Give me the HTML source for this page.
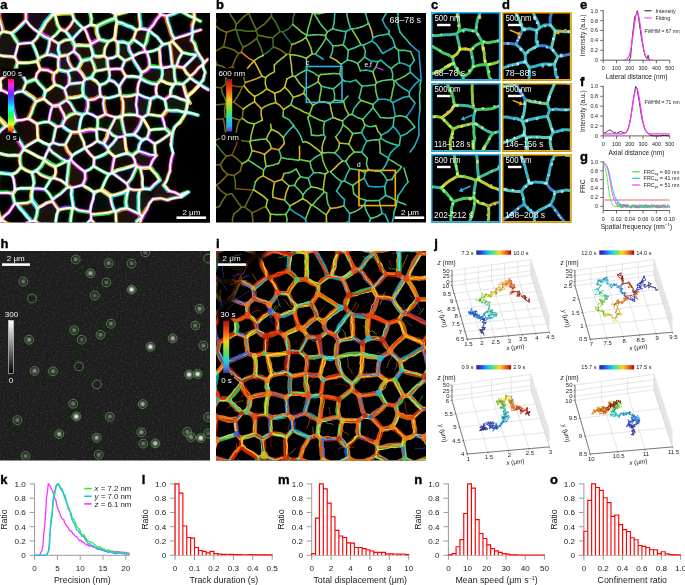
<!DOCTYPE html>
<html><head><meta charset="utf-8"><style>
html,body{margin:0;padding:0;background:#fff;}
svg{display:block;font-family:"Liberation Sans", sans-serif;will-change:transform;}
</style></head><body>
<svg width="685" height="585" viewBox="0 0 685 585">
<rect x="0" y="0" width="685" height="585" fill="#fff"/>
<defs>
<filter id="blur05" x="-10%" y="-10%" width="120%" height="120%"><feGaussianBlur stdDeviation="0.5"/></filter>
<filter id="blur04" x="-10%" y="-10%" width="120%" height="120%"><feGaussianBlur stdDeviation="0.4"/></filter>
<filter id="blur06" x="-50%" y="-50%" width="200%" height="200%"><feGaussianBlur stdDeviation="0.7"/></filter>
<filter id="blur2" x="-10%" y="-10%" width="120%" height="120%"><feGaussianBlur stdDeviation="2.0"/></filter>
<filter id="blur1" x="-10%" y="-10%" width="120%" height="120%"><feGaussianBlur stdDeviation="1.2"/></filter>
<filter id="noise" x="0" y="0" width="100%" height="100%"><feTurbulence type="fractalNoise" baseFrequency="0.55" numOctaves="1" seed="3"/><feColorMatrix type="matrix" values="0 0 0 0 1  0 0 0 0 1  0 0 0 0 1  1.2 0 0 0 -0.55"/></filter>
</defs>
<clipPath id="cpa"><rect x="0" y="13" width="210" height="209.5"/></clipPath>
<rect x="0.00" y="13.00" width="210.00" height="209.50" fill="#000" stroke="none" stroke-width="1" />
<g clip-path="url(#cpa)">
<g filter="url(#blur2)"><path d="M27.8,19.9 L39.5,30.8 L51.6,14.1 L50.7,12.8 L36.9,6.8 L27.8,13.3Z" fill="#301830" opacity="0.55"/><path d="M50.4,37.4 L41.5,32.3 L41.5,32.2 L53.6,15.6 L54.4,16.0 L59.2,29.2 L51.0,37.3Z" fill="#3a2010" opacity="0.44"/><path d="M13.4,55.3 L-1.4,53.3 L-0.7,36.7 L3.2,33.7 L10.6,35.3 L16.4,44.4Z" fill="#2a2a10" opacity="0.49"/><path d="M57.9,56.4 L47.7,53.9 L50.6,40.4 L51.2,40.4 L58.0,44.5 L59.2,55.3Z" fill="#3a2010" opacity="0.59"/><path d="M66.9,54.1 L72.3,50.7 L73.5,45.9 L71.0,40.9 L70.5,40.6 L59.6,44.3 L60.8,55.1Z" fill="#2a2a10" opacity="0.54"/><path d="M15.6,63.0 L14.2,67.6 L0.7,77.4 L-6.1,70.8 L-3.6,57.4 L-1.8,56.0 L13.0,58.0Z" fill="#2a2a10" opacity="0.40"/><path d="M67.6,70.4 L59.9,68.6 L59.9,58.5 L61.1,57.4 L67.2,56.5 L72.0,68.4Z" fill="#3a2010" opacity="0.53"/><path d="M67.1,72.7 L68.3,83.1 L64.4,87.5 L56.1,83.8 L55.5,74.2 L59.4,70.9Z" fill="#301830" opacity="0.36"/><path d="M24.7,82.0 L16.0,70.1 L2.5,79.9 L3.1,88.6 L12.1,93.2 L21.6,89.7Z" fill="#3a2010" opacity="0.36"/><path d="M66.5,30.8 L73.8,20.8 L81.3,28.3 L72.2,38.0 L71.7,37.8Z" fill="#3a2010" opacity="0.55"/><path d="M81.9,59.7 L75.0,51.4 L76.3,46.6 L89.2,46.6 L91.6,55.0 L89.8,57.9Z" fill="#3a2010" opacity="0.44"/><path d="M107.0,42.5 L103.5,54.3 L94.1,54.3 L91.7,45.9 L92.5,44.5 L99.7,40.5Z" fill="#3a2010" opacity="0.53"/><path d="M127.9,45.1 L118.7,43.7 L118.7,54.7 L124.7,59.3 L131.1,56.6 L131.7,55.5Z" fill="#3a2010" opacity="0.43"/><path d="M90.7,76.5 L85.3,77.7 L78.9,68.9 L82.4,62.1 L90.3,60.2 L94.0,70.5Z" fill="#3a2010" opacity="0.58"/><path d="M106.9,67.8 L106.3,59.5 L103.5,56.7 L94.1,56.7 L92.3,59.5 L95.9,69.8Z" fill="#3a2010" opacity="0.55"/><path d="M68.6,72.5 L69.8,82.9 L81.7,81.6 L83.3,79.2 L76.9,70.4 L73.0,70.5Z" fill="#301830" opacity="0.44"/><path d="M134.5,39.6 L137.0,31.7 L140.3,30.5 L147.6,31.6 L147.6,31.7 L143.5,45.9Z" fill="#3a2010" opacity="0.45"/><path d="M174.6,42.1 L183.0,51.6 L194.6,53.7 L202.6,51.8 L201.5,36.6 L198.7,32.3 L176.0,39.9Z" fill="#3a2010" opacity="0.41"/><path d="M173.0,43.6 L181.4,53.1 L176.5,64.6 L174.5,65.1 L172.8,64.6 L170.4,45.1Z" fill="#3a2010" opacity="0.60"/><path d="M142.2,77.1 L143.5,73.0 L150.3,67.9 L160.1,68.6 L160.8,69.1 L160.0,79.5 L156.2,82.8 L142.6,78.1Z" fill="#3a2010" opacity="0.44"/><path d="M184.7,67.6 L195.3,56.8 L203.4,54.9 L204.5,56.5 L205.0,60.5 L190.4,74.9Z" fill="#3a2010" opacity="0.39"/><path d="M162.5,79.7 L172.8,83.6 L175.2,82.4 L173.6,68.1 L171.9,67.6 L163.3,69.2Z" fill="#3a2010" opacity="0.55"/><path d="M63.3,89.9 L65.8,97.6 L65.0,99.4 L58.7,103.5 L53.2,104.1 L45.5,98.1 L47.3,91.8 L55.0,86.2Z" fill="#3a2010" opacity="0.44"/><path d="M53.6,107.1 L50.4,120.9 L56.7,125.0 L61.7,124.2 L64.2,118.5 L59.1,106.5Z" fill="#3a2010" opacity="0.30"/><path d="M66.6,101.9 L74.4,112.9 L65.4,117.9 L60.3,106.0Z" fill="#3a2010" opacity="0.58"/><path d="M17.7,122.6 L13.6,126.6 L24.6,146.2 L36.7,138.7 L35.8,125.4 L28.7,120.9Z" fill="#3a2010" opacity="0.42"/><path d="M18.3,153.9 L-0.5,151.3 L-1.3,150.1 L-1.0,136.4 L6.7,128.9 L10.7,128.2 L21.7,147.8 L21.6,148.7Z" fill="#2a2a10" opacity="0.38"/><path d="M50.8,148.9 L50.9,146.0 L53.8,143.9 L64.5,145.7 L70.2,155.1 L69.0,158.5 L67.8,159.3 L65.4,159.6Z" fill="#3a2010" opacity="0.35"/><path d="M66.1,89.0 L68.6,96.7 L81.9,94.6 L81.9,83.4 L70.0,84.6Z" fill="#3a2010" opacity="0.59"/><path d="M91.4,79.6 L86.0,80.9 L84.4,83.4 L84.4,94.6 L88.5,98.5 L99.1,94.9 L98.4,85.7Z" fill="#301830" opacity="0.45"/><path d="M136.5,113.7 L136.5,95.7 L123.1,97.4 L124.1,113.7Z" fill="#0c2a18" opacity="0.55"/><path d="M77.9,130.2 L81.0,116.0 L75.2,114.4 L66.3,119.4 L63.8,125.1 L72.0,130.5Z" fill="#3a2010" opacity="0.49"/><path d="M98.8,128.1 L98.8,118.9 L105.4,115.8 L114.2,118.5 L108.3,130.2 L108.3,130.2Z" fill="#0c2a18" opacity="0.44"/><path d="M123.1,135.3 L117.1,136.2 L109.8,130.9 L115.6,119.3 L120.5,118.5 L123.9,134.2Z" fill="#2a2a10" opacity="0.48"/><path d="M126.4,133.7 L123.0,118.0 L124.1,116.9 L136.5,116.9 L140.9,119.0 L133.8,133.1Z" fill="#3a2010" opacity="0.31"/><path d="M78.3,133.5 L83.2,147.1 L72.3,153.9 L66.6,144.4 L72.2,133.7 L78.1,133.4Z" fill="#2a2a10" opacity="0.33"/><path d="M109.9,150.4 L109.4,147.9 L117.4,138.5 L123.5,137.6 L125.7,152.0 L115.2,155.2Z" fill="#2a2a10" opacity="0.59"/><path d="M138.1,113.7 L142.4,115.7 L142.6,115.7 L147.3,112.8 L149.5,99.7 L138.5,95.4 L138.1,95.7Z" fill="#2a2a10" opacity="0.55"/><path d="M194.2,113.1 L194.9,110.9 L187.1,102.4 L171.0,97.0 L166.2,100.2 L167.9,109.0Z" fill="#0c2a18" opacity="0.56"/><path d="M51.7,203.0 L56.8,210.3 L54.3,223.4 L40.6,222.6 L36.8,219.5 L39.1,208.9Z" fill="#3a2010" opacity="0.50"/><path d="M31.2,201.8 L18.1,204.4 L30.4,219.2 L33.5,218.8 L35.9,208.1Z" fill="#2a2a10" opacity="0.41"/><path d="M67.7,182.9 L69.1,184.8 L72.1,185.8 L81.3,183.2 L83.2,171.9 L71.0,161.8 L69.8,162.6Z" fill="#3a2010" opacity="0.57"/><path d="M113.7,171.6 L113.9,171.7 L133.8,165.0 L131.0,156.9 L126.6,155.0 L116.1,158.1Z" fill="#3a2010" opacity="0.31"/><path d="M101.7,192.2 L109.1,197.2 L112.7,209.8 L93.1,212.8 L92.1,210.7 L95.6,194.1Z" fill="#0c2a18" opacity="0.35"/><path d="M129.6,190.6 L129.3,191.0 L128.0,207.1 L138.9,212.2 L138.9,191.6Z" fill="#3a2010" opacity="0.45"/><path d="M117.9,224.5 L133.4,225.9 L139.8,217.1 L137.7,214.9 L126.7,209.8 L117.2,212.7Z" fill="#3a2010" opacity="0.51"/><path d="M139.3,151.9 L154.0,155.4 L154.3,156.0 L149.1,165.7 L140.9,166.2 L137.8,165.0 L136.9,163.9 L134.2,155.8Z" fill="#3a2010" opacity="0.44"/><path d="M151.4,189.8 L160.7,211.3 L174.9,208.9 L187.2,202.2 L188.9,190.0 L187.1,181.1 L187.0,180.9 L159.8,182.1Z" fill="#3a2010" opacity="0.52"/><path d="M143.3,190.6 L148.9,190.9 L158.2,212.4 L155.5,214.2 L142.6,214.4 L140.5,212.2 L140.5,191.6Z" fill="#2a2a10" opacity="0.42"/></g>
<path d="M193.00,-20.00 L194.00,13.00 L192.60,25.00 L191.50,40.00 L196.00,49.00 L203.40,61.00 L205.00,72.00 L203.00,80.00 L198.60,86.00 L188.00,96.00 L185.50,113.00 L179.50,122.50 L172.30,133.30 L171.00,145.00 L173.00,153.00 L170.00,171.00 L164.00,185.00 L169.00,191.00 L180.00,195.00 L188.00,192.00 L181.00,197.00 L167.50,200.00 L153.00,199.00 L147.00,209.00 L140.00,223.00 L138.00,250.00 L260.00,250.00 L260.00,-20.00 L193.00,-20.00" stroke="none" stroke-width="0" fill="#000" />
<g fill="none" stroke-linecap="round" stroke-linejoin="round" stroke-width="5" opacity="0.25" filter="url(#blur2)"><path stroke="#30a040" d="M179.5 10.7l5.3 2.6 5.1 2.9 5.5 2.3 5.2 2.8M-41.5 475.5l1.3 -4.9 0.6 -5.1 0.9 -5 0.5 -5.1 0.8 -5 1.4 -4.9 0.5 -5.1 1 -5 0.9 -4.9 0.8 -5.1 1.2 -4.9 0.9 -5 1.3 -5 0.6 -5 1 -5 0.7 -5 1.1 -5 0.6 -5.1 0.8 -5 1.5 -4.9 0.8 -5 0.8 -5 0.7 -5.1 0.5 -5 0.8 -5.1 0.8 -5 0.7 -5 1.4 -4.9 0.5 -5.1 1.3 -4.9 0.4 -5.1 1.3 -5 0.7 -5 0 -5.1 1 -5 1.5 -4.9 0.4 -5.1 1.2 -5 0.3 -5.1 0.5 -5.1 1.2 -4.9 0.9 -5 0.4 -5.1 0.6 -5.1 1 -4.9 1.3 -5 0.6 -5 0.2 -5.1 0.9 -5.1 0.6 -5 1.1 -5M1.3 219.8l-0.2 -0.2M115.6 211.6l0.4 7 0.4 6.9M0.8 219.4l-1.9 -4.8 -1.1 -5 -1.4 -4.9 -1.8 -4.8 -2.2 -4.6M94.1 5.1l5.5 1.8 5.1 2.9 5.5 1.7 5.1 2.6M-3.4 11l1.7 1.3M190.2 76.3l-4 -3.8 -2.7 -4.8M80.9 228.1l-4.9 -2.6 -5.5 -1.3M70.5 224.2l0.4 -5.6 0.9 -5.5 1 -5.5M73.2 207.3l-0.4 0.3M114.4 210.8l1.2 0.8M69.3 -34.4l-1.9 5.1 -1.1 5.4 -1.8 5.1 -1.4 5.3 -1.9 5.1 -2.1 5 -2 5.1 -2.3 5 -2.1 5M2.8 31.4l8.6 1.9M-4.2 171l2.3 2.1M-4.3 192.4l0.8 -6.4 1.5 -6.4 0.1 -6.5M-7.7 112.1l4.5 4.8 4.8 4.4 4.6 4.8M190.2 76.3l0 1.6M176.6 66.1l-2.3 0.6M182.8 84.4l-6.7 -1M58.4 209.8l-1.8 5 -0.7 5.2 -0.5 5.3M179.5 10.7l-6.3 3 -6.7 2.2M166.5 15.9l1.2 5.9 2 5.7 1.7 5.8 2.7 5.5M157 8.7l4 5.7M169.4 43.1l3.1 -1.7M115.7 14.7l5.1 -1.4 5.2 -1.3 4.9 -2.3 4.8 -2.3M138.1 8.8l0.8 4.9 0.4 5 0.7 5 0.2 5M74 19.4l4.3 4.5 4.6 4.4M72.2 39.7l-0.6 -0.3M65.5 31.2l-5.1 -1.9M10.9 125.2l2.1 4.9 2.7 4.5 2.5 4.7 2.9 4.4 2.7 4.5M10.9 125.2l4.9 -4.7M173.3 84.9l-2.7 5.2 -0.3 5.8M164.7 99.7l1.1 5.1 0.9 5.3M156 155.6l-0.4 -0.6M126.8 208.2l-0.8 -6.4 0.8 -6.3 1.6 -6.2M114.4 210.8l-2.2 -4.8 -1.3 -4.9 -0.8 -5.2M149.8 167.1l-9.6 0.6M128.4 189.3l0.4 -0.5M162.1 68l0.3 6.2 -1.2 6.1M141.8 72.6l-1.6 4.8M173.3 84.9l-6.3 -1.6 -5.8 -3M137.8 93.8l-0.2 -5.3 1 -5 2.2 -4.9M143.9 46.9l1.4 4.7M117.8 42.4l5.6 -0.3 5.2 2M117.8 42.4l0.4 6.4 -0.4 6.5M146.9 52.3l-1.6 -0.7M132.4 57.5l3 5.1 3.2 5 3.2 5M148.7 30.1l-1.2 5.7 -1.2 5.7 -2.4 5.4M140.2 28.7l-3.9 1.4M93.1 55.5l-1.1 -5 -1.7 -4.9M115.7 14.7l-0.3 3.4M107.4 58.8l-3.3 -3.3M75.1 45.6l-1.5 5.6M148.2 114.2l6.9 1.1 6.9 0.9M142.6 117.7l3.7 6.2 3.4 6.3M149.7 130.2l5.2 -1 5.2 -0.2 5.2 -0.4M150.7 98.8l-0.6 5.2 -1.1 5.1 -0.8 5.1M122.7 115.3l7.3 -0.6 7.3 0.6M37 123.8l5.9 -1.5 6 -0.5M52.7 142.6l1.2 -5.3 1.1 -5.3 1.3 -5.3M48.9 121.8l7.4 4.9M73.2 207.3l-0.9 -6.4 -1.1 -6.4 0.6 -6.5M110.1 195.9l-4.3 -3 -4.4 -2.8M121.4 116.5l1.3 -1.2M105.4 114.2l-7.9 3.7M60.4 29.3l-4.3 5.3 -5.4 4.3M39.5 33l5 3.5 5.5 2.4M50.7 38.9l-0.7 0M11.5 95.4l5.2 -3.2 6 -1.1M16.1 68.2l4 4.2 3.7 4.5 2.6 5.2M22.7 91.1l3.7 -9M12 174.6l5.1 -2.8 3.8 -4.5M15 189.6l5.8 -1.4 6 0.2 5.9 -0.3M-2.2 152.4l5.3 1.9 5.5 1.1 5.6 -0.2 5.6 0.3M32.7 188.1l0.2 0.2M16.7 203.8l5.2 -0.6 5.2 -0.4 4.9 -2.1M34.8 220.7l1.9 -6.2 0.9 -6.3M71.8 188l-3.5 -1.2M52.6 199.7l-3.4 -5.7 -4.4 -4.9M82.7 185l2.5 -6.5 -0.3 -6.9M132.3 155.5l6 -4.6M134.1 134.4l-8.7 0.6M142.4 117.7l-1.7 6.1 -2.9 5.5 -3.7 5.1M107.9 148.3l5.1 -5.2 4.3 -5.7M97.5 117.9l0.2 5.3 -0.2 5.4M96.4 130.2l-5.9 -0.9 -5.7 1.1 -5.7 1.5M75.7 113.1l-5.8 2.1 -4.7 3.8M62.3 125.7l2.9 -6.7M86.5 112.7l-4 2.4M94.1 158.1l-0.5 8M114.8 156.9l-1.3 5.2 -0.9 5.3 -0.6 5.4M112 172.8l-3.2 1.5M85.3 148l4 5.4 4.8 4.7M112.2 172.9l-0.2 -0.1M119.1 86.8l3.2 -5.3 3.6 -5.1M99.7 85.1l5.1 -1.8 4.4 -3.3M95.2 70.9l6.6 -0.9 6.4 -1.4M83.1 95.6l-0.7 -6.6 0.8 -6.6M17.7 62.7l6.5 0.3 6.5 -0.4 6.5 -1.1M40.3 69.5l-3.1 -8M66.4 161l-4.8 -2.5 -4.3 -3.1 -4.4 -2.9 -3.7 -4M67.5 98.1l-3 -9.1M58.6 57.7l-0.3 5.9 0.3 5.9M72.9 69.3l-5.2 2.3M69.2 83.8l0.4 -6.2 -1.9 -6M44.3 159l0.1 0.9M193 -20l0.2 5.5 0.1 5.5 0.4 5.5 0.3 5.5 0.1 5.5 -0.1 5.5M185.5 113l-2.9 4.8 -3.1 4.7M167.5 200l-7.2 -1.8 -7.3 0.8"/><path stroke="#a04010" d="M159.5 180l-5.2 4.3 -4.7 4.8M18.1 227.7l-5.8 -2.2 -5.8 -2.1 -5.2 -3.6M-259.4 238.6l4.9 -0.7 5.1 0.5 5 -1.1 5 -0.3 5 0.1 5 -0.7 5 -0.4 5 -0.5 5 -0.4 5 0.1 5 -0.6 5 -0.1 5 -0.5 5 -0.3 5.1 0.1 4.9 -0.8 5 -0.3 5.1 -0.1 4.9 -0.9 5 -0.4 5.1 0.3 5 -0.5 5 -0.8 5 -0.5 5 0.2 5 -0.2 5 -1.1 5 0.3 5 -0.4 5 -0.6 5 -0.6 5 -0.6 5 -0.5 5 0.5 5 -1 5 0 5 -0.8 5 0.1 5 -0.6 5 -0.6 5 -0.5 5 0.1 5 -1 5 -0.2 5 -0.1 5.1 -0.1 5 -0.6 4.9 -0.7 5.1 0.1 4.9 -1 5 -0.6 5.1 0.1M120.8 -256.4l0.2 5.1 -0.7 5 0.5 5 -0.7 5 0 5 0.1 5 -0.6 5 0 5 -0.2 5 -0.5 5 0.5 5 0.1 5 -0.4 5 -0.5 5 0.3 5.1 -0.1 5 -0.8 5 0.1 5 0.1 5 -0.6 5 0.4 5 -0.4 5 0.3 5 -0.3 5 -0.5 5 -0.2 5 -0.1 5 0.4 5.1 -0.3 5 0.2 5 0 5 -0.4 5 -0.4 5 -0.1 5 0.1 5 -0.3 5 0.5 5 0 5.1 -0.3 5 0.1 5 0 5 -0.2 5 -0.3 5 0.1 5 0.1 5 -0.6 5 -0.1 5 0.4 5 0.3 5.1 0 5 -0.9 5 0.7 5 -0.6 5 0.1 5M207.4 59.3l-3.9 4.6 -4.8 3.8 -3.9 4.7 -4.6 3.9M90.1 211.8l1.2 2.5M57 226.8l6.8 -1 6.7 -1.6M96.2 225.3l-5.3 -5.5M114.4 210.8l-5.7 1.7 -5.7 0.8 -5.8 0.6 -5.9 0.4M52.7 11.7l-5.5 -2.2 -5.4 -2.3 -5.3 -2.6M39.5 32.9l-5.3 -3.5 -4.6 -4.3 -3.8 -5M25.8 12.3l0 7.8M6.2 126.1l-4.8 4.1 -4.2 4.6M183.5 67.7l-6.9 -1.6M182.4 52.5l-3.6 6.5 -2.2 7.1M190.2 77.9l-7.4 6.5M190.2 77.9l4.4 3.3 4.5 2.8 4.4 3.2 4.7 2.6M182.8 84.4l1.7 6.1 1.7 6.1 3.1 5.7M28.4 330.9l0.3 -5.1 0.7 -5 1.3 -5 0.5 -5.1 0.6 -5.1 -0.2 -5.1 0.6 -5.1 0.7 -5 0.7 -5.1 0.7 -5 0.1 -5.2 0.9 -5 0.1 -5.1 0.5 -5.1 1 -5 0.3 -5.1 0.5 -5.1 0.2 -5.1 0.5 -5.1 0.2 -5.1 0.7 -5M55.4 225.3l-5.3 -1.1 -5.4 -0.5 -5.4 0.7M159.5 180l-2.6 -4.8 -3.7 -3.9 -3.4 -4.2M53.7 13.3l1 0.4M75 9l-3.2 3.9M200.8 29.8l-5.4 1.6 -5.2 2.3 -5.3 1.8 -5.4 1.7 -5.4 1.6M166.5 15.9l-5.5 -1.5M115.3 14.1l0.4 0.6M72.2 39.7l3.4 -4 3.5 -3.8 3.8 -3.6M75.1 45.6l5 -0.2 5.1 0.4 5.1 -0.2M82.9 28.3l1.4 -0.1M84.3 28.2l2.5 5.2 1.8 5.4 2.6 5.1M89.7 9l1 5.1 1 5.1 -0.7 5.2M91 24.4l-6.7 3.8M74 19.4l-3.6 6.4 -4.9 5.4M71.6 39.4l-3.1 -4.1 -3 -4.1M54.7 13.7l1.5 5.3 1.4 5.4 2.8 4.9M38.1 139.4l-4.9 2.8 -4.8 2.9 -4.6 3.1M37 123.8l0.4 5.2 0.1 5.2 0.6 5.2M170.3 95.9l-5.6 3.8M110.1 195.9l6.4 -1.5 6.2 -1.9 5.7 -3.2M140.2 167.7l-3.7 -1.4M140.2 167.7l1.2 5.2 1.1 5.2 -0.2 5.4 0.7 5.3M136.5 166.3l-2.6 6.1 -2.8 6.1 -4.3 5.2M139.7 189.9l3.3 -1.1M139.7 189.9l-5.5 -0.2 -5.4 -0.9M149.6 189.1l-6.6 -0.3M162.1 68l-0.8 -0.6M156.8 84.2l4.4 -3.9M149.8 66.6l-3.5 3.7 -4.5 2.3M140.8 78.6l-0.6 -1.2M172.3 66.1l-5.1 1.1 -5.1 0.8M146.9 52.3l2.3 6.9 0.6 7.4M156.8 96l-0.9 -5.9 0.9 -5.9M156.8 96l-6.1 2.8M133.1 56.2l-3.4 -5.6 -1.1 -6.5M143.9 46.9l-5.3 -3.8 -5.3 -3.7M133.3 39.4l-4.7 4.7M132.4 57.5l0.7 -1.3M117.8 55.3l7.1 5.4M136.3 30.1l-3 9.3M99.7 39.3l8.6 2.3M99.7 39.3l-2.5 -6.4 -0.3 -6.9M96.9 26l4.4 -2.4 4.6 -2 4.7 -1.9 4.8 -1.6M114.3 39.1l-6 2.5M115.4 18.1l1.7 3.8M104.1 55.5l0.8 -7.4 3.4 -6.5M91 24.4l5.9 1.6M107.4 58.8l5.5 -1 4.9 -2.5M73.6 51.2l4.9 4.2 3.2 5.6M90.9 58.9l-9.2 2.1M6.2 126.1l4.7 -0.9M11.5 95.4l-5.2 -3 -5.4 -2.5M-7.8 71.9l3.7 4.2 4.2 3.6M18.1 227.7l6.4 -3.5 6.7 -3M16.7 203.8l3.1 4.7 3.9 4.1 3.5 4.5 4 4.1M31.2 221.2l3.6 -0.5M12 174.6l1.7 4.8 0.7 5.1 0.6 5.1M148.2 114.2l-5.6 3.5M154.7 143.9l-7.8 -5.4M170.3 133.6l-5 -5M146.9 138.5l2.8 -8.3M121.5 96.1l5.4 0.4 5.3 -0.8 5.1 -1.5M121.5 96.1l1.7 6.3 0.1 6.5 -0.6 6.4M142.4 117.7l0.2 0M142.4 117.7l-5.1 -2.4M38.1 139.4l5.4 3.2 5.9 2.5M71.8 188l5.4 -1.5 5.5 -1.5M94.2 192.2l7.2 -2.1M105.4 114.2l-1.4 -5.3 -0.8 -5.4 0.8 -5.5M105.4 114.2l5.1 1.7 5.1 1.5M86.5 112.7l1.6 -6.2 -0.1 -6.4M88 100.1l6.7 -0.8 5.7 -3.3M58.7 43.7l-8 -4.8M39.5 32.9l0 0.1M11.4 33.3l3.4 5.4 3.5 5.3M39.5 33l-2.9 5.3 -4.3 4.4M14.7 56.8l3 5.9M28.7 118.5l2.8 -5.5 1.9 -6 2.8 -5.6M32.7 188.1l1.2 -5.2 -0.8 -5.1 -1.3 -5M20.9 167.3l5.2 3.2 5.7 2.3M20.9 167.3l-1.3 -5.8 0.2 -6M23.8 148.2l-0.1 1.1M23.7 149.3l-3.9 6.2M32.9 188.3l-1.2 6.1 0.3 6.3M68.3 186.8l-3.8 3.4 -3.7 3.6 -4.2 2.8 -4 3.1M68.3 186.8l-1.6 -2.2M70.6 159.8l-1.4 0.9M69.2 160.7l-0.8 6 -0.6 5.9 -0.8 6 -0.3 6M132.3 155.5l-5.2 -2.3M142.1 140l-8 -5.6M155.6 155l-6 -0.4 -5.6 -1.9 -5.7 -1.8M121.4 116.5l1.2 6.2 1.1 6.2 1.7 6.1M115.6 117.4l-2.1 4.7 -2.4 4.5 -2.3 4.6M108.8 131.2l3.6 3.9 4.9 2.3M117.3 137.4l7.2 -1.2M108.8 131.2l-5.6 -1.4 -5.7 -1.2M97.5 128.6l-1.1 1.6M96.4 130.2l0.4 5.3 0.5 5.3M97.3 140.8l6.4 2.9M107.9 148.3l-4.2 -4.6M108.8 131.2l0 0M84.8 147.9l-4.3 2.5 -4.4 2.4 -4 3M71.9 132.1l-3.2 6.3 -3.4 6.3M65.3 144.7l2.6 6.1 4.2 5M85.3 148l6.3 -3.1 5.7 -4.1M52.7 142.6l6.2 2.1 6.4 0M82.5 115.1l-1.9 5.4 -1 5.6 -0.7 5.6M94.1 158.1l5.1 -1.6 4.8 -2.3 4.5 -2.9M93.6 166.1l5 2.9 5 2.8 5.2 2.5M114.8 156.9l-6.3 -5.6M84.9 171.6l4.8 -2.1 3.9 -3.4M101.4 190.1l2.2 -5.4 2.4 -5.3 2.8 -5.1M124.9 60.7l-3.2 8.3M99.7 85.1l-3.6 -4.2 -4.7 -2.9M109.2 80l0.5 -5.2 -0.5 -5.3M108.2 68.6l1 0.9M100.4 96l-0.6 -5.5 -0.1 -5.4M90.9 58.9l2.6 5.8 1.7 6.2M81.7 61l-4.2 8.1M121.7 69l-6.3 -0.4 -6.2 0.9M32.3 42.7l2.4 5.1 2.1 5.3 1.8 5.4M50 38.9l-0.6 5.4 -1.1 5.3 -1.7 5.2M35.5 79l-9.1 3.1M35.5 79l1.2 -5.4 3.6 -4.1M49.4 145.1l-0.2 3.4M69.2 160.7l-2.8 0.3M23.7 149.3l5.2 2.3 5 2.7 5 2.8 5.4 1.9M49.2 148.5l-2.8 5.1 -2.1 5.4M65.2 119l-1.4 -4.9 -2.6 -4.5 -2.1 -4.7M59.1 104.9l-6.4 0.8M36.2 101.4l7.4 -2.8M52.7 105.7l-4.7 -3.4 -4.4 -3.7M35.5 79l3 4.4 3.7 3.8 3.5 4M45.7 91.2l4.8 -2.8 4.3 -3.7M40.3 69.5l7.2 0.7 6.5 3.2M54 73.4l-0.5 5.7 1.3 5.6M54.8 84.7l5.1 1.6 4.6 2.7M83.2 82.4l-7 0.7 -7 0.7M69.2 83.8l-4.7 5.2M58.6 69.5l9.1 2.1M46.6 54.8l6.2 0.7 5.8 2.2M73.6 51.2l-6.3 4.1M54 73.4l4.6 -3.9M77.5 69.1l-4.6 0.2M55.3 166.6l-5.8 -2.8 -5.1 -3.9M55.3 166.6l0.5 5.7 -1.8 5.5M51 178.9l3 -1.1M66.4 161l-5.4 3.1 -5.7 2.5M31.8 172.8l4.4 -1.8M194 13l0.6 6.1 -2 5.9M192.6 25l-0.3 5 0.1 5 -0.9 5M191.5 40l3 4.1 1.5 4.9M196 49l3.5 6.1 3.9 5.9M198.6 86l-5 5.4 -5.6 4.6M179.5 122.5l-4.8 4.6 -2.4 6.2M173 153l-1.8 5.9 -1 6 -0.2 6.1M170 171l-1.7 4.8 -1.6 4.8 -2.7 4.4M169 191l5.7 1.3 5.3 2.7M180 195l8 -3M188 192l-7 5M181 197l-6.8 1.1 -6.7 1.9M147 209l-2.8 4.4 -2.5 4.6 -1.7 5"/><path stroke="#a02080" d="M142.2 216.8l-5 4.3 -2.5 6.1M139.7 214.2l2.5 2.6M139.7 214.2l-6.5 -3 -6.4 -3M16.7 7.5l-5.8 2.7 -6.3 1.2 -6.3 0.9M-65.4 35.9l5.3 0 5.3 -0.5 5.3 -0.9 5.3 0.1 5.3 0 5.3 0.1 5.2 -0.5 5.3 0.2 5.3 0.4 5.3 0 5.3 0.3 5.3 -0.2M-1.7 12.3l1 6.5 1.9 6.2 1.6 6.4M196 55l-4.1 4.3 -4.2 4.2 -4.2 4.2M90.9 219.8l0.4 -5.5M53.7 13.3l-3.9 4.6 -4.1 4.5 -2.8 5.4 -3.4 5.1M36.5 4.6l-6.3 2.6 -4.4 5.1M11.4 33.3l5.1 -4.1 4.7 -4.5 4.6 -4.6M-1.9 34.9l-0.4 6.5 -0.3 6.6 -0.1 6.5M176.1 83.4l-1.5 -5.5 -0.4 -5.6 0.1 -5.6M149.8 167.1l2.5 -6.1 3.7 -5.4M182.4 52.5l-4.9 -5.6 -5 -5.5M172.3 66.1l2 0.6M172.3 66.1l-0.7 -5.8 -0.6 -5.7 -0.7 -5.7 -0.9 -5.8M174.1 38.8l-1.6 2.6M148.7 30.1l4.5 -4.9 3.5 -5.7 4.3 -5.1M148.7 30.1l-8.5 -1.4M72.2 39.7l2.9 5.9M37 123.8l-8.3 -5.3M28.7 118.5l-6.4 1.4 -6.5 0.6M1.1 219.6l3.7 -3.9 4.2 -3.5 3 -4.4 2.9 -4.5M189.3 102.3l-4.5 -2.3 -4.8 -1.4 -4.7 -2 -5 -0.7M166.7 110.1l5.3 0.3 5.3 -0.1 5 1.4 5.2 0.6 5.1 1.1 5 1.4M154.7 143.9l0.4 5.5 0.5 5.6M112.2 172.9l4.9 3.5 4.9 3.6 4.8 3.7M148.7 30.1l0 0M148.7 30.1l3.8 3.3 4.1 3 3.1 4 3.2 3.9M156.8 84.2l-5.8 -0.8 -5.2 -2.1 -5 -2.7M159.4 48.4l0.8 6.3 0.3 6.4 0.8 6.3M146.9 52.3l6.4 -1.4 6.1 -2.5M156.8 96l7.9 3.7M133.1 56.2l5.9 -2.8 6.3 -1.8M114.3 39.1l0.9 -5.7 0.5 -5.8 1.4 -5.7M91.2 43.9l8.5 -4.6M117.8 42.4l-3.5 -3.3M93.1 55.5l-2.2 3.4M15.8 120.5l-1.5 -4.9 -1.2 -5 -0.9 -5 -0.7 -5.1 0 -5.1M0.9 89.9l-0.1 -5.1 -0.7 -5.1M14.9 203.3l1.8 0.5M39.3 224.4l-4.5 -3.7M165.3 128.6l-1.3 -6.3 -2 -6.1M166.7 110.1l-4.7 6.1M137.3 94.2l-0.7 5.2 -0.6 5.3 1 5.3 0.3 5.3M137.8 93.8l-0.5 0.4M90.1 211.8l1.1 -6.6 2.1 -6.3 0.9 -6.7M115.6 117.4l5.8 -0.9M121.5 96.1l-1.5 -1.3M120 94.8l-5.2 1.7 -5.3 1.4 -5.5 0.1M97.5 117.9l-5.2 -3.2 -5.8 -2M71.6 39.4l-6.9 1 -6 3.3M32.3 42.7l-7 0.5 -7 0.8M18.3 44l-1.7 6.4 -1.9 6.4M16.1 68.2l-5.3 3.8 -5.5 3.6 -5.2 4.1M16.1 68.2l1.6 -5.5M36.2 101.4l-4 -4.1 -4.8 -3.1 -4.7 -3.1M52.3 201.3l0.3 -1.6M32.9 188.3l6 0.2 5.9 0.6M70.6 159.8l4.5 4.3 4.8 4 5 3.5M127.1 153.2l-1.5 -5.5 -0.5 -5.7 -0.6 -5.8M135.5 165l-0.8 -5 -2.4 -4.5M108.8 131.2l-1.5 6.7 -3.6 5.8M71.9 132.1l7 -0.4M78.9 131.7l0.2 0.2M85.3 148l-0.5 -0.1M56.3 126.7l6 -1M62.3 125.7l4.5 3.6 5.1 2.8M140.2 77.4l-7.1 -1.2 -7.2 0.2M121.7 69l4.2 7.4M119.1 86.8l-4.2 -4.5 -5.7 -2.3M85 79.4l6.4 -1.4M77.5 69.1l4.2 4.8 3.3 5.5M37.2 61.5l1.4 -3M75.7 113.1l-2.7 -4.5 -2.6 -4.7 -3.9 -3.7M59.1 104.9l7.4 -4.7M48.9 121.8l0.7 -5.5 1.2 -5.4 1.9 -5.2M83.1 95.6l-5.1 1.6 -5.2 0.8 -5.3 0.1M67.5 98.1l-1 2.1M60.1 56.4l-1.5 1.3M60.1 56.4l7.2 -1.1M58.7 43.7l-0.7 6.5 2.1 6.2M51 178.9l-5.4 -1.8 -5.1 -2.3 -4.3 -3.8M66.7 184.6l-5.9 -4.3 -6.8 -2.5M203.4 61l-0.6 5.7 2.2 5.3M205 72l-2 8M203 80l-4.4 6M172.3 133.3l-0.9 5.8 -0.4 5.9M171 145l2 8M164 185l5 6M153 199l-3.7 4.6 -2.3 5.4M140 223l-0.9 5.4 -1 5.3 -0.4 5.4 -0.1 5.4 0.4 5.5"/><path stroke="#2080a0" d="M0.8 219.4l0.3 0.2M126.8 208.2l-5.8 0.9 -5.4 2.5M-1.9 34.9l4.7 -3.5M80.9 228.1l5.2 -3.9 4.8 -4.4M73.2 207.3l5.3 2.8 5.8 1 5.8 0.7M52.7 11.7l1 1.6M16.7 7.5l4.3 2.8 4.8 2M196 55l-6.8 -1 -6.8 -1.5M72.8 207.6l-7.3 0.6 -7.1 1.6M71.8 12.9l-5.7 -0.1 -5.7 0.5 -5.7 0.4M90.3 45.6l0.9 -1.7M74 19.4l-2.2 -6.5M-4.3 192.4l5.7 0.5 5.6 -0.1 5.6 0.9M14.9 203.3l-2.3 -9.6M176.1 83.4l-2.8 1.5M154.7 143.9l5.5 -3.1 5.1 -3.5 5 -3.7M128.8 188.8l-2 -5.1M135.5 165l1 1.3M135.5 165l-5.8 2 -5.8 1.9 -6 1.5 -5.7 2.5M139.7 214.2l-1 -6.1 0.2 -6 -0.2 -6.1 1 -6.1M169.4 43.1l-6.5 1.2M161.3 67.4l-5.8 -0.4 -5.7 -0.4M162.9 44.3l-3.5 4.1M150.7 98.8l-6.7 -1.9 -6.2 -3.1M124.9 60.7l7.5 -3.2M104.1 55.5l-5.5 1 -5.5 -1M136.3 30.1l-4.3 -3.2 -5 -1.6 -4.7 -2.3 -5.2 -1.1M-2.2 92.2l3.1 -2.3M-1.9 173.1l6.9 0.7 7 0.8M12.6 193.7l2.4 -4.1M49.4 145.1l3.3 -2.5M82.7 185l5.9 3.4 5.6 3.8M104 98l-3.6 -2M-2.7 54.5l5.7 1.5 5.9 0.3 5.8 0.5M37.6 208.2l-5.6 -7.5M58.4 209.8l-3.1 -4.2 -3 -4.3M37.6 208.2l4.9 -2.4 4.6 -2.9 5.2 -1.6M138.3 150.9l1.1 -5.7 2.7 -5.2M125.4 135l-0.9 1.2M146.9 138.5l-4.8 1.5M84.8 147.9l-0.9 -5.7 -2.4 -5.1 -2.4 -5.2M82.5 115.1l-6.8 -2M70.6 159.8l1.5 -4M107.9 148.3l0.6 3M127.1 153.2l-6.2 1.6 -6.1 2.1M120 94.8l-0.9 -8M95.2 70.9l-3.8 7.1M83.2 82.4l1.8 -3M88 100.1l-4.9 -4.5M107.4 58.8l0.8 9.8M46.6 54.8l-8 3.7M43.6 98.6l2.1 -7.4M67.3 55.3l0.5 5.2 2.2 4.5 2.9 4.3M36.2 171l4.8 -5 3.4 -6.1M44.8 189.1l3.2 -5 3 -5.2M188 96l-0.4 5.7 -0.5 5.7 -1.6 5.6"/></g>
<g fill="none" stroke-linecap="round" stroke-linejoin="round" stroke-width="3.5" opacity="0.85" filter="url(#blur05)"><path stroke="#33ff55" d="M178.9 10.7l5.3 2.6 5.2 2.9 5.4 2.3 5.2 2.8M-0.1 218.5l0.4 0.2M121.3 -257.2l0.3 5 -0.8 5 0.5 5 -0.7 5 0 5 0.1 5 -0.6 5 0 5 -0.2 5 -0.4 5 0.4 5.1 0.1 5 -0.4 5 -0.5 5 0.3 5 -0.1 5 -0.8 5 0.1 5 0.1 5 -0.6 5 0.4 5 -0.4 5 0.3 5.1 -0.3 5 -0.5 5 -0.2 5 0 5 0.3 5 -0.3 5 0.2 5 0.1 5 -0.5 5 -0.3 5 -0.1 5 0 5 -0.3 5.1 0.5 5 0.1 5 -0.4 5 0.1 5 0 5 -0.2 5 -0.3 5 0.1 5 0.1 5 -0.5 5 -0.2 5 0.4 5.1 0.3 5 0 5 -0.8 5 0.7 5 -0.7 5 0.2 5M-2.1 35.5l4.7 -3.6M-65.9 36.3l5.3 0 5.3 -0.5 5.2 -0.9 5.3 0.1 5.3 0 5.3 0.1 5.3 -0.5 5.3 0.2 5.3 0.4 5.3 0 5.3 0.3 5.3 -0.2M80.7 228.8l5.2 -3.9 4.8 -4.5M70 224.2l0.4 -5.5 0.9 -5.6 0.9 -5.5M72.4 207.3l-0.4 0.3M73.1 207.8l5.3 2.9 5.7 0.9 5.9 0.8M114.1 210.6l1.3 0.9M114.6 211.4l-5.7 1.8 -5.7 0.7 -5.8 0.7 -5.9 0.4M196.9 55.1l-6.9 -0.9 -6.8 -1.5M182.4 52.7l-3.7 6.5 -2.1 7.1M191.1 75.9l0 1.6M182.2 83.5l-6.6 -0.9M176.3 83.3l-1.5 -5.5 -0.4 -5.6 0 -5.7M160.2 179.9l-2.6 -4.8 -3.7 -4 -3.3 -4.2M71.4 40.5l2.9 5.9M89 9.6l1.1 5.1 1 5.1 -0.8 5.2M54.4 14.3l1.5 5.3 1.4 5.4 2.8 4.9M11.4 125.9l4.9 -4.7M-3.4 191.8l5.6 0.4 5.7 -0.1 5.6 1M14.5 204l-2.3 -9.5M175.3 82.9l-2.8 1.4M164.8 99.4l1.2 5.1 0.9 5.3M154.4 143.1l0.3 5.5 0.5 5.5M126 208.5l-0.8 -6.4 0.8 -6.3 1.6 -6.2M137.4 166.2l-2.7 6.2 -2.7 6.1 -4.3 5.2M128.2 190.1l0.4 -0.6M148.4 30.3l0.1 0.1M169.7 43.2l-6.4 1.2M161.5 67.4l-0.8 -0.6M161.8 66.6l-5.7 -0.3 -5.8 -0.5M156.3 83.5l4.5 -3.8M156.9 83.4l-5.7 -0.7 -5.3 -2.1 -5 -2.7M162.7 44l-3.6 4.1M147.5 52.1l6.4 -1.4 6.1 -2.5M133.4 55.8l5.9 -2.9 6.3 -1.7M133.8 40.3l-4.6 4.6M117.9 55.6l7.1 5.5M149.5 29.9l-1.2 5.7 -1.2 5.7 -2.4 5.3M99.4 40.1l8.6 2.3M97.5 26.9l4.4 -2.5 4.6 -2 4.7 -1.9 4.8 -1.5M114.4 38.9l-6 2.5M115 17.8l1.7 3.8M103.9 55.9l0.8 -7.4 3.4 -6.5M90.5 58.1l-9.3 2.1M-8.3 72.7l3.6 4.2 4.3 3.6M148.8 114.5l6.9 1.1 6.9 0.8M148.9 130.4l5.1 -1 5.3 -0.2 5.2 -0.4M171 133.1l-5 -5M122.1 95.5l5.3 0.3 5.3 -0.7 5.1 -1.6M122.4 115l7.3 -0.7 7.3 0.7M137.2 93.1l-0.5 0.4M37.6 123.6l5.9 -1.5 6 -0.4M52.6 142.2l1.2 -5.3 1 -5.3 1.4 -5.3M71.4 39l-6.9 1 -6 3.4M60.1 29.2l-4.3 5.3 -5.4 4.3M11.9 32.5l3.4 5.4 3.4 5.3M15.4 67.8l1.6 -5.4M22.4 91.3l3.7 -9M33.2 187.4l1.1 -5.2 -0.7 -5.1 -1.4 -5M21.7 167.7l-1.3 -5.9 0.2 -6M32.4 187.7l0.1 0.2M35.2 221.5l1.9 -6.2 0.9 -6.3M52.3 200.8l0.3 -1.6M68.4 186.2l-3.8 3.3 -3.7 3.6 -4.2 2.9 -4 3.1M52.9 199.9l-3.3 -5.7 -4.5 -4.8M69.8 160.1l-0.8 6 -0.5 5.9 -0.8 6 -0.4 6M132 155l6 -4.6M133 154.9l-5.2 -2.2M146.2 138.1l-4.8 1.5M120.6 116l1.2 6.2 1.2 6.2 1.6 6.1M115.3 117.5l-2.1 4.7 -2.4 4.5 -2.3 4.6M109.4 131.1l3.6 4 5 2.2M107.9 130.8l-5.6 -1.4 -5.7 -1.1M97.5 128.9l-1.2 1.5M96.4 130.1l0.5 5.3 0.5 5.3M108.8 130.9l0 0M97.4 117.1l0.3 5.4 -0.3 5.4M75.2 112.6l-5.7 2.1 -4.8 3.8M86.4 112.3l-4.1 2.3M94 166.5l5 2.9 5 2.8 5.2 2.5M85.8 171l4.8 -2.2 3.9 -3.4M101.2 190l2.3 -5.4 2.4 -5.3 2.8 -5.1M100 85.2l5.2 -1.8 4.4 -3.2M94.6 71.1l-3.8 7.1M108.9 80.5l0.6 -5.3 -0.6 -5.3M91.7 59.2l2.6 5.9 1.7 6.1M106.6 58.5l0.8 9.8M36 79.7l-9.1 3.1M38.1 62.2l1.4 -2.9M68.4 161.6l-2.8 0.3M66.3 161.5l-4.8 -2.5 -4.3 -3.1 -4.4 -3 -3.7 -3.9M75.9 112.7l-2.7 -4.6 -2.6 -4.6 -3.8 -3.8M58.8 104.5l7.4 -4.8M35.6 78.2l3 4.4 3.7 3.8 3.4 4M54.6 84.6l5.1 1.6 4.6 2.8M56.1 165.8l-5.8 -2.8 -5.1 -3.8M50.5 178l3 -1.1M50.7 178.2l-5.4 -1.8 -5.1 -2.3 -4.3 -3.8M36.9 171.3l4.8 -5 3.3 -6M65.5 161l-5.4 3.1 -5.7 2.5M43.5 158.4l0.1 0.9M44.8 188.9l3.2 -5.1 3 -5.2M192 39.5l3.1 4.1 1.4 4.9M203.8 61.7l-0.6 5.7 2.2 5.3M205.1 72.8l-2 8M202.4 80.4l-4.4 6M170.7 144.3l2 8M179.2 194.9l8 -3M180.3 196.8l-6.9 1.1 -6.6 1.9"/><path stroke="#33ffff" d="M160 180.4l-5.2 4.2 -4.6 4.9M141.7 216.6l-5 4.3 -2.5 6.1M-260.2 238.1l4.9 -0.8 5.1 0.5 5 -1.1 5 -0.3 5 0.2 5 -0.8 5 -0.4 5 -0.5 5 -0.4 5 0.1 5 -0.6 5 -0.1 5 -0.5 5 -0.3 5.1 0.1 4.9 -0.8 5.1 -0.3 5 -0.1 4.9 -0.9 5 -0.4 5.1 0.3 5 -0.4 5 -0.9 5 -0.4 5 0.1 5 -0.2 5 -1 5 0.3 5 -0.5 5 -0.6 5 -0.5 5 -0.7 5 -0.4 5 0.4 5 -1 5 0 5 -0.8 5.1 0.2 4.9 -0.6 5 -0.7 5 -0.5 5.1 0.1 4.9 -1 5 -0.2 5.1 -0.1 5 -0.1 5 -0.6 4.9 -0.7 5.1 0.2 4.9 -1.1 5 -0.5 5.1 0M195.9 55.1l-4.1 4.3 -4.2 4.2 -4.2 4.2M80.6 228.6l-5 -2.7 -5.4 -1.3M90.3 212.6l1.2 2.5M52.9 12.7l-4 4.6 -4 4.6 -2.9 5.4 -3.4 5M11.9 33.8l5 -4.1 4.7 -4.5 4.6 -4.6M-5.1 170.8l2.3 2.1M5.6 125.8l-4.8 4.1 -4.2 4.7M190.4 77.7l-7.5 6.4M189.8 77.1l4.3 3.3 4.6 2.8 4.3 3.2 4.8 2.6M58.5 210l-1.7 5 -0.8 5.2 -0.4 5.2M29 330.2l0.3 -5.1 0.7 -5.1 1.3 -5 0.5 -5.1 0.6 -5 -0.2 -5.2 0.6 -5 0.8 -5.1 0.6 -5 0.8 -5.1 0 -5.1 0.9 -5.1 0.1 -5.1 0.5 -5.1 1 -5 0.3 -5.1 0.5 -5 0.2 -5.2 0.6 -5 0.1 -5.1 0.7 -5.1M179.6 11.3l-6.3 3 -6.7 2.1M114.8 14l0.3 0.5M148.3 29.5l-8.5 -1.4M138.8 8.5l0.9 5 0.4 4.9 0.7 5 0.1 5M72.5 39.2l3.4 -4 3.5 -3.8 3.7 -3.6M74.9 20l4.3 4.5 4.5 4.3M71.7 39.8l-0.6 -0.3M71.9 39l-3.1 -4.1 -3 -4.2M188.8 102.4l-4.5 -2.3 -4.8 -1.4 -4.6 -1.9 -5 -0.8M173.7 84.7l-2.6 5.2 -0.4 5.8M167.1 110.5l5.2 0.4 5.3 -0.1 5.1 1.3 5.1 0.7 5.1 1.1 5.1 1.4M115.1 211.6l-2.1 -4.7 -1.4 -5 -0.7 -5.1M110.3 196.6l6.3 -1.5 6.2 -1.8 5.7 -3.3M150 188.6l-6.6 -0.4M139.1 214.9l-0.9 -6 0.1 -6.1 -0.2 -6.1 1 -6.1M149.2 30.6l3.8 3.3 4.1 3 3.1 4 3.2 3.9M162.1 67.1l0.3 6.3 -1.2 6.1M142.6 71.8l-1.5 4.8M157.6 96.3l7.9 3.7M157.5 96.4l-6 2.8M132.4 56.4l-3.4 -5.7 -1 -6.5M143.6 46.4l-5.3 -3.8 -5.3 -3.7M131.6 57.4l0.7 -1.3M117.5 41.8l5.5 -0.3 5.2 1.9M146.7 51.5l-1.6 -0.7M132.1 58.2l3 5.1 3.2 5 3.2 5M93.7 56.1l-1.1 -5 -1.7 -4.9M136.1 30.9l-4.3 -3.2 -5 -1.7 -4.7 -2.2 -5.2 -1.1M107.5 58.7l5.5 -0.9 4.9 -2.6M-2.8 92.2l3.1 -2.3M17.4 203.4l3.2 4.7 3.8 4.2 3.5 4.4 4 4.1M-1.1 172.6l6.9 0.6 7 0.8M147.5 114.5l-5.5 3.5M150.1 99.7l-0.7 5.2 -1.1 5.1 -0.8 5.1M37.6 139.6l5.4 3.2 5.9 2.4M49.7 145l3.4 -2.5M49.2 121.4l7.4 4.9M73.8 207.9l-1 -6.4 -1 -6.4 0.6 -6.5M120.7 115.9l1.2 -1.2M120.1 94.7l-5.2 1.7 -5.3 1.4 -5.5 0.1M50.5 38.5l-0.7 0.1M15.8 68.3l4 4.3 3.7 4.4 2.6 5.3M14.9 189.8l5.8 -1.4 6 0.2 5.9 -0.3M38.4 207.5l-5.6 -7.5M69.7 160.3l-1.4 0.9M138.1 150.6l1 -5.7 2.8 -5.1M142.6 140.5l-8 -5.6M134.2 134.8l-8.7 0.6M97.9 141.4l6.5 3M108.3 147.9l5.1 -5.2 4.3 -5.8M84.1 148.4l-4.3 2.6 -4.4 2.4 -4.1 2.9M72 131.8l-3.3 6.3 -3.4 6.3M61.7 126l4.6 3.6 5.1 2.8M83.2 114.7l-6.8 -1.9M82.5 115.1l-1.9 5.4 -1 5.5 -0.7 5.7M61.5 125.5l2.9 -6.7M95 158.2l5.1 -1.6 4.8 -2.3 4.5 -2.9M112.4 172.6l-3.2 1.5M127 153.2l-6.2 1.6 -6.1 2.1M113.1 173.4l-0.3 -0.1M141 77.7l-7.1 -1.2 -7.2 0.2M124.4 61.5l-3.2 8.2M118.4 86.1l-4.2 -4.5 -5.7 -2.3M85.4 78.6l6.4 -1.5M83.7 95.8l-0.7 -6.7 0.7 -6.6M88.2 99.5l-4.8 -4.5M31.9 42.8l2.4 5.1 2.1 5.3 1.8 5.4M49.7 39.1l-0.6 5.4 -1.2 5.3 -1.6 5.2M49.4 145.1l-0.2 3.4M43 98.8l2 -7.4M83.8 82.5l-6.9 0.7 -7 0.8M58 70l9.1 2.1M73.1 68.7l-5.2 2.4M59 43.2l-0.6 6.4 2 6.2M45.7 53.9l6.2 0.7 5.9 2.2M77.4 69.4l-4.6 0.2M32.1 172.2l4.4 -1.9M195.5 49.3l3.5 6.1 3.9 5.9M179.3 122.3l-4.8 4.7 -2.4 6.1M172.8 133.6l-0.9 5.8 -0.4 5.9M163.2 185.2l5 6M188.7 192.1l-7 5M139.7 223.6l-0.9 5.4 -1 5.3 -0.4 5.4 -0.1 5.5 0.4 5.4"/><path stroke="#ff33ff" d="M-42.1 475.6l1.3 -4.9 0.6 -5.1 0.9 -5 0.5 -5 0.8 -5.1 1.4 -4.9 0.5 -5.1 1 -4.9 1 -5 0.7 -5.1 1.3 -4.9 0.8 -5 1.3 -5 0.6 -5 1 -5 0.8 -5 1 -5 0.7 -5.1 0.7 -5 1.5 -4.9 0.9 -5 0.7 -5 0.7 -5.1 0.5 -5 0.8 -5.1 0.9 -5 0.6 -5 1.5 -4.9 0.5 -5.1 1.2 -4.9 0.4 -5.1 1.3 -5 0.7 -5 0.1 -5.1 1 -5 1.4 -4.9 0.4 -5.1 1.2 -5 0.3 -5.1 0.5 -5.1 1.3 -4.9 0.9 -5 0.3 -5.1 0.6 -5 1 -5 1.3 -5 0.6 -5 0.2 -5.1 0.9 -5 0.6 -5.1 1.1 -5M2 220.7l-0.2 -0.3M140.1 214.9l-6.4 -3 -6.5 -3M94.4 5l5.5 1.8 5 2.9 5.5 1.8 5.2 2.5M90.9 219.6l0.4 -5.5M57.3 226.5l6.9 -1 6.7 -1.7M95.5 225.3l-5.3 -5.5M53.1 11.2l-5.5 -2.2 -5.4 -2.2 -5.3 -2.6M36.9 4.6l-6.2 2.6 -4.5 5.1M39.5 33l-5.3 -3.5 -4.6 -4.2 -3.8 -5.1M26.6 13.1l0 7.8M69.9 -35l-1.9 5.1 -1.1 5.4 -1.8 5.1 -1.4 5.3 -1.9 5.1 -2 5.1 -2 5 -2.4 5 -2.1 5M16.7 6.6l4.3 2.8 4.8 2.1M55 225.8l-5.3 -1.1 -5.4 -0.4 -5.4 0.6M149.9 167l2.5 -6 3.7 -5.4M166.9 16.6l-5.5 -1.4M148.2 29.6l4.5 -4.9 3.5 -5.7 4.3 -5M84.9 28.8l2.5 5.1 1.8 5.5 2.6 5.1M90.9 24.8l-6.7 3.8M65.9 30.6l-5.1 -1.9M10.2 125.9l2 4.9 2.7 4.6 2.5 4.6 2.9 4.5 2.8 4.5M29.5 118.6l-6.3 1.3 -6.5 0.6M0.7 219.7l3.7 -3.9 4.1 -3.4 3 -4.4 2.9 -4.6M170.3 95.2l-5.7 3.8M141 166.8l-3.7 -1.4M129.2 188.4l-2 -5M111.8 172.4l4.9 3.6 4.9 3.6 4.8 3.7M150.4 67.1l-3.5 3.7 -4.5 2.3M171.9 65.9l-5 1.2 -5.2 0.7M146.3 51.7l2.3 7 0.6 7.3M156.5 95.6l-0.9 -5.9 0.9 -5.9M137.5 94.3l-0.2 -5.3 1 -5.1 2.1 -4.8M143.5 47.3l1.4 4.7M90.4 43.2l8.5 -4.6M75.8 45.2l-1.4 5.6M73 51.5l4.9 4.1 3.1 5.7M10.8 94.6l-5.2 -3 -5.4 -2.4M17.6 227.5l6.4 -3.5 6.7 -3M30.9 221l3.6 -0.4M12.3 175.4l1.7 4.8 0.7 5.1 0.6 5.1M147.4 138.4l2.9 -8.2M143.2 117.9l0.2 0M89.9 212.2l1.1 -6.6 2.1 -6.3 0.9 -6.7M105 114.2l5.1 1.7 5.2 1.5M121.5 95.8l-1.5 -1.4M85.7 112l1.5 -6.2 0 -6.4M39.2 32.8l0 0.1M40.4 32.1l4.9 3.5 5.6 2.4M15 56.9l3 5.9M23.2 149l-3.8 6.1M69.1 186l-1.6 -2.3M83.3 185.3l2.5 -6.4 -0.3 -6.9M71.1 160.7l4.5 4.2 4.8 4 5.1 3.6M125.2 134.2l-1 1.3M135.9 165.7l-0.9 -5.1 -2.4 -4.4M141.8 117l-1.6 6.1 -2.9 5.5 -3.8 5.1M96.8 131.1l-5.9 -0.9 -5.7 1.1 -5.6 1.5M55.8 127l6 -1M94.5 158.6l-0.5 7.9M114.3 157.3l-1.2 5.2 -0.9 5.3 -0.7 5.3M84.6 147.2l4 5.4 4.8 4.7M70.5 159.1l1.5 -4M119.6 86.4l3.2 -5.4 3.6 -5M100.7 95.3l-0.7 -5.4 -0.1 -5.5M83.5 82.1l1.9 -3M120.9 69.3l-6.3 -0.3 -6.3 0.8M35.7 78.6l1.3 -5.3 3.5 -4.2M49.4 148l-2.7 5.1 -2.2 5.4M64.5 118.5l-1.3 -5 -2.6 -4.4 -2.1 -4.7M40.1 68.7l7.2 0.7 6.5 3.3M66.9 97.5l-3 -9.1M68.6 83l0.4 -6.2 -1.9 -6M173.2 153.7l-1.7 5.9 -1.1 6 -0.2 6.1M169.5 191.2l5.8 1.3 5.2 2.7M152.8 199l-3.7 4.6 -2.3 5.4"/><path stroke="#ffee33" d="M18 227.2l-5.8 -2.2 -5.9 -2.1 -5.1 -3.6M1.2 219.5l-1.9 -4.7 -1.1 -5 -1.4 -5 -1.8 -4.7 -2.2 -4.7M16.3 7.2l-5.8 2.7 -6.3 1.2 -6.3 0.9M190.6 77.1l-4 -3.8 -2.7 -4.8M3 31.2l8.7 1.9M-1.4 34.8l-0.4 6.5 -0.3 6.5 -0.1 6.5M-4 192.6l0.8 -6.5 1.5 -6.3 0.1 -6.6M-6.8 111.2l4.4 4.8 4.9 4.5 4.5 4.7M183.7 85.2l1.7 6.1 1.7 6.1 3.1 5.7M177.5 66.6l-2.4 0.6M53.2 13.6l1 0.4M74.6 8.4l-3.2 3.9M72.5 13.7l-5.7 -0.1 -5.7 0.5 -5.7 0.4M181.9 52l-4.9 -5.6 -5 -5.5M172 66.9l2 0.6M115.1 13.9l5.2 -1.4 5.2 -1.3 4.8 -2.3 4.8 -2.3M74.4 45l5.1 -0.2 5.1 0.4 5 -0.2M90.2 45.5l0.9 -1.7M36.8 123.8l-8.3 -5.2M156.5 155.3l-0.5 -0.7M150.2 167.9l-9.7 0.6M135.3 165.3l1 1.3M135.8 164.3l-5.8 2 -5.9 1.8 -6 1.5 -5.6 2.5M172.8 84.5l-6.3 -1.6 -5.8 -3M159.1 48.8l0.8 6.3 0.3 6.3 0.8 6.3M117.1 42.1l0.4 6.4 -0.4 6.5M140.4 28.5l-3.9 1.5M98.8 39.3l-2.5 -6.4 -0.3 -6.8M114.6 40l1 -5.8 0.4 -5.8 1.4 -5.7M103.5 56.2l-5.5 0.9 -5.5 -0.9M91.6 25l5.9 1.6M115.1 13.8l-0.2 3.4M117 42l-3.5 -3.2M39.8 224.5l-4.6 -3.7M13.5 193.6l2.4 -4.1M83.5 185.9l5.9 3.4 5.7 3.8M111 195.1l-4.3 -2.9 -4.4 -2.9M95.1 191.7l7.1 -2.1M116.2 117.8l5.8 -0.8M-2.5 54.6l5.7 1.5 5.9 0.3 5.8 0.5M36.7 100.6l-4 -4 -4.8 -3.1 -4.7 -3.1M11.5 175l5.2 -2.8 3.8 -4.5M21 167l5.2 3.2 5.7 2.3M-2.8 152.5l5.4 1.8 5.4 1.2 5.7 -0.3 5.6 0.3M24.5 148.6l-0.2 1.1M32.1 189.1l-1.2 6.1 0.3 6.2M36.8 208.3l4.8 -2.4 4.6 -2.9 5.3 -1.5M127.2 152.5l-1.5 -5.6 -0.5 -5.7 -0.7 -5.7M107.9 130.7l-1.4 6.6 -3.6 5.9M85.9 148.5l-0.4 -0.1M114.7 156.8l-6.3 -5.6M120.4 94.8l-0.8 -7.9M100.1 85.9l-3.6 -4.2 -4.7 -2.9M108.8 68.3l1 1M82.4 61.7l-4.2 8.1M77.9 68.3l4.2 4.8 3.3 5.5M17.5 62.5l6.6 0.3 6.5 -0.4 6.4 -1.1M23.6 149.4l5.2 2.3 5 2.7 5 2.8 5.4 1.9M59.1 105.8l-6.4 0.8M53 105.9l-4.7 -3.3 -4.4 -3.8M82.7 95.1l-5.1 1.5 -5.3 0.8 -5.3 0.1M44.9 91.8l4.8 -2.9 4.3 -3.6M59.5 56.2l7.2 -1.1M54.8 73.3l4.6 -3.9M198.5 85.3l-4.9 5.4 -5.7 4.6M187.8 95.4l-0.4 5.7 -0.6 5.8 -1.5 5.5M185.7 113.5l-2.9 4.8 -3.1 4.7"/><path stroke="#8855ff" d="M139.9 214.2l2.5 2.6M72.3 206.9l-7.3 0.6 -7.1 1.6M200.4 29.6l-5.4 1.6 -5.2 2.3 -5.4 1.7 -5.4 1.7 -5.4 1.6M157.6 8l4 5.7M140.7 79l-0.6 -1.2M151.2 99.2l-6.7 -1.8 -6.2 -3.2M93.5 55.6l-2.2 3.4M16.7 120.4l-1.5 -4.9 -1.2 -5 -0.9 -5 -0.7 -5.1 0 -5.1M15.7 203.1l1.8 0.5M165.3 129.5l-1.4 -6.3 -2 -6.1M155.4 144.3l-7.8 -5.5M137.5 94.8l-0.7 5.3 -0.5 5.3 1 5.3 0.2 5.3M142.8 117.5l-5.1 -2.5M72 187.9l5.5 -1.5 5.4 -1.5M96.6 117.2l-5.2 -3.1 -5.8 -2M32 42.3l-7 0.6 -7 0.8M18.4 43.1l-1.7 6.4 -1.8 6.4M12.2 94.8l5.2 -3.2 6 -1M33.7 189.1l6 0.2 5.9 0.6M155.3 155.7l-6 -0.3 -5.6 -1.9 -5.7 -1.8M117.8 137.2l7.1 -1.1M107.2 148.7l-4.2 -4.7M84.5 148.3l6.3 -3.1 5.7 -4.1M52.7 142.4l6.1 2.1 6.5 0M49 121.6l0.7 -5.5 1.2 -5.4 1.9 -5.2M69 84.2l-4.7 5.2M59.3 57.5l-0.3 5.9 0.3 5.9M72.8 51.6l-6.3 4.1M192 25.5l-0.4 5 0.2 5 -0.9 5"/><path stroke="#ff8822" d="M127.1 208.9l-5.8 1 -5.4 2.4M115.8 211.4l0.4 7 0.4 6.9M-3.1 10.5l1.7 1.2M-0.8 12.3l0.9 6.5 2 6.3 1.5 6.4M207.1 59.9l-3.9 4.5 -4.8 3.8 -3.9 4.7 -4.5 4M52.4 11.3l1 1.7M183.7 68.2l-6.9 -1.7M165.6 15.9l1.3 6 2 5.6 1.6 5.8 2.7 5.5M172.9 66.4l-0.7 -5.8 -0.6 -5.7 -0.7 -5.7 -0.9 -5.8M170.2 43.4l3.1 -1.8M173.9 38.1l-1.6 2.6M83.1 29.1l1.4 0M74.5 19.3l-2.2 -6.5M74.2 19l-3.6 6.4 -4.9 5.4M37.8 139.3l-4.9 2.8 -4.8 2.8 -4.6 3.2M37.2 122.9l0.4 5.2 0.1 5.3 0.6 5.2M154.6 144l5.4 -3 5.2 -3.6 5 -3.6M139.9 167.8l1.3 5.2 1.1 5.3 -0.2 5.4 0.6 5.2M139.2 190.5l3.3 -1.1M139.2 190.1l-5.5 -0.2 -5.5 -0.9M125.2 61l7.5 -3.2M136 30.9l-2.9 9.3M107 58.6l-3.3 -3.3M6 126.6l4.8 -0.9M0.7 90.5l0 -5.2 -0.8 -5.1M142.5 118l3.8 6.2 3.4 6.3M167.5 110.7l-4.7 6.1M120.8 95.6l1.7 6.3 0.1 6.4 -0.6 6.4M106.1 113.3l-1.4 -5.3 -0.8 -5.4 0.8 -5.5M106.2 114.2l-7.9 3.7M87.9 99.4l6.6 -0.8 5.8 -3.4M104 98.3l-3.6 -2.1M58.7 43.8l-8 -4.8M40.2 32.8l-3 5.3 -4.3 4.4M16.6 68.1l-5.3 3.8 -5.5 3.6 -5.2 4M27.8 118.4l2.9 -5.6 1.9 -5.9 2.7 -5.7M16.7 204.2l5.3 -0.5 5.2 -0.4 4.9 -2.2M58.5 209.1l-3.1 -4.2 -3 -4.3M71.8 187.2l-3.4 -1.1M84.7 148l-0.9 -5.7 -2.4 -5.1 -2.4 -5.2M72.8 132.9l7 -0.4M64.7 145.3l2.6 6 4.2 5.1M78.9 131.4l0.2 0.2M107.8 148.1l0.5 3M121.5 69.1l4.2 7.5M94.6 71.1l6.5 -0.9 6.5 -1.5M46.7 54.4l-8.1 3.8M40.6 69.9l-3 -8M35.4 100.8l7.4 -2.8M66.9 98l-1 2.1M53.4 73l-0.6 5.7 1.3 5.6M59.7 56l-1.4 1.3M67.9 55.6l0.6 5.1 2.1 4.6 2.9 4.2M55.4 167.3l0.5 5.7 -1.8 5.4M66.6 184.6l-5.9 -4.2 -6.8 -2.6M192.1 -19.3l0.2 5.5 0.1 5.5 0.5 5.5 0.2 5.5 0.1 5.5 -0.1 5.5M193.2 13.3l0.6 6.2 -2 5.8M170 170.5l-1.8 4.8 -1.5 4.8 -2.7 4.4M168 200.3l-7.2 -1.9 -7.3 0.9M146.4 208.2l-2.8 4.4 -2.5 4.6 -1.7 5"/></g>
<g fill="none" stroke-linecap="round" stroke-linejoin="round" stroke-width="2.5" opacity="0.7"><path stroke="#33ff55" d="M180.1 10.7l5.3 2.6 5.1 2.9 5.4 2.3 5.2 2.7M-258.7 239.2l5 -0.7 5.1 0.5 4.9 -1.1 5.1 -0.3 5 0.1 5 -0.7 5 -0.4 5 -0.6 5 -0.3 5 0.1 5 -0.7 5 0 5 -0.5 5 -0.3 5.1 0.1 4.9 -0.8 5 -0.3 5.1 -0.1 4.9 -1 5 -0.4 5.1 0.4 5 -0.5 4.9 -0.9 5 -0.4 5.1 0.1 5 -0.1 5 -1.1 5 0.3 5 -0.4 5 -0.6 5 -0.6 5 -0.6 5 -0.5 5 0.5 5 -1.1 5 0.1 5 -0.8 5 0.1 5 -0.6 5 -0.6 5 -0.5 5 0.1 5 -1 5 -0.2 5 -0.1 5.1 -0.2 4.9 -0.6 5 -0.7 5.1 0.2 4.9 -1 5 -0.6 5 0.1M139.3 213.5l-6.5 -3 -6.4 -3.1M115.4 211.8l0.3 7 0.5 6.9M81.3 227.7l-4.9 -2.6 -5.5 -1.4M71.1 224.1l0.4 -5.6 0.8 -5.5 1 -5.5M114.6 210.9l1.2 0.9M36 4.6l-6.2 2.6 -4.5 5.1M39.5 32.7l-5.3 -3.4 -4.6 -4.3 -3.9 -5M-3.4 171.3l2.4 2.1M195.2 54.9l-6.9 -1 -6.7 -1.5M190.1 78.2l-7.5 6.4M189.4 76.8l0 1.6M175.7 65.5l-2.3 0.6M183.3 85.2l-6.6 -1M71 12.1l-5.7 -0.1 -5.7 0.5 -5.7 0.4M75.7 46.2l5 -0.2 5.1 0.4 5.1 -0.2M82.6 27.4l1.4 0M90.3 8.4l1 5.1 1 5.1 -0.7 5.2M73.2 18.8l4.3 4.5 4.5 4.4M15.3 202.5l-2.2 -9.5M166.4 109.6l5.2 0.3 5.3 -0.1 5.1 1.4 5.2 0.6 5.1 1.1 5 1.5M155.5 156l-0.4 -0.7M139.4 168.6l-3.7 -1.4M112.6 173.3l4.9 3.6 4.9 3.6 4.8 3.7M140.3 213.5l-1 -6.1 0.1 -6.1 -0.1 -6 1 -6.1M148.2 29.6l3.8 3.3 4.1 3 3.1 4 3.2 3.9M162.1 68.8l0.3 6.2 -1.2 6.1M147.5 52.8l2.3 7 0.6 7.3M155.9 95.7l7.9 3.6M132.7 38.6l-4.6 4.6M133.1 57.6l0.7 -1.3M118.2 43l5.6 -0.3 5.2 2M147.9 30.4l-1.2 5.7 -1.2 5.7 -2.4 5.3M140 28.9l-4 1.4M96.3 25.2l4.4 -2.4 4.6 -2.1 4.7 -1.8 4.8 -1.6M114.2 39.4l-6 2.4M104.7 54.8l-5.5 1 -5.5 -1M90.4 23.9l5.9 1.6M136.4 29.4l-4.3 -3.3 -4.9 -1.6 -4.7 -2.2 -5.2 -1.2M74.2 51l5 4.2 3.1 5.6M6.3 125.5l4.8 -0.9M18.6 227.9l6.4 -3.5 6.7 -3M-2.7 173.6l6.9 0.7 6.9 0.8M150.6 130l5.1 -1.1 5.2 -0.2 5.3 -0.3M169.7 134.2l-5 -5M146.4 138.5l2.8 -8.3M81.8 184.1l6 3.4 5.6 3.9M119.9 94.8l-5.2 1.7 -5.3 1.4 -5.5 0.1M87.4 113.4l1.5 -6.2 0 -6.4M60.6 29.4l-4.3 5.4 -5.4 4.2M50.9 39.2l-0.7 0.1M11 34.1l3.3 5.4 3.5 5.3M16.8 68.5l1.5 -5.5M10.7 95.9l5.2 -3.2 6 -1M29.5 118.7l2.9 -5.6 1.9 -6 2.7 -5.6M20.8 167.6l5.2 3.2 5.7 2.3M24.1 149.7l-3.8 6.1M16.6 203.3l5.2 -0.5 5.3 -0.4 4.8 -2.2M52.2 199.5l-3.3 -5.7 -4.4 -4.9M67.5 187.7l-1.7 -2.3M125.6 135.8l-0.9 1.2M108.1 131.2l3.7 4 4.9 2.2M97.6 118.6l0.2 5.4 -0.2 5.4M85.6 147.3l-4.3 2.6 -4.4 2.4 -4.1 3M85 147.8l-1 -5.7 -2.4 -5.1 -2.3 -5.2M52.8 142.8l6.1 2.1 6.4 0M93.8 157.7l-0.5 7.9M93.2 158.1l5.1 -1.6 4.8 -2.3 4.5 -2.9M111.5 173l-3.2 1.5M108.1 148.5l0.5 3M95.8 70.7l-3.8 7.1M84.7 80.3l6.4 -1.5M82.6 95.5l-0.8 -6.6 0.8 -6.7M32.6 42.5l2.5 5.2 2.1 5.3 1.8 5.4M46.6 55.1l-8 3.8M17.8 62.9l6.6 0.3 6.5 -0.4 6.5 -1.1M35 78.3l-9.2 3.1M83.6 96.2l-5.1 1.5 -5.2 0.8 -5.4 0.1M68.1 98.7l-3 -9.1M55 84.7l5.1 1.6 4.6 2.8M59.3 69l9.1 2.1M74.4 50.9l-6.3 4M69.8 84.7l0.4 -6.3 -1.9 -5.9M35.6 170.6l4.8 -4.9 3.3 -6.1M67.3 161.1l-5.5 3 -5.6 2.6M45 159.7l0.2 0.9M185.3 112.5l-2.9 4.8 -3.1 4.7M153.2 199l-3.8 4.5 -2.2 5.5"/><path stroke="#ff33ff" d="M158.9 179.7l-5.2 4.2 -4.6 4.9M18.3 228.2l-5.9 -2.2 -5.8 -2.1 -5.1 -3.6M1.6 220.3l0.4 0.1M139.5 214.2l2.5 2.6M93.9 5.2l5.5 1.8 5 2.9 5.5 1.7 5.2 2.6M17.1 7.7l-5.8 2.8 -6.3 1.2 -6.3 0.8M196.1 54.9l-4.1 4.3 -4.1 4.2 -4.3 4.2M207.7 58.8l-3.9 4.6 -4.8 3.7 -3.9 4.8 -4.6 3.9M73.3 206.7l5.3 2.9 5.8 0.9 5.8 0.7M89.9 211l1.2 2.6M16.7 8.3l4.3 2.9 4.7 2M6.7 126.3l-4.8 4.1 -4.2 4.7M183.3 67.2l-6.9 -1.6M182.4 52.3l-3.6 6.5 -2.2 7.1M190.7 78.8l4.3 3.2 4.6 2.9 4.3 3.2 4.8 2.5M181.9 83.6l1.7 6.1 1.8 6.1 3 5.7M149.7 167.1l2.5 -6.1 3.7 -5.3M54.3 13l0.9 0.4M179.4 10.2l-6.4 3 -6.6 2.2M166 15.2l-5.4 -1.5M115.9 14.2l0.3 0.6M149.2 30.5l4.5 -4.8 3.5 -5.7 4.3 -5.1M149.1 30.6l-8.5 -1.3M90.3 45.7l0.9 -1.7M73.8 19.8l-3.6 6.4 -4.9 5.3M37.2 123.8l-8.3 -5.3M10.4 124.4l4.9 -4.6M1.6 219.4l3.7 -3.8 4.1 -3.5 3.1 -4.4 2.8 -4.6M-5.1 193.1l5.6 0.4 5.7 0 5.6 0.9M177 84l-2.9 1.5M170.4 96.5l-5.7 3.8M113.6 209.9l-2.1 -4.7 -1.3 -5 -0.8 -5.1M128.4 189.1l-2 -5M149.4 166.3l-9.6 0.6M140.8 78.2l-0.5 -1.3M159.7 48.1l0.8 6.3 0.3 6.3 0.8 6.3M133.7 56l-3.4 -5.6 -1 -6.5M132.7 56.6l5.9 -2.8 6.3 -1.8M144.3 46.5l1.4 4.7M147.1 53.1l-1.7 -0.7M132.6 56.8l3 5.1 3.3 5 3.2 5M92 44.6l8.4 -4.6M118.7 42.8l-3.6 -3.3M107.3 58.8l5.5 -1 5 -2.5M74.3 46l-1.5 5.7M-1.6 92.2l3 -2.2M12.2 96.1l-5.2 -2.9 -5.4 -2.5M-7.3 71.1l3.7 4.2 4.3 3.5M14.1 203.5l1.7 0.4M38.9 224.3l-4.5 -3.7M31.4 221.3l3.7 -0.5M11.7 193.9l2.4 -4.2M165.4 127.7l-1.4 -6.3 -2 -6.1M154 143.5l-7.7 -5.4M137.1 93.5l-0.8 5.3 -0.5 5.3 1 5.2 0.3 5.3M122.9 115.6l7.4 -0.6 7.3 0.6M141.6 117.5l0.2 0M52.9 143l1.2 -5.3 1 -5.3 1.4 -5.3M71.5 188l5.5 -1.5 5.5 -1.4M121.5 96.5l-1.6 -1.4M104.5 114.1l-7.8 3.7M88.2 100.9l6.6 -0.8 5.8 -3.4M58.6 43.6l-8 -4.8M-2.9 54.4l5.7 1.6 5.8 0.2 5.9 0.5M15.6 68.3l-5.3 3.8 -5.5 3.6 -5.2 4.1M16.4 68l3.9 4.3 3.7 4.4 2.6 5.3M58.2 210.5l-3 -4.2 -3 -4.3M38.4 208l4.9 -2.3 4.6 -3 5.3 -1.5M82.1 184.7l2.5 -6.5 -0.3 -6.9M70.1 159l4.5 4.2 4.7 4 5.1 3.6M141.6 139.5l-8.1 -5.6M135.2 164.3l-0.8 -5 -2.4 -4.5M116 117.3l-2.2 4.7 -2.4 4.5 -2.3 4.5M116.9 137.5l7.1 -1.1M109.6 131.7l-1.4 6.7 -3.6 5.8M109.6 131.5l-5.6 -1.4 -5.6 -1.1M107.5 148.8l5.1 -5.2 4.3 -5.8M78.9 132l0.2 0.2M84.6 147.5l-0.4 -0.1M63.1 126l2.9 -6.7M115.2 156.6l-1.3 5.2 -0.9 5.3 -0.6 5.3M119.8 87.5l-4.2 -4.5 -5.7 -2.2M77.2 69.9l4.2 4.8 3.3 5.5M108.2 59l0.8 9.8M122.6 68.6l-6.3 -0.3 -6.2 0.8M50.4 38.8l-0.6 5.4 -1.2 5.2 -1.6 5.2M75.4 113.6l-2.7 -4.6 -2.6 -4.7 -3.8 -3.7M48.8 122l0.7 -5.5 1.2 -5.3 1.8 -5.3M59.1 104.1l-6.4 0.8M68 98.1l-0.9 2.1M54.7 73.8l-0.5 5.7 1.3 5.6M82.5 82.2l-7 0.7 -7 0.8M69.4 83.5l-4.7 5.1M60.5 56.8l-1.5 1.3M47.5 55.7l6.2 0.7 5.8 2.2M51.5 179.7l3 -1.1M31.5 173.4l4.4 -1.8M193.9 -20.7l0.2 5.5 0 5.5 0.5 5.5 0.3 5.5 0 5.5 0 5.5M204.9 71.2l-2 8M172.8 152.3l-1.8 5.9 -1.1 6 -0.1 6.1M168.5 190.8l5.7 1.3 5.3 2.7M181.7 197.2l-6.8 1 -6.7 2M147.6 209.8l-2.7 4.5 -2.5 4.5 -1.8 5"/><path stroke="#ff8822" d="M-41 475.4l1.4 -4.9 0.6 -5.1 0.9 -5 0.5 -5.1 0.8 -5 1.3 -4.9 0.5 -5.1 1.1 -5 0.9 -5 0.7 -5 1.3 -4.9 0.9 -5 1.3 -5 0.6 -5 1 -5 0.7 -5 1 -5 0.7 -5.1 0.7 -5 1.6 -4.9 0.8 -5 0.7 -5 0.8 -5.1 0.5 -5 0.7 -5.1 0.9 -5 0.7 -5 1.4 -4.9 0.5 -5.1 1.2 -4.9 0.4 -5.1 1.4 -5 0.7 -5 0 -5.1 1 -5 1.4 -5 0.4 -5 1.3 -5 0.2 -5.1 0.5 -5.1 1.3 -4.9 0.9 -5 0.3 -5.1 0.7 -5.1 0.9 -4.9 1.4 -5 0.6 -5 0.2 -5.2 0.8 -5 0.7 -5 1.1 -5M142.7 217l-4.9 4.3 -2.6 6M189.9 75.5l-4 -3.8 -2.7 -4.8M114.2 210.1l-5.7 1.8 -5.7 0.8 -5.8 0.6 -5.9 0.4M53 12l1.1 1.6M24.9 11.6l0 7.7M2.5 31.6l8.7 1.9M11 32.8l5.1 -4.1 4.6 -4.5 4.6 -4.6M201.3 30.1l-5.4 1.6 -5.2 2.3 -5.4 1.7 -5.4 1.7 -5.4 1.6M168.6 42.9l3.1 -1.8M137.3 9.1l0.9 4.9 0.4 5 0.7 5 0.1 5M83.6 27.7l2.6 5.1 1.8 5.4 2.6 5.1M189.7 102.1l-4.5 -2.2 -4.8 -1.4 -4.6 -2 -5 -0.8M155 144.7l0.4 5.5 0.5 5.6M140.2 189.3l3.4 -1.1M135.8 164.7l0.9 1.3M169.1 43.1l-6.5 1.2M162.7 68.6l-0.8 -0.6M157.2 84.8l4.5 -3.9M138.1 93.3l-0.2 -5.3 1 -5 2.2 -4.9M136.5 29.4l-3 9.3M104.3 55.1l0.8 -7.3 3.4 -6.6M107.8 59l-3.3 -3.3M14.9 120.6l-1.5 -4.9 -1.2 -5 -0.9 -5 -0.7 -5.1 0 -5.1M147.5 114l6.9 1.1 6.9 0.9M151.4 97.9l-0.6 5.2 -1.1 5.1 -0.9 5.2M121 96.8l5.4 0.3 5.2 -0.7 5.2 -1.6M122.2 96.7l1.7 6.3 0.1 6.4 -0.7 6.5M49 145.2l3.4 -2.5M105.7 114.2l5.1 1.7 5.2 1.5M71.8 39.8l-6.9 1 -6 3.3M32.6 43l-7 0.6 -7 0.7M14.4 56.7l3 5.9M22.9 91l3.7 -9M20.1 167l-1.2 -5.9 0.1 -6M127 154l-1.5 -5.6 -0.5 -5.7 -0.6 -5.7M108.7 131.4l0 0M71.9 132.4l-3.2 6.3 -3.4 6.3M71.1 131.4l6.9 -0.4M65.9 144.2l2.5 6 4.2 5M56.8 126.5l6 -1M81.7 115.5l-6.8 -2M111.3 172.4l-0.2 -0.1M121.9 68.8l4.2 7.4M90.2 58.6l2.6 5.8 1.7 6.2M35.3 79.4l1.2 -5.4 3.6 -4.2M36.3 60.7l1.4 -2.9M65.8 119.6l-1.3 -5 -2.6 -4.5 -2.1 -4.6M40.5 70.2l7.2 0.7 6.6 3.3M60.7 56.6l7.1 -1.1M53.3 73.6l4.6 -3.9M51.3 179.6l-5.4 -1.8 -5.1 -2.3 -4.3 -3.9M191 40.5l3 4.1 1.5 4.9M196.5 48.7l3.5 6.2 3.9 5.8M171.8 133l-0.9 5.8 -0.4 5.9M187.3 191.9l-7 5"/><path stroke="#33ffff" d="M0.6 219l-0.2 -0.3M126.5 207.4l-5.9 1 -5.3 2.5M0.3 219.2l-1.8 -4.7 -1.1 -5 -1.4 -5 -1.9 -4.7 -2.1 -4.7M120.3 -255.5l0.2 5 -0.7 5 0.5 5 -0.7 5 0 5.1 0 5 -0.5 5 0 5 -0.3 5 -0.4 5 0.5 5 0.1 5 -0.5 5 -0.4 5 0.3 5 -0.1 5 -0.8 5 0.1 5 0 5.1 -0.5 5 0.4 5 -0.4 5 0.3 5 -0.3 5 -0.5 5 -0.2 5 -0.1 5 0.4 5 -0.3 5 0.1 5 0.1 5.1 -0.4 5 -0.4 5 -0.1 5 0.1 5 -0.3 5 0.5 5 0 5 -0.3 5 0.1 5 0 5 -0.3 5 -0.2 5.1 0 5 0.1 5 -0.5 5 -0.2 5 0.5 5 0.2 5 0 5 -0.8 5 0.7 5 -0.6 5 0.1 5.1M81.2 227.5l5.2 -3.9 4.7 -4.5M56.7 227.2l6.8 -1.1 6.7 -1.6M52.3 12.1l-5.5 -2.2 -5.4 -2.3 -5.3 -2.6M-4.6 192.3l0.9 -6.4 1.4 -6.4 0.1 -6.5M176 83.6l-1.5 -5.5 -0.4 -5.6 0 -5.7M55.9 224.7l-5.4 -1.1 -5.3 -0.4 -5.5 0.6M167.3 15.9l1.3 5.9 2 5.7 1.6 5.8 2.7 5.4M172.6 65.2l2 0.6M171.7 65.8l-0.7 -5.8 -0.6 -5.7 -0.7 -5.7 -0.9 -5.8M174.2 39.4l-1.6 2.6M73 38.8l2.9 6M73.5 19.6l-2.2 -6.5M91 24.1l-6.7 3.8M71.3 39.8l-3.1 -4 -3 -4.2M11.7 124.4l2.1 4.9 2.7 4.6 2.4 4.6 3 4.5 2.7 4.5M38.4 139.6l-4.9 2.8 -4.8 2.8 -4.6 3.2M164.5 100l1.2 5.1 0.9 5.3M154.8 143.8l5.5 -3.1 5.1 -3.5 5.1 -3.7M127.6 207.8l-0.8 -6.4 0.8 -6.3 1.6 -6.2M140.4 167.5l1.3 5.2 1.1 5.3 -0.2 5.3 0.7 5.3M149.2 189.7l-6.6 -0.4M135.3 165.7l-5.8 2.1 -5.9 1.8 -6 1.5 -5.6 2.5M160.8 68.2l-5.8 -0.4 -5.8 -0.5M156.6 84.9l-5.7 -0.7 -5.3 -2.1 -5 -2.8M140.9 73.4l-1.5 4.8M172.6 66.2l-5 1.2 -5.1 0.7M146.3 52.5l6.4 -1.4 6.1 -2.5M156 95.6l-6 2.8M150.3 98.4l-6.7 -1.9 -6.3 -3.1M144.2 47.4l-5.3 -3.8 -5.3 -3.7M124.6 60.4l7.4 -3.2M118.6 42.7l0.4 6.4 -0.4 6.4M99.9 38.4l8.6 2.3M100.6 39.2l-2.5 -6.4 -0.3 -6.9M115.9 18.4l1.7 3.8M116.2 15.5l-0.2 3.5M92.8 55.4l-2.2 3.4M91.4 59.7l-9.3 2.1M15.9 204.1l3.2 4.7 3.9 4.2 3.5 4.4 3.9 4.1M11.6 173.8l1.7 4.8 0.8 5.1 0.6 5.1M36.5 124l5.8 -1.6 6 -0.4M72.6 206.6l-0.9 -6.4 -1.1 -6.3 0.6 -6.6M90.3 211.4l1.1 -6.6 2.1 -6.3 1 -6.7M93.4 192.8l7.1 -2.2M115.1 117l5.7 -0.9M98.4 118.5l-5.2 -3.1 -5.8 -2M104 97.7l-3.5 -2M39.8 32.9l0.1 0.1M38.7 33.8l4.9 3.6 5.6 2.4M38.9 33.1l-3 5.4 -4.3 4.3M35.7 102.1l-4 -4.1 -4.8 -3 -4.7 -3.1M12.4 174.2l5.1 -2.9 3.8 -4.4M32.3 188.8l1.1 -5.2 -0.7 -5 -1.4 -5.1M-1.7 152.4l5.4 1.8 5.4 1.1 5.7 -0.2 5.6 0.3M23.2 147.8l-0.2 1.1M33.1 188.5l0.2 0.2M33.7 187.5l-1.2 6.1 0.3 6.3M34.4 219.9l1.9 -6.2 0.9 -6.3M36.8 208.9l-5.6 -7.5M52.3 201.9l0.3 -1.6M71.5 159.3l-1.5 0.9M68.5 161.3l-0.8 5.9 -0.6 6 -0.8 5.9 -0.3 6M131.6 156.1l-5.2 -2.3M133.9 133.9l-8.7 0.6M147.6 138.9l-4.8 1.5M143 118.4l-1.7 6.1 -2.9 5.5 -3.8 5M97.5 128.4l-1.1 1.6M96.3 130.3l0.4 5.2 0.5 5.3M108.7 148l-4.2 -4.7M62.8 125.5l4.6 3.6 5.1 2.7M82.4 115.1l-1.8 5.4 -1.1 5.6 -0.6 5.6M86.7 113.2l-4.1 2.4M93.2 165.7l5 2.9 5 2.8 5.2 2.5M70.6 160.5l1.5 -4M84.1 172.3l4.7 -2.1 3.9 -3.4M101.5 190.2l2.2 -5.4 2.4 -5.3 2.8 -5.1M119.5 94.7l-0.9 -8M118.6 87.2l3.2 -5.3 3.6 -5.1M99.3 85l5.2 -1.8 4.3 -3.3M99.3 84.3l-3.6 -4.2 -4.7 -2.9M95.9 70.7l6.5 -0.9 6.4 -1.4M100.2 96.6l-0.7 -5.4 -0.1 -5.5M87.8 100.8l-4.9 -4.5M81 60.4l-4.2 8M23.8 149.3l5.2 2.3 5 2.7 5 2.7 5.3 2M48.9 149l-2.8 5.2 -2.1 5.3M35.5 79.8l3 4.4 3.7 3.8 3.4 4M44.2 98.4l2.1 -7.4M72.7 69.8l-5.2 2.4M58.3 44.3l-0.6 6.5 2 6.1M66.7 184.5l-5.9 -4.2 -6.7 -2.6M44.8 189.4l3.2 -5.1 3 -5.2M193.2 24.5l-0.3 5 0.1 5 -0.9 5M203 60.3l-0.6 5.7 2.2 5.3M203.6 79.6l-4.4 6M188.2 96.6l-0.4 5.7 -0.5 5.7 -1.6 5.6M171.3 145.7l2 8M170 171.5l-1.7 4.8 -1.5 4.9 -2.8 4.3M180.8 195.1l8 -3"/><path stroke="#8855ff" d="M-3.8 11.6l1.8 1.2M-2.6 12.2l1 6.5 2 6.3 1.5 6.3M90.8 219.9l0.5 -5.4M71.9 40.1l3.4 -3.9 3.5 -3.8 3.8 -3.7M135.7 166.3l-2.7 6.2 -2.7 6.1 -4.4 5.2M140.2 189.7l-5.5 -0.2 -5.4 -1M163.2 44.6l-3.6 4.1M148.8 114l-5.5 3.5M104.6 115l-1.3 -5.3 -0.8 -5.4 0.8 -5.5M68.2 187.5l-3.8 3.4 -3.7 3.5 -4.2 2.9 -4.1 3.1M32.1 187.5l6 0.2 5.9 0.7M138.6 151.2l1 -5.8 2.7 -5.1M155.9 154.2l-6 -0.3 -5.7 -2 -5.6 -1.8M122.2 117l1.1 6.2 1.2 6.2 1.6 6.1M96.7 140.1l6.4 2.9M125.5 60l-3.2 8.2M109.5 79.6l0.5 -5.3 -0.5 -5.3M49.3 145.1l-0.2 3.4M69.9 159.8l-2.8 0.3M66.5 160.6l-4.7 -2.6 -4.4 -3.1 -4.4 -2.9 -3.7 -4M59.5 105.4l7.3 -4.8M52.4 105.5l-4.7 -3.4 -4.4 -3.7M66.7 55l0.5 5.2 2.2 4.5 2.9 4.3M167 199.7l-7.1 -1.8 -7.4 0.8"/><path stroke="#ffee33" d="M-1.7 34.4l4.6 -3.5M-64.9 35.5l5.3 0 5.3 -0.5 5.3 -0.9 5.3 0.1 5.3 0 5.3 0.1 5.3 -0.5 5.3 0.2 5.3 0.4 5.3 0 5.3 0.3 5.3 -0.2M74 207.2l-0.5 0.3M96.9 225.3l-5.3 -5.6M54.6 13.8l-4 4.6 -4 4.5 -2.9 5.4 -3.3 5.1M68.7 -33.8l-1.9 5.1 -1.1 5.4 -1.9 5.1 -1.3 5.3 -2 5.1 -2 5 -2 5.1 -2.3 4.9 -2.1 5.1M-2.3 35.1l-0.5 6.5 -0.2 6.5 -0.2 6.6M-8.6 112.9l4.5 4.8 4.9 4.5 4.5 4.7M73.2 208.3l-7.3 0.6 -7.1 1.6M58.2 209.6l-1.7 5.1 -0.7 5.2 -0.5 5.2M27.8 331.7l0.3 -5.1 0.7 -5.1 1.2 -5 0.6 -5 0.6 -5.1 -0.2 -5.1 0.6 -5.1 0.7 -5.1 0.7 -5 0.7 -5.1 0.1 -5.1 0.9 -5 0.1 -5.1 0.5 -5.1 1 -5 0.3 -5.1 0.5 -5.1 0.2 -5.1 0.5 -5.1 0.2 -5.1 0.7 -5.1M158.7 180.1l-2.6 -4.7 -3.7 -4 -3.4 -4.2M75.4 9.7l-3.2 3.9M156.5 9.5l4 5.7M182.9 53l-5 -5.6 -5 -5.5M116.2 15.5l5.2 -1.4 5.2 -1.3 4.9 -2.3 4.8 -2.3M72.7 39.5l-0.7 -0.2M55 13.1l1.5 5.4 1.4 5.3 2.8 4.9M65.1 31.7l-5.1 -1.8M36.8 124.7l0.4 5.2 0.1 5.2 0.6 5.2M27.8 118.5l-6.4 1.4 -6.5 0.6M172.9 85.1l-2.7 5.2 -0.3 5.8M110 195.2l6.4 -1.5 6.2 -1.9 5.7 -3.2M128.6 188.5l0.4 -0.5M148.9 29.8l0.1 0M149.2 66l-3.5 3.8 -4.5 2.3M173.8 85.4l-6.3 -1.6 -5.8 -3M157 96.4l-0.9 -5.9 0.9 -5.9M117.8 54.9l7 5.5M114 38.3l0.9 -5.7 0.4 -5.9 1.5 -5.7M92.5 54.9l-1.1 -5 -1.8 -4.9M1 89.4l0 -5.2 -0.7 -5.1M142.7 117.4l3.7 6.2 3.4 6.3M166 109.5l-4.8 6.1M138.4 94.5l-0.5 0.3M142 118l-5.1 -2.4M38.5 139.3l5.5 3.2 5.8 2.5M48.6 122.3l7.4 4.9M109.2 196.7l-4.3 -3 -4.4 -2.8M122.2 117.1l1.2 -1.2M18.1 44.9l-1.7 6.4 -1.8 6.4M15.1 189.4l5.8 -1.5 6 0.2 6 -0.2M71.7 188.7l-3.4 -1.1M132.6 156l6 -4.6M86.1 147.7l6.3 -3.1 5.7 -4.1M95.9 129.3l-5.9 -0.8 -5.7 1.1 -5.6 1.4M76.1 113.7l-5.7 2.1 -4.8 3.8M114.8 157l-6.3 -5.6M85.9 148.8l4 5.4 4.9 4.7M127.2 153.3l-6.3 1.6 -6.1 2.1M139.4 77.1l-7.1 -1.2 -7.2 0.2M107.6 68.8l1 0.9M82.8 82.7l1.9 -3M39.9 69l-3 -8M37 101.9l7.4 -2.7M46.5 90.6l4.8 -2.8 4.3 -3.7M58 58l-0.3 5.9 0.3 5.9M77.6 68.8l-4.7 0.1M54.4 167.4l-5.7 -2.8 -5.2 -3.9M55.2 166l0.5 5.7 -1.8 5.4M194.8 12.7l0.6 6.1 -2 5.9M198.7 86.7l-5 5.3 -5.6 4.7M179.7 122.7l-4.7 4.6 -2.5 6.2M164.8 184.8l5 6M140.3 222.4l-0.9 5.3 -1 5.4 -0.4 5.4 -0.1 5.4 0.4 5.5"/></g>
<g fill="none" stroke-linecap="round" stroke-linejoin="round" stroke-width="1.9" opacity="0.95"><path stroke="#fff" d="M179.5 10.7l5.3 2.6 5.1 2.9 5.5 2.3 5.2 2.8M159.5 180l-5.2 4.3 -4.7 4.8M-41.5 475.5l1.3 -4.9 0.6 -5.1 0.9 -5 0.5 -5.1 0.8 -5 1.4 -4.9 0.5 -5.1 1 -5 0.9 -4.9 0.8 -5.1 1.2 -4.9 0.9 -5 1.3 -5 0.6 -5 1 -5 0.7 -5 1.1 -5 0.6 -5.1 0.8 -5 1.5 -4.9 0.8 -5 0.8 -5 0.7 -5.1 0.5 -5 0.8 -5.1 0.8 -5 0.7 -5 1.4 -4.9 0.5 -5.1 1.3 -4.9 0.4 -5.1 1.3 -5 0.7 -5 0 -5.1 1 -5 1.5 -4.9 0.4 -5.1 1.2 -5 0.3 -5.1 0.5 -5.1 1.2 -4.9 0.9 -5 0.4 -5.1 0.6 -5.1 1 -4.9 1.3 -5 0.6 -5 0.2 -5.1 0.9 -5.1 0.6 -5 1.1 -5M18.1 227.7l-5.8 -2.2 -5.8 -2.1 -5.2 -3.6M142.2 216.8l-5 4.3 -2.5 6.1M-259.4 238.6l4.9 -0.7 5.1 0.5 5 -1.1 5 -0.3 5 0.1 5 -0.7 5 -0.4 5 -0.5 5 -0.4 5 0.1 5 -0.6 5 -0.1 5 -0.5 5 -0.3 5.1 0.1 4.9 -0.8 5 -0.3 5.1 -0.1 4.9 -0.9 5 -0.4 5.1 0.3 5 -0.5 5 -0.8 5 -0.5 5 0.2 5 -0.2 5 -1.1 5 0.3 5 -0.4 5 -0.6 5 -0.6 5 -0.6 5 -0.5 5 0.5 5 -1 5 0 5 -0.8 5 0.1 5 -0.6 5 -0.6 5 -0.5 5 0.1 5 -1 5 -0.2 5 -0.1 5.1 -0.1 5 -0.6 4.9 -0.7 5.1 0.1 4.9 -1 5 -0.6 5.1 0.1M1.3 219.8l-0.2 -0.2M0.8 219.4l0.3 0.2M139.7 214.2l2.5 2.6M139.7 214.2l-6.5 -3 -6.4 -3M126.8 208.2l-5.8 0.9 -5.4 2.5M115.6 211.6l0.4 7 0.4 6.9M0.8 219.4l-1.9 -4.8 -1.1 -5 -1.4 -4.9 -1.8 -4.8 -2.2 -4.6M120.8 -256.4l0.2 5.1 -0.7 5 0.5 5 -0.7 5 0 5 0.1 5 -0.6 5 0 5 -0.2 5 -0.5 5 0.5 5 0.1 5 -0.4 5 -0.5 5 0.3 5.1 -0.1 5 -0.8 5 0.1 5 0.1 5 -0.6 5 0.4 5 -0.4 5 0.3 5 -0.3 5 -0.5 5 -0.2 5 -0.1 5 0.4 5.1 -0.3 5 0.2 5 0 5 -0.4 5 -0.4 5 -0.1 5 0.1 5 -0.3 5 0.5 5 0 5.1 -0.3 5 0.1 5 0 5 -0.2 5 -0.3 5 0.1 5 0.1 5 -0.6 5 -0.1 5 0.4 5 0.3 5.1 0 5 -0.9 5 0.7 5 -0.6 5 0.1 5M94.1 5.1l5.5 1.8 5.1 2.9 5.5 1.7 5.1 2.6M-3.4 11l1.7 1.3M16.7 7.5l-5.8 2.7 -6.3 1.2 -6.3 0.9M-1.9 34.9l4.7 -3.5M-65.4 35.9l5.3 0 5.3 -0.5 5.3 -0.9 5.3 0.1 5.3 0 5.3 0.1 5.2 -0.5 5.3 0.2 5.3 0.4 5.3 0 5.3 0.3 5.3 -0.2M-1.7 12.3l1 6.5 1.9 6.2 1.6 6.4M196 55l-4.1 4.3 -4.2 4.2 -4.2 4.2M207.4 59.3l-3.9 4.6 -4.8 3.8 -3.9 4.7 -4.6 3.9M190.2 76.3l-4 -3.8 -2.7 -4.8M80.9 228.1l-4.9 -2.6 -5.5 -1.3M80.9 228.1l5.2 -3.9 4.8 -4.4M70.5 224.2l0.4 -5.6 0.9 -5.5 1 -5.5M90.9 219.8l0.4 -5.5M73.2 207.3l-0.4 0.3M73.2 207.3l5.3 2.8 5.8 1 5.8 0.7M90.1 211.8l1.2 2.5M57 226.8l6.8 -1 6.7 -1.6M96.2 225.3l-5.3 -5.5M114.4 210.8l1.2 0.8M114.4 210.8l-5.7 1.7 -5.7 0.8 -5.8 0.6 -5.9 0.4M52.7 11.7l1 1.6M52.7 11.7l-5.5 -2.2 -5.4 -2.3 -5.3 -2.6M53.7 13.3l-3.9 4.6 -4.1 4.5 -2.8 5.4 -3.4 5.1M36.5 4.6l-6.3 2.6 -4.4 5.1M39.5 32.9l-5.3 -3.5 -4.6 -4.3 -3.8 -5M25.8 12.3l0 7.8M69.3 -34.4l-1.9 5.1 -1.1 5.4 -1.8 5.1 -1.4 5.3 -1.9 5.1 -2.1 5 -2 5.1 -2.3 5 -2.1 5M16.7 7.5l4.3 2.8 4.8 2M2.8 31.4l8.6 1.9M11.4 33.3l5.1 -4.1 4.7 -4.5 4.6 -4.6M-1.9 34.9l-0.4 6.5 -0.3 6.6 -0.1 6.5M-4.2 171l2.3 2.1M-4.3 192.4l0.8 -6.4 1.5 -6.4 0.1 -6.5M-7.7 112.1l4.5 4.8 4.8 4.4 4.6 4.8M6.2 126.1l-4.8 4.1 -4.2 4.6M196 55l-6.8 -1 -6.8 -1.5M183.5 67.7l-6.9 -1.6M182.4 52.5l-3.6 6.5 -2.2 7.1M190.2 77.9l-7.4 6.5M190.2 77.9l4.4 3.3 4.5 2.8 4.4 3.2 4.7 2.6M182.8 84.4l1.7 6.1 1.7 6.1 3.1 5.7M190.2 76.3l0 1.6M176.6 66.1l-2.3 0.6M182.8 84.4l-6.7 -1M176.1 83.4l-1.5 -5.5 -0.4 -5.6 0.1 -5.6M72.8 207.6l-7.3 0.6 -7.1 1.6M58.4 209.8l-1.8 5 -0.7 5.2 -0.5 5.3M28.4 330.9l0.3 -5.1 0.7 -5 1.3 -5 0.5 -5.1 0.6 -5.1 -0.2 -5.1 0.6 -5.1 0.7 -5 0.7 -5.1 0.7 -5 0.1 -5.2 0.9 -5 0.1 -5.1 0.5 -5.1 1 -5 0.3 -5.1 0.5 -5.1 0.2 -5.1 0.5 -5.1 0.2 -5.1 0.7 -5M55.4 225.3l-5.3 -1.1 -5.4 -0.5 -5.4 0.7M159.5 180l-2.6 -4.8 -3.7 -3.9 -3.4 -4.2M149.8 167.1l2.5 -6.1 3.7 -5.4M53.7 13.3l1 0.4M75 9l-3.2 3.9M71.8 12.9l-5.7 -0.1 -5.7 0.5 -5.7 0.4M200.8 29.8l-5.4 1.6 -5.2 2.3 -5.3 1.8 -5.4 1.7 -5.4 1.6M179.5 10.7l-6.3 3 -6.7 2.2M166.5 15.9l1.2 5.9 2 5.7 1.7 5.8 2.7 5.5M157 8.7l4 5.7M166.5 15.9l-5.5 -1.5M182.4 52.5l-4.9 -5.6 -5 -5.5M172.3 66.1l2 0.6M172.3 66.1l-0.7 -5.8 -0.6 -5.7 -0.7 -5.7 -0.9 -5.8M169.4 43.1l3.1 -1.7M174.1 38.8l-1.6 2.6M115.3 14.1l0.4 0.6M115.7 14.7l5.1 -1.4 5.2 -1.3 4.9 -2.3 4.8 -2.3M148.7 30.1l4.5 -4.9 3.5 -5.7 4.3 -5.1M148.7 30.1l-8.5 -1.4M138.1 8.8l0.8 4.9 0.4 5 0.7 5 0.2 5M72.2 39.7l2.9 5.9M72.2 39.7l3.4 -4 3.5 -3.8 3.8 -3.6M75.1 45.6l5 -0.2 5.1 0.4 5.1 -0.2M82.9 28.3l1.4 -0.1M84.3 28.2l2.5 5.2 1.8 5.4 2.6 5.1M90.3 45.6l0.9 -1.7M74 19.4l-2.2 -6.5M89.7 9l1 5.1 1 5.1 -0.7 5.2M91 24.4l-6.7 3.8M74 19.4l4.3 4.5 4.6 4.4M72.2 39.7l-0.6 -0.3M74 19.4l-3.6 6.4 -4.9 5.4M71.6 39.4l-3.1 -4.1 -3 -4.1M54.7 13.7l1.5 5.3 1.4 5.4 2.8 4.9M65.5 31.2l-5.1 -1.9M10.9 125.2l2.1 4.9 2.7 4.5 2.5 4.7 2.9 4.4 2.7 4.5M38.1 139.4l-4.9 2.8 -4.8 2.9 -4.6 3.1M37 123.8l0.4 5.2 0.1 5.2 0.6 5.2M37 123.8l-8.3 -5.3M10.9 125.2l4.9 -4.7M28.7 118.5l-6.4 1.4 -6.5 0.6M1.1 219.6l3.7 -3.9 4.2 -3.5 3 -4.4 2.9 -4.5M-4.3 192.4l5.7 0.5 5.6 -0.1 5.6 0.9M14.9 203.3l-2.3 -9.6M189.3 102.3l-4.5 -2.3 -4.8 -1.4 -4.7 -2 -5 -0.7M176.1 83.4l-2.8 1.5M173.3 84.9l-2.7 5.2 -0.3 5.8M170.3 95.9l-5.6 3.8M164.7 99.7l1.1 5.1 0.9 5.3M166.7 110.1l5.3 0.3 5.3 -0.1 5 1.4 5.2 0.6 5.1 1.1 5 1.4M154.7 143.9l5.5 -3.1 5.1 -3.5 5 -3.7M154.7 143.9l0.4 5.5 0.5 5.6M156 155.6l-0.4 -0.6M126.8 208.2l-0.8 -6.4 0.8 -6.3 1.6 -6.2M114.4 210.8l-2.2 -4.8 -1.3 -4.9 -0.8 -5.2M110.1 195.9l6.4 -1.5 6.2 -1.9 5.7 -3.2M140.2 167.7l-3.7 -1.4M140.2 167.7l1.2 5.2 1.1 5.2 -0.2 5.4 0.7 5.3M136.5 166.3l-2.6 6.1 -2.8 6.1 -4.3 5.2M139.7 189.9l3.3 -1.1M139.7 189.9l-5.5 -0.2 -5.4 -0.9M128.8 188.8l-2 -5.1M149.8 167.1l-9.6 0.6M149.6 189.1l-6.6 -0.3M135.5 165l1 1.3M135.5 165l-5.8 2 -5.8 1.9 -6 1.5 -5.7 2.5M112.2 172.9l4.9 3.5 4.9 3.6 4.8 3.7M139.7 214.2l-1 -6.1 0.2 -6 -0.2 -6.1 1 -6.1M128.4 189.3l0.4 -0.5M148.7 30.1l0 0M169.4 43.1l-6.5 1.2M148.7 30.1l3.8 3.3 4.1 3 3.1 4 3.2 3.9M162.1 68l0.3 6.2 -1.2 6.1M162.1 68l-0.8 -0.6M161.3 67.4l-5.8 -0.4 -5.7 -0.4M156.8 84.2l4.4 -3.9M156.8 84.2l-5.8 -0.8 -5.2 -2.1 -5 -2.7M149.8 66.6l-3.5 3.7 -4.5 2.3M141.8 72.6l-1.6 4.8M140.8 78.6l-0.6 -1.2M172.3 66.1l-5.1 1.1 -5.1 0.8M173.3 84.9l-6.3 -1.6 -5.8 -3M162.9 44.3l-3.5 4.1M159.4 48.4l0.8 6.3 0.3 6.4 0.8 6.3M146.9 52.3l6.4 -1.4 6.1 -2.5M146.9 52.3l2.3 6.9 0.6 7.4M156.8 96l7.9 3.7M156.8 96l-0.9 -5.9 0.9 -5.9M156.8 96l-6.1 2.8M150.7 98.8l-6.7 -1.9 -6.2 -3.1M137.8 93.8l-0.2 -5.3 1 -5 2.2 -4.9M133.1 56.2l-3.4 -5.6 -1.1 -6.5M133.1 56.2l5.9 -2.8 6.3 -1.8M143.9 46.9l1.4 4.7M143.9 46.9l-5.3 -3.8 -5.3 -3.7M133.3 39.4l-4.7 4.7M124.9 60.7l7.5 -3.2M132.4 57.5l0.7 -1.3M117.8 42.4l5.6 -0.3 5.2 2M117.8 42.4l0.4 6.4 -0.4 6.5M117.8 55.3l7.1 5.4M146.9 52.3l-1.6 -0.7M132.4 57.5l3 5.1 3.2 5 3.2 5M148.7 30.1l-1.2 5.7 -1.2 5.7 -2.4 5.4M140.2 28.7l-3.9 1.4M136.3 30.1l-3 9.3M99.7 39.3l8.6 2.3M99.7 39.3l-2.5 -6.4 -0.3 -6.9M96.9 26l4.4 -2.4 4.6 -2 4.7 -1.9 4.8 -1.6M114.3 39.1l0.9 -5.7 0.5 -5.8 1.4 -5.7M114.3 39.1l-6 2.5M115.4 18.1l1.7 3.8M91.2 43.9l8.5 -4.6M104.1 55.5l-5.5 1 -5.5 -1M104.1 55.5l0.8 -7.4 3.4 -6.5M93.1 55.5l-1.1 -5 -1.7 -4.9M91 24.4l5.9 1.6M115.7 14.7l-0.3 3.4M136.3 30.1l-4.3 -3.2 -5 -1.6 -4.7 -2.3 -5.2 -1.1M117.8 42.4l-3.5 -3.3M107.4 58.8l5.5 -1 4.9 -2.5M107.4 58.8l-3.3 -3.3M93.1 55.5l-2.2 3.4M75.1 45.6l-1.5 5.6M73.6 51.2l4.9 4.2 3.2 5.6M90.9 58.9l-9.2 2.1M-2.2 92.2l3.1 -2.3M6.2 126.1l4.7 -0.9M15.8 120.5l-1.5 -4.9 -1.2 -5 -0.9 -5 -0.7 -5.1 0 -5.1M11.5 95.4l-5.2 -3 -5.4 -2.5M-7.8 71.9l3.7 4.2 4.2 3.6M0.9 89.9l-0.1 -5.1 -0.7 -5.1M14.9 203.3l1.8 0.5M18.1 227.7l6.4 -3.5 6.7 -3M16.7 203.8l3.1 4.7 3.9 4.1 3.5 4.5 4 4.1M39.3 224.4l-4.5 -3.7M31.2 221.2l3.6 -0.5M-1.9 173.1l6.9 0.7 7 0.8M12.6 193.7l2.4 -4.1M12 174.6l1.7 4.8 0.7 5.1 0.6 5.1M148.2 114.2l-5.6 3.5M148.2 114.2l6.9 1.1 6.9 0.9M142.6 117.7l3.7 6.2 3.4 6.3M149.7 130.2l5.2 -1 5.2 -0.2 5.2 -0.4M165.3 128.6l-1.3 -6.3 -2 -6.1M150.7 98.8l-0.6 5.2 -1.1 5.1 -0.8 5.1M166.7 110.1l-4.7 6.1M154.7 143.9l-7.8 -5.4M170.3 133.6l-5 -5M146.9 138.5l2.8 -8.3M121.5 96.1l5.4 0.4 5.3 -0.8 5.1 -1.5M121.5 96.1l1.7 6.3 0.1 6.5 -0.6 6.4M137.3 94.2l-0.7 5.2 -0.6 5.3 1 5.3 0.3 5.3M122.7 115.3l7.3 -0.6 7.3 0.6M137.8 93.8l-0.5 0.4M142.4 117.7l0.2 0M142.4 117.7l-5.1 -2.4M37 123.8l5.9 -1.5 6 -0.5M38.1 139.4l5.4 3.2 5.9 2.5M49.4 145.1l3.3 -2.5M52.7 142.6l1.2 -5.3 1.1 -5.3 1.3 -5.3M48.9 121.8l7.4 4.9M73.2 207.3l-0.9 -6.4 -1.1 -6.4 0.6 -6.5M90.1 211.8l1.1 -6.6 2.1 -6.3 0.9 -6.7M71.8 188l5.4 -1.5 5.5 -1.5M82.7 185l5.9 3.4 5.6 3.8M110.1 195.9l-4.3 -3 -4.4 -2.8M94.2 192.2l7.2 -2.1M121.4 116.5l1.3 -1.2M115.6 117.4l5.8 -0.9M105.4 114.2l-1.4 -5.3 -0.8 -5.4 0.8 -5.5M105.4 114.2l5.1 1.7 5.1 1.5M121.5 96.1l-1.5 -1.3M120 94.8l-5.2 1.7 -5.3 1.4 -5.5 0.1M105.4 114.2l-7.9 3.7M97.5 117.9l-5.2 -3.2 -5.8 -2M86.5 112.7l1.6 -6.2 -0.1 -6.4M88 100.1l6.7 -0.8 5.7 -3.3M104 98l-3.6 -2M71.6 39.4l-6.9 1 -6 3.3M60.4 29.3l-4.3 5.3 -5.4 4.3M58.7 43.7l-8 -4.8M39.5 32.9l0 0.1M39.5 33l5 3.5 5.5 2.4M50.7 38.9l-0.7 0M11.4 33.3l3.4 5.4 3.5 5.3M39.5 33l-2.9 5.3 -4.3 4.4M32.3 42.7l-7 0.5 -7 0.8M-2.7 54.5l5.7 1.5 5.9 0.3 5.8 0.5M18.3 44l-1.7 6.4 -1.9 6.4M16.1 68.2l-5.3 3.8 -5.5 3.6 -5.2 4.1M16.1 68.2l1.6 -5.5M14.7 56.8l3 5.9M11.5 95.4l5.2 -3.2 6 -1.1M28.7 118.5l2.8 -5.5 1.9 -6 2.8 -5.6M36.2 101.4l-4 -4.1 -4.8 -3.1 -4.7 -3.1M16.1 68.2l4 4.2 3.7 4.5 2.6 5.2M22.7 91.1l3.7 -9M12 174.6l5.1 -2.8 3.8 -4.5M15 189.6l5.8 -1.4 6 0.2 5.9 -0.3M32.7 188.1l1.2 -5.2 -0.8 -5.1 -1.3 -5M20.9 167.3l5.2 3.2 5.7 2.3M-2.2 152.4l5.3 1.9 5.5 1.1 5.6 -0.2 5.6 0.3M20.9 167.3l-1.3 -5.8 0.2 -6M23.8 148.2l-0.1 1.1M23.7 149.3l-3.9 6.2M32.7 188.1l0.2 0.2M16.7 203.8l5.2 -0.6 5.2 -0.4 4.9 -2.1M32.9 188.3l-1.2 6.1 0.3 6.3M34.8 220.7l1.9 -6.2 0.9 -6.3M37.6 208.2l-5.6 -7.5M58.4 209.8l-3.1 -4.2 -3 -4.3M37.6 208.2l4.9 -2.4 4.6 -2.9 5.2 -1.6M71.8 188l-3.5 -1.2M52.3 201.3l0.3 -1.6M68.3 186.8l-3.8 3.4 -3.7 3.6 -4.2 2.8 -4 3.1M32.9 188.3l6 0.2 5.9 0.6M52.6 199.7l-3.4 -5.7 -4.4 -4.9M68.3 186.8l-1.6 -2.2M82.7 185l2.5 -6.5 -0.3 -6.9M70.6 159.8l4.5 4.3 4.8 4 5 3.5M70.6 159.8l-1.4 0.9M69.2 160.7l-0.8 6 -0.6 5.9 -0.8 6 -0.3 6M132.3 155.5l6 -4.6M132.3 155.5l-5.2 -2.3M127.1 153.2l-1.5 -5.5 -0.5 -5.7 -0.6 -5.8M138.3 150.9l1.1 -5.7 2.7 -5.2M142.1 140l-8 -5.6M134.1 134.4l-8.7 0.6M125.4 135l-0.9 1.2M155.6 155l-6 -0.4 -5.6 -1.9 -5.7 -1.8M135.5 165l-0.8 -5 -2.4 -4.5M146.9 138.5l-4.8 1.5M142.4 117.7l-1.7 6.1 -2.9 5.5 -3.7 5.1M121.4 116.5l1.2 6.2 1.1 6.2 1.7 6.1M115.6 117.4l-2.1 4.7 -2.4 4.5 -2.3 4.6M108.8 131.2l3.6 3.9 4.9 2.3M117.3 137.4l7.2 -1.2M108.8 131.2l-1.5 6.7 -3.6 5.8M108.8 131.2l-5.6 -1.4 -5.7 -1.2M97.5 128.6l-1.1 1.6M96.4 130.2l0.4 5.3 0.5 5.3M97.3 140.8l6.4 2.9M107.9 148.3l5.1 -5.2 4.3 -5.7M107.9 148.3l-4.2 -4.6M108.8 131.2l0 0M97.5 117.9l0.2 5.3 -0.2 5.4M84.8 147.9l-4.3 2.5 -4.4 2.4 -4 3M84.8 147.9l-0.9 -5.7 -2.4 -5.1 -2.4 -5.2M71.9 132.1l-3.2 6.3 -3.4 6.3M71.9 132.1l7 -0.4M65.3 144.7l2.6 6.1 4.2 5M78.9 131.7l0.2 0.2M85.3 148l6.3 -3.1 5.7 -4.1M96.4 130.2l-5.9 -0.9 -5.7 1.1 -5.7 1.5M85.3 148l-0.5 -0.1M52.7 142.6l6.2 2.1 6.4 0M56.3 126.7l6 -1M62.3 125.7l4.5 3.6 5.1 2.8M82.5 115.1l-6.8 -2M82.5 115.1l-1.9 5.4 -1 5.6 -0.7 5.6M75.7 113.1l-5.8 2.1 -4.7 3.8M62.3 125.7l2.9 -6.7M86.5 112.7l-4 2.4M94.1 158.1l-0.5 8M94.1 158.1l5.1 -1.6 4.8 -2.3 4.5 -2.9M93.6 166.1l5 2.9 5 2.8 5.2 2.5M114.8 156.9l-6.3 -5.6M114.8 156.9l-1.3 5.2 -0.9 5.3 -0.6 5.4M112 172.8l-3.2 1.5M85.3 148l4 5.4 4.8 4.7M70.6 159.8l1.5 -4M84.9 171.6l4.8 -2.1 3.9 -3.4M107.9 148.3l0.6 3M101.4 190.1l2.2 -5.4 2.4 -5.3 2.8 -5.1M127.1 153.2l-6.2 1.6 -6.1 2.1M112.2 172.9l-0.2 -0.1M140.2 77.4l-7.1 -1.2 -7.2 0.2M120 94.8l-0.9 -8M119.1 86.8l3.2 -5.3 3.6 -5.1M124.9 60.7l-3.2 8.3M121.7 69l4.2 7.4M99.7 85.1l5.1 -1.8 4.4 -3.3M99.7 85.1l-3.6 -4.2 -4.7 -2.9M95.2 70.9l-3.8 7.1M95.2 70.9l6.6 -0.9 6.4 -1.4M109.2 80l0.5 -5.2 -0.5 -5.3M108.2 68.6l1 0.9M100.4 96l-0.6 -5.5 -0.1 -5.4M119.1 86.8l-4.2 -4.5 -5.7 -2.3M85 79.4l6.4 -1.4M83.2 82.4l1.8 -3M83.1 95.6l-0.7 -6.6 0.8 -6.6M88 100.1l-4.9 -4.5M90.9 58.9l2.6 5.8 1.7 6.2M81.7 61l-4.2 8.1M77.5 69.1l4.2 4.8 3.3 5.5M107.4 58.8l0.8 9.8M121.7 69l-6.3 -0.4 -6.2 0.9M32.3 42.7l2.4 5.1 2.1 5.3 1.8 5.4M50 38.9l-0.6 5.4 -1.1 5.3 -1.7 5.2M46.6 54.8l-8 3.7M17.7 62.7l6.5 0.3 6.5 -0.4 6.5 -1.1M35.5 79l-9.1 3.1M35.5 79l1.2 -5.4 3.6 -4.1M40.3 69.5l-3.1 -8M37.2 61.5l1.4 -3M49.4 145.1l-0.2 3.4M69.2 160.7l-2.8 0.3M66.4 161l-4.8 -2.5 -4.3 -3.1 -4.4 -2.9 -3.7 -4M23.7 149.3l5.2 2.3 5 2.7 5 2.8 5.4 1.9M49.2 148.5l-2.8 5.1 -2.1 5.4M75.7 113.1l-2.7 -4.5 -2.6 -4.7 -3.9 -3.7M65.2 119l-1.4 -4.9 -2.6 -4.5 -2.1 -4.7M59.1 104.9l7.4 -4.7M48.9 121.8l0.7 -5.5 1.2 -5.4 1.9 -5.2M59.1 104.9l-6.4 0.8M36.2 101.4l7.4 -2.8M52.7 105.7l-4.7 -3.4 -4.4 -3.7M35.5 79l3 4.4 3.7 3.8 3.5 4M43.6 98.6l2.1 -7.4M83.1 95.6l-5.1 1.6 -5.2 0.8 -5.3 0.1M67.5 98.1l-1 2.1M45.7 91.2l4.8 -2.8 4.3 -3.7M40.3 69.5l7.2 0.7 6.5 3.2M54 73.4l-0.5 5.7 1.3 5.6M67.5 98.1l-3 -9.1M54.8 84.7l5.1 1.6 4.6 2.7M83.2 82.4l-7 0.7 -7 0.7M69.2 83.8l-4.7 5.2M60.1 56.4l-1.5 1.3M60.1 56.4l7.2 -1.1M58.6 57.7l-0.3 5.9 0.3 5.9M67.3 55.3l0.5 5.2 2.2 4.5 2.9 4.3M58.6 69.5l9.1 2.1M72.9 69.3l-5.2 2.3M58.7 43.7l-0.7 6.5 2.1 6.2M46.6 54.8l6.2 0.7 5.8 2.2M73.6 51.2l-6.3 4.1M54 73.4l4.6 -3.9M77.5 69.1l-4.6 0.2M69.2 83.8l0.4 -6.2 -1.9 -6M55.3 166.6l-5.8 -2.8 -5.1 -3.9M55.3 166.6l0.5 5.7 -1.8 5.5M51 178.9l3 -1.1M51 178.9l-5.4 -1.8 -5.1 -2.3 -4.3 -3.8M36.2 171l4.8 -5 3.4 -6.1M66.4 161l-5.4 3.1 -5.7 2.5M44.3 159l0.1 0.9M66.7 184.6l-5.9 -4.3 -6.8 -2.5M44.8 189.1l3.2 -5 3 -5.2M31.8 172.8l4.4 -1.8M193 -20l0.2 5.5 0.1 5.5 0.4 5.5 0.3 5.5 0.1 5.5 -0.1 5.5M194 13l0.6 6.1 -2 5.9M192.6 25l-0.3 5 0.1 5 -0.9 5M191.5 40l3 4.1 1.5 4.9M196 49l3.5 6.1 3.9 5.9M203.4 61l-0.6 5.7 2.2 5.3M205 72l-2 8M203 80l-4.4 6M198.6 86l-5 5.4 -5.6 4.6M188 96l-0.4 5.7 -0.5 5.7 -1.6 5.6M185.5 113l-2.9 4.8 -3.1 4.7M179.5 122.5l-4.8 4.6 -2.4 6.2M172.3 133.3l-0.9 5.8 -0.4 5.9M171 145l2 8M173 153l-1.8 5.9 -1 6 -0.2 6.1M170 171l-1.7 4.8 -1.6 4.8 -2.7 4.4M164 185l5 6M169 191l5.7 1.3 5.3 2.7M180 195l8 -3M188 192l-7 5M181 197l-6.8 1.1 -6.7 1.9M167.5 200l-7.2 -1.8 -7.3 0.8M153 199l-3.7 4.6 -2.3 5.4M147 209l-2.8 4.4 -2.5 4.6 -1.7 5M140 223l-0.9 5.4 -1 5.3 -0.4 5.4 -0.1 5.4 0.4 5.5"/></g>
</g>
<linearGradient id="gA" x1="0" y1="0" x2="0" y2="1"><stop offset="0" stop-color="#ff1060"/><stop offset="0.12" stop-color="#ff20ff"/><stop offset="0.3" stop-color="#6030ff"/><stop offset="0.45" stop-color="#20a0ff"/><stop offset="0.55" stop-color="#10ffff"/><stop offset="0.72" stop-color="#20ff40"/><stop offset="0.86" stop-color="#e0ff20"/><stop offset="1" stop-color="#ff3000"/></linearGradient>
<rect x="1.50" y="68.50" width="24.00" height="8.00" fill="#000" stroke="none" stroke-width="1" />
<text x="2.40" y="76.00" font-size="8.0" text-anchor="start" fill="#f4f4f4" font-weight="normal" >600 s</text>
<rect x="8.00" y="79.00" width="6.00" height="52.50" fill="url(#gA)" stroke="none" stroke-width="1" />
<rect x="5.00" y="133.00" width="14.00" height="8.00" fill="#000" stroke="none" stroke-width="1" />
<text x="6.00" y="140.20" font-size="8.0" text-anchor="start" fill="#f4f4f4" font-weight="normal" >0 s</text>
<rect x="176.50" y="216.40" width="29.50" height="2.60" fill="#fff" stroke="none" stroke-width="1" />
<text x="182.40" y="214.60" font-size="8.0" text-anchor="start" fill="#f4f4f4" font-weight="normal" >2 μm</text>
<clipPath id="cpb"><rect x="216" y="13" width="210" height="209.5"/></clipPath>
<rect x="216.00" y="13.00" width="210.00" height="209.50" fill="#000" stroke="none" stroke-width="1" />
<g clip-path="url(#cpb)">
<g fill="none" stroke-linecap="round" stroke-linejoin="round" stroke-width="1.6" stroke-dasharray="1.6 0.7" opacity="0.5"><path stroke="#26d5c" d="M368.8 23.7l6.6 -2.6 7 -1.2M410 152l-2.2 5.2 -1.5 5.6 -2.3 5.2"/><path stroke="#cadf2f" d="M207.2 189.9l2.4 6.1 3 5.8 2.7 6"/><path stroke="#a2e337" d="M215.3 207.8l-4.4 4.7 -4.1 5.1"/><path stroke="#d4de2d" d="M208.7 91.6l5.7 -4.5"/><path stroke="#f5a822" d="M214.4 87.1l-2.7 -4.4 -2 -4.8 -1.4 -4.9M226.4 69.2l6 -2.2"/><path stroke="#60e179" d="M295.9 11l-1.1 -5.2 -1.2 -5.2 -1.2 -5.2 -1.1 -5.2 -1.1 -5.2 -1.4 -5.1 -1.2 -5.2 -1.4 -5.1 -1.1 -5.2 -1.5 -5.2 -1.3 -5.1 -1.2 -5.2 -1.2 -5.2 -1.7 -5 -1.2 -5.2"/><path stroke="#59e083" d="M295.3 11.4l-5.2 -0.9 -5.3 -0.7 -5.3 -0.7 -5.3 -0.2"/><path stroke="#d6de2" d="M320.6 74.5l0.8 -5.2 0.8 -5.1 1 -5.1M262.9 55.6l5 5.6 6.4 3.9"/><path stroke="#5de17" d="M368.5 186.2l-2.1 6.8 -0.8 7"/><path stroke="#a3e337" d="M244.9 207.1l7.1 5.6"/><path stroke="#bde132" d="M244.9 207.1l2.7 -5.8 2.9 -5.7 2.8 -5.7M226.4 103.1l-0.6 0.7"/><path stroke="#f5a622" d="M252 212.7l4.8 -1.8 4.3 -2.5 4.8 -1.8"/><path stroke="#dddd2b" d="M252 212.7l0.7 6.4 0.3 6.4M291.8 44.6l-2.4 9.5"/><path stroke="#e4dd2a" d="M215.3 207.8l4.1 -1.5"/><path stroke="#c0e031" d="M232.6 225.2l-0.2 -5.7 1.4 -5.6M235.3 29.3l0.9 0.6"/><path stroke="#f5ad22" d="M244.9 207.1l-3.5 0.1"/><path stroke="#ccdf2f" d="M241.4 207.2l-3.6 3.6 -4 3.1"/><path stroke="#ace235" d="M221.3 87.8l1.1 5.3 2.4 4.8 1.6 5.2M236.2 24.4l-2.3 -4.6 -3 -4.3 -2 -4.9"/><path stroke="#f0d327" d="M214.4 87.1l6.9 0.7M216.8 11.4l6.1 -0.1 6 -0.7M242.1 163.8l-1.9 7.4M273.3 47.1l5 1.6 4.3 2.7 4.1 3.1"/><path stroke="#f2c725" d="M225.8 103.8l-7.2 0.9 -7.3 0.1M205.2 34.4l5.9 -3.5 4.1 -5.5"/><path stroke="#f1cf26" d="M208.1 132.7l3.9 -6.2 2.3 -6.9M215.6 140.2l-0.4 2.7M220.2 164.6l2.9 5.6 4.7 4.2"/><path stroke="#f4721c" d="M214.3 119.6l-3.7 -4.6 -4.2 -4.2"/><path stroke="#f79920" d="M225.7 84.1l5.5 1.1 5.5 1.4 5.7 0.1"/><path stroke="#f2c525" d="M221.3 87.8l4.4 -3.7M243.1 47.3l-1.8 5"/><path stroke="#f5751c" d="M226.4 103.1l7.4 -1"/><path stroke="#efdc28" d="M233.8 102.1l3.2 -4.9 3 -5.1 2.4 -5.4M215.2 25.4l0.6 -5.5 -1.9 -5.2"/><path stroke="#f2c325" d="M208.1 132.7l4 3.5 3.5 4"/><path stroke="#f1cd26" d="M207.2 152.2l3.3 -5.2 4.7 -4.1"/><path stroke="#cfdf2e" d="M274.2 8.9l-2.4 2.5M242.4 86.7l1.7 -0.7M236.2 24.4l3.9 -4 3.9 -4 4.7 -3.1"/><path stroke="#d5de2d" d="M199.6 -246.1l0.3 5.1 0 5 0.6 5.1 0.3 5 0.5 5.1 0.1 5 0.3 5.1 0.1 5 0.4 5.1 0.7 5 0 5.1 0.7 5 0.1 5.1 0.3 5 0.2 5.1 0.9 5 0.2 5 0.3 5.1 0 5.1 0.7 5 0 5.1 0 5 0.8 5 0.5 5.1 0 5 0.5 5.1 0.3 5 0.6 5.1 -0.1 5 0.6 5.1 -0.2 5.1 0.8 5 0.1 5 0.2 5.1 0.3 5 1.1 5 -0.4 5.1 1.1 5 -0.4 5.1 0.5 5.1 0.8 5 0 5.1 0.5 5 0.4 5 0.2 5.1 0.5 5 0.2 5.1 0.3 5 1 5 -0.2 5.1 0.5 5.1M272.8 37.7l-5 -0.4 -5 -1.2 -5 -0.8"/><path stroke="#79e455" d="M213.9 14.7l2.9 -3.3"/><path stroke="#22c1d" d="M367.3 158.3l6.4 -2.9 6.5 -2.5"/><path stroke="#f1d126" d="M233.8 102.1l4.7 3.6 4.8 3.3M226.6 32.2l-6.3 -2.4 -5.1 -4.4"/><path stroke="#8fe53b" d="M256.2 30.9l-5 0.3 -5 0.1 -5 -1.2 -5 -0.2"/><path stroke="#85e545" d="M256.2 30.9l1.6 4.4"/><path stroke="#92e53a" d="M257.8 35.3l-1.2 3.2M231.7 193.7l-5.1 1"/><path stroke="#f0d527" d="M256.6 38.5l-4.2 3.4 -4.5 2.9 -4.8 2.5"/><path stroke="#8be53c" d="M236.2 29.9l1.8 6 2.1 5.9 3 5.5"/><path stroke="#dade2c" d="M256.5 29.7l4.1 -3 4.1 -2.9 3.4 -3.7 3.3 -3.8"/><path stroke="#76e359" d="M279.9 31.5l-2.3 -5.4 -2.6 -5.2 -3.6 -4.6M213.5 184.8l2.8 0.2"/><path stroke="#9ce438" d="M279.9 31.5l-7.1 6.2"/><path stroke="#aee235" d="M256.5 29.7l-0.3 1.2"/><path stroke="#90e53b" d="M263 55.2l-1.5 -5.9 -2.2 -5.5 -2.7 -5.3"/><path stroke="#33ddb7" d="M263 55.2l5.5 -3.7 4.8 -4.4"/><path stroke="#64e273" d="M273.3 47.1l-0.5 -9.4"/><path stroke="#70e363" d="M295.3 11.4l-2.2 6.3 -0.4 6.6"/><path stroke="#cddf2e" d="M271.8 11.4l-0.4 4.9"/><path stroke="#9ee438" d="M279.9 31.5l2.9 0.4"/><path stroke="#73e35e" d="M292.7 24.3l-4.2 4.7 -5.7 2.9"/><path stroke="#3cdeab" d="M291.8 44.6l-2.9 -4.3 -3.3 -4 -2.8 -4.4"/><path stroke="#43dea1" d="M208.3 73l4.4 -4 4.4 -4.1"/><path stroke="#8ce53b" d="M225.7 84.1l0.3 -7.5 0.4 -7.4"/><path stroke="#c4e030" d="M226.4 69.2l-4.2 -3 -5.1 -1.3M226.2 135.6l9.2 1.8"/><path stroke="#f1cb26" d="M107.8 67.7l5.1 -0.6 5 -0.9 5.1 -1 5 -0.8 5.1 -0.9 5.1 -0.2 5 -1.2 5.1 -0.7 5.1 -0.8 5.1 -0.5 5.1 -0.7 5.1 -0.4 5 -1.4 5.1 -0.4 5.1 -0.3 5.1 -0.7 5 -1.3 5.1 -0.3 5.2 -0.2 5.1 -0.6 5 -1.1M223.6 46.8l-8.5 4.6M231.8 155.1l-5.6 1.1"/><path stroke="#f79820" d="M217.1 64.9l-2 -5.9 -0.7 -6.3"/><path stroke="#74e35d" d="M205.2 34.4l2.4 6.2 3.1 5.8 4.4 5"/><path stroke="#f3bc24" d="M226.6 32.2l-1.4 7.3 -1.6 7.3"/><path stroke="#f1d226" d="M214.4 52.7l0.7 -1.3"/><path stroke="#7ee44f" d="M249.2 11l-0.5 2.3"/><path stroke="#f1ce26" d="M226.6 32.2l8.7 -2.9"/><path stroke="#bfe031" d="M235.3 29.3l0.9 -4.9"/><path stroke="#c2e031" d="M256.5 29.7l-2.9 -5.3 -2.4 -5.6 -2.5 -5.5M242.1 163.8l-4.7 -4.9 -5.6 -3.8M245.2 82.5l-1.9 -7.6"/><path stroke="#3bdda" d="M399.4 145.1l4.6 3.9 5.3 2.7 5.2 2.9 5.5 2.3"/><path stroke="#eddc28" d="M239.5 120.1l-2.1 5.6 -1 5.8 -1 5.9"/><path stroke="#e3dd2a" d="M239.5 120.1l-7 -2.3 -7.3 -0.8"/><path stroke="#e1dd2a" d="M223.4 118.8l1.1 5.6 0.6 5.6 1.1 5.6"/><path stroke="#f0d827" d="M242.3 118.3l-2.8 1.8M243.3 109l-1 9.3"/><path stroke="#b2e234" d="M237.6 139.6l6 1.4 6.2 0.5"/><path stroke="#f0d727" d="M225.8 103.8l-1.3 6.6 0.7 6.6"/><path stroke="#f4b223" d="M214.3 119.6l9.1 -0.8"/><path stroke="#d0df2e" d="M215.6 140.2l5.4 -2 5.2 -2.6"/><path stroke="#d6de2d" d="M219.4 206.3l3.4 -6 3.8 -5.6"/><path stroke="#f3b924" d="M216.3 185l4.4 5.6 5.9 4.1"/><path stroke="#f8931f" d="M253.3 189.9l-5.9 -0.3 -6 -0.4 -6 -0.4"/><path stroke="#afe234" d="M241.4 207.2l-3.3 -4.5 -3 -4.6 -3.4 -4.4"/><path stroke="#f2c825" d="M240.2 171.2l-6.2 4.3"/><path stroke="#f0db27" d="M220.2 164.6l2.9 -4.3 3.1 -4.1"/><path stroke="#c7e030" d="M234 175.5l-6.2 -1.1"/><path stroke="#f9831e" d="M237.6 139.6l-1.4 5.4 -2.1 5 -2.3 5.1"/><path stroke="#99e439" d="M235.4 188.8l0 -6.7 -1.4 -6.6"/><path stroke="#f1d026" d="M216.3 185l4.3 -2.9 3.6 -3.9 3.6 -3.8"/><path stroke="#cedf2e" d="M212 165.1l8.2 -0.5"/><path stroke="#81e44a" d="M215.2 142.9l3.5 4.6 3.5 4.5 4 4.2"/><path stroke="#aae235" d="M243.3 74.9l-5.3 -4.2 -5.6 -3.7"/><path stroke="#f4b623" d="M232.4 67l2.4 -7.1 3.7 -6.5"/><path stroke="#d7de2c" d="M241.3 52.3l-2.8 1.1"/><path stroke="#77e358" d="M245.2 82.5l-1.1 3.5"/><path stroke="#c6e030" d="M223.6 46.8l5.3 1.4 5.1 1.9 4.5 3.3"/><path stroke="#85e544" d="M286.7 54.5l2.7 -0.4"/><path stroke="#a9e336" d="M289.4 54.1l0.7 0.6"/><path stroke="#46df9" d="M305.5 141.6l5.9 -6.6"/><path stroke="#d5de2" d="M299.5 146.2l-4.9 -2 -5.1 -0.7 -5.2 0.1M302.8 142.3l-3.3 3.9"/><path stroke="#22c0d" d="M296.2 169l2.3 -8.6"/><path stroke="#68e26" d="M359.1 97.6l-5.7 0.3 -5.5 -1.8"/><path stroke="#d4de2" d="M262.4 120.1l8.2 4.2"/><path stroke="#7fe44" d="M270.6 124.3l6.5 -3.4 5.9 -4.4"/></g>
<g fill="none" stroke-linecap="round" stroke-linejoin="round" stroke-width="1.6" stroke-dasharray="1.6 0.7" opacity="0.9"><path stroke="#54e08a" d="M350.2 6.8l5.1 2.1 5.1 2 5.1 2"/><path stroke="#48df9a" d="M374.6 1.6l-4.4 5.8 -4.7 5.5M421 80l-0.9 5 0.1 5 -0.7 5 0.2 5 0.2 5 0.1 5"/><path stroke="#5be180" d="M374.6 1.6l3.8 3.8 3.9 3.8 4.2 3.4"/><path stroke="#5ae180" d="M395.6 10.1l-9.1 2.5"/><path stroke="#60e179" d="M414.4 60.3l-3.7 -8.8M343 80.3l-4.7 4.5 -5 4.1"/><path stroke="#4edf92" d="M394.8 46l-0.1 0.8M385.6 195.3l5.1 2.2 4.9 2.8 5 2.4 5.2 2M325.5 35.5l0.6 2.4"/><path stroke="#98e439" d="M394.7 46.8l3.8 3.6"/><path stroke="#4bdf95" d="M398.5 50.4l6.1 0 6.1 1.1M357.7 63.5l-5 -2.4 -5.4 -1.1M330.5 171.8l5.2 5.4 6 4.4"/><path stroke="#4bdf96" d="M391.2 68.7l1.5 5.3 -0.3 5.5M391.2 68.7l3.8 -3.5 4.5 -2.6M392.4 79.5l1.7 1.3M400.6 136.2l-1.2 8.9M375.8 125.7l-5.6 1.1 -5.3 -1.7"/><path stroke="#22bedf" d="M399.5 62.6l5.3 1.5 5 2.3"/><path stroke="#6fe363" d="M410.4 72.1l-4.8 3.6 -5.3 2.7 -5.5 2.4M296.2 169l-5.7 3.3 -6.5 1.2"/><path stroke="#25cdd3" d="M410.4 72.1l-0.6 -5.7M361 44.8l2.1 0.6"/><path stroke="#47df9c" d="M394.8 80.8l-0.7 0M341.7 181.6l2.6 -0.6"/><path stroke="#3edea8" d="M398.5 50.4l0.2 6.1 0.8 6.1M369.1 223.4l1.5 -4.8M345.9 31.6l-6.7 -1.1 -6.6 -1.8M293.6 125.2l-4.5 -5.4 -6.1 -3.3"/><path stroke="#30dcbb" d="M414.4 60.3l-4.6 6.1M385.6 195.3l-6.3 5.2"/><path stroke="#20b6e6" d="M409.3 91.9l2.9 -4.3 3.3 -3.8 3.9 -3.4"/><path stroke="#26d5cc" d="M409.3 91.9l-5.3 -3.1 -5 -3.4 -4.2 -4.6"/><path stroke="#24c9d6" d="M419.4 80.4l-4.7 -4 -4.3 -4.3M409.3 96.3l-5.9 1.1 -5.4 2.6 -5.3 2.6M355.7 80l-5.5 2 -5.7 -1"/><path stroke="#27dac9" d="M409.3 91.9l0 4.4"/><path stroke="#41dea3" d="M409.3 96.3l5.8 7"/><path stroke="#27d9c9" d="M382.7 53.5l-3.1 -4.6 -3.1 -4.6 -4.6 -3.3M394.8 46l-1.9 -6.6 -4.3 -5.5M372.9 71.7l-6.2 -1.6 -6.4 0.6M343.1 124.7l-0.6 -3.8"/><path stroke="#3fdea7" d="M377.8 61.7l3 -1.6M387.1 180.2l-2.7 -4.4 -3.3 -4.1M333 45.9l-3.4 -4 -3.5 -4M359.1 97.6l1.7 2.8M400 32l3.2 4.1 3.6 3.8 3.2 4.1"/><path stroke="#25cfd2" d="M377.8 61.7l-7.2 -0.8 -6 -3.9"/><path stroke="#3ddeaa" d="M364.6 57l0.8 -6 -2.3 -5.6M375.2 84.8l-6.6 0.8 -6.7 0.6"/><path stroke="#44de9f" d="M363.1 45.4l8.8 -4.4"/><path stroke="#22bfde" d="M394.7 46.8l-6 3.3 -6 3.4"/><path stroke="#27dbc8" d="M391.2 68.7l-5.3 -4.2 -5.1 -4.4M349.9 168.7l-3.2 6 -2.4 6.3M388.8 228l-0.7 -7 -3 -6.3M381.1 171.7l4.2 -6 3.2 -6.6M283.4 137.5l3 -4.2 3.4 -3.8 3.7 -3.5"/><path stroke="#27d8cb" d="M373 37.8l5 -2.1 5.3 -0.8 5.3 -1"/><path stroke="#cadf2f" d="M373 37.8l-1.5 -7.2 -2.7 -6.9M341.2 64.3l-5.2 -4.1 -5.8 -3M267.3 227.3l2.7 -6.4 0.5 -6.8M274.7 93.3l1 9.3"/><path stroke="#20b8e4" d="M382.4 19.9l2.8 6.1 4.2 5.1M420 110l-0.6 5 -0.6 5 0 5 0 5 0.2 5"/><path stroke="#73e35e" d="M388.6 33.9l0.8 -2.8"/><path stroke="#1fb3e8" d="M371.9 41l1.1 -3.2"/><path stroke="#a9e336" d="M351.7 29.1l3.2 5.2 3.2 5.2 2.9 5.3"/><path stroke="#55e087" d="M351.7 29.1l5.9 -1 5.6 -1.8 5.3 -2.8M343 80.3l1.5 0.7"/><path stroke="#32ddb9" d="M368.5 23.5l0.3 0.2M414.8 127.2l-4.5 3.3 -4.4 3.5 -5.3 2.2"/><path stroke="#56e086" d="M368.5 23.5l-1.6 -5.3 -1.4 -5.3M300.4 176.7l7.9 1.7"/><path stroke="#27d7cb" d="M386.5 12.6l-4.1 7.3"/><path stroke="#42dea2" d="M351.7 29.1l-1 -0.2M333.3 88.9l1.3 5.5 -0.2 5.7"/><path stroke="#4cdf94" d="M350.7 28.9l-2 -6.3 -1.5 -6.4 -0.8 -6.6"/><path stroke="#37ddb2" d="M361 44.8l-6.2 2.9 -6.5 2.4M365.2 172.6l-1 5.7M364.5 204.6l1.2 5 2.3 4.6 2.6 4.4"/><path stroke="#55e088" d="M357.7 63.5l6.9 -6.5M392.4 79.5l-5.4 0.5 -5.3 0.8 -5.2 1.9M390.3 100.6l2.4 2M380.4 117.5l-3.6 -5 -3.7 -4.9"/><path stroke="#43dea0" d="M347.3 60l1 -9.9"/><path stroke="#53e08b" d="M377.8 61.7l-1.8 5.3 -3.1 4.7"/><path stroke="#bbe132" d="M372.9 71.7l1.7 5.5 1.9 5.5M312.8 105.2l6.5 -3.5"/><path stroke="#64e273" d="M357.7 63.5l2.6 7.2M315.3 54.1l3.8 -5.3 3.7 -5.3 3.3 -5.6"/><path stroke="#6ee364" d="M394.1 80.8l-0.2 5.1 -1.4 4.8 -0.7 5 -1.5 4.9M326.5 222.1l4.6 3"/><path stroke="#21bbe1" d="M392.7 102.6l1.4 6.9 1.1 6.9"/><path stroke="#1ea8ef" d="M415.1 103.3l-2.7 4.7 -3 4.6 -3.2 4.4"/><path stroke="#5ce17e" d="M395.2 116.4l5.5 -0.6 5.5 1.2M294.5 185.4l4.5 4.5 4 4.9M370.6 218.6l6.2 -1.9 5.5 -3.3M314.1 13.7l3 4.8 2.9 4.8 3.5 4.4 3.8 4.2M306.9 35.5l6.2 -0.6 6.2 -0.2 6.2 0.8"/><path stroke="#51e08e" d="M406.2 117l4.6 4.9 4 5.3"/><path stroke="#23c5d9" d="M345.7 161.3l-3.1 -0.3M313.7 172.7l-5.4 5.7"/><path stroke="#9de438" d="M345.7 161.3l3.7 -5.1 4.7 -4.1M303.7 93.3l1.1 -4.8"/><path stroke="#26d2cf" d="M342.6 161l-3.6 -4.3 -4.1 -3.7M368.3 169.5l6.3 1.6 6.5 0.6M344.5 199.6l-0.6 6.2"/><path stroke="#91e53a" d="M339.6 143.1l-1.1 5.5 -3.6 4.4M311.2 205.1l-2.1 4.6 -1.8 4.8 -1.9 4.7"/><path stroke="#aae235" d="M339.6 143.1l9.2 0.9M289.8 205.9l-0.2 2.8M262.9 55.6l-4.7 2.2 -4.1 3.1"/><path stroke="#85e545" d="M348.8 144l5.3 8.1M248.1 160.2l2.4 -4.6 1.5 -5"/><path stroke="#cbdf2f" d="M295.9 11l-0.6 0.4"/><path stroke="#a3e337" d="M308.4 9.6l-6.3 0.2 -6.2 1.2M368.3 169.5l-3.1 3.1"/><path stroke="#7be452" d="M334 8.9l-4.7 2.3 -4.9 1.4 -5 1 -5.3 0.1M339.8 73.9l3.2 6.4"/><path stroke="#f3bd24" d="M308.4 9.6l4 3.8"/><path stroke="#83e547" d="M320.6 74.5l6.4 -0.4 6.4 -0.6 6.4 0.4"/><path stroke="#59e083" d="M339.8 73.9l1.4 -9.6M362.6 119.4l-5.5 -2 -5.1 -3"/><path stroke="#8fe53b" d="M300.4 176.7l-3.6 3.9 -2.3 4.8M306.4 58.3l-5.3 -1.9 -5.4 -1.3 -5.6 -0.4"/><path stroke="#4fdf90" d="M308.3 178.4l2.6 8.5M355.7 80l6.2 6.2"/><path stroke="#54e089" d="M303 194.8l3.5 -4.5 4.4 -3.4M313.7 172.7l5.9 0.1 5.7 1.3M361.9 86.2l-1.2 5.8 -1.6 5.6"/><path stroke="#9ae439" d="M323.1 190l-5.9 -2.2 -6.3 -0.9"/><path stroke="#b3e234" d="M325.3 174.1l-0.8 5.3 -0.7 5.3 -0.7 5.3M306.9 35.4l0 0.1M266.3 166.5l-1.3 -6 -0.5 -6.2"/><path stroke="#5fe17a" d="M312.5 205l-1.3 0.1"/><path stroke="#c3e030" d="M302.6 198.7l4.8 2.6 3.8 3.8"/><path stroke="#66e271" d="M302.6 198.7l0.4 -3.9M354.1 152.1l7.7 0"/><path stroke="#99e439" d="M324.4 192l-1.3 -2M331.1 225.1l6 -1 6 -0.8 5.9 -1.5"/><path stroke="#6ae26a" d="M324.4 192l-4.1 4.2 -4.1 4.2 -3.7 4.6M365.2 172.6l-4.9 -2.3 -5.1 -1 -5.3 -0.6M392.1 179.4l2.5 -4.7 3.6 -3.8 3.4 -4.1M323.8 134.8l-0.4 -6.6 1.1 -6.6"/><path stroke="#81e44a" d="M364.2 178.3l-6.1 3.1 -5.4 4.1"/><path stroke="#37ddb1" d="M344.3 181l8.4 4.5"/><path stroke="#23c6d8" d="M384.6 186.2l2.5 -6"/><path stroke="#24cad6" d="M368.5 186.2l-4.3 -7.9"/><path stroke="#1eabee" d="M384.6 186.2l-5.4 0.7 -5.4 0 -5.3 -0.7"/><path stroke="#49df99" d="M345.7 161.3l4.2 7.4M294.5 185.4l-5.5 0.4"/><path stroke="#6be269" d="M368.3 169.5l-1.9 -5.5 0.9 -5.7"/><path stroke="#57e085" d="M367.3 158.3l-5.5 -6.2M361.5 132.6l3.4 -7.5"/><path stroke="#6be268" d="M353.8 193.9l5.3 4.3 6.5 1.8"/><path stroke="#80e44c" d="M353.8 193.9l-1.1 -8.4M376.5 82.7l-1.3 2.1"/><path stroke="#dfdd2b" d="M342.6 161l-4.3 3.4 -3.7 3.9 -4.1 3.5M307.8 117.7l1.8 -2.6"/><path stroke="#43dea1" d="M326.5 222.1l-6.3 3.2 -6.7 2.1M373.1 107.6l-3.4 4 -3.5 4 -3.6 3.8"/><path stroke="#2cdcc1" d="M353.1 226.3l-4.1 -4.5"/><path stroke="#23c7d8" d="M353.1 226.3l5.4 -0.5 5.5 -0.4 5.1 -2"/><path stroke="#33ddb8" d="M375.5 231.7l-3.7 -3.8 -2.7 -4.5"/><path stroke="#23c4db" d="M349.6 213.4l-0.6 8.4"/><path stroke="#6de267" d="M364.5 204.6l-4.3 4 -5 3 -5.6 1.8"/><path stroke="#38ddb0" d="M379.3 200.5l1.2 6.5 1.8 6.4M398.3 145.5l-6.2 -1.7 -5.9 -2.2 -5.5 -3.4M302.8 142.3l-2 -6.1 -3.2 -5.4 -4.1 -4.8"/><path stroke="#1eacee" d="M385.1 214.7l-2.8 -1.3M410 44l4.4 4.1 4.6 3.9"/><path stroke="#33ddb7" d="M392.1 179.4l-5 0.8"/><path stroke="#3cdeaa" d="M384.6 186.2l1 9.1M352 114.4l1.8 -5.3 3.3 -4.5 3.7 -4.2"/><path stroke="#26d6cc" d="M365.6 200l0.3 0.6"/><path stroke="#58e084" d="M365.9 200.6l6.7 0.1 6.7 -0.2M306.4 58.3l0.2 5.7 0.1 5.6"/><path stroke="#27dac8" d="M365.9 200.6l-1.4 4"/><path stroke="#67e26e" d="M292.7 230.5l4.9 -1.9 4.6 -2.3 4.3 -3M398 196l-0.9 5.4 -1.1 5.4 -2 5.2"/><path stroke="#31dcbb" d="M306.5 223.3l-1.1 -4.1"/><path stroke="#20b4e7" d="M305.4 219.2l-5.2 -3.7 -5.5 -3 -5.1 -3.8"/><path stroke="#77e358" d="M286.1 224.6l1.1 -5.2 -1.4 -5"/><path stroke="#63e175" d="M285.8 214.4l3.8 -5.7"/><path stroke="#25ced3" d="M313.5 227.4l-7 -4.1"/><path stroke="#e4dd2a" d="M326.5 222.1l-0.2 -7.3M243.3 74.9l2.9 -5.2 3.8 -4.5 4.1 -4.2"/><path stroke="#6ce267" d="M326.3 214.8l-4.7 -3.2 -4.4 -3.5 -4.7 -3.1"/><path stroke="#cddf2e" d="M289.8 205.9l6.5 -3.5 6.3 -3.7"/><path stroke="#84e545" d="M270.5 214.1l5.1 0.5 5.1 0 5.1 -0.2"/><path stroke="#f2c425" d="M253.3 189.9l0.3 -0.2"/><path stroke="#d8de2c" d="M253.6 189.7l4.8 3.2 4.9 3.2 4.2 4"/><path stroke="#9fe438" d="M267.5 200.1l-1.6 6.5"/><path stroke="#afe234" d="M270.5 214.1l-4.6 -7.5M330.1 103.8l1.2 7 1.8 6.8"/><path stroke="#f3bf24" d="M272.9 197.2l5.7 1.7 6 1"/><path stroke="#c8df2f" d="M272.9 197.2l-0.1 -5.1 0.9 -5.1 0.8 -5M254.6 96.5l6.4 -3.3 5.8 -4.3"/><path stroke="#f1cf26" d="M284.6 199.9l1.5 -7.2 2.9 -6.9"/><path stroke="#a1e337" d="M289 185.8l-7.1 -6.3"/><path stroke="#f2c525" d="M281.9 179.5l-7.4 2.5"/><path stroke="#66e270" d="M289.8 205.9l-5.2 -6"/><path stroke="#45de9e" d="M255.3 182.1l-1.7 7.6M392 223l-0.2 5.4 -0.2 5.4 -0.1 5.5 -0.6 5.3 -0.9 5.4"/><path stroke="#aee235" d="M255.3 182.1l3.3 -4 4.6 -2.3M248.1 160.2l-6 3.6M266.8 88.9l-1.6 -5.5 0.4 -5.7"/><path stroke="#f5ab22" d="M263.2 175.8l5.6 3.3 5.7 2.9"/><path stroke="#5ae181" d="M300.4 176.7l-4.2 -7.7M352.7 133.6l8.8 -1M323.8 134.8l-6.2 0.9 -6.2 -0.7"/><path stroke="#f4b623" d="M284 173.5l-2.1 6"/><path stroke="#b1e234" d="M263.2 175.8l0.4 -5.8M320.6 74.5l-1.9 1.8"/><path stroke="#78e457" d="M278.5 163.4l-6 1.8 -6.2 1.3"/><path stroke="#4ddf93" d="M266.3 166.5l-2.7 3.5"/><path stroke="#3addae" d="M394.1 117.6l-1 8.9M335 9.5l-0.4 6.5 -0.4 6.4 -1.6 6.3M381.2 135.2l-0.5 3"/><path stroke="#22c0de" d="M393.1 126.5l4.3 4.5 3.2 5.2"/><path stroke="#61e176" d="M401.6 166.8l-4.4 -2.5 -4.2 -2.8 -4.5 -2.4"/><path stroke="#35ddb4" d="M380.2 152.9l8.1 5"/><path stroke="#23c3db" d="M388.5 159.1l-0.2 -1.2M366.7 141.1l-5.2 -8.5"/><path stroke="#d7de2c" d="M243.3 109l5.4 -3.9 5.9 -3.3M318.2 81.7l3.2 4.5"/><path stroke="#f0db27" d="M254.6 101.8l0 -5.3M326.3 214.8l4 -6.4"/><path stroke="#f0d727" d="M254.6 96.5l-5.7 -4.8 -4.8 -5.7"/><path stroke="#79e455" d="M312.4 13.4l-1.5 5.4 -1.5 5.5 -1.7 5.5 -0.8 5.6M348.3 50.1l-5.1 -5.4"/><path stroke="#89e53f" d="M306.9 35.4l-5.1 -3.2 -4.5 -4 -4.6 -3.9"/><path stroke="#a8e336" d="M291.8 44.6l5 -1.9 4.8 -2.2 4.4 -3.1M254.3 124l-1.7 5.5 -1.4 5.6 -0.7 5.7M274.3 65.1l0.1 6.8M275.7 102.6l-5 1.4 -4.8 1.9 -4.5 2.8"/><path stroke="#29dcc5" d="M306 37.4l0.9 -1.9"/><path stroke="#6ee365" d="M333 45.9l5.2 -0.3 5 -0.9"/><path stroke="#2edcbf" d="M345.9 31.6l-1 6.6 -1.7 6.5"/><path stroke="#56e087" d="M332.6 28.7l-5.3 3.2"/><path stroke="#87e542" d="M327.3 31.9l-1.8 3.6M278.5 163.4l2.9 -6"/><path stroke="#25ced2" d="M323.2 59.1l-7.9 -5"/><path stroke="#42dea3" d="M330.2 57.2l2.2 -5.4 0.6 -5.9"/><path stroke="#3ddea9" d="M347.3 60l-6.1 4.3M312.2 53.8l3.1 0.3"/><path stroke="#26d3ce" d="M350.7 28.9l-4.8 2.7"/><path stroke="#a4e337" d="M312.2 53.8l-1.2 -5.8 -2.3 -5.4 -2.7 -5.2"/><path stroke="#21bce1" d="M390.3 100.6l-6 -1.6 -6.2 0.5"/><path stroke="#74e35c" d="M378.1 99.5l-2.1 -7.2 -0.8 -7.5"/><path stroke="#24ccd4" d="M336.5 191l3.8 4.5 4.2 4.1M393.1 126.5l-5.3 5.3 -6.6 3.4"/><path stroke="#61e178" d="M326.6 193l0.3 5.4 1 5.2 2.4 4.8M347.9 96.1l-4.4 4.9"/><path stroke="#f1cb26" d="M330.3 208.4l6.9 -0.7 6.7 -1.9"/><path stroke="#c6e030" d="M325.3 174.1l2.8 -2.3M312.2 53.8l-5.8 4.5"/><path stroke="#3cdeab" d="M341.7 181.6l-2.4 4.9 -2.8 4.5"/><path stroke="#69e26b" d="M324.4 192l2.2 1"/><path stroke="#26d3cf" d="M349.6 213.4l-5.7 -7.6"/><path stroke="#58e083" d="M248.1 160.2l5.3 3.1 5 3.5 5.2 3.2"/><path stroke="#f4b223" d="M264.5 154.3l-6.1 -2.1 -6.4 -1.6"/><path stroke="#24cbd5" d="M388.3 157.9l2.3 -5 3.6 -3.9 4.1 -3.5M408 182l-3.6 4.4 -3.1 4.9 -3.3 4.7"/><path stroke="#23c4da" d="M399.4 145.1l-1.1 0.4"/><path stroke="#9be438" d="M304.8 88.5l-3.9 -3.5 -3.1 -4.1 -2.8 -4.4"/><path stroke="#5ee17b" d="M304.8 88.5l4.7 -1.7 4.4 -2.5 4.3 -2.6"/><path stroke="#c7e030" d="M318.7 76.3l-0.5 5.4"/><path stroke="#4fdf91" d="M318.7 76.3l-5.7 -3.9 -6.3 -2.8"/><path stroke="#76e359" d="M306.7 69.6l-6 3.2 -5.7 3.7"/><path stroke="#a0e337" d="M312.8 105.2l-4.6 -5.9 -4.5 -6"/><path stroke="#8be53c" d="M321.4 86.2l-0.5 5.2 -1.1 5.1 -0.5 5.2M254.3 124l8.1 -3.9"/><path stroke="#34ddb7" d="M321.4 86.2l5.9 1.5 6 1.2"/><path stroke="#bfe031" d="M348.8 144l1.9 -5.2 2 -5.2"/><path stroke="#f2c625" d="M335.6 136.9l4 6.2"/><path stroke="#52e08c" d="M335.6 136.9l4.6 -5.6 2.9 -6.6"/><path stroke="#81e44b" d="M343.1 124.7l5.1 4.1 4.5 4.8"/><path stroke="#a2e337" d="M375.8 125.7l2 5.2 3.4 4.3"/><path stroke="#62e176" d="M366.7 141.1l6.3 -1.1 6.3 -0.3M334.4 100.1l9.1 0.9"/><path stroke="#28dcc7" d="M379.3 139.7l1.4 -1.5"/><path stroke="#61e177" d="M394.1 117.6l-6.8 0.5 -6.9 -0.6"/><path stroke="#25d0d1" d="M361.8 152.1l2.1 -5.7 2.8 -5.3"/><path stroke="#71e360" d="M380.2 152.9l-0.2 -6.6 -0.7 -6.6M298.5 160.4l1 -0.9"/><path stroke="#93e53a" d="M364.9 125.1l-2.3 -5.7"/><path stroke="#28dcc6" d="M378.1 99.5l-5 5"/><path stroke="#39ddaf" d="M373.1 107.6l0 -3.1"/><path stroke="#f0d627" d="M264.5 154.3l7 -6"/><path stroke="#84e547" d="M249.8 141.5l0.7 -0.7"/><path stroke="#70e362" d="M250.5 140.8l5.3 -0.7 5.2 -0.8 5.3 -0.1M321.7 153.7l0.1 -0.3"/><path stroke="#b7e133" d="M252 150.6l-2.2 -9.1M271.5 148.3l-1.7 -5.1 -3.5 -4M293.2 97.3l-3.8 -5.5 -4.7 -4.7"/><path stroke="#62e175" d="M334.9 153l-6.3 -0.5 -6.3 0.5"/><path stroke="#b8e133" d="M322.3 153l-0.3 -5.7 1.3 -5.3 2.2 -5.1"/><path stroke="#5fe179" d="M313.7 172.7l-2.6 -5.3 -1.1 -5.8"/><path stroke="#7ee44e" d="M328.1 171.8l-3.1 -5.6 -2.2 -6.1 -1.1 -6.4"/><path stroke="#36ddb4" d="M310 161.6l5.5 -4.5 6.2 -3.4M342.5 120.9l6.4 -6"/><path stroke="#cedf2e" d="M322.3 153l-0.5 0.4M265.6 77.7l4 -3.4 4.8 -2.4M271.5 129.4l-0.9 -5.1"/><path stroke="#abe235" d="M242.3 118.3l5.4 4.1 6.6 1.6M330.1 103.8l4.3 -3.7"/><path stroke="#f9871e" d="M254.1 60.9l-4.7 -2.2 -4.1 -3.2 -4 -3.2"/><path stroke="#f4b023" d="M262 76.2l-5.5 2.5 -5.6 2 -5.7 1.8"/><path stroke="#eedc28" d="M262 76.2l-2.5 -5.1 -2.7 -5.1 -2.7 -5"/><path stroke="#e9dc29" d="M263 55.2l-0.1 0.4"/><path stroke="#c2e031" d="M295 76.5l-2.4 -0.4M271.5 129.4l6.7 3 5.2 5.1"/><path stroke="#ccdf2f" d="M292.6 76.1l-0.8 -5.3 -0.3 -5.4 -0.9 -5.3 -0.5 -5.4M333.1 117.6l9.4 3.3"/><path stroke="#b4e133" d="M274.3 65.1l3.9 -3.8 4.3 -3.4 4.2 -3.4"/><path stroke="#c4e030" d="M319.3 101.7l5.6 0.2 5.2 1.9"/><path stroke="#cfdf2e" d="M305.5 141.6l4.6 2.2 4 3.2 4 2.9 3.7 3.5"/><path stroke="#24c8d7" d="M325.5 136.9l-1.7 -2.1M419 135l-2.2 6.1 -2.7 5.8 -4.1 5.1"/><path stroke="#2ddcc0" d="M333.1 117.6l-8.6 4"/><path stroke="#f1ca26" d="M299.5 146.2l0.1 6.7 -0.1 6.6"/><path stroke="#f1d126" d="M284.3 143.6l-5.2 6.2"/><path stroke="#63e174" d="M298.5 160.4l-5.7 -1 -5.8 -0.4 -5.6 -1.6"/><path stroke="#3fdea6" d="M281.4 157.4l-2.3 -7.6"/><path stroke="#8ae53e" d="M310 161.6l-5.3 -1.1 -5.2 -1"/><path stroke="#6de266" d="M302.8 142.3l2.7 -0.7"/><path stroke="#bae132" d="M283.4 137.5l0.9 6.1M293.5 126l0.1 -0.8"/><path stroke="#ace235" d="M266.3 139.2l2.1 -5.2 3.1 -4.6"/><path stroke="#f4b323" d="M271.5 148.3l7.6 1.5"/><path stroke="#eddc28" d="M284.7 87.1l-4.4 4 -5.6 2.2"/><path stroke="#e8dc29" d="M284.7 87.1l2.2 -8.2"/><path stroke="#f2c825" d="M266.8 88.9l7.9 4.4M254.6 101.8l6.8 6.9"/><path stroke="#f1cc26" d="M303.7 93.3l-5.1 2.4 -5.4 1.6"/><path stroke="#bee031" d="M292.6 76.1l-5.7 2.8"/><path stroke="#b0e234" d="M262 76.2l3.6 1.5"/><path stroke="#65e272" d="M352 114.4l-3.1 0.5"/><path stroke="#a7e336" d="M348.9 114.9l-3.5 -6.6 -1.9 -7.3"/><path stroke="#95e53a" d="M373.1 104.5l-6.2 -2.1 -6.1 -2"/><path stroke="#f1cd26" d="M261.4 108.7l-0.3 5.7 1.3 5.7"/><path stroke="#7de450" d="M283 116.5l0.5 -7"/><path stroke="#ade235" d="M309.5 114.1l-5 -1.8 -4.5 -2.6 -4.8 -2.2 -4.4 -2.8"/><path stroke="#69e26c" d="M309.5 114.1l0.1 1"/><path stroke="#b5e133" d="M290.8 104.7l-7.3 4.8"/><path stroke="#59e082" d="M311.4 135l-0.4 -5.9 -1.6 -5.7 -1.6 -5.7"/><path stroke="#75e35b" d="M324.5 121.6l-5.2 -1.7 -4.9 -2.4 -4.8 -2.4"/><path stroke="#f2c325" d="M275.7 102.6l4.4 2.9 3.4 4"/><path stroke="#8ee53b" d="M312.8 105.2l-3.3 8.9"/><path stroke="#6fe364" d="M293.2 97.3l-2.4 7.4"/><path stroke="#27d8ca" d="M398 -20l0.4 5.5 -0.3 5.5 0 5.5 -0.1 5.5 -0.1 5.5 0.1 5.5"/><path stroke="#30dcbc" d="M398 13l-0.1 6.4 0.4 6.4 1.7 6.2"/><path stroke="#1fb2e9" d="M419 52l0.4 5.6 0.5 5.6 0.4 5.6 0.5 5.6 0.2 5.6"/><path stroke="#67e26f" d="M404 168l2 7 2 7"/><path stroke="#24cad5" d="M394 212l-0.5 5.6 -1.5 5.4"/></g>
</g>
<linearGradient id="gB" x1="0" y1="0" x2="0" y2="1"><stop offset="0" stop-color="#a01010"/><stop offset="0.2" stop-color="#f05010"/><stop offset="0.4" stop-color="#f0d020"/><stop offset="0.6" stop-color="#60e050"/><stop offset="0.78" stop-color="#20d0d0"/><stop offset="0.9" stop-color="#40a0f0"/><stop offset="1" stop-color="#5040b0"/></linearGradient>
<rect x="217.50" y="68.30" width="30.00" height="8.80" fill="#000" stroke="none" stroke-width="1" />
<text x="218.40" y="76.00" font-size="8.0" text-anchor="start" fill="#f4f4f4" font-weight="normal" >600 nm</text>
<rect x="226.20" y="79.00" width="6.00" height="52.50" fill="url(#gB)" stroke="none" stroke-width="1" />
<rect x="220.00" y="132.60" width="21.00" height="8.80" fill="#000" stroke="none" stroke-width="1" />
<text x="221.20" y="140.20" font-size="8.0" text-anchor="start" fill="#f4f4f4" font-weight="normal" >0 nm</text>
<text x="389.60" y="23.00" font-size="8.8" text-anchor="start" fill="#f4f4f4" font-weight="normal" >68–78 s</text>
<rect x="306.30" y="66.50" width="35.70" height="35.90" fill="none" stroke="#2cb2ea" stroke-width="1.6" />
<text x="305.80" y="65.20" font-size="6.6" text-anchor="start" fill="#fff" font-weight="normal" >c</text>
<rect x="359.00" y="170.40" width="36.30" height="35.20" fill="none" stroke="#f8ae00" stroke-width="1.6" />
<text x="357.00" y="166.60" font-size="6.6" text-anchor="start" fill="#fff" font-weight="normal" >d</text>
<text x="364.60" y="66.60" font-size="6.6" text-anchor="start" fill="#fff" font-weight="normal" >e,f</text>
<line x1="374.90" y1="66.90" x2="383.50" y2="70.00" stroke="#ff33ff" stroke-width="1.1" />
<rect x="394.60" y="216.40" width="29.60" height="2.60" fill="#fff" stroke="none" stroke-width="1" />
<text x="401.00" y="214.80" font-size="8.0" text-anchor="start" fill="#f4f4f4" font-weight="normal" >2 μm</text>
<clipPath id="cps0"><rect x="431" y="12.0" width="69.3" height="68.5"/></clipPath>
<rect x="431.00" y="12.00" width="69.30" height="68.50" fill="#000" stroke="none" stroke-width="1" />
<g clip-path="url(#cps0)">
<g fill="none" stroke-linecap="round" stroke-linejoin="round" stroke-width="3.0" stroke-dasharray="2.6 0.9" opacity="0.9" filter="url(#blur04)"><path stroke="#40d0b0" d="M454.7 89l3.6 -3.7 4.7 -2M481.5 92.8l-4.3 -3 -4.7 -2.3 -4.5 -2.5 -5 -1.7M425.9 11.1l3.1 2.7M475.8 31.2l0.6 -6 1.3 -5.7 2 -5.6 2.4 -5.4M475.8 31.2l-5.6 -1 -5.5 -0.8 -5.6 1.8M427.4 39l1.9 -3.8M459.1 31.2l-2.5 2.6M429.3 35.2l5.5 0.5 5.5 -0.4 5.4 -0.5 5.5 -0.2 5.4 -0.8M522.7 83.3l-5.9 0.3 -5.9 1.1 -5.9 0.2 -5.9 -0.2 -5.9 0.4M421 77.5l1.4 -5.4 0.9 -5.6 1.9 -5.4 1.5 -5.4 0.6 -5.7 1.7 -5.3M453.5 62.9l-0.8 -5.7M463 83.3l0.2 -6.5M427.4 39l1.6 5.7M456.6 33.8l1.2 5.1 1.2 5.2 1 5.2M475.8 31.2l3.3 5.4 3.3 5.4M470.8 50l1.2 5.6 1.1 5.5 0 5.8M482.4 42l-0.1 0.1"/><path stroke="#a0e040" d="M453.5 4.4l-4.6 2.7 -4.6 2.7 -5.2 1 -5.1 1.4 -5 1.6M421 77.5l4.9 -1.4 4.7 -2.1 5 -1.3 4.7 -2 4.4 -2.5 4.5 -2.4 4.3 -2.9M506.6 56.9l-4.8 2.5 -4.5 3 -5.1 1.5 -5.2 1.2M482.3 42.1l0.6 5.6 1.3 5.6 0.3 5.6 1.1 5.5"/><path stroke="#50e070" d="M459.1 31.2l0.4 -5.3 -1 -5.1 -0.1 -5.2 -1.7 -5 -1.1 -5M429 44.7l4.7 2.4 4.7 2.7 4.5 3 5 1.9 4.8 2.5M463.2 76.8l-4 -4.1 -3.2 -4.6 -2.5 -5.2M505.9 39.9l-5.8 1 -5.9 0.7 -5.8 1.1 -6 -0.7M493.2 85.1l-2.6 -4.7 -1.7 -5 -0.8 -5.2 -1.1 -5.1M470.8 50l5.1 -4.9 6.4 -3M473.1 66.9l6.2 -1.8 6.3 -0.7M463.2 76.8l6 -3.9 3.9 -6M487 65.1l-1.4 -0.7"/><path stroke="#e0e040" d="M504.3 10.6l-5.6 -0.6 -5.5 -0.2 -5.6 -0.2 -5.5 -1.1M429 13.8l-0.6 5.4 -0.5 5.3 0.2 5.4 1.2 5.3M460 49.3l-3 4.6 -4.3 3.3M460 49.3l5.4 -0.5 5.4 1.2"/></g>
<g opacity="0.75" filter="url(#blur04)"><path fill="#ffe060" d="M436.7 10.3a1.5 1.5 0 1 0 2.9 0a1.5 1.5 0 1 0 -2.9 0M476.1 27.0a0.9 0.9 0 1 0 1.8 0a0.9 0.9 0 1 0 -1.8 0M475.8 27.9a0.9 0.9 0 1 0 1.8 0a0.9 0.9 0 1 0 -1.8 0M428.2 29.0a1.0 1.0 0 1 0 1.9 0a1.0 1.0 0 1 0 -1.9 0M445.4 66.1a1.1 1.1 0 1 0 2.2 0a1.1 1.1 0 1 0 -2.2 0M428.6 45.3a1.5 1.5 0 1 0 3.0 0a1.5 1.5 0 1 0 -3.0 0M476.5 34.5a1.4 1.4 0 1 0 2.8 0a1.4 1.4 0 1 0 -2.8 0M481.7 48.7a1.6 1.6 0 1 0 3.1 0a1.6 1.6 0 1 0 -3.1 0"/><path fill="#a0ff90" d="M435.6 10.7a1.4 1.4 0 1 0 2.8 0a1.4 1.4 0 1 0 -2.8 0M462.3 31.2a1.3 1.3 0 1 0 2.5 0a1.3 1.3 0 1 0 -2.5 0M430.3 35.1a1.6 1.6 0 1 0 3.2 0a1.6 1.6 0 1 0 -3.2 0M450.7 63.7a1.2 1.2 0 1 0 2.3 0a1.2 1.2 0 1 0 -2.3 0M443.9 66.8a1.1 1.1 0 1 0 2.3 0a1.1 1.1 0 1 0 -2.3 0M431.0 46.2a0.9 0.9 0 1 0 1.9 0a0.9 0.9 0 1 0 -1.9 0M439.3 50.6a1.0 1.0 0 1 0 2.1 0a1.0 1.0 0 1 0 -2.1 0M452.5 63.5a1.4 1.4 0 1 0 2.8 0a1.4 1.4 0 1 0 -2.8 0M458.6 49.6a1.1 1.1 0 1 0 2.1 0a1.1 1.1 0 1 0 -2.1 0M496.5 40.6a1.3 1.3 0 1 0 2.7 0a1.3 1.3 0 1 0 -2.7 0M483.0 41.8a1.0 1.0 0 1 0 1.9 0a1.0 1.0 0 1 0 -1.9 0M487.6 71.8a1.4 1.4 0 1 0 2.9 0a1.4 1.4 0 1 0 -2.9 0M464.6 49.7a0.9 0.9 0 1 0 1.8 0a0.9 0.9 0 1 0 -1.8 0"/><path fill="#e8ff60" d="M478.3 17.2a1.5 1.5 0 1 0 2.9 0a1.5 1.5 0 1 0 -2.9 0M471.7 31.2a1.2 1.2 0 1 0 2.4 0a1.2 1.2 0 1 0 -2.4 0M456.9 25.7a1.5 1.5 0 1 0 3.0 0a1.5 1.5 0 1 0 -3.0 0M455.8 17.1a1.3 1.3 0 1 0 2.7 0a1.3 1.3 0 1 0 -2.7 0M455.6 15.0a1.3 1.3 0 1 0 2.6 0a1.3 1.3 0 1 0 -2.6 0M500.3 10.3a1.5 1.5 0 1 0 3.0 0a1.5 1.5 0 1 0 -3.0 0M427.8 18.6a1.2 1.2 0 1 0 2.4 0a1.2 1.2 0 1 0 -2.4 0M440.3 34.6a1.0 1.0 0 1 0 2.0 0a1.0 1.0 0 1 0 -2.0 0M430.8 35.1a1.3 1.3 0 1 0 2.7 0a1.3 1.3 0 1 0 -2.7 0M448.4 64.6a1.5 1.5 0 1 0 3.0 0a1.5 1.5 0 1 0 -3.0 0M446.8 65.2a1.5 1.5 0 1 0 3.1 0a1.5 1.5 0 1 0 -3.1 0M456.2 68.6a1.3 1.3 0 1 0 2.5 0a1.3 1.3 0 1 0 -2.5 0M458.9 49.1a1.1 1.1 0 1 0 2.1 0a1.1 1.1 0 1 0 -2.1 0M458.4 47.4a1.1 1.1 0 1 0 2.2 0a1.1 1.1 0 1 0 -2.2 0M483.0 41.8a1.0 1.0 0 1 0 1.9 0a1.0 1.0 0 1 0 -1.9 0M490.1 78.8a1.1 1.1 0 1 0 2.2 0a1.1 1.1 0 1 0 -2.2 0M487.3 64.4a1.4 1.4 0 1 0 2.8 0a1.4 1.4 0 1 0 -2.8 0M488.7 63.8a1.3 1.3 0 1 0 2.6 0a1.3 1.3 0 1 0 -2.6 0M471.8 66.4a1.2 1.2 0 1 0 2.5 0a1.2 1.2 0 1 0 -2.5 0M470.7 57.2a1.0 1.0 0 1 0 2.1 0a1.0 1.0 0 1 0 -2.1 0M471.8 48.6a1.1 1.1 0 1 0 2.1 0a1.1 1.1 0 1 0 -2.1 0M482.1 47.9a1.1 1.1 0 1 0 2.2 0a1.1 1.1 0 1 0 -2.2 0M483.8 61.2a1.4 1.4 0 1 0 2.7 0a1.4 1.4 0 1 0 -2.7 0M473.2 66.6a1.0 1.0 0 1 0 2.0 0a1.0 1.0 0 1 0 -2.0 0M467.9 70.7a1.4 1.4 0 1 0 2.9 0a1.4 1.4 0 1 0 -2.9 0"/></g>
</g>
<rect x="431.75" y="12.75" width="67.80" height="67.00" fill="none" stroke="#2cb2ea" stroke-width="1.5" />
<text x="434.40" y="21.40" font-size="8.4" text-anchor="start" fill="#f4f4f4" font-weight="normal" textLength="26.2" lengthAdjust="spacingAndGlyphs">500 nm</text>
<rect x="437.00" y="23.80" width="13.50" height="2.40" fill="#fff" stroke="none" stroke-width="1" />
<text x="434.00" y="76.20" font-size="8.8" text-anchor="start" fill="#f4f4f4" font-weight="normal" textLength="31.2" lengthAdjust="spacingAndGlyphs">68–78 s</text>
<clipPath id="cps1"><rect x="431" y="83.0" width="69.3" height="68.5"/></clipPath>
<rect x="431.00" y="83.00" width="69.30" height="68.50" fill="#000" stroke="none" stroke-width="1" />
<g clip-path="url(#cps1)">
<g fill="none" stroke-linecap="round" stroke-linejoin="round" stroke-width="3.0" stroke-dasharray="2.6 0.9" opacity="0.9" filter="url(#blur04)"><path stroke="#a0e040" d="M506 82.2l-0.6 5.7 -1.7 5.6 -0.6 5.7 -0.1 5.8M450.9 152.8l-0.7 -6 0 -6 1.7 -5.8 1.3 -5.9M453.2 129.1l-4 -3.6 -3.6 -4 -3.8 -3.8M441.8 117.7l-5.3 -1.3 -5.4 0.6M455.3 248.1l-0.4 -5.3 0.1 -5.3 -1 -5.2 0.2 -5.3 -0.1 -5.3 -0.5 -5.2 -0.5 -5.3 0.5 -5.3 -1 -5.2 0.4 -5.3 -0.6 -5.3 -0.4 -5.2 0 -5.3 -0.3 -5.3 -0.1 -5.2 0.5 -5.3 -0.1 -5.3 -0.5 -5.3M451.5 153.2l-0.6 -0.4M453.2 129.1l4.7 -2.3 5 -1.1 5 -1.1 5 -1.3M472.9 123.3l0.6 -0.7M473.5 107.4l-0.9 -5.5 -0.1 -5.6 -0.4 -5.5 0.1 -5.5 0.2 -5.6M506 82.2l-5.2 -0.6 -4.9 -1.3 -4.8 -1.5 -4.6 -2.1 -4.7 -2.2M502.9 130.7l3.9 4.2 3.7 4.5 4.1 4.1 4.4 3.7 3.9 4.3 4.3 3.9M504.8 107.6l1 5.9 -1.1 5.7 -0.6 5.8 -1.2 5.7"/><path stroke="#50e070" d="M503 105l1.8 2.6M423.7 108.2l3.4 4.6 4 4.2M454.4 105.1l-1 -6.2 -1.6 -5.9 -3 -5.5 -2.2 -5.8M472.9 123.3l1 5.1 -0.1 5.2 1 5.1 -1.2 5.2 0.3 5.1 -1 5.2M475.5 109.6l5.6 -0.3 5.7 0 5.5 -0.7 5.4 -2 5.3 -1.6M493.1 133.1l-3.4 4.6 -2.5 5 -3.1 4.7 -2.7 5 -2.6 5"/><path stroke="#e09030" d="M450.9 152.8l-6 1 -6 0 -6 0.4 -6 -0.8M473.5 107.4l2 2.2M472.9 154.2l5.9 3.2"/><path stroke="#40d0b0" d="M421.1 148.9l1.1 -5.5 1.2 -5.5 1.4 -5.4 2.5 -5 1.9 -5.3 1.9 -5.2M423.7 108.2l1.7 -5.8 2.2 -5.6 1.1 -6 0.3 -6M446.6 81.7l-5.9 0.6 -5.9 1 -5.8 1.5M473.5 107.4l-6.2 -1.7 -6.5 -0.5 -6.4 -0.1M475.5 109.6l-1.7 6.4 -0.3 6.6M446.6 81.7l6.7 -5.4M502.9 130.7l-4.9 1.2 -4.9 1.2M473.5 122.6l4.8 2.8 4.6 3.2 4.9 2.7 5.3 1.8"/><path stroke="#e0e040" d="M454.4 105.1l-3.2 5.3 -4.7 3.7 -4.7 3.6M422.2 78.2l6.8 6.6M451.5 153.2l5.4 0.6 5.3 -0.7 5.3 1.2 5.4 -0.1"/></g>
<g opacity="0.75" filter="url(#blur04)"><path fill="#e8ff60" d="M438.7 153.1a1.3 1.3 0 1 0 2.7 0a1.3 1.3 0 1 0 -2.7 0M451.3 133.9a1.4 1.4 0 1 0 2.8 0a1.4 1.4 0 1 0 -2.8 0M449.1 126.1a1.1 1.1 0 1 0 2.1 0a1.1 1.1 0 1 0 -2.1 0M443.0 120.1a1.1 1.1 0 1 0 2.1 0a1.1 1.1 0 1 0 -2.1 0M452.4 102.1a0.9 0.9 0 1 0 1.9 0a0.9 0.9 0 1 0 -1.9 0M451.6 106.8a1.1 1.1 0 1 0 2.2 0a1.1 1.1 0 1 0 -2.2 0M435.3 83.4a1.5 1.5 0 1 0 3.0 0a1.5 1.5 0 1 0 -3.0 0M450.7 153.3a1.5 1.5 0 1 0 3.1 0a1.5 1.5 0 1 0 -3.1 0M454.8 153.4a1.0 1.0 0 1 0 2.0 0a1.0 1.0 0 1 0 -2.0 0M471.6 147.3a1.3 1.3 0 1 0 2.5 0a1.3 1.3 0 1 0 -2.5 0M471.4 144.4a1.5 1.5 0 1 0 2.9 0a1.5 1.5 0 1 0 -2.9 0M455.9 105.5a1.4 1.4 0 1 0 2.7 0a1.4 1.4 0 1 0 -2.7 0M472.5 105.8a1.0 1.0 0 1 0 2.0 0a1.0 1.0 0 1 0 -2.0 0M481.8 150.0a1.3 1.3 0 1 0 2.7 0a1.3 1.3 0 1 0 -2.7 0M482.6 148.2a1.6 1.6 0 1 0 3.1 0a1.6 1.6 0 1 0 -3.1 0M488.4 139.0a1.2 1.2 0 1 0 2.4 0a1.2 1.2 0 1 0 -2.4 0M475.2 124.4a1.4 1.4 0 1 0 2.9 0a1.4 1.4 0 1 0 -2.9 0"/><path fill="#a0ff90" d="M446.0 152.9a1.5 1.5 0 1 0 3.0 0a1.5 1.5 0 1 0 -3.0 0M448.3 152.8a1.1 1.1 0 1 0 2.2 0a1.1 1.1 0 1 0 -2.2 0M450.8 137.7a1.6 1.6 0 1 0 3.2 0a1.6 1.6 0 1 0 -3.2 0M450.0 149.3a1.2 1.2 0 1 0 2.4 0a1.2 1.2 0 1 0 -2.4 0M448.0 90.8a1.6 1.6 0 1 0 3.2 0a1.6 1.6 0 1 0 -3.2 0M428.9 84.5a1.6 1.6 0 1 0 3.1 0a1.6 1.6 0 1 0 -3.1 0M467.1 124.7a1.0 1.0 0 1 0 2.1 0a1.0 1.0 0 1 0 -2.1 0M471.5 141.6a1.4 1.4 0 1 0 2.7 0a1.4 1.4 0 1 0 -2.7 0M454.0 105.3a1.6 1.6 0 1 0 3.2 0a1.6 1.6 0 1 0 -3.2 0M474.1 110.8a1.2 1.2 0 1 0 2.3 0a1.2 1.2 0 1 0 -2.3 0M493.0 106.4a1.4 1.4 0 1 0 2.8 0a1.4 1.4 0 1 0 -2.8 0M494.2 132.5a1.2 1.2 0 1 0 2.5 0a1.2 1.2 0 1 0 -2.5 0M484.6 146.0a0.9 0.9 0 1 0 1.8 0a0.9 0.9 0 1 0 -1.8 0M473.9 123.7a1.5 1.5 0 1 0 3.0 0a1.5 1.5 0 1 0 -3.0 0"/><path fill="#ffe060" d="M433.4 117.2a1.2 1.2 0 1 0 2.4 0a1.2 1.2 0 1 0 -2.4 0M448.5 91.0a1.2 1.2 0 1 0 2.4 0a1.2 1.2 0 1 0 -2.4 0M446.6 111.8a1.1 1.1 0 1 0 2.2 0a1.1 1.1 0 1 0 -2.2 0M460.3 126.6a1.5 1.5 0 1 0 3.0 0a1.5 1.5 0 1 0 -3.0 0M471.9 124.3a1.0 1.0 0 1 0 2.0 0a1.0 1.0 0 1 0 -2.0 0M472.6 106.1a0.9 0.9 0 1 0 1.9 0a0.9 0.9 0 1 0 -1.9 0M497.5 105.8a1.0 1.0 0 1 0 2.1 0a1.0 1.0 0 1 0 -2.1 0M481.5 108.4a1.4 1.4 0 1 0 2.8 0a1.4 1.4 0 1 0 -2.8 0M480.9 127.4a1.5 1.5 0 1 0 3.0 0a1.5 1.5 0 1 0 -3.0 0"/></g>
</g>
<rect x="431.75" y="83.75" width="67.80" height="67.00" fill="none" stroke="#2cb2ea" stroke-width="1.5" />
<text x="434.40" y="92.40" font-size="8.4" text-anchor="start" fill="#f4f4f4" font-weight="normal" textLength="26.2" lengthAdjust="spacingAndGlyphs">500 nm</text>
<rect x="437.00" y="94.80" width="13.50" height="2.40" fill="#fff" stroke="none" stroke-width="1" />
<text x="434.00" y="147.20" font-size="8.8" text-anchor="start" fill="#f4f4f4" font-weight="normal" textLength="36.5" lengthAdjust="spacingAndGlyphs">118–128 s</text>
<line x1="472.50" y1="115.00" x2="463.11" y2="118.85" stroke="#2cb2ea" stroke-width="1.5" />
<path d="M460.8,119.8 L463.5,116.1 L465.3,120.5 Z" fill="#2cb2ea"/>
<clipPath id="cps2"><rect x="431" y="154.0" width="69.3" height="68.5"/></clipPath>
<rect x="431.00" y="154.00" width="69.30" height="68.50" fill="#000" stroke="none" stroke-width="1" />
<g clip-path="url(#cps2)">
<g fill="none" stroke-linecap="round" stroke-linejoin="round" stroke-width="3.0" stroke-dasharray="2.6 0.9" opacity="0.9" filter="url(#blur04)"><path stroke="#40d0b0" d="M425.7 149l4.8 3.6M427.1 180.3l0.3 -5.6 0.2 -5.6 0.4 -5.6 1.3 -5.4 1.2 -5.5M478.4 177.6l4.7 -2.1 4.6 -2.2 4.6 -2.3 4.8 -1.7 4.4 -2.7 4.4 -2.8M478.4 177.6l-0.4 -5.6 -0.7 -5.6 0 -5.7 -0.7 -5.6 0.2 -5.7M480.9 147l5.2 1.9 5.3 1.1 5.3 1.3 5.3 1.6 5.3 1.4M427.1 180.3l4.6 6.4M441.1 187.9l-9.4 -1.2M432.6 318.5l-0.6 -5.2 -0.4 -5.2 -1.6 -5.2 -0.4 -5.2 -0.5 -5.2 -1.2 -5.2 -0.5 -5.2 -0.9 -5.2 -0.3 -5.3 -0.9 -5.2 -0.7 -5.2 -0.2 -5.3 -0.8 -5.2 -0.6 -5.2 -0.5 -5.3 -0.2 -5.2 -0.6 -5.3 -0.3 -5.2M476.1 180.3l-1.1 5.9 -1 5.9 -0.2 6M455.4 228.2l-4.4 -3.4"/><path stroke="#e0e040" d="M452.9 147.2l-5.4 2.3 -5.5 1.7 -5.7 1 -5.8 0.4M476.1 180.3l1.6 -1.2M477.7 179.1l4.4 2.8 4.6 2.3 4.4 2.8 4.9 1.5 4.7 2 5 1.5M457.7 175.9l-4.3 2.7 -4.5 2.6 -4 3.2 -3.8 3.5"/><path stroke="#50e070" d="M457.7 175.9l-0.7 -5.8 -1.3 -5.7 -1 -5.7 -0.4 -5.9 -1.4 -5.6M441.1 187.9l4.4 4.2 4.1 4.6 3.7 5M473.8 198.1l-5.2 0.2 -5.3 0.2 -5 1.4 -5 1.8M453.3 201.7l-1.5 5.7 -0.5 5.8 -0.5 5.8 0.2 5.8M468.3 225.7l1.7 -5.2 2.2 -5 1.2 -5.2 1.1 -5.3 0.3 -5.5M473.8 198.1l1 1.4"/><path stroke="#a0e040" d="M457.7 175.9l6.3 0.7 6.2 1.6 5.9 2.1M478.4 177.6l-0.7 1.5M431.7 186.7l-2.5 4.6 -2.1 4.8 -1.4 5.1 -2.1 4.8 -3 4.4 -2.4 4.6 -1.9 4.9M485 230.6l2.1 -6 1.5 -6 0.2 -6.3 -0.2 -6.4M488.6 205.9l-4.8 -1.8 -4.9 -1.3 -4.1 -3.3"/><path stroke="#e09030" d="M421.4 224.5l6 -1.1 5.9 0.3 5.9 -0.4 5.9 1.1 5.9 0.4M504.9 200.8l-5.5 1.4 -5.6 1.3 -5.2 2.4"/></g>
<g opacity="0.75" filter="url(#blur04)"><path fill="#a0ff90" d="M429.1 155.0a1.1 1.1 0 1 0 2.1 0a1.1 1.1 0 1 0 -2.1 0M497.6 167.1a1.6 1.6 0 1 0 3.1 0a1.6 1.6 0 1 0 -3.1 0M478.0 177.2a1.3 1.3 0 1 0 2.6 0a1.3 1.3 0 1 0 -2.6 0M476.4 160.7a1.1 1.1 0 1 0 2.2 0a1.1 1.1 0 1 0 -2.2 0M499.7 152.5a1.0 1.0 0 1 0 2.1 0a1.0 1.0 0 1 0 -2.1 0M454.9 166.1a1.2 1.2 0 1 0 2.3 0a1.2 1.2 0 1 0 -2.3 0M461.1 176.9a1.0 1.0 0 1 0 2.1 0a1.0 1.0 0 1 0 -2.1 0M458.6 176.3a1.1 1.1 0 1 0 2.3 0a1.1 1.1 0 1 0 -2.3 0M490.4 185.4a1.0 1.0 0 1 0 1.9 0a1.0 1.0 0 1 0 -1.9 0M477.6 179.8a1.6 1.6 0 1 0 3.2 0a1.6 1.6 0 1 0 -3.2 0M476.6 179.3a1.6 1.6 0 1 0 3.2 0a1.6 1.6 0 1 0 -3.2 0M442.3 190.9a1.5 1.5 0 1 0 2.9 0a1.5 1.5 0 1 0 -2.9 0M449.5 199.2a1.6 1.6 0 1 0 3.2 0a1.6 1.6 0 1 0 -3.2 0M472.3 197.6a1.5 1.5 0 1 0 3.1 0a1.5 1.5 0 1 0 -3.1 0M472.4 198.1a1.2 1.2 0 1 0 2.4 0a1.2 1.2 0 1 0 -2.4 0M451.7 204.0a1.4 1.4 0 1 0 2.8 0a1.4 1.4 0 1 0 -2.8 0M452.1 203.6a1.0 1.0 0 1 0 1.9 0a1.0 1.0 0 1 0 -1.9 0M487.1 208.6a1.1 1.1 0 1 0 2.2 0a1.1 1.1 0 1 0 -2.2 0M486.2 215.0a1.0 1.0 0 1 0 2.1 0a1.0 1.0 0 1 0 -2.1 0M489.3 205.3a1.1 1.1 0 1 0 2.3 0a1.1 1.1 0 1 0 -2.3 0M493.6 204.0a1.2 1.2 0 1 0 2.3 0a1.2 1.2 0 1 0 -2.3 0"/><path fill="#ffe060" d="M490.7 170.9a0.9 0.9 0 1 0 1.9 0a0.9 0.9 0 1 0 -1.9 0M475.6 152.2a1.4 1.4 0 1 0 2.8 0a1.4 1.4 0 1 0 -2.8 0M455.6 169.3a1.0 1.0 0 1 0 2.0 0a1.0 1.0 0 1 0 -2.0 0M499.7 189.9a1.3 1.3 0 1 0 2.5 0a1.3 1.3 0 1 0 -2.5 0M484.9 222.6a1.3 1.3 0 1 0 2.5 0a1.3 1.3 0 1 0 -2.5 0M469.7 215.6a1.1 1.1 0 1 0 2.3 0a1.1 1.1 0 1 0 -2.3 0M481.9 203.5a1.5 1.5 0 1 0 3.0 0a1.5 1.5 0 1 0 -3.0 0"/><path fill="#e8ff60" d="M476.1 162.0a1.4 1.4 0 1 0 2.8 0a1.4 1.4 0 1 0 -2.8 0M455.8 173.9a1.6 1.6 0 1 0 3.2 0a1.6 1.6 0 1 0 -3.2 0M440.3 187.5a1.2 1.2 0 1 0 2.5 0a1.2 1.2 0 1 0 -2.5 0M442.4 186.0a1.2 1.2 0 1 0 2.4 0a1.2 1.2 0 1 0 -2.4 0M427.7 183.2a1.5 1.5 0 1 0 2.9 0a1.5 1.5 0 1 0 -2.9 0M430.8 186.8a1.1 1.1 0 1 0 2.3 0a1.1 1.1 0 1 0 -2.3 0M473.2 193.1a1.3 1.3 0 1 0 2.6 0a1.3 1.3 0 1 0 -2.6 0M468.8 198.7a1.5 1.5 0 1 0 2.9 0a1.5 1.5 0 1 0 -2.9 0M450.7 212.6a1.5 1.5 0 1 0 3.0 0a1.5 1.5 0 1 0 -3.0 0M472.9 203.5a0.9 0.9 0 1 0 1.8 0a0.9 0.9 0 1 0 -1.8 0M470.3 212.5a1.3 1.3 0 1 0 2.6 0a1.3 1.3 0 1 0 -2.6 0M476.7 201.0a1.2 1.2 0 1 0 2.5 0a1.2 1.2 0 1 0 -2.5 0"/></g>
</g>
<rect x="431.75" y="154.75" width="67.80" height="67.00" fill="none" stroke="#2cb2ea" stroke-width="1.5" />
<text x="434.40" y="163.40" font-size="8.4" text-anchor="start" fill="#f4f4f4" font-weight="normal" textLength="26.2" lengthAdjust="spacingAndGlyphs">500 nm</text>
<rect x="437.00" y="165.80" width="13.50" height="2.40" fill="#fff" stroke="none" stroke-width="1" />
<text x="434.00" y="218.20" font-size="8.8" text-anchor="start" fill="#f4f4f4" font-weight="normal" textLength="38.9" lengthAdjust="spacingAndGlyphs">202–212 s</text>
<line x1="470.50" y1="186.00" x2="461.07" y2="190.35" stroke="#2cb2ea" stroke-width="1.5" />
<path d="M458.8,191.4 L461.4,187.6 L463.4,191.9 Z" fill="#2cb2ea"/>
<clipPath id="cps3"><rect x="502" y="12.0" width="69.3" height="68.5"/></clipPath>
<rect x="502.00" y="12.00" width="69.30" height="68.50" fill="#000" stroke="none" stroke-width="1" />
<g clip-path="url(#cps3)">
<g fill="none" stroke-linecap="round" stroke-linejoin="round" stroke-width="3.0" stroke-dasharray="2.6 0.9" opacity="0.9" filter="url(#blur04)"><path stroke="#4090e0" d="M554.2 5.8l-2.5 6.2 -1.6 6.3 0.2 6.8M522.7 29.4l-2 5.1 -2.5 4.8 -2.3 4.9M500.3 11l7.1 -1.1 7.1 0.8M515.9 44.2l-6 -0.6 -6 -0.1 -6 -0.8M537.9 45.7l7 0 6.5 2.5M557.8 56.5l5.9 -0.9 5.8 -1.4 5.6 -2.3"/><path stroke="#40c8e0" d="M528.7 5.9l3.7 5 2.5 5.6 2.9 5.4 1.8 5.9M550.3 25.1l-5.7 -0.2 -5 2.9M537.9 45.7l-1.8 -5 0.2 -5.1 0.4 -5.2M522.7 29.4l7.1 -0.8 6.9 1.8M525.2 54.1l-4.1 -5.4 -5.2 -4.5M525.2 54.1l0.3 7.7M525.5 61.8l-5.3 0.9 -5 1.6 -5.3 0.9 -4.9 2.2 -5.2 1.1 -4.9 2.2M551.4 48.2l3.2 4.1 3.2 4.2M529.2 67.5l0.4 5.6 -0.5 5.5 -0.5 5.5M529.2 67.5l5 -1 4.9 -1.5 5 -1.1 5.1 0.2 5.1 0.3M554.3 64.4l0.8 5 0.6 5.1 1.7 4.7 2.5 4.6"/><path stroke="#60e0d0" d="M537.9 45.7l-4.5 2.4 -4.5 2.4 -3.7 3.6M498 12.7l2.3 -1.7M522.7 29.4l-1.2 -5 -2.3 -4.6 -2 -4.7 -2.7 -4.4M536.7 30.4l2.9 -2.6M550.3 25.1l4.9 5.6M551.4 48.2l1.3 -5.8 1.5 -5.8 1 -5.9M555.2 30.7l5.3 0.5 5.3 0.6 5.3 0 5.3 0.2M525.5 61.8l3.7 5.7M557.8 56.5l-3.5 7.9"/><path stroke="#80e080" d="M489.1 -79.2l0.1 5.1 0.9 5 0.8 5 0.8 5 0.5 5 0.7 5 -0.2 5.1 0.7 5 0.6 5 1 5 0.5 5 1.1 5 0.4 5 1 4.9 0.4 5.1 0.8 5 0.9 5 0.2 5M523.1 5l-3.7 3.8 -4.9 1.9"/></g>
<g opacity="0.75" filter="url(#blur04)"><path fill="#80e8ff" d="M551.7 12.1a1.2 1.2 0 1 0 2.4 0a1.2 1.2 0 1 0 -2.4 0M536.3 42.0a1.4 1.4 0 1 0 2.7 0a1.4 1.4 0 1 0 -2.7 0M535.4 30.4a1.3 1.3 0 1 0 2.6 0a1.3 1.3 0 1 0 -2.6 0M533.4 47.8a1.4 1.4 0 1 0 2.9 0a1.4 1.4 0 1 0 -2.9 0M526.5 52.4a1.3 1.3 0 1 0 2.6 0a1.3 1.3 0 1 0 -2.6 0M499.3 11.0a1.3 1.3 0 1 0 2.5 0a1.3 1.3 0 1 0 -2.5 0M513.8 10.4a1.1 1.1 0 1 0 2.3 0a1.1 1.1 0 1 0 -2.3 0M520.7 27.4a1.1 1.1 0 1 0 2.2 0a1.1 1.1 0 1 0 -2.2 0M506.6 43.5a1.1 1.1 0 1 0 2.2 0a1.1 1.1 0 1 0 -2.2 0M549.8 25.7a1.1 1.1 0 1 0 2.2 0a1.1 1.1 0 1 0 -2.2 0M553.7 31.3a1.4 1.4 0 1 0 2.7 0a1.4 1.4 0 1 0 -2.7 0M569.6 31.7a1.6 1.6 0 1 0 3.2 0a1.6 1.6 0 1 0 -3.2 0M524.0 61.6a1.6 1.6 0 1 0 3.1 0a1.6 1.6 0 1 0 -3.1 0M527.3 81.9a1.3 1.3 0 1 0 2.6 0a1.3 1.3 0 1 0 -2.6 0M549.0 64.9a1.5 1.5 0 1 0 3.1 0a1.5 1.5 0 1 0 -3.1 0M541.3 65.8a1.5 1.5 0 1 0 2.9 0a1.5 1.5 0 1 0 -2.9 0M556.6 77.0a1.3 1.3 0 1 0 2.6 0a1.3 1.3 0 1 0 -2.6 0M554.2 69.5a1.6 1.6 0 1 0 3.2 0a1.6 1.6 0 1 0 -3.2 0M554.5 61.5a1.1 1.1 0 1 0 2.1 0a1.1 1.1 0 1 0 -2.1 0"/><path fill="#e0ffff" d="M535.7 22.9a1.4 1.4 0 1 0 2.8 0a1.4 1.4 0 1 0 -2.8 0M533.1 17.9a1.6 1.6 0 1 0 3.1 0a1.6 1.6 0 1 0 -3.1 0M517.7 37.3a1.4 1.4 0 1 0 2.9 0a1.4 1.4 0 1 0 -2.9 0M516.5 40.5a1.1 1.1 0 1 0 2.2 0a1.1 1.1 0 1 0 -2.2 0M552.0 39.0a1.4 1.4 0 1 0 2.8 0a1.4 1.4 0 1 0 -2.8 0M567.3 31.5a1.4 1.4 0 1 0 2.8 0a1.4 1.4 0 1 0 -2.8 0M516.4 64.1a1.4 1.4 0 1 0 2.7 0a1.4 1.4 0 1 0 -2.7 0M551.7 50.4a1.4 1.4 0 1 0 2.8 0a1.4 1.4 0 1 0 -2.8 0"/><path fill="#c0f8ff" d="M544.0 26.4a1.1 1.1 0 1 0 2.3 0a1.1 1.1 0 1 0 -2.3 0M536.0 32.6a0.9 0.9 0 1 0 1.8 0a0.9 0.9 0 1 0 -1.8 0M522.8 29.5a1.6 1.6 0 1 0 3.1 0a1.6 1.6 0 1 0 -3.1 0M519.4 49.4a1.4 1.4 0 1 0 2.7 0a1.4 1.4 0 1 0 -2.7 0M510.1 10.8a1.1 1.1 0 1 0 2.2 0a1.1 1.1 0 1 0 -2.2 0M518.8 22.7a1.0 1.0 0 1 0 2.1 0a1.0 1.0 0 1 0 -2.1 0M506.9 43.5a1.1 1.1 0 1 0 2.3 0a1.1 1.1 0 1 0 -2.3 0M545.7 47.4a1.2 1.2 0 1 0 2.4 0a1.2 1.2 0 1 0 -2.4 0M567.8 31.6a1.0 1.0 0 1 0 2.0 0a1.0 1.0 0 1 0 -2.0 0M511.5 65.6a1.0 1.0 0 1 0 2.0 0a1.0 1.0 0 1 0 -2.0 0M523.0 62.2a1.2 1.2 0 1 0 2.4 0a1.2 1.2 0 1 0 -2.4 0M507.9 66.6a0.9 0.9 0 1 0 1.8 0a0.9 0.9 0 1 0 -1.8 0M570.6 52.7a1.4 1.4 0 1 0 2.7 0a1.4 1.4 0 1 0 -2.7 0M559.6 55.6a1.6 1.6 0 1 0 3.1 0a1.6 1.6 0 1 0 -3.1 0M528.0 71.1a1.1 1.1 0 1 0 2.1 0a1.1 1.1 0 1 0 -2.1 0M547.7 65.1a1.1 1.1 0 1 0 2.1 0a1.1 1.1 0 1 0 -2.1 0"/></g>
</g>
<rect x="502.75" y="12.75" width="67.80" height="67.00" fill="none" stroke="#f8ae00" stroke-width="1.5" />
<text x="505.40" y="21.40" font-size="8.4" text-anchor="start" fill="#f4f4f4" font-weight="normal" textLength="26.2" lengthAdjust="spacingAndGlyphs">500 nm</text>
<rect x="508.00" y="23.80" width="13.50" height="2.40" fill="#fff" stroke="none" stroke-width="1" />
<text x="505.00" y="76.20" font-size="8.8" text-anchor="start" fill="#f4f4f4" font-weight="normal" textLength="31.1" lengthAdjust="spacingAndGlyphs">78–88 s</text>
<line x1="509.80" y1="30.00" x2="519.29" y2="33.94" stroke="#f8ae00" stroke-width="1.5" />
<path d="M521.6,34.9 L517.1,35.6 L518.9,31.2 Z" fill="#f8ae00"/>
<line x1="566.60" y1="29.40" x2="557.54" y2="32.82" stroke="#f8ae00" stroke-width="1.5" />
<path d="M555.2,33.7 L558.0,30.1 L559.7,34.6 Z" fill="#f8ae00"/>
<clipPath id="cps4"><rect x="502" y="83.0" width="69.3" height="68.5"/></clipPath>
<rect x="502.00" y="83.00" width="69.30" height="68.50" fill="#000" stroke="none" stroke-width="1" />
<g clip-path="url(#cps4)">
<g fill="none" stroke-linecap="round" stroke-linejoin="round" stroke-width="3.0" stroke-dasharray="2.6 0.9" opacity="0.9" filter="url(#blur04)"><path stroke="#40c8e0" d="M575.2 84.3l-4.9 -2 -5 -0.8 -5.2 0.5 -5.1 0.2M578.9 110l-5.9 -0.8 -5.9 0.6 -5.9 -0.1 -5.8 -0.6 -5.9 0.9M547.4 103.8l2.1 6.2M521.6 120.5l-4.9 -2.1 -5.2 -0.3 -5 -1.2 -5.3 0.3 -5.1 -0.5M495.1 115.3l0.2 -6 1.2 -5.7 0.6 -5.8 1.6 -5.7 2.2 -5.5M549.5 110l-2 6.5M547.5 116.5l-5.1 0.5 -5 0.9 -5 1.1 -4.9 1.1 -4.9 1.7M573.4 129.4l-5.1 0.5 -5.2 -0.3 -5 1.6 -5 1.2M588.8 152.4l-4.9 1.4 -4.9 1.2 -5 0.8 -5 0.8 -5 0.7 -5.1 0.1 -5 0.9M553.1 132.4l-2.8 5"/><path stroke="#60e0d0" d="M555 82.2l-2.1 5.3 -2.3 5.3 -2 5.4 -1.2 5.6M550 77.1l5 5.1M521.3 79.9l-4.5 4.8M516.8 84.7l-5.3 0.8 -5.3 0.7 -5.3 0.4M496.4 83.5l4.5 3.1M525.1 99.3l0 5.5 -0.6 5.3 -1.1 5.3 -1.8 5.1M521.6 120.5l1 1.3M493.9 144.1l5.3 -0.8 5.2 -1 5.1 -1.4 5 -1.8 4.9 -2.3 4.9 -2.1M524.3 134.7l2.1 2.7M526.4 137.4l0.3 6.1 1 6 -1.1 5.9 -1.4 6M522.6 121.8l2 6.3 -0.3 6.6M573.4 129.4l2.5 5 3 4.6 2.9 4.8 3 4.6 4 4M553.9 158.3l-2 -5 -0.7 -5.2 -1 -5.3 0.1 -5.4M579.1 110.3l-1.4 6.5 -2.8 6.1 -1.5 6.5M547.5 116.5l2.1 5.2 1.5 5.5 2 5.2M526.4 137.4l6 -0.5 6 0.1 5.9 0.5 6 -0.1"/><path stroke="#80e080" d="M525.1 99.3l5.4 2.2 5.6 0.8 5.6 1 5.7 0.5"/><path stroke="#4090e0" d="M525.1 99.3l-2.7 -4.9 -3.5 -4.5 -2.1 -5.2"/></g>
<g opacity="0.75" filter="url(#blur04)"><path fill="#e0ffff" d="M568.6 83.7a1.0 1.0 0 1 0 2.0 0a1.0 1.0 0 1 0 -2.0 0M503.0 86.2a0.9 0.9 0 1 0 1.9 0a0.9 0.9 0 1 0 -1.9 0M538.7 102.3a1.3 1.3 0 1 0 2.7 0a1.3 1.3 0 1 0 -2.7 0M521.5 94.9a1.1 1.1 0 1 0 2.1 0a1.1 1.1 0 1 0 -2.1 0M525.6 120.9a1.3 1.3 0 1 0 2.5 0a1.3 1.3 0 1 0 -2.5 0M513.2 137.8a1.2 1.2 0 1 0 2.5 0a1.2 1.2 0 1 0 -2.5 0M505.9 140.0a1.2 1.2 0 1 0 2.5 0a1.2 1.2 0 1 0 -2.5 0"/><path fill="#80e8ff" d="M566.5 83.5a1.5 1.5 0 1 0 3.1 0a1.5 1.5 0 1 0 -3.1 0M552.8 84.8a1.2 1.2 0 1 0 2.5 0a1.2 1.2 0 1 0 -2.5 0M533.4 101.3a1.6 1.6 0 1 0 3.2 0a1.6 1.6 0 1 0 -3.2 0M529.3 100.4a1.0 1.0 0 1 0 2.0 0a1.0 1.0 0 1 0 -2.0 0M520.9 116.8a1.3 1.3 0 1 0 2.6 0a1.3 1.3 0 1 0 -2.6 0M517.4 120.0a0.9 0.9 0 1 0 1.8 0a0.9 0.9 0 1 0 -1.8 0M513.3 119.4a1.0 1.0 0 1 0 2.1 0a1.0 1.0 0 1 0 -2.1 0M500.0 86.9a0.9 0.9 0 1 0 1.8 0a0.9 0.9 0 1 0 -1.8 0M536.1 118.7a1.1 1.1 0 1 0 2.1 0a1.1 1.1 0 1 0 -2.1 0M535.8 118.7a1.4 1.4 0 1 0 2.7 0a1.4 1.4 0 1 0 -2.7 0M522.8 132.3a1.2 1.2 0 1 0 2.3 0a1.2 1.2 0 1 0 -2.3 0M561.4 131.0a1.0 1.0 0 1 0 2.0 0a1.0 1.0 0 1 0 -2.0 0M529.6 137.4a1.0 1.0 0 1 0 2.1 0a1.0 1.0 0 1 0 -2.1 0"/><path fill="#c0f8ff" d="M564.1 110.0a1.3 1.3 0 1 0 2.6 0a1.3 1.3 0 1 0 -2.6 0M565.2 110.0a1.1 1.1 0 1 0 2.3 0a1.1 1.1 0 1 0 -2.3 0M551.9 110.0a1.0 1.0 0 1 0 2.0 0a1.0 1.0 0 1 0 -2.0 0M547.5 99.4a1.4 1.4 0 1 0 2.8 0a1.4 1.4 0 1 0 -2.8 0M548.6 96.8a1.2 1.2 0 1 0 2.4 0a1.2 1.2 0 1 0 -2.4 0M514.1 84.8a1.1 1.1 0 1 0 2.2 0a1.1 1.1 0 1 0 -2.2 0M518.7 90.8a1.6 1.6 0 1 0 3.1 0a1.6 1.6 0 1 0 -3.1 0M522.9 103.7a1.5 1.5 0 1 0 3.0 0a1.5 1.5 0 1 0 -3.0 0M523.7 102.4a0.9 0.9 0 1 0 1.8 0a0.9 0.9 0 1 0 -1.8 0M499.4 89.6a0.9 0.9 0 1 0 1.8 0a0.9 0.9 0 1 0 -1.8 0M522.4 134.9a1.3 1.3 0 1 0 2.5 0a1.3 1.3 0 1 0 -2.5 0M524.5 148.2a1.4 1.4 0 1 0 2.7 0a1.4 1.4 0 1 0 -2.7 0M524.8 138.6a1.5 1.5 0 1 0 3.1 0a1.5 1.5 0 1 0 -3.1 0M571.7 129.5a0.9 0.9 0 1 0 1.9 0a0.9 0.9 0 1 0 -1.9 0M549.3 138.6a1.2 1.2 0 1 0 2.5 0a1.2 1.2 0 1 0 -2.5 0M549.2 139.0a1.4 1.4 0 1 0 2.8 0a1.4 1.4 0 1 0 -2.8 0M551.4 149.7a1.0 1.0 0 1 0 2.1 0a1.0 1.0 0 1 0 -2.1 0M551.4 130.5a1.1 1.1 0 1 0 2.1 0a1.1 1.1 0 1 0 -2.1 0M550.6 129.2a1.4 1.4 0 1 0 2.9 0a1.4 1.4 0 1 0 -2.9 0M536.0 137.4a1.2 1.2 0 1 0 2.4 0a1.2 1.2 0 1 0 -2.4 0M548.9 137.4a1.1 1.1 0 1 0 2.2 0a1.1 1.1 0 1 0 -2.2 0"/></g>
</g>
<rect x="502.75" y="83.75" width="67.80" height="67.00" fill="none" stroke="#f8ae00" stroke-width="1.5" />
<text x="505.40" y="92.40" font-size="8.4" text-anchor="start" fill="#f4f4f4" font-weight="normal" textLength="26.2" lengthAdjust="spacingAndGlyphs">500 nm</text>
<rect x="508.00" y="94.80" width="13.50" height="2.40" fill="#fff" stroke="none" stroke-width="1" />
<text x="505.00" y="147.20" font-size="8.8" text-anchor="start" fill="#f4f4f4" font-weight="normal" textLength="38.3" lengthAdjust="spacingAndGlyphs">146–156 s</text>
<line x1="512.80" y1="100.40" x2="521.08" y2="103.76" stroke="#f8ae00" stroke-width="1.5" />
<path d="M523.4,104.7 L518.9,105.5 L520.7,101.0 Z" fill="#f8ae00"/>
<clipPath id="cps5"><rect x="502" y="154.0" width="69.3" height="68.5"/></clipPath>
<rect x="502.00" y="154.00" width="69.30" height="68.50" fill="#000" stroke="none" stroke-width="1" />
<g clip-path="url(#cps5)">
<g fill="none" stroke-linecap="round" stroke-linejoin="round" stroke-width="3.0" stroke-dasharray="2.6 0.9" opacity="0.9" filter="url(#blur04)"><path stroke="#60e0d0" d="M630.8 97.8l-3.7 3.5 -4.1 3.1 -3.9 3.4 -3.3 4 -4.1 3.1 -3.3 3.9 -3.6 3.7 -3.8 3.5 -3.9 3.3 -3.1 4.1 -3.9 3.3 -3.3 4 -3.4 3.9 -3.6 3.5 -3.5 3.8 -3.5 3.7M548.2 150l6.7 5.1M566.1 225.2l-4.3 3.5 -4.6 3.2 -4.3 3.7M498.9 187.8l5.5 1.9 5.6 1.1 5.7 0.6 5.8 0.2M497.9 151.5l4.6 3.9M526 151.2l-0.5 -5 -0.4 -5 -1 -4.9 0.5 -5.1 -1 -4.9 -0.3 -5 -0.7 -5 0 -5 -1 -4.9 -0.5 -5 -0.2 -5 0.3 -5 -0.6 -5 -0.4 -5 -1.1 -4.9 -0.1 -5 0 -5 -0.5 -5 -0.6 -5"/><path stroke="#80e080" d="M572.8 155.6l0.5 5.5 2 5.1 0.8 5.4 2.5 4.9 2.4 4.8M572.8 155.6l-6 -1.1 -6 0.2 -5.9 0.4M498.5 223.6l0.8 1.2M548.2 150l-5.6 -0.4 -5.5 0.7 -5.6 0 -5.5 0.9"/><path stroke="#4090e0" d="M582.8 223.1l-5.5 1.4 -5.5 0.8 -5.7 -0.1M582.8 223.1l-0.5 -5.8 -1.4 -5.4 -2 -5.3 -1.7 -5.4 -2.3 -5.1 -2.5 -5.1M566.1 225.2l-2.6 -4.5 -3.3 -4 -3.1 -4.2 -2.9 -4.3 -3.7 -3.7M581 181.3l-3.4 5.7 -5.2 4M546.5 183.4l3.5 5.1 5 3.7M498.5 223.6l3.9 -3.7 4.7 -2.7 4.4 -3.1 4 -3.6 4.1 -3.5 4.6 -2.8"/><path stroke="#40c8e0" d="M572.4 191l-5.9 -1 -5.8 1 -5.7 1.2M555 192.2l-1.4 6.5 -3.1 5.8M554.9 155.1l-2.9 5.3 -1.7 5.6 -1 5.9 -1.5 5.7 -1.3 5.8M521.3 236.1l-5.9 -2.1 -5.8 -2.2 -5 -3.8 -5.3 -3.2M535 226.4l-0.8 -6.3 0.8 -6.4M524.2 204.2l4.7 5.5 6.1 4M481.3 312.6l1.2 -5.1 1.3 -5.1 0.1 -5.4 1.4 -5.1 0.7 -5.2 1.6 -5.1 0.7 -5.2 1.2 -5.2 1.2 -5.1 0.8 -5.2 1 -5.2 0.6 -5.3 1.3 -5.1 1.7 -5 1.2 -5.2 0.9 -5.2 1.1 -5.1M521.5 191.6l2 6.2 0.7 6.4M550.5 204.5l-5.3 2.9 -5.4 2.6 -4.8 3.7M521.5 191.6l3.1 -5 4.7 -3.3M546.5 183.4l-5.7 -1.2 -5.8 -0.1 -5.7 1.2M502.5 155.4l6.1 0 6.2 -0.5 6.1 0.1M526 151.2l-5.1 3.8M496.4 183.7l0.3 -5.8 1.4 -5.6 1.1 -5.7 1.4 -5.6 1.9 -5.6M529.3 183.3l-1.4 -5.7 -1.7 -5.7 -1.2 -5.8 -2.2 -5.5 -1.9 -5.6"/></g>
<g opacity="0.75" filter="url(#blur04)"><path fill="#c0f8ff" d="M564.8 155.4a1.5 1.5 0 1 0 3.1 0a1.5 1.5 0 1 0 -3.1 0M557.5 215.4a1.2 1.2 0 1 0 2.4 0a1.2 1.2 0 1 0 -2.4 0M560.5 191.7a1.6 1.6 0 1 0 3.2 0a1.6 1.6 0 1 0 -3.2 0M550.8 164.4a1.3 1.3 0 1 0 2.6 0a1.3 1.3 0 1 0 -2.6 0M552.6 159.5a1.0 1.0 0 1 0 2.0 0a1.0 1.0 0 1 0 -2.0 0M553.2 191.4a0.9 0.9 0 1 0 1.9 0a0.9 0.9 0 1 0 -1.9 0M508.8 215.0a1.1 1.1 0 1 0 2.3 0a1.1 1.1 0 1 0 -2.3 0M503.9 188.9a1.5 1.5 0 1 0 3.0 0a1.5 1.5 0 1 0 -3.0 0M543.5 183.4a1.2 1.2 0 1 0 2.4 0a1.2 1.2 0 1 0 -2.4 0M499.2 166.4a0.9 0.9 0 1 0 1.8 0a0.9 0.9 0 1 0 -1.8 0M520.2 157.1a1.4 1.4 0 1 0 2.8 0a1.4 1.4 0 1 0 -2.8 0M527.8 183.1a1.5 1.5 0 1 0 3.0 0a1.5 1.5 0 1 0 -3.0 0"/><path fill="#80e8ff" d="M567.4 155.5a1.6 1.6 0 1 0 3.2 0a1.6 1.6 0 1 0 -3.2 0M549.7 152.1a1.2 1.2 0 1 0 2.4 0a1.2 1.2 0 1 0 -2.4 0M553.6 210.3a1.2 1.2 0 1 0 2.5 0a1.2 1.2 0 1 0 -2.5 0M559.4 217.9a1.1 1.1 0 1 0 2.3 0a1.1 1.1 0 1 0 -2.3 0M571.0 191.0a1.2 1.2 0 1 0 2.3 0a1.2 1.2 0 1 0 -2.3 0M547.5 175.2a1.4 1.4 0 1 0 2.9 0a1.4 1.4 0 1 0 -2.9 0M510.9 213.2a1.3 1.3 0 1 0 2.5 0a1.3 1.3 0 1 0 -2.5 0M533.5 221.6a1.5 1.5 0 1 0 3.0 0a1.5 1.5 0 1 0 -3.0 0M529.2 210.0a1.5 1.5 0 1 0 3.0 0a1.5 1.5 0 1 0 -3.0 0M527.0 207.6a1.0 1.0 0 1 0 1.9 0a1.0 1.0 0 1 0 -1.9 0M505.5 189.0a1.0 1.0 0 1 0 1.9 0a1.0 1.0 0 1 0 -1.9 0M522.1 199.0a1.0 1.0 0 1 0 1.9 0a1.0 1.0 0 1 0 -1.9 0M545.1 207.2a1.0 1.0 0 1 0 2.0 0a1.0 1.0 0 1 0 -2.0 0M547.7 205.3a1.6 1.6 0 1 0 3.2 0a1.6 1.6 0 1 0 -3.2 0M512.1 155.2a1.3 1.3 0 1 0 2.6 0a1.3 1.3 0 1 0 -2.6 0M504.4 155.4a1.1 1.1 0 1 0 2.2 0a1.1 1.1 0 1 0 -2.2 0M498.8 165.9a1.4 1.4 0 1 0 2.9 0a1.4 1.4 0 1 0 -2.9 0"/><path fill="#e0ffff" d="M553.2 193.8a1.2 1.2 0 1 0 2.4 0a1.2 1.2 0 1 0 -2.4 0M545.4 183.3a1.1 1.1 0 1 0 2.1 0a1.1 1.1 0 1 0 -2.1 0M516.8 208.8a1.2 1.2 0 1 0 2.4 0a1.2 1.2 0 1 0 -2.4 0M506.6 216.6a1.2 1.2 0 1 0 2.4 0a1.2 1.2 0 1 0 -2.4 0M511.4 190.1a1.4 1.4 0 1 0 2.8 0a1.4 1.4 0 1 0 -2.8 0M524.9 186.7a1.2 1.2 0 1 0 2.5 0a1.2 1.2 0 1 0 -2.5 0M529.9 183.3a1.6 1.6 0 1 0 3.2 0a1.6 1.6 0 1 0 -3.2 0M527.3 180.8a1.3 1.3 0 1 0 2.5 0a1.3 1.3 0 1 0 -2.5 0M520.6 158.3a1.3 1.3 0 1 0 2.5 0a1.3 1.3 0 1 0 -2.5 0"/></g>
</g>
<rect x="502.75" y="154.75" width="67.80" height="67.00" fill="none" stroke="#f8ae00" stroke-width="1.5" />
<text x="505.40" y="163.40" font-size="8.4" text-anchor="start" fill="#f4f4f4" font-weight="normal" textLength="26.2" lengthAdjust="spacingAndGlyphs">500 nm</text>
<rect x="508.00" y="165.80" width="13.50" height="2.40" fill="#fff" stroke="none" stroke-width="1" />
<text x="505.00" y="218.20" font-size="8.8" text-anchor="start" fill="#f4f4f4" font-weight="normal" textLength="40.1" lengthAdjust="spacingAndGlyphs">198–208 s</text>
<clipPath id="cph"><rect x="0" y="251" width="210" height="209.5"/></clipPath>
<rect x="0.00" y="251.00" width="210.00" height="209.50" fill="#1d1d1d" stroke="none" stroke-width="1" />
<g clip-path="url(#cph)">
<rect x="0" y="251" width="210" height="209.5" filter="url(#noise)" opacity="0.22"/>
<circle cx="75.7" cy="259.4" r="2.1" fill="#fff" opacity="0.50" filter="url(#blur1)"/>
<circle cx="75.7" cy="259.4" r="4.4" fill="none" stroke="#4caf3c" stroke-width="0.75"/>
<circle cx="90.5" cy="273.3" r="2.3" fill="#fff" opacity="0.75" filter="url(#blur1)"/>
<circle cx="90.5" cy="273.3" r="4.4" fill="none" stroke="#4caf3c" stroke-width="0.75"/>
<circle cx="23.3" cy="281.5" r="2.1" fill="#fff" opacity="0.50" filter="url(#blur1)"/>
<circle cx="23.3" cy="281.5" r="4.4" fill="none" stroke="#4caf3c" stroke-width="0.75"/>
<circle cx="32.0" cy="298.4" r="4.4" fill="none" stroke="#4caf3c" stroke-width="0.75"/>
<circle cx="94.8" cy="295.5" r="2.0" fill="#fff" opacity="0.38" filter="url(#blur1)"/>
<circle cx="94.8" cy="295.5" r="4.4" fill="none" stroke="#4caf3c" stroke-width="0.75"/>
<circle cx="74.1" cy="330.2" r="2.1" fill="#fff" opacity="0.50" filter="url(#blur1)"/>
<circle cx="74.1" cy="330.2" r="4.4" fill="none" stroke="#4caf3c" stroke-width="0.75"/>
<circle cx="100.5" cy="334.8" r="2.1" fill="#fff" opacity="0.50" filter="url(#blur1)"/>
<circle cx="100.5" cy="334.8" r="4.4" fill="none" stroke="#4caf3c" stroke-width="0.75"/>
<circle cx="81.7" cy="339.7" r="2.0" fill="#fff" opacity="0.38" filter="url(#blur1)"/>
<circle cx="81.7" cy="339.7" r="4.4" fill="none" stroke="#4caf3c" stroke-width="0.75"/>
<circle cx="29.1" cy="339.7" r="2.2" fill="#fff" opacity="0.62" filter="url(#blur1)"/>
<circle cx="29.1" cy="339.7" r="4.4" fill="none" stroke="#4caf3c" stroke-width="0.75"/>
<circle cx="145.4" cy="252.4" r="2.0" fill="#fff" opacity="0.38" filter="url(#blur1)"/>
<circle cx="145.4" cy="252.4" r="4.4" fill="none" stroke="#4caf3c" stroke-width="0.75"/>
<circle cx="108.6" cy="263.2" r="2.1" fill="#fff" opacity="0.50" filter="url(#blur1)"/>
<circle cx="108.6" cy="263.2" r="4.4" fill="none" stroke="#4caf3c" stroke-width="0.75"/>
<circle cx="131.6" cy="263.6" r="2.0" fill="#fff" opacity="0.42" filter="url(#blur1)"/>
<circle cx="131.6" cy="263.6" r="4.4" fill="none" stroke="#4caf3c" stroke-width="0.75"/>
<circle cx="106.4" cy="282.4" r="2.0" fill="#fff" opacity="0.42" filter="url(#blur1)"/>
<circle cx="106.4" cy="282.4" r="4.4" fill="none" stroke="#4caf3c" stroke-width="0.75"/>
<circle cx="131.6" cy="289.6" r="2.5" fill="#fff" opacity="1.00" filter="url(#blur1)"/>
<circle cx="131.6" cy="289.6" r="4.4" fill="none" stroke="#4caf3c" stroke-width="0.75"/>
<circle cx="208.2" cy="258.5" r="4.4" fill="none" stroke="#4caf3c" stroke-width="0.75"/>
<circle cx="199.6" cy="308.8" r="2.2" fill="#fff" opacity="0.62" filter="url(#blur1)"/>
<circle cx="199.6" cy="308.8" r="4.4" fill="none" stroke="#4caf3c" stroke-width="0.75"/>
<circle cx="110.9" cy="323.7" r="2.1" fill="#fff" opacity="0.50" filter="url(#blur1)"/>
<circle cx="110.9" cy="323.7" r="4.4" fill="none" stroke="#4caf3c" stroke-width="0.75"/>
<circle cx="195.3" cy="325.5" r="2.1" fill="#fff" opacity="0.50" filter="url(#blur1)"/>
<circle cx="195.3" cy="325.5" r="4.4" fill="none" stroke="#4caf3c" stroke-width="0.75"/>
<circle cx="172.7" cy="338.4" r="2.3" fill="#fff" opacity="0.75" filter="url(#blur1)"/>
<circle cx="172.7" cy="338.4" r="4.4" fill="none" stroke="#4caf3c" stroke-width="0.75"/>
<circle cx="150.4" cy="346.7" r="2.5" fill="#fff" opacity="1.00" filter="url(#blur1)"/>
<circle cx="150.4" cy="346.7" r="4.4" fill="none" stroke="#4caf3c" stroke-width="0.75"/>
<circle cx="203.4" cy="345.6" r="2.1" fill="#fff" opacity="0.55" filter="url(#blur1)"/>
<circle cx="203.4" cy="345.6" r="4.4" fill="none" stroke="#4caf3c" stroke-width="0.75"/>
<circle cx="34.6" cy="370.9" r="2.2" fill="#fff" opacity="0.62" filter="url(#blur1)"/>
<circle cx="34.6" cy="370.9" r="4.4" fill="none" stroke="#4caf3c" stroke-width="0.75"/>
<circle cx="53.0" cy="371.3" r="2.1" fill="#fff" opacity="0.55" filter="url(#blur1)"/>
<circle cx="53.0" cy="371.3" r="4.4" fill="none" stroke="#4caf3c" stroke-width="0.75"/>
<circle cx="79.0" cy="366.4" r="4.4" fill="none" stroke="#4caf3c" stroke-width="0.75"/>
<circle cx="96.9" cy="384.4" r="4.4" fill="none" stroke="#4caf3c" stroke-width="0.75"/>
<circle cx="73.2" cy="403.7" r="2.1" fill="#fff" opacity="0.50" filter="url(#blur1)"/>
<circle cx="73.2" cy="403.7" r="4.4" fill="none" stroke="#4caf3c" stroke-width="0.75"/>
<circle cx="76.3" cy="416.5" r="2.5" fill="#fff" opacity="1.00" filter="url(#blur1)"/>
<circle cx="76.3" cy="416.5" r="4.4" fill="none" stroke="#4caf3c" stroke-width="0.75"/>
<circle cx="17.4" cy="420.1" r="2.1" fill="#fff" opacity="0.50" filter="url(#blur1)"/>
<circle cx="17.4" cy="420.1" r="4.4" fill="none" stroke="#4caf3c" stroke-width="0.75"/>
<circle cx="59.2" cy="434.1" r="2.3" fill="#fff" opacity="0.75" filter="url(#blur1)"/>
<circle cx="59.2" cy="434.1" r="4.4" fill="none" stroke="#4caf3c" stroke-width="0.75"/>
<circle cx="96.6" cy="437.7" r="2.3" fill="#fff" opacity="0.75" filter="url(#blur1)"/>
<circle cx="96.6" cy="437.7" r="4.4" fill="none" stroke="#4caf3c" stroke-width="0.75"/>
<circle cx="25.5" cy="456.0" r="2.1" fill="#fff" opacity="0.50" filter="url(#blur1)"/>
<circle cx="25.5" cy="456.0" r="4.4" fill="none" stroke="#4caf3c" stroke-width="0.75"/>
<circle cx="98.7" cy="454.7" r="2.1" fill="#fff" opacity="0.50" filter="url(#blur1)"/>
<circle cx="98.7" cy="454.7" r="4.4" fill="none" stroke="#4caf3c" stroke-width="0.75"/>
<circle cx="189.0" cy="374.5" r="2.5" fill="#fff" opacity="1.00" filter="url(#blur1)"/>
<circle cx="189.0" cy="374.5" r="4.4" fill="none" stroke="#4caf3c" stroke-width="0.75"/>
<circle cx="197.6" cy="374.0" r="2.5" fill="#fff" opacity="1.00" filter="url(#blur1)"/>
<circle cx="197.6" cy="374.0" r="4.4" fill="none" stroke="#4caf3c" stroke-width="0.75"/>
<circle cx="142.7" cy="404.1" r="2.3" fill="#fff" opacity="0.75" filter="url(#blur1)"/>
<circle cx="142.7" cy="404.1" r="4.4" fill="none" stroke="#4caf3c" stroke-width="0.75"/>
<circle cx="109.8" cy="416.7" r="2.1" fill="#fff" opacity="0.50" filter="url(#blur1)"/>
<circle cx="109.8" cy="416.7" r="4.4" fill="none" stroke="#4caf3c" stroke-width="0.75"/>
<circle cx="208.2" cy="417.0" r="2.0" fill="#fff" opacity="0.38" filter="url(#blur1)"/>
<circle cx="208.2" cy="417.0" r="4.4" fill="none" stroke="#4caf3c" stroke-width="0.75"/>
<circle cx="141.3" cy="432.3" r="2.2" fill="#fff" opacity="0.62" filter="url(#blur1)"/>
<circle cx="141.3" cy="432.3" r="4.4" fill="none" stroke="#4caf3c" stroke-width="0.75"/>
<circle cx="143.2" cy="443.6" r="2.1" fill="#fff" opacity="0.50" filter="url(#blur1)"/>
<circle cx="143.2" cy="443.6" r="4.4" fill="none" stroke="#4caf3c" stroke-width="0.75"/>
<circle cx="155.3" cy="443.4" r="2.4" fill="#fff" opacity="0.88" filter="url(#blur1)"/>
<circle cx="155.3" cy="443.4" r="4.4" fill="none" stroke="#4caf3c" stroke-width="0.75"/>
<circle cx="187.2" cy="431.9" r="2.1" fill="#fff" opacity="0.50" filter="url(#blur1)"/>
<circle cx="187.2" cy="431.9" r="4.4" fill="none" stroke="#4caf3c" stroke-width="0.75"/>
<circle cx="191.2" cy="437.1" r="2.2" fill="#fff" opacity="0.62" filter="url(#blur1)"/>
<circle cx="191.2" cy="437.1" r="4.4" fill="none" stroke="#4caf3c" stroke-width="0.75"/>
<circle cx="200.7" cy="438.0" r="2.5" fill="#fff" opacity="1.00" filter="url(#blur1)"/>
<circle cx="200.7" cy="438.0" r="4.4" fill="none" stroke="#4caf3c" stroke-width="0.75"/>
<circle cx="208.2" cy="433.5" r="2.0" fill="#fff" opacity="0.38" filter="url(#blur1)"/>
<circle cx="208.2" cy="433.5" r="4.4" fill="none" stroke="#4caf3c" stroke-width="0.75"/>
</g>
<linearGradient id="gH" x1="0" y1="0" x2="0" y2="1"><stop offset="0" stop-color="#fff"/><stop offset="1" stop-color="#000"/></linearGradient>
<text x="4.80" y="317.40" font-size="8.0" text-anchor="start" fill="#f4f4f4" font-weight="normal" >300</text>
<rect x="8.50" y="320.60" width="5.00" height="53.00" fill="url(#gH)" stroke="#ddd" stroke-width="0.6" />
<text x="8.80" y="382.80" font-size="8.0" text-anchor="start" fill="#f4f4f4" font-weight="normal" >0</text>
<rect x="2.00" y="263.30" width="28.00" height="2.60" fill="#fff" stroke="none" stroke-width="1" />
<text x="6.80" y="261.20" font-size="8.0" text-anchor="start" fill="#f4f4f4" font-weight="normal" >2 μm</text>
<clipPath id="cpi"><rect x="216" y="251" width="210" height="209.5"/></clipPath>
<rect x="216.00" y="251.00" width="210.00" height="209.50" fill="#000" stroke="none" stroke-width="1" />
<g clip-path="url(#cpi)">
<g fill="none" stroke-linecap="round" stroke-linejoin="round" stroke-width="4.6" opacity="0.8"><path stroke="#e84010" d="M-57 277.2l5 -0.3 5 -0.6 5.1 -0.3 4.9 -1.3 5 -0.5 5 -0.6 5.1 -0.5 5 0 5 -1.2 5 -0.1 5 -0.8 5.1 -0.5 5 -0.4 5 -0.1 5 -0.8 5 -1.1 5 -0.3 5 -0.6 5.1 0.2 5.1 -0.6 5 -0.5 5 -0.5 5 -0.6 5 -0.3 5.1 -0.7 4.9 -1 5.1 0.1 5 -0.9 5 -0.2 5 -0.7 5 -0.6 5.1 -0.6 5 -0.4 5 -0.6 5 -0.7 5.1 0.2 5 -0.5 5.1 -0.3 5 -0.7 5 -0.7 5 -0.2 5 -1.1 5 0 5 -0.7 5 -0.7 5.1 -0.5 5 -0.1 5 -0.7 5.1 -0.3 5 -0.3 5 -0.7 5 -0.7 5.1 -0.1 5 -0.4M345.8 252.1l7.8 -5.9M431.4 271.3l-0.3 -6.1 -1.1 -6 -2.7 -5.6M220.8 310.8l-1.9 1.8M411.9 78.1l0.5 5 -1 5.1 0.2 5 0.5 5.1 -0.1 5 -0.3 5.1 0.4 5 -0.4 5 -0.1 5.1 0.5 5 -0.3 5.1 0.3 5 0.3 5.1 -0.9 5 0.7 5 0.3 5.1 -0.1 5 -0.1 5.1 0.2 5 -0.1 5.1 0.1 5 -0.2 5.1 0.2 5 0.2 5 0.6 5.1 0.1 5 0.4 5.1 0.3 5 -0.3 5 0 5.1 0.7 5 0.1 5.1 0.4 5 0.1 5M267.2 380.2l5.2 -5.2M290.5 393.8l-4.2 3.8M281.8 185.3l-1 5 -0.4 5.1 -0.9 5.1 -0.3 5.1 -0.3 5.1 -0.6 5 -0.4 5.1 -0.9 5.1 -1.2 5 -0.5 5 -0.4 5.1 -1.1 5 -0.5 5.1M273.3 251.1l5.6 0.7 5.4 1.5 5.5 1.2M239.8 269.1l4.2 -2.9 3.9 -3.2 3.2 -4 3.7 -3.5M214.1 250.1l2.5 1.7M260.1 257.4l6.4 -3.5 6.8 -2.8M260.1 257.4l-5.3 -1.9M260.1 257.4l1 5.2 1.7 4.9 2.7 4.6 2.2 4.7M267.7 276.8l-5 3.5 -5 3.5 -4.4 4.2M385.7 274.2l-4 -4.7 -2.2 -5.6 -2.9 -5.3 -2 -5.8M374.6 252.8l1.8 -2.3M415.1 249.5l-5.5 -0.6 -5.5 0.8 -5.5 0.2M387.9 323.2l-5.8 -2.9 -5.9 -2.4 -5.9 -2.7M370.3 315.2l-1.7 0.9M353.3 337.9l-7.2 1.4 -7.2 1.5M338 251.4l-1.3 4.9 -1.5 4.9 -1.5 4.9 -0.7 5.1 -1.3 5M345.8 252.1l3.1 5.9 2.8 5.9 2.9 6M385.7 274.2l-3.9 4.7 -4.2 4.4 -4.8 3.8M392.9 299.4l-5.1 -1.5 -5.2 -1.1 -5.3 0.2M309.9 -19.5l0 5.1 0.5 5 -0.1 5.1 -0.3 5.1 -0.2 5.1 0.2 5.1 0.7 5.1 0.1 5.1 -0.5 5.1 0.7 5 -0.8 5.1 0.6 5.1 0 5.1 -0.4 5.1 0.1 5.1 0.3 5.1 0 5.1 0.2 5.1 0.3 5 0.1 5.1 0.4 5.1 -0.2 5.1 0.2 5.1 -0.2 5.1 -0.2 5.1 0.3 5 0.2 5.1 -0.6 5.1 -0.1 5.1 0.8 5.1 0 5.1 0.2 5.1 -0.1 5.1 -0.4 5.1 0.3 5 -0.3 5.1 0 5.1 0.1 5.1 0.3 5.1 0.4 5.1 0.4 5.1 -0.8 5.1 0.9 5 -0.7 5.1 0.9 5.1 -0.8 5.1 0.6 5.1 -0.5 5.1 0.8 5.1 -0.3 5 0.2 5.1 -0.5 5.1 0.4 5.1M331.7 276.2l-4 0.9M317.9 293.9l0 -8.4M296.7 306.2l-3.9 -3.5 -2.4 -4.7 -2.5 -4.5M254.6 356l-7.1 -2.6M241.2 381.7l6.3 -3.7 7.1 -2M217 372.3l6.5 -6.8M217 372.3l-5 0.6 -5 0 -5 1 -5.1 0.1 -5 0.4 -5 0.4 -5.1 -0.1 -5 1 -5 -0.3 -5 0.7 -5 0.9 -5.1 -0.6 -5 1.2 -5 0.1 -5.1 -0.1 -5 0.7 -5 0.6 -5.1 -0.2 -5 0.8 -5 0.1 -5.1 0.4 -5 0.9 -5 -0.5 -5 1 -5 0.5 -5.1 -0.2 -5 0.5 -5.1 -0.2 -5 0.8 -5.1 -0.2 -4.9 1.1 -5.1 0 -5 0.1 -5.1 0.1 -5 0.7 -5 -0.1 -5.1 0 -5 1.1 -5 -0.2 -5.1 0.6 -5 0 -5 0.4 -5.1 0.1 -5 0.4 -5.1 -0.2 -5 0.1 -5.1 0.3 -5 0.3 -5 0.8 -5 0.5 -5.1 -0.1 -5 0.6 -5.1 -0.5 -5 0.5M-53.9 338.8l5 0 5 1 5.1 -0.2 5 0.5 5 0.6 5 -0.2 5.1 0 5 1.1 5 -0.6 5.1 0.3 5 0.6 5 0.1 5 0.5 5.1 0.1 5 0.9 5 -0.4 5 0.7 5.1 -0.2 5 0.8 5 0.6 5.1 -0.6 5 0.4 5 0.8 5 -0.3 5.1 0.1 5 0.6 5 0.5 5 0.3 5.1 -0.2 5 0.1 5 0.1 5 1 5.1 -0.3 5 0.1 5 0.8 5.1 -0.7 5 0.4 5.1 0.2 5 0.4 5 -0.3 5 1 5.1 -0.1 5 -0.2 5 0.8 5.1 -0.3 5 0 5 0 5.1 0.3 5 0.7 5 -0.2 5 0.8 5.1 -0.3 5 0 5 0.3M254.6 376l6.7 0.7 5.9 3.5M219.2 343.1l5.2 -3.9 5.3 -3.6 6.1 -2.4M220.8 310.8l5.6 2.3 4.8 3.6 4.6 4M324 321.6l-7.4 -4.1M334.8 335.2l-8.1 -3.4M241.2 446.3l-4.7 4.9 -3.4 5.7 -4 5.4M241.2 438.1l-4.8 -4M276 460.3l-6.1 -1.6 -5.6 -3.2M276 460.3l-0.8 5.3 -0.2 5.3 -0.6 5.4 -1.5 5.1 -0.8 5.3 -0.6 5.3 -0.7 5.3 -0.7 5.3 -1.1 5.2 -2.1 5.1 -1.1 5.2 -1.3 5.1 -1 5.3 -1.1 5.2M241.2 446.3l4 3.5 4.5 3 4.5 2.8 4.7 2.5M250.2 398l-4.1 -3.9 -3.2 -4.3 -1.7 -5.5M286 436.8l-0.6 5.2 0.2 5.3 0 5.2 0.4 5.2M486.8 361l-5.2 -1 -5.3 -1 -5.3 -1 -5.2 -0.9 -5.5 -0.1 -5.1 -1.8 -5.2 -1 -5.4 -0.5 -5.2 -1.2 -5.1 -1.9 -5.3 -0.8 -5.2 -1.4M423.8 348.4l1.2 5.2 2.1 5.1 0.6 5.4 0.5 5.4M433 388.2l-1.1 5.2 -1.3 5.1 -1 5.3 -1.2 5.1M352.6 389.1l6.5 6.1M400.3 361.1l-4.9 -5 -5.3 -4.7M390.1 350.7l0 0.7M423.4 347.7l-0.5 -5.1M382.4 339.6l3 6.1 4.7 5M423.8 348.4l-0.4 -0.7M429.3 333.3l-3.2 4.7 -3.2 4.6M352.6 389.1l-0.2 -5.2M319.5 421l0 0M322.5 397l-2.1 -1.7M319.3 586.4l1 -5.1 0.8 -5.2 0.2 -5.2 0.7 -5.1 1.1 -5.1 1.2 -5 -0.1 -5.3 1.4 -5 0.1 -5.2 0.8 -5.2 1.1 -5 1.1 -5.1 -0.1 -5.2 1.4 -5.1 0.7 -5.1 0.5 -5.2 0.6 -5.1 1.1 -5.1 0 -5.2 1.4 -5.1 0.2 -5.2 0.6 -5.1 1.2 -5.1 0.6 -5.1M309.2 437.7l8.3 -2.2M298.9 327.2l4 1.7M305 373.7l1.8 -5.4 0.5 -5.6 -0.7 -5.6M318.6 337.6l1.2 6.1 0.5 6 0.8 6.1M318.6 337.6l-5.5 -0.5 -5.6 -0.6M278.7 331.9l-6.2 2.9 -6.5 1.7M278.7 331.9l5.7 3.4M294.1 311.1l1.4 5.4 1.6 5.4 1.8 5.3M213.7 388.8l3.7 4.9 0.6 6.2M228.4 399l-5.3 -0.8 -5.1 1.7M433.9 311.4l-2.1 6.9 -4.1 5.8M427.7 324.1l-4.6 -2.3 -4.4 -2.7 -4.8 -1.9 -4.7 -2 -4.4 -2.6M428.2 369.5l-3.7 7M424.5 376.5l-5.8 -1.3 -5.8 -1.3 -5.8 -1.3 -5.5 -2.3M428.4 408.9l-5.9 0M385.8 404.2l9.7 1.6M403 395.5l5.9 0M342.6 375.6l-6.7 0.3 -6.5 1.5 -6.2 2.6M336.4 356.7l0.5 0.5M320.4 395.3l1.3 -5.1 0.6 -5.1 0.9 -5.1M305.3 374l7 1.7 7.3 -0.2M247.4 315.5l0 -5.5 0 -5.4M254.1 298.5l5.2 1.8 5.2 1.5 4.7 2.8M269.2 304.6l1.5 6.8M277.3 316.2l-6.6 -4.8M422.5 408.9l-4.7 4.4 -5 4.1M376.6 442.9l3.1 -6.7 2.3 -7M392.2 427l4.7 3.3 4.3 3.9 3.9 4.2M358.7 436.2l6 2.2 5.9 2.4 6 2.1M370.9 417l4.2 3.5 3.6 4.2 3.3 4.5M377.7 448.7l-1.6 6.7M368.1 460.9l8 -5.5M368.1 460.9l1 5 2.1 4.9 0.7 5.1 1.7 5 1.7 4.9 1.2 5 1.5 5 0.9 5.1 1.1 5.1 1.7 4.9 1.5 5 0.2 5.2 1.2 5.1 1.4 5 1.6 4.9 0.2 5.3 1.6 4.9 1 5.1"/><path stroke="#f07818" d="M182.4 -5l0.8 5 0.5 5 0.9 5 0.3 5 1 5 0.9 5 0.1 5 1 5 1 4.9 0 5.1 1.1 5 0.6 5 0.8 4.9 0.3 5.1 0.8 5 0.9 4.9 0.8 5 0.2 5 0.6 5.1 0.9 4.9 0.4 5.1 1 4.9 0.7 5 0.8 5 0.6 5 0.8 5 -0.2 5.1 1 4.9 1.1 4.9 0.5 5.1 0.3 5 0.2 5.1 0.6 5 0.6 5 1.1 4.9 0.4 5 0.1 5.1 1.1 4.9 0.3 5.1 1.2 4.9 0.1 5.1 0.6 5 0.1 5 0.5 5.1 0.8 4.9 0.9 5 0 5.1 0.5 5 1.5 4.9 0.1 5 0.5 5.1M431.4 271.3l-3 6.3M428.4 277.6l2.6 6.5 3.3 6.2M-43.1 295.1l5.1 0.3 5 -0.3 5.1 0.1 5 0.3 5.1 -0.1 5.1 -0.6 5 0.6 5.1 -0.5 5.1 0.3 5 0.2 5.1 0.1 5.1 -1 5 0.4 5.1 -0.1 5 0.1 5.1 0.3 5.1 0.2 5 -0.3 5.1 -0.5 5.1 0.7 5 -0.7 5.1 -0.2 5.1 0 5 0.8 5.1 -0.6 5.1 0.5 5 -0.6 5.1 0.4 5 -0.4 5.1 0.1 5.1 0.3 5 -0.5 5.1 0.1 5.1 0.1 5 0.1 5.1 -0.3 5.1 0.2 5 -0.1 5.1 0.1 5.1 0.6 5 -0.8 5.1 0 5 0.5 5.1 -0.6 5.1 0.4 5 0.1 5.1 0.3 5.1 0 5 -0.3 5.1 0.3 5.1 -0.3M-21 297.5l5.1 0.2 4.9 1.2 4.9 0.7 5.1 0 4.9 1.1 5.1 0.4 4.9 1.2 5 0.5 5 0.3 5 0.5 5 0.7 5 0.9 5 -0.1 4.9 1.5 5.1 0 5 0.4 4.9 1.5 5 0.2 5.1 0.3 4.9 0.9 5 0.5 4.9 1.2 5 0.8 4.9 0.9 5.1 0 4.9 1.3 5 0.7 5 0.7 4.9 0.8 5.1 0.4 4.9 1 5.1 -0.1 4.9 1.3 4.9 0.9 5.1 0 4.9 1.4 5 0.3 5 0.6 5 1.1 5 0.4 4.9 1.1 5.1 0.1 4.9 1.3 5 0.4 5 0.7 4.8 1.5 5.1 0.3M215.2 294.8l4.2 3.6 2.7 4.8M428.4 277.6l-5.4 0.5 -5.4 0.2 -5.4 -0.4 -5.4 0.8M406.8 278.7l2.3 -5.4 2.4 -5.3 2 -5.5 3.2 -4.9 3.8 -4.5M420.5 253.1l-5.4 -3.6M272.4 375l6.8 -1.2 6.9 -1.1M286.3 397.6l-5.7 -1.8 -5.7 -1.7 -5.9 -0.8M290.5 376.3l-4.4 -3.6M281.8 185.3l1 5.1 2.2 4.8 1 5 1.7 4.9 1.2 5 1.2 5 0.7 5.2 1.3 5 1 5 1.7 4.9 1 5.1 0.2 5.2 1.3 5M216.5 280.6l5.6 0.2 5.6 0.6 5.6 -0.1 5.7 -0.7M239.1 281l4.9 2 4.9 2 4.4 3M376.4 250.5l6.4 0.1 6.3 -1.6 6.2 -1.4M395.3 247.6l3.3 2.3M354.4 126.3l0.5 5 0.8 5 1.6 4.8 1 5 0.9 4.9 0.6 5.1 1.1 4.9 0.1 5.1 1 5 1.2 4.9 0.7 5 0.6 5 1.8 4.8 0.3 5.1 1.1 4.9 0.3 5.1 1.6 4.8 0.6 5 0.8 5 0.7 5 1.5 4.9 0.1 5.1 1.4 4.9 1 4.9 0.7 5M387.9 323.2l-1 5.7 -2.2 5.4 -2.3 5.3M368.6 338.3l7 -0.3 6.8 1.6M334.8 335.2l4.1 5.6M349.7 313.1l3.6 2M353.3 315.1l-1.3 5.7 0.1 5.7 0.7 5.7 0.5 5.7M368.6 338.3l-6.3 5M342.4 278.8l2.6 5.4 2.2 5.6 2.1 5.6M345.3 307.6l0.3 -6.7 3.7 -5.5M349.7 313.1l-4.4 -5.5M377.3 297l-4.6 -8.6M377.3 297l-1.2 6.5 -2.2 6.1 -3.6 5.6M267.7 276.8l1.5 0.8M306.2 252.1l6.9 -2M313.1 250.1l1.3 0.3M306.2 279.3l5.5 3.8 6.2 2.4M327.7 277.1l-5.6 3.3 -4.2 5.1M296.9 279.9l9.3 -0.6M317.9 293.9l-3.3 4.7 -3.5 4.5M340.4 307.6l4.9 0M338.9 399.6l-5.3 -1.5 -5.5 -1.2 -5.6 0.1M338.9 417.1l-6.5 0.8 -6.5 1.4 -6.4 1.7M223.7 362.9l-3.7 -5.5 -2.4 -6.2M272.4 375l-2.2 -4.9 -1 -5.1 -1 -5.2 -1 -5.2M340.4 307.6l-4.8 2.5 -4.4 3.2 -3.4 4.4 -3.8 3.9M324 321.6l0.1 5.4 2.6 4.8M229.1 462.3l-5.7 -2.1 -5.9 -1.5 -5.4 -2.9M232.4 466.7l-3.3 -4.4M264.3 455.5l-5.4 2.6M304.7 730.2l0.1 -5.1 -0.7 -5.1 -0.4 -5.1 0.2 -5.1 0.4 -5.1 -0.4 -5 0.2 -5.1 -0.1 -5.1 -0.4 -5.1 -0.3 -5 -0.1 -5.1 0.2 -5.1 -0.3 -5.1 -0.9 -5 0.7 -5.2 -0.5 -5 -0.2 -5.1 0.1 -5.1 -0.7 -5.1 0.4 -5.1 -0.1 -5 -1.1 -5.1 -0.2 -5.1 0.2 -5 -0.6 -5.1 -0.2 -5.1 0.1 -5.1 -0.2 -5.1 0.4 -5.1 -0.4 -5 -0.7 -5.1 0.1 -5.1 -0.8 -5 0.1 -5.1 0.2 -5.1 -0.6 -5.1 0.1 -5.1 -1.1 -5 -0.3 -5.1 0 -5.1 0.3 -5.1 -0.7 -5 0.1 -5.1 -0.1 -5.1 -0.2 -5.1 -0.2 -5.1 -1.3 -5 0.1 -5.1 -0.7 -5 -0.1 -5.1 0.5 -5.1 -1 -5.1 0 -5.1M228.4 399l3.9 5.3 4.8 4.4 5.2 4M246.5 411.6l-4.2 1.1M268.4 393.9l-6.2 0.4 -6.2 1.1 -5.8 2.6M235.2 420.5l-6.5 0.2 -6.1 -1.9 -6 -2M263.1 439l7.7 -5.2M254.6 434.4l0.3 -6.1 0.2 -6 -0.5 -6M286 436.8l-4.8 -2.3 -5.2 -0.6 -5.2 -0.1M246.5 411.6l8.1 4.7M387.9 323.2l5.5 -1.6 5.6 -1.6M385.8 404.2l-4.3 5.1 -5 4.1 -5.6 3.6M378.9 393.2l-6.6 0.7 -6.5 1.3 -6.7 0M359.1 395.2l1 5.2 1.3 5.1 1 5.2 2.5 4.7M342.6 420.6l5.3 -0.6 5.4 0.2 5.4 0.4M338.9 438.6l3.2 4.8 4.8 3.1M358.7 420.6l-0.5 5.2 -1 5.2 1.5 5.2M405.4 335.3l5.7 2.7 5.9 2.5 5.9 2.1M399 320l3.5 4.5 1.9 5.2 1 5.6M362.3 354.2l-0.3 5.4 0.3 5.5 -1.1 5.4 -0.9 5.4M380.2 358l-1.5 5.3 -0.8 5.4 0.5 5.6M360.3 375.9l6.1 -0.1 6 -0.6 6 -0.9M362.3 343.3l0.3 5.4 -0.3 5.5M362.3 354.2l0 0M390.1 351.4l-5 3.1 -4.9 3.5M386.1 380.4l-7.7 -6.1M290.5 376.3l7.3 -1.1 7.2 -1.5M305 373.7l0.3 0.3M305.3 374l0.4 5.4 -0.3 5.5 1.2 5.2 1.6 5.3M308.2 395.4l0.5 0.3M348.3 457.8l-5.2 3.9 -6.2 1.6M299.6 459.4l1.8 -5.7 1.7 -5.8 3.1 -5 3 -5.2M299.6 459.4l5 2.4 5.1 2 5.5 0.9M315.2 464.7l8.1 -4.7M323.3 460l-1.5 -5.3 -0.3 -5.4 -0.5 -5.3 0.2 -5.4M336.9 463.3l-7 -0.9 -6.6 -2.4M245.9 337.3l4.9 -4.4 5.9 -2.9M266 336.5l-5.4 -2.2 -3.9 -4.3M288.5 352l-0.1 -5.9 -1.1 -5.6 -2.9 -5.2M306.6 357.1l-5.9 -5.1M316.6 317.5l-5.5 2.7 -4 4.4 -4.2 4.3M296.7 306.2l-2.6 4.9M212.6 410.6l2.2 -5.6 3.2 -5.1M214 434l-5.2 -1.3 -5 -1.7 -5.1 -1.5 -5.1 -1.5 -4.9 -2.5 -5.3 -0.7 -5.1 -1.4 -5 -2 -5.3 -0.5 -5.1 -1.5 -5.2 -1.1 -5.2 -1.4 -5.2 -1.1 -5.2 -1.1M433.9 311.4l-4.7 -5.1 -1.6 -6.9M404.8 312.6l5 -3.7 4.3 -4.5 3.8 -5M417.9 299.4l9.7 0M402.8 313.2l2 -0.6M424.5 376.5l0.5 3M342.6 375.6l-2.6 -5.9 -2.6 -5.9 -0.5 -6.6M324.4 357.6l-1.6 5.9 -1.4 6.1 -1.8 5.9M323.2 380l-3.6 -4.5M321.1 355.8l3.3 1.8M247.4 315.5l4.9 2.7 3.9 4.1M254.1 298.5l-6.7 6.1M395.5 405.8l2.5 8.3M398 414.1l4.7 2.3 4.8 1.5 5.3 -0.5M412.8 417.4l0.7 5.9 1.5 5.7 -0.2 6M376.6 442.9l1.1 5.8M377.7 448.7l4.8 -1.6 4.9 -1.5 5 -0.6 5 -0.3 5.1 0.4M382 429.2l5.3 -0.1 4.9 -2.1M353.7 461l7.2 0.4 7.2 -0.5M392.2 466.2l6 -4.3 6.7 -3M402.5 445.1l1.4 6.9 1 6.9M433.5 457l-5.1 1 -4.9 1.3 -4.8 1.8 -4.8 1.8"/><path stroke="#20b8d0" d="M338 251.4l-6.7 -5.6M-50.3 294.7l5.1 -0.4 5 -0.3 5.1 0 5 -1.2 5.1 0 5.1 0.2 5.1 -1.2 5.1 0.5 5 -0.6 5.1 -0.9 5 -0.3 5.1 -0.1 5.1 0 5.1 -0.1 5.1 -0.5 5 -1.1 5.1 0.3 5.1 -0.5 5 -0.5 5.1 -0.5 5.1 0.2 5.1 -0.6 5.1 0 5 -1.2 5 -0.3 5.1 -0.6 5.1 -0.3 5 -0.5 5.1 0.1 5.1 -0.7 5.1 0.1 5 -0.6 5 -1 5.1 -0.2 5.1 0.1 5.1 -0.5 5 -1.2 5.1 0.5 5 -1 5.2 0.1 5 -0.8 5.1 -0.4 5 -0.8 5 -0.7 5.1 0.2 5.1 -0.8 5 -0.4 5.1 -0.3 5.1 -0.2 5 -1.3 5.1 0.2 5.1 -0.7M222.1 303.2l-1.3 7.6M213.2 273.9l3.1 -6.5 2.6 -6.7M406.4 278.9l0.4 -0.2M334.8 335.2l2.7 -4.6 2 -5.1 3.5 -4.1 3 -4.4 3.7 -3.9M354.6 269.9l4.8 -0.1M331.7 276.2l5.3 1.7 5.4 0.9M374.5 252.8l-4.5 3.6 -4.2 3.9 -2.8 5.1 -3.6 4.4M392.9 299.4l2.3 -5.4 2.8 -5.2 2.9 -5.2 3.4 -4.9M277.5 292.7l5.2 0.6 5.2 0.2M289.8 254.5l-0.6 5.6 -0.4 5.5 -0.5 5.6M314.4 250.4l3.4 5 2.8 5.3 3 5.1 2.4 5.5 1.7 5.8M223.5 365.5l0.2 -2.6M266.1 414.4l4.7 2.9M287.6 414.2l-5.5 2 -5.5 1.6 -5.8 -0.5M432 411.9l-3.6 -3M400.3 361.1l4.5 -3 4.9 -2.1 4.5 -2.9 4.5 -2.8 4.7 -2.6M304.5 413.5l5.5 1.5 4.9 2.8 4.6 3.2M304.5 413.5l1.4 -5.9 1.9 -5.8 0.9 -6.1M320.4 395.3l-5.8 0.9 -5.9 -0.5M293.6 461l6 -1.6M292.6 430.2l5.6 2.5 5.5 2.5 5.5 2.5M294.1 311.1l-5.4 2.5 -5.4 2.2 -6 0.4M326.7 331.8l-8.1 5.8M217 372.3l-0.7 5.6 -0.9 5.5 -1.7 5.4M429.1 431.6l-4.9 5.9M394.5 379.8l3.6 -4.7 3.5 -4.8M425 379.5l-4.1 3.9 -4.6 3.5 -3.4 4.6 -4 4M324.4 357.6l6.1 1.4 5.9 -2.3M352.4 383.9l-5.2 -3.8 -4.6 -4.5M277.5 292.7l-3.4 6.4 -4.9 5.5"/><path stroke="#c02008" d="M338 251.4l7.8 0.7M213.2 273.9l3.3 6.7M-21 297.5l5 0.3 5 0.1 5 1.1 5 -0.2 5 0.9 5 0.3 5 -0.3 5 0.8 5 0.2 5 0.2 5 0.1 5 0.7 5 0.2 4.9 1.1 5 0.3 5.1 -0.2 4.9 0.5 5 0.3 5 0.7 5 -0.1 5 0.9 5 -0.3 5 0.6 5 0.4 5.1 -0.3 5 0.3 4.9 0.7 5 -0.1 5 1.2 5 -0.3 5 0.5 5 0 5 0.3 5 0.3 5 0.5 5 0.3 5 -0.1 5 0.8 5 0 5 0.5 5 0.3 5 0.3 5 -0.2 5.1 0.1 5 0.2 5 0.4 5 0.4 4.9 0.4M213.2 329.5l2.6 -5.4 1.5 -5.8 1.6 -5.7M427.3 253.6l-6.8 -0.5M252.5 251.7l2.3 3.8M239 280.6l-0.4 -5.8 1.2 -5.7M385.7 274.2l6.5 0.4 6.4 0.1M374.5 252.8l-5.3 -1.5 -5.2 -1.5 -5.4 -1.2 -5 -2.4M374.5 252.8l0.1 0M359.4 269.8l3.8 4 2.8 4.7 3.9 3.9 2.9 4.7M372.8 287.1l-0.1 1.3M288.3 271.2l-4.9 1.3 -4.7 1.8 -4.7 1.7 -4.8 1.6M269.2 277.6l3.8 4.5 2.8 5 1.7 5.6M297.3 250.5l8.9 1.6M241.2 381.7l-4 -4.6 -4.2 -4.3 -4.1 -4.3 -5.4 -3M213.2 329.5l2.4 7 3.6 6.6M286.1 372.7l0.4 -5 -0.1 -5.1 0.8 -5 0.7 -5M254.6 356l4.7 -2.3 5.2 -0.6M267.2 354.6l-2.7 -1.5M235.8 333.2l5.2 1.6 4.9 2.5M241.2 446.3l0 -8.2M286 457.7l-5.1 0.9 -4.9 1.7M241.2 381.7l0 2.6M268.4 393.9l0.6 -0.6M216.6 440.1l-2.6 -6.1M214 434l1.7 -5.6 0.2 -5.8 0.7 -5.8M270.8 433.8l0 -5.5 -0.4 -5.5 0.4 -5.5M254.6 416.3l5.7 -1.3 5.8 -0.6M264.3 455.5l-0.4 -5.5 0.2 -5.5 -1 -5.5M235.2 420.5l3.8 -3.6 3.3 -4.2M358.7 436.2l-4.3 3 -3.7 3.7 -3.8 3.6M352.4 731.8l0.3 -5 -0.2 -5 -0.3 -5 0.1 -5.1 0.6 -5 -0.6 -5 0.5 -5 0.4 -5 -0.4 -5 0.5 -5.1 -0.8 -5 0.7 -5 -0.6 -5 0.9 -5 -0.1 -5 -0.7 -5 0.7 -5.1 -0.3 -5 0.3 -5 0.3 -5 -0.1 -5 -0.1 -5 -0.5 -5.1 0.3 -5 -0.4 -5 0.9 -5 0 -5 0.1 -5 -0.6 -5 -0.2 -5.1 0.1 -5 0.8 -5 -0.2 -5 -0.4 -5 0.4 -5 -0.6 -5 0.5 -5.1 0 -5 0.3 -5 -0.7 -5 0.6 -5 -0.6 -5 0.1 -5.1 0.6 -5 -0.3 -5 0 -5 0.4 -5 0.1 -5 -0.8 -5 0.8 -5.1 -0.3 -5 -0.3 -5 -0.2 -5 0.3 -5M338.9 438.6l-5.9 0.2 -5.9 0.7 -5.9 -0.9M264.5 353.1l1.2 -5.5 0.9 -5.5 -0.6 -5.6M300.7 352l-6.1 -0.4 -6.1 0.4M300.7 352l1.5 -5.5 2.7 -5 2.6 -5M278.7 331.9l-1.5 -5.1 0.2 -5.4 -0.1 -5.2M216.6 416.8l-4 -6.2M429.3 333.3l-1.6 -9.2M386.1 380.4l8.4 -0.6M256.2 322.3l4.7 -3.8 4.8 -3.6 5 -3.5M235.8 320.7l6 -2 5.6 -3.2M253.3 288l1.3 5.2 -0.5 5.3"/><path stroke="#50d060" d="M639.2 120.4l-4.5 2.4 -4 3 -4.3 2.6 -4.1 2.7 -4.4 2.5 -4.3 2.6 -4.1 2.8 -4.7 1.9 -4 3.1 -4.2 2.8 -4.3 2.6 -4.2 2.7 -4.4 2.3 -4.2 2.7 -4.5 2.3 -4 3 -4.2 2.8 -4.2 2.7 -4.6 2.1 -3.9 3.2 -4.3 2.6 -4.2 2.7 -4.5 2.3 -4.1 2.8 -4.5 2.3 -4 3 -4.5 2.2 -3.9 3.2 -4.3 2.6 -4.4 2.3 -4.3 2.6 -4.2 2.8 -4.2 2.8 -4.1 2.8 -4.2 2.8 -4.5 2.2 -3.8 3.3 -4.3 2.6 -4.4 2.5 -4.1 2.8 -4.4 2.4 -3.9 3.2 -4.5 2.3 -4.1 2.8 -3.9 3.2 -4.7 2 -4 2.9 -4.4 2.6 -3.9 3 -4.2 2.8M290.5 393.8l-0.8 -5.8 0.1 -5.9 0.7 -5.8M297.3 250.5l-7.5 4M232 244.5l-4.8 3.1 -5.3 2.1 -5.3 2.1M268.6 -20.5l-0.2 5 -0.2 5.1 -0.5 5 -0.5 5 0.1 5.1 -0.5 5 -0.5 5 0.1 5.1 -0.4 5 -0.4 5.1 -0.6 5 0.1 5.1 -0.9 5 0.2 5 -0.1 5.1 -0.3 5 -0.7 5.1 -0.2 5 -0.1 5.1 -0.6 5 -0.3 5 -0.2 5.1 -0.1 5 -0.6 5 0.3 5.1 -1.1 5 0.1 5.1 -0.4 5 -0.2 5.1 -0.4 5 -0.2 5 0.1 5.1 -0.3 5.1 -0.6 5 -0.4 5 -0.7 5 0.1 5.1 -0.4 5 0.4 5.1 -0.3 5.1 -0.5 5 -0.4 5 -0.1 5.1 -0.4 5 -0.4 5 -0.7 5.1 -0.2 5 0.1 5.1 -0.5 5 -0.9 5 0.4 5.1 -0.4 5 -0.1 5.1 -0.6 5M222.1 303.2l8.9 -4.1M398.6 274.7l0.9 -6.2 -0.4 -6.2 0.2 -6.2 -0.7 -6.2M368.6 316.1l-5.2 0.7 -5.1 -0.8 -5 -0.9M349.3 295.4l6 -1.4 5.6 -2.5 5.9 -1.5 5.9 -1.6M288.3 271.2l5.1 3.6 3.5 5.1M338.9 417.1l-1.4 -5.9 0.7 -5.8 0.7 -5.8M219.2 343.1l-1.6 8.1M235.8 320.7l1.6 6.2 -1.6 6.3M236.4 434.1l-4.9 1.9 -4.9 1.5 -5 1.4 -5 1.2M254.6 463.7l4.3 -5.6M293.6 461l-7.6 -3.3M241.2 384.3l-3.7 5.5 -4.1 4.9 -5 4.3M268.4 393.9l-1.1 5.1 -1.3 5 0.3 5.2 -0.2 5.2M399 320l3.8 -6.8M385.8 404.2l-3.3 -5.6 -3.6 -5.4M364.9 415.4l6 1.6M342.6 420.6l-3.7 -3.5M338.9 399.6l4.6 -3.5 4.7 -3.4 4.4 -3.6M352.4 383.9l4.3 -3.6 3.6 -4.4M287.9 352.6l0.6 -0.6M306.6 357.1l7.3 0.4 7.2 -1.7M213.7 388.8l-5.1 0.5 -5.1 0.2 -5.1 0.8 -5 0.9 -5 0.7 -5.1 0.1 -5.1 0.9 -5 1 -5.1 -0.2 -5 1.4 -5.1 -0.1 -5.1 0.7 -5.1 0.6 -4.9 1.5 -5.1 0.4 -5 0.8 -5.1 0 -5.1 0.7 -4.9 1.4 -5.1 0.9 -5 0.5 -5 0.9 -5.1 0.7 -5.1 0.5 -5.1 0.3 -5 0.6 -5 1 -5 1.4 -5 0.7 -5.1 0.6 -5 0.6 -5.1 0.8M433.5 457l-2.1 -5 -2.1 -5 -1.9 -5 -3.2 -4.5M395.5 405.8l5.1 -4.2 2.4 -6.1M362.3 354.2l-5.2 -0.3 -5.1 0.1 -5.1 0.6 -5 1.6 -5 1"/><path stroke="#e0c020" d="M215.2 294.8l-0.1 -7.2 1.4 -7M269 393.3l-2.4 -6.3 0.6 -6.8M239.8 269.1l-5.5 -1.5 -5.1 -2.5 -5.1 -2.4 -5.2 -2M232 244.5l5.4 1.2 5.1 1.8 5 2.1 5 2.1M216.6 251.8l2.3 8.9M239 280.6l0.1 0.4M231 299.1l3 -5.9 2.5 -6.2 2.6 -6M406.4 278.9l-2.1 -0.2M404.3 278.7l-5.7 -4M368.6 316.1l-1.2 5.5 -0.2 5.6 0 5.5 1.4 5.6M342.4 278.8l4.6 -2.3 4.3 -2.6 3.3 -4M296.9 279.9l-3.3 4.3 -3.4 4.3 -2.3 5M306.2 252.1l0.7 5.5 -0.2 5.4 0 5.4 0.3 5.4 -0.8 5.5M311.1 303.1l-7.1 1.8 -7.3 1.3M340.4 307.6l-4.5 -2.6 -4.3 -3.2 -4.6 -2.6 -4.4 -2.9 -4.7 -2.4M322.5 397l-0.2 6.1 -1.2 5.9 -0.8 6 -0.8 6M254.6 376l1 -5 0.2 -5 -0.1 -5 -1.1 -5M287.9 352.6l-5.1 1.1 -5.1 1.1 -5.2 0.2 -5.3 -0.4M247.5 353.4l-0.3 -5.4 -1 -5.3 -0.3 -5.4M311.1 303.1l2.6 4.5 2.3 4.7 0.6 5.2M250.2 398l-0.4 7.2 -3.3 6.4M263.1 439l-8.5 -4.6M241.2 438.1l6.8 -1.6 6.6 -2.1M292.6 430.2l-6.6 6.6M291.8 418.1l-4.2 -3.9M392.9 299.4l2.7 5 3.3 4.7 3.9 4.1M342.6 420.6l-1.9 5.9 -0.7 6 -1.1 6.1M405.4 335.3l-4.1 3.5 -4.2 3.6 -3.8 3.8 -3.2 4.5M362.3 354.2l5.7 2.6 6.2 0.3 6 0.9M386.1 380.4l-4.5 5.9 -2.7 6.9M290.5 393.8l6 -0.3 5.9 0.5 5.8 1.4M353.7 461l-5.4 -3.2M317.5 435.5l3.7 3.1M319.5 421l-1.2 7.2 -0.8 7.3M284.4 335.3l4.6 -3.2 5.1 -2.3 4.8 -2.6M307.5 336.5l-4.6 -7.6M434.3 290.3l-4.1 4 -2.6 5.1M406.4 278.9l3.7 4.7 3.2 4.9 2.4 5.4 2.2 5.5M400.3 361.1l1.3 9.2M422.5 408.9l-5 -4 -4.2 -4.8 -4.4 -4.6M394.5 379.8l2.7 5.3 3.2 5.1 2.6 5.3M338.9 340.8l-2.4 5 -0.6 5.4 0.5 5.5M402.5 445.1l2.6 -6.7M398 414.1l-2.4 6.7 -3.4 6.2M414.8 435l-4.6 2.4 -5.1 1M413.9 462.9l-9 -4M413.9 462.9l-0.5 5.1 -0.2 5.2 -0.4 5.1 -1 5 -0.1 5.2 -0.8 5.1 -0.4 5.1 -1.2 5 0 5.2 -1 5.1 0 5.1 -0.3 5.1 -0.3 5.2 -1.3 5 -0.3 5.1 0.1 5.2 -0.7 5.1 -0.5 5.1 -0.8 5.1 -0.6 5.1 -0.6 5.1 0.3 5.2 -1 5 -0.4 5.2 -0.6 5.1 -0.5 5.1 -0.4 5.1 -0.8 5.1 0.3 5.2 -1.2 5 -0.3 5.1 0.1 5.2 -0.8 5.1M376.1 455.4l5.8 3 5.5 3.4 4.8 4.4"/><path stroke="#3050e0" d="M353.3 337.9l4.5 2.6 4.5 2.8M331.3 245.8l-5.8 0.9 -5.7 1.1 -5.4 2.6M247.5 353.4l-4.6 2.3 -4.6 2.2 -4.9 1.6 -5 1.5 -4.7 1.9M216.6 440.1l-2.3 5 -1.2 5.3 -1 5.4M235.2 420.5l1.3 6.8 -0.1 6.8M291.8 418.1l1.6 6 -0.8 6.1M286.3 397.6l0.4 5.5 0.4 5.6 0.5 5.5M486.8 361l-5.3 0.6 -5.2 1.8 -5.4 0.3 -5.3 1 -5.3 0.8 -5.3 1.3 -5.4 0.3 -5.3 1.2 -5.4 -0.2 -5.4 0.5 -5.3 0.9M358.7 420.6l6.2 -5.2M291.8 418.1l6.3 -2.5 6.4 -2.1M346.9 446.5l-0.5 5.8 1.9 5.5M433 388.2l-4.7 -3.7 -3.3 -5M256.7 330l-0.5 -7.7M231 299.1l5.4 2 5.4 2 5.6 1.5M424.2 437.5l-9.4 -2.5"/></g>
<g fill="none" stroke-linecap="round" stroke-linejoin="round" stroke-width="1.3" opacity="0.9"><path stroke="#ffd820" d="M-57 277.1l2.6 0.1 2.1 -0.2 1.5 -0.8 3.4 -0.2 1.6 -0.1 2.9 -0.7 2.9 -1.1 1.6 0.7 3.7 -0.2 2 -0.8 2.9 0.6 1.1 -1 3.3 -0.1 1.6 -0.6 3.1 -0.6 2.2 -0.1 2.7 0.3 2.1 0.1 2.5 0.2 1.9 -1 2.7 0.2 2.4 -0.5 2.5 1.3 2.5 -0.7 2.7 -0.8 2.1 0 2.6 -1.2 1.9 0.2 2.3 -1.5 2.3 -0.4 2.2 0.1 2.9 0.5 2 0.4 3.3 -0.6 1.6 -0.1 2.4 -0.8 2.9 -0.2 2.4 -0.1 2.2 0.2 2.7 0.2 2 -0.6 2.1 -0.4 2.7 -1 2.6 -0.3 2.2 -0.3 2.2 0.1 2.3 0 3 -0.5 2.1 0.1 2.7 -0.7 1.3 0.9 3.4 -0.1 2.8 -0.2 2.5 -1.1 1.6 -0.5 2.5 0.1 2.2 -0.2 2.6 -0.8 2.9 -0.6 2.5 0.1 0.9 -0.5 3 -1.1 2.7 -0.2 1.7 -0.3 2.9 0.5 2.9 0.3 1.6 0.1 3.8 -0.8 1.6 -0.1 2.3 -0.1 2.2 -0.2 1.7 -0.4 3.3 0.6 2.6 -1.1 1.6 0.3 3.6 -0.7 2 0.1 2.2 0.2 3.1 -0.7 1.7 -0.3 2.4 0 3.1 -1 2.4 -0.1 1.3 0.2 2.8 0.4 2.4 -0.9 2.5 -1.3 2.1 -0.1 2.8 -0.4 2.6 0.3 2.2 0.7 2.4 -0.4 2 -0.7 2.3 0.2 2.5 -1.2 3.2 0 1.4 -0.3 2.7 0 2.3 0 2.4 -0.2 2.7 0.2 2.2 -0.2 2.5 -1.1 2.8 -0.2 2 0.4 2 -0.4 2.9 -0.4 1.8 -0.4 2.6 0.4 3.3 0.2 1.6 0.2 2.1 -0.5 2.9 -0.9M428.4 277.2l-2.6 0.4 -2.1 0.9 -1.8 0.6 -2.8 0.8 -2.7 -0.8 -2 0.1 -3.5 -0.3 -2.1 0.3 -2 -0.3M407.2 278.9l0.5 -2.1 1.3 -2.2 0.9 -1.8 1.2 -2.5 1.7 -2.1 1.2 -2.7 0.7 -1.8 1.7 -1.4 1.8 -2 0.9 -2.8 1.1 -1.3 1.1 -2.7M268.2 381.3l0.3 -2.1 1.9 -3.6 0.8 -1.8M267.3 393.5l1 -2.4 0.3 -2.8 -0.3 -3.6 0.3 -2.1 -0.7 -2.5M239.7 269l2 -1.1 1.4 -1.6 2.4 -1.7 2.6 -1.4 1.7 -2 1.8 -2.1 1.3 -1.7 1.6 -2.2M385.7 274.2l2.3 -0.1 2 -0.2 3.8 0.4 1.9 -1 3 0.2M338.5 251.5l-0.8 2.1 -0.5 2.6 -1.1 1.5 -0.1 4.2 -0.1 2.2 0.2 2.4 -0.7 2.5 -1.4 1.2 -1.2 3.8 -1.1 2.1M377.7 296.8l-1.1 -2.6 -0.6 -1.7 -1.5 -1.9 -0.3 -3M393 298.3l-1.8 -0.4 -2.9 -1 -3.8 0 -2.1 0 -3.4 -0.5 -1.5 -0.5M295.4 278.9l-1.2 2.9 -0.9 2.5 -1.2 2 -1.5 2.6 -1.4 1.8 -2.2 2.2M330.7 243.6l-1.9 0.8 -2.7 1.6 -2.6 1 -1.3 0.1 -3.2 1.2 -1.7 0.5 -3.1 1M340.4 306.3l2.3 0.4 2.6 0.9M241.6 381.2l-1.5 -2.8 -2.5 -1 -1.6 -1.5 -2.1 -2.2 -2.1 -1.6 -2.2 -1.7 -1.2 -2 -2.4 -1.8 -1.9 -1.8M217.8 373l1.8 -2 2.5 -3.3 1.9 -1.7M254.5 355.5l2.5 -0.9 2.3 -0.1 2.7 -1.5 2.1 -1.1M236 433l-2.3 1.3 -1.4 0.2 -4 0.7 -1.8 1 -3.3 1.3 -1.7 0.5 -2.9 1 -2.1 0.8M276.6 460.4l0.2 2 -1.7 2.8 0 2 -0.8 3 -0.3 1.4 -0.2 3 -0.1 2.2 -1.1 2.8 -0.7 2.1 0.2 2.7 -1.1 2.5 0.5 0.8 -0.3 3.7 -0.8 2 0.7 1.8 -1.1 3 -0.7 2.4 -0.6 1.6 -0.2 2.9 -0.5 2.5 -0.7 2.6 -0.4 2.2 -1.1 2.3 0 2.4 -0.7 2.8 0.5 1.9 -1.3 2.9 0.3 1.6 -0.6 2.9 -1.2 3.1 -0.5 1.4M302.8 730.2l0.9 -1.6 0 -3.2 -0.2 -1.9 0 -2.9 -0.4 -2.1 -0.1 -3.1 0.6 -2.2 -0.5 -1.9 0.2 -2.5 -0.2 -2.5 -0.1 -2.2 -0.3 -2.9 0.4 -1.7 0.4 -2.2 -0.5 -2.6 -0.3 -2.5 -0.8 -2.2 -0.2 -4 0.3 -1.9 0.2 -1.7 0.2 -2.9 -0.3 -2 0 -2.5 -0.2 -1.9 -0.6 -3 -0.1 -2.7 0.7 -2.4 -0.1 -1.6 -1.3 -2.8 0 -3.2 -0.5 -1.7 -0.6 -2.7 0.5 -2 0.5 -2.7 0.1 -2.7 0.5 -2 -0.5 -3 0.2 -2 -0.4 -2 0.1 -3.2 -1.1 -2 0.1 -2.5 -0.2 -0.8 0.1 -3.3 0 -3.1 -0.5 -1.8 0.7 -2.3 -1.2 -2.4 0 -3.1 0.1 -1.7 0.2 -2.2 0.4 -3.1 -0.7 -1.9 0.7 -3.3 -0.9 -2.6 0 -1.8 -0.5 -2.6 0.1 -1.8 0.7 -2.7 0.5 -2.7 -0.7 -2.4 -0.1 -2.4 0.8 -2.2 -0.1 -2.3 -0.2 -2.5 0.3 -2.5 -0.4 -2.4 -1.1 -2 -0.2 -2.8 -0.1 -2.1 -0.8 -3.1 0.8 -2.3 -0.6 -1.7 0.3 -2.5 0.8 -2.5 -0.7 -2.8 -0.2 -2.3 0.6 -2.2 -0.2 -2.3 -0.1 -2.5 0.5 -3.3 -0.5 -2.5 -0.6 -1.8 -0.2 -1.5 -0.1 -2.7 -0.8 -2.1 0.2 -3 -0.3 -2.4 -0.5 -2.3 0.4 -1.9 0.4 -2.9 0.4 -2.3 -0.4 -2.5 -0.1 -1.4 -0.6 -3.4 0.4 -2.8 -0.1 -2.4 -0.2 -2.3 -0.5 -2.2 -0.5 -2.1 0 -2.5 0.3 -3.3 0.2 -1.8 -0.5 -2.3 -0.6 -0.9 0.1 -3.1 0.1 -3.3 0 -2.6 -0.1 -2.6 0 -1.7 0.4 -2.2 0.1 -2.8M241.3 381.7l0.3 1.7 0.3 0.9M268.5 394l-2.9 0 -2.2 0.3 -2.9 0.3 -2.4 0.6 -3.3 0.7 -2.5 0.7 -2.3 0.2M234.8 420.6l-0.2 2.6 -0.1 2 0.8 4.7 0.6 1.8 1.3 2.4M398.7 319.8l0.6 -2.8 1.4 -1.6 1.6 -2.5M386.6 403.7l-1.5 -2.8 -0.9 -1.2 -1.1 -2.4 -0.8 -2.6 -2.2 -2.2M359.9 420.6l-0.9 2.5 0.3 2.8 0.2 3.1 0.3 2.8 0.2 2 0.2 2.4M405.6 334.7l2.1 1.8 2.5 0.2 2.7 1 2.8 1.8 1.9 1.5 2.7 0.9 2.6 0.7M379.7 357.9l-0.9 2.7 -0.7 3.3 -0.2 2.1 0.1 2.7 -0.7 2.7 0.1 2.8M360.4 376.5l2.2 0.2 2.6 -0.6 2.9 -0.1 2.7 -0.2 2.5 -1.1 2.3 0.4 2.9 -0.3M351.7 383.3l2.1 -1.7 2.6 -1.6 2.3 -2.4 1.7 -1.6M385.6 381l-2.2 -1.3 -2 -1.2 -1.7 -1.9 -2.1 -1.3M321.3 398.5l-0.5 -0.8 -1.2 -1.4M308.4 395.1l0.2 0.4 0.3 0M347.7 456.8l-2.2 1.1 -2 1.5 -1.9 1.4 -2.1 0.4 -2.9 1.3M319.4 586.4l-0.6 -2.4 0.8 -2 0.5 -2.8 0.3 -1.8 0.3 -3 1 -2.7 0.7 -2.4 0 -2 0.5 -2.6 -0.1 -2.5 0.3 -2.6 0 -1.7 1 -3.4 0.7 -1.8 -0.3 -2.8 1 -1.9 0.7 -2 -1 -3.6 1.4 -1.3 0.2 -2.2 0.4 -3.6 0.3 -1.8 0.6 -2.5 -0.4 -2.5 0.1 -2.9 0.2 -1.7 0.2 -2.7 0.3 -2.9 0.1 -2.1 0.2 -1.8 1.1 -2.8 0.9 -3 0 -1.4 0.1 -2.7 0.9 -2 0.1 -3.6 0.7 -1.9 -0.3 -1.5 0.3 -3.5 0.6 -1.6 0.9 -3.5 -0.3 -1.6 -0.1 -2.7 -0.1 -2.6 0.4 -2.2 0.1 -2.6 0.8 -2.6 1 -1.9 0.6 -1.9 1.3 -3.3 -0.7 -2.2M336.8 464.1l-2.7 -1.2 -2.5 -0.6 -2.6 -0.8 -3.4 -1.3 -2.3 -0.2M245.6 336.9l2.3 -1.6 2 -2 1.4 -0.8 2.9 -2.1 2.2 -0.9M267.5 334.3l-3 -0.8 -2 -1.5 -3.4 -1 -1.9 -1.7M284.3 335l2.2 -1.3 3.2 -1.3 2.2 -0.3 4 -0.7 2 -1.5 1.8 -1.2M327 332.2l-1.5 2.6 -2.3 1.6 -1.5 1.1 -2.2 1.4M296.5 306.1l-1.5 1.9 -1.9 2.6M216.4 372.2l-0.4 1.9 -0.6 2 -0.2 3.1 -0.3 2.1 -0.7 2.6 -1.5 3 -0.3 1.6M436 291.5l-2.3 2.3 -1.9 1.1 -0.9 3.6 -2.1 1.8M323.9 357.4l-1.1 2.7 -0.4 2.1 0 2.8 -1.6 2.4 -0.4 3.2 -0.4 2.2 -0.1 2.8M305.2 375.1l2.7 0 3.1 0.5 3 -0.1 2.6 0.3 2.9 0.8M256.1 322.3l2.4 -0.9 1.9 -1.8 1.9 -3 1.8 -1.7 2 -0.6 3.1 -1.8 1.5 -1.1M255.1 299.6l-2.8 1.2 -3 1.9 -1.9 1.9M358.6 436.5l2 -0.2 3.1 1 2.7 2.3 2.9 1.6 2 1.3 2.4 0.9 2.2 1.4M392.5 466.7l2.5 -0.7 2.1 -0.9 1.6 -1.1 2.7 -2.2 1.6 -1.1 2.2 -1.2M412.3 462.8l-0.8 1.7 0 4.3 0.4 1 -0.3 2.3 0 2.3 -0.5 2.5 -1.4 2.4 -0.3 3.2 0.4 2.4 0.3 2 -0.5 1.5 0.3 3.7 -0.1 2 -0.9 2.9 0.6 1.9 -0.5 2.5 -0.3 1.9 0.1 3.4 -0.4 1.5 -0.7 3.5 -0.6 2.2 0.8 1.6 -1.8 1.9 0.1 3.6 0.6 2 -0.1 2.8 0.1 1.9 -0.3 2.5 0.5 1.8 -0.2 3 -0.1 2.7 -0.9 2.7 -0.7 1.7 0.4 3 -0.5 1.6 -0.3 2.7 -0.5 1.8 -0.1 3.3 -0.8 2.4 -0.6 2.2 0.3 3 -0.8 1.6 -0.5 2.4 0 2.6 0.6 2 -0.2 3.2 0 2.2 0 2.5 0.3 2.4 -0.3 2.7 -0.1 2.5 -1 1.8 -0.1 3.1 0.2 1.9 -0.8 1.6 0.1 3.5 -1.4 2 0.2 2.3 -0.4 2.6 -0.2 1.9 -0.1 3.2 0.2 2.6 0.1 2.2 -0.6 1.9 -0.7 2 -1.1 2.8 0.1 2.8 0.1 2.4 0 2 -0.1 2.7"/><path stroke="#ff8a20" d="M182.2 -4.9l-0.2 2.5 0.3 2.7 0.7 2 0.7 2.9 -0.1 2.2 0.8 1.8 0.1 2.5 1 1.7 0.1 3.4 0.1 2.7 0.9 0.9 0.2 3.5 0.5 2.1 -0.1 2.2 0.6 2.4 0.2 2.8 0.2 1.7 0.7 2.5 -0.2 2.3 0.4 2.9 0.2 3.1 0 1.8 -0.7 1.5 1.5 2.7 0.3 3.1 -0.1 1.8 1.1 2.6 0.2 1.9 0.7 3 0.1 2.2 0.1 2 0.3 2.4 0.2 2.4 -0.1 2.3 0.3 2.9 -0.1 1.1 0.3 3.8 0.7 2 0.4 1.9 -0.9 3.1 0.5 1.9 0.8 1.9 0.6 2.9 0.5 2.9 -0.3 2.3 1 2.1 0.1 3.3 1.3 1 0.3 2.8 -0.2 3.1 -0.1 2.5 0.5 1.4 1 2.3 -0.3 2.8 -0.7 2.4 1.1 2.6 1.2 2.4 -0.3 1.5 0 3.1 -0.3 2.3 0.8 2.4 0.3 1.9 0 3.3 0.7 1.7 0.8 2.3 0.4 2.6 -0.2 3 0.6 1.5 0.7 2.6 -0.4 2.1 0.2 2.4 0.9 2.5 -0.3 2.5 1 2 0.3 3.6 0.6 2.7 -0.5 1.9 -0.4 0.9 0.5 3.5 0.2 2.8 0.4 1.5 0.2 2.8 0.2 2.2 0.4 1.3 0.5 4 0.2 1.9 0.1 2.4 0.7 3.1 -0.6 1.1 1 3.1 -0.1 1.9 0.9 3 -0.3 1.8 0.6 2.6 -0.1 2.8 0.5 2.9 0 1.7 0 3.1 0.1 2.5 0.4 0.8 0.9 3.2 0.5 2.6 0.4 2.8 0 2.1 0 2.6 0.8 2.3 0.3 1.8M-50.5 292.7l3 0.7 1.9 -0.3 1.4 -0.2 3.7 -0.1 2.4 0.1 2.8 0 2.1 -0.3 2.2 0.7 2.1 -0.2 2.6 -0.3 2.9 -0.6 2.4 -0.5 1.7 0.7 2.3 -0.1 2.5 -0.5 2.4 -0.5 2.3 -0.4 2.6 -0.3 3 -0.7 2.1 0.3 2.4 -0.6 2.5 0 2.1 -0.3 2.6 -0.2 1.5 -0.3 2.4 -0.1 2.8 -0.5 2.2 0 2.8 0.1 2.5 -0.7 1.2 0 3.3 -0.6 1.6 0 3.4 0.3 2.8 0 1.7 -0.8 1.8 0.6 3.3 -0.5 2.7 -0.2 1.3 -0.9 3.4 0.1 2.1 0 1.5 0.2 3.8 -0.5 2.1 0.1 1.8 0.2 3.1 -0.7 2.2 -0.2 2 -0.4 2.4 -1 2.3 0.3 2.2 0.6 3.1 -0.6 2 0.2 2.3 -1 2.9 0.2 1.8 -0.1 3 -0.2 1.9 0.7 2.3 -0.4 2.8 0.3 1.9 -0.6 2.6 -0.1 2.3 -0.5 2.7 -0.4 2.5 -0.2 2.2 -0.1 2.4 -0.7 2.6 -0.3 1.6 -0.4 2.7 -0.2 2.4 -1.4 2.6 0.9 2.5 -0.3 2.1 -0.8 2.2 0.4 2.7 0.5 2.9 0.4 1.6 -0.1 2.4 -0.5 2.3 0.1 3.4 -0.8 1.7 0 3.1 -0.1 2 -0.9 2.7 0.5 2.3 0.9 2.5 -0.6 2.1 -0.5 2.1 -0.3 3.1 -0.5 2.2 -0.7 3 0.2 0.7 -0.8 2.8 -0.3 3.2 -0.8 2.2 0.2 2.1 0.4 2.5 0.6 2.2 -1.2 2.1 0.4 3.6 -0.6 1.9 0.3 2 -0.4 2.6 0.2 2.1 -1.2 3.2 -0.3 2.7 -0.4 1 0.6 3 -0.4M214.8 295.1l2.5 2.2 1.4 2 2 2.1 1.7 1.5M272.3 374.7l2.8 -1.4 1.7 0.2 3.6 -0.4 3.4 -1.2 2.2 0.2M289.5 392.7l-2.2 2.2 -2 1.6M282.8 185.1l0 2.6 1.3 3 0 2.2 0.2 1.3 1.2 3 0.3 2.3 0.5 2.9 1 2 1 2.3 0.8 2.7 0.4 2.6 -0.3 2.1 0.1 2.7 1 1.8 1.2 2.9 0.6 2.3 0.2 2.3 0.5 2.7 0.7 2.2 0.5 2.1 1.6 2.4 0 2.6 0.8 2.5 0.5 2 0.3 2.4 1.7 3 0.1 2.1M240.1 268.3l-1.6 -0.5 -3.2 -1.4 -2 -0.4 -1.8 -1.1 -3.2 -0.5 -2.2 -1.4 -2.6 -0.8 -3 -1.7 -1.2 -1M232.4 245.3l-2.3 0.8 -2.4 1.2 -1.9 0.4 -2.8 1.6 -2.4 1.1 -1.7 0.3 -2.4 0.9M216.3 251.9l0.6 3.1 0.7 2.8 1.2 2.9M216.5 280.6l2.8 0 1.7 -0.4 2.6 0.7 2.4 0.4 2.2 -0.6 3.2 0.1 2.7 0.2 2 0.6 2.9 -0.2M266.9 -20.6l-0.3 2.6 -1.2 2.5 0.3 2.1 0.1 2.5 0.4 1.9 0.3 3.1 0.2 1.9 -0.4 2.4 -0.7 2.9 0.1 2 0 2.8 0.6 2 0 2.5 0 2.4 0.3 2.4 -1.1 2.7 -0.6 3.4 -0.4 1.2 -0.1 2.4 0.2 2.2 -0.2 2 0.1 3.1 0.5 3 0 2.1 -0.3 2.3 0.2 2.1 -0.8 1.5 0.2 2.6 -0.5 3.6 0.3 2.2 -1 2 -0.2 3.1 -0.1 2 -0.2 2.1 -0.2 3.1 -0.1 2 0.2 2.2 -0.1 3 0 2.3 0.4 2.4 -0.8 2.1 0.4 3.3 -0.5 1.1 -0.8 3.4 0.6 2.7 0 1.1 -1 3.3 -0.7 1.8 0.3 3 -0.1 1.5 -0.2 3.4 0 2.5 0.2 2.9 -0.9 0.8 -0.1 3.2 0.2 1.8 -0.5 2.3 -0.6 3.4 0.5 1.4 -0.4 2.3 -0.4 2.9 0.6 2.5 -0.4 1.9 0.4 2.9 -0.2 2.4 -0.4 3 -0.5 1.6 -0.1 3.3 0.1 1.3 -0.2 2.3 -0.2 3.3 -0.1 2.7 -0.8 1.6 0.7 3 0.3 2 -0.3 2.8 -0.4 2.4 0.4 1.9 -0.4 2.8 0.2 2.3 -0.5 1.9 -0.4 2.8 -0.1 1.8 -0.2 2.9 0 2.7 0 2.8 -0.7 2.1 0.3 2.1 0.1 2.9 0 1.1 -0.7 3.6 -0.2 2.2 0.1 2 -0.1 2.6 -0.4 2.7 -0.2 2.4 -0.2 2 -0.2 2.7 0.2 2.4 -0.3 2.4 0.1 1.7 0.2 2.5 -0.1 2.9 -1.1 3.4 0.3 1.2 -0.3 2.5 0.5 2.8 0.4 2.6 -0.9 1.7 -0.2 2.8 -0.8 2.7 -0.7 1.9 0.2 2.6M239 280.6l0.1 0.4M259.7 257.6l0.2 2.3 1.1 2.6 1.5 2.1 1.2 1.5 1.8 2.6 1.5 3 -0.1 2.8 -0.2 2.7M267.5 276.5l-2.1 2.5 -2 0.4 -2.4 2.4 -1.2 0.3 -2.7 2.7 -1.3 1.7 -2.6 1.5M335.5 334.7l2.3 3.1 1.8 2.5M353.2 315.1l0.1 2.3 -0.5 2.8 -0.6 2.2 -0.1 3.2 0.7 2.5 0.7 1.8 -0.6 2.8 0.1 2.8 0.2 2.4M340.5 279.6l2.5 2.4 1.3 1.3 1.1 2.3 1.1 2.3 0.3 3.2 1.1 2.6 1.1 1.8M331.6 276.8l2.4 0.1 3.9 0.3 1 0.3 3.4 1.5M346.5 308l0.9 -2.5 0.7 -2.2 0.9 -2.1 0.6 -3.8 1.7 -1.4M391.3 298.5l2.2 -1.8 0.5 -1.9 2.5 -2.8 1.8 -1.2 0.5 -2.9 1.3 -2.5 1.6 -2.6 0.3 -1.4 1.2 -3.3M270.2 277.1l0.5 2.5 0.7 1.8 1.7 1.5 1.4 2.7 1.3 2.5 1.3 1.8 1 2.5M306.6 253.3l2.5 -0.8 4.3 -1.2M331.8 276.6l-1.3 0.9 -2.6 0.2M319.7 293.9l-0.3 -2.5 0.5 -4.2 -1 -1.7M340.6 307.2l-2.1 -2.3 -2.7 -0.9 -1.9 -1.1 -1.9 -1.5 -2.9 -2.2 -1.7 -0.6 -2.7 -1.3 -2 -1.6 -2.2 -1.4 -2.3 -0.9M339.9 417.1l0 -3.1 -1.1 -2.2 0.3 -2.5 0.5 -1.8 0 -2.9 -0.9 -2.7 -0.1 -2.3M322.3 397l0.7 3.2 0.1 2.3 0 1.6 -0.7 3 -0.3 1.8 -0.5 2.6 -0.3 3.1 0.3 2 -0.3 1.4 -0.2 3.2M221.2 365.3l0.9 -1.6 0.4 -0.9M240.5 380.2l2.6 -0.6 1.5 -0.9 3.3 -0.8 2.1 -1.1 2.7 -1.1 1.3 -1.1M288.3 372.9l-0.2 -2.9 -0.8 -2.1 -0.1 -1.8 0.5 -3 1 -3.5 0.6 -1.8 0.7 -2.4 -0.1 -2.6M272.2 375.1l-1 -2.7 1 -1.9 -0.7 -3.3 0.1 -2.9 -1 -2.3 -1.2 -2.1 -1.1 -3.3 0.4 -2.4M254.9 375.2l1.9 0.7 2.6 1.4 3.1 0.6 2.6 0.7 2.3 0.8M255.3 464.3l1.9 -3.1 2.2 -2.6M286 457.5l-2.7 0.1 -3.1 0.7 -2 0.2 -2.3 1.3M239.9 383.3l-1.5 2.3 -1.3 2 -1.5 1.8 -1.9 1.4 -1.5 1.8 -1.8 2.1 -1.4 1.9 -1.3 1.8M268.5 394l0.4 -0.5 0 -0.3M235.9 417.2l-1.9 0.2 -3.6 0.4 -3.3 -0.6 -2.6 -0.7 -2.6 -0.6 -2.7 -0.1 -2.3 -0.5M266.1 414.5l2.1 2 2.4 1M285.9 436.8l0.4 2.8 0.2 2.3 0.9 2.6 0 2.7 -0.7 2.2 0.2 3.7 -1 1.7 0.7 2.9M247.3 410.3l2.6 1.9 2.6 1.1 2.7 2M291.2 418.8l-2.1 -2.1 -2 -2M287.9 415.8l-3.2 -0.2 -1.4 -0.7 -2.6 1.6 -2.8 0 -2.7 0.6 -2.3 0.8 -2 0.4M393.1 299.2l2.5 1.9 0.9 2.1 1.1 1.5 1.8 2.2 1.8 1.2 0.9 3 0.7 2.1M423.5 348.4l-0.2 3 0.6 2.2 1.3 2.5 1.1 3 0.6 2.8 0.6 1.9 0.5 3.2 -0.2 2.5M386 404.4l-1.8 1.6 -1.2 1.6 -2.7 2.5 -2 1 -1.7 1 -2.7 1.2 -1.3 2.5 -1.5 1.4M357.8 419.6l2.6 -1.8 1.5 -0.9 2.5 -2.1M339.6 400.4l1.4 -1.5 1.9 -2.2 1.9 -1.1 2.6 -1.8 2 -1.7 2.1 -1.2 1.8 -0.8M389 350.7l0.1 0.2 0.6 0.5M424.8 347.7l0.1 -0.3 -1.3 0.1M362.3 354.2l0 0M352.3 389.1l0.4 -2.9 -0.2 -2.3M304.8 412.8l2.7 1.8 2 0.6 2.3 1.3 3.1 1.7 2.2 1 2.8 1M299.4 459.3l1.5 -2.4 0 -2.6 0.9 -2.4 0.8 -2.3 0.8 -2.5 1.5 -2.4 2 -2.8 0.4 -2.3 1.6 -2.1M292.7 430.1l1.8 1.1 2.7 2.7 2.3 0.6 2.8 0.3 1.8 0.7 3 0.8 2.3 0.9M305.6 373.7l-0.3 -2.4 -0.2 -3 0.4 -2.9 0.3 -3 -0.1 -2.1 0.2 -3.3M294.7 313l-2.8 -0.3 -1.7 0.8 -2.9 -0.3 -2.7 1.4 -2.7 0.6 -2.4 0.6 -2.2 0.5M213.8 388.7l0.4 3.1 0 2.9 2 1.9 1.6 3.4M434.2 311.2l-0.8 -2.6 -1.2 -2 -1.3 -3 -1.3 -2.2 -1.9 -2M404.9 312.8l2.4 -1.5 2 -1.4 2.1 -2.2 1.7 -1.9 1.8 -2 2.2 -1.2 1.9 -2.1M417.9 299.9l2.5 -0.3 2.6 -0.1 1.9 0.2 2.7 -0.7M402.8 313.1l1.1 -0.1 1 -0.1M406.2 279l0.8 2.4 1.6 2.5 1.1 2.4 1.1 2.1 1 1.9 1.8 3.2 1 1.1 2 2.8 0.9 2.3M432.9 457.3l-0.2 -3.1 -1.8 -2.7 -1.6 -1.6 -1.1 -2.1 -1.4 -2.6 -1.8 -2.2 -1.1 -2.7 -0.9 -2.2M433 388.1l-1.5 -2.1 -2.1 -2.2 -2.4 -2.4 -1.6 -2.2M386.1 381.1l3 -0.5 2.4 -0.2 3 -0.8M425.4 379.9l-1.2 2.1 -2.3 1.6 -1.9 1.9 -2 1.4 -1.4 2 -1.6 1.5 -1.8 2.1 -2.5 1.8 -1.9 1.1M428.4 407.8l-2.9 -0.1 -3 0.5M403 395.4l3.5 0.5 2.4 -0.1M322 380.9l-1.6 -2.7 -1.8 -1.8M352.7 383.5l-3.3 -1 -1.1 -1.1 -2.4 -1.7 -1.7 -1.6 -2.1 -1.9M321.5 355l0.3 1 2.6 1.6M246.7 315.5l0.6 -2.6 -0.2 -2.2 0.1 -3.2 0.6 -2.9M396.8 405.4l0.3 3.2 0.7 2.8 1.3 2.4M412 417.5l0.5 3 0.3 2.5 0.2 2 -0.2 2 1.1 3.2 0.6 2.3 -0.7 2.6M375.9 443.1l0.8 3 0.3 2.7M393.2 425.8l2.2 1.7 1.5 2.2 1.2 1.8 1.6 1.4 2.2 1.7 1.4 2.1 2 1.5M404.2 445.8l-0.1 -3.8 2.1 -3.2M414.6 434.4l-2.4 1.2 -2.1 0.1 -3.7 0.9 -1.8 0.3"/><path stroke="#ff4a10" d="M339.2 249.9l-2.6 -1.4 -1.6 -1.8 -2.5 -2.3M346.7 253.4l1.3 -2.1 2.4 -2.1 1.4 -0.4 2.7 -1.3M431.6 271.4l-1.2 3.7 -1.6 2.7M-43.1 295.3l2 0.3 2.9 0.3 2.3 -0.1 2.2 0.1 2.8 0.2 2.7 0.9 1.4 -0.3 3.2 -0.5 2.3 0 2.1 0.5 2.5 0.6 2.4 -0.4 2.2 -0.4 2.7 -0.5 2.1 -0.3 3.4 -0.1 1.9 -0.1 3.2 0.7 1 -0.7 3.3 0 2.2 -0.3 2.9 0.8 1.7 -1.2 2.7 0.3 2.3 0.7 2 0.6 2.3 0 2.8 -0.2 2.2 0.1 3.6 0.3 1.3 -0.3 2.3 -0.3 2.9 -0.9 2 0.5 2.4 -0.4 2.6 0.1 2 0.6 2.8 0.6 3.1 -0.2 1.9 0.7 2.5 -0.4 2.4 -0.2 2.1 0.2 2.4 0 3.4 -1.3 1.4 -0.8 3.1 1.4 1.6 -0.1 3.2 0.2 2.1 0.1 2.5 -1.1 2 0.9 2.4 -0.4 2.3 0.1 3.3 0.2 1.3 0 2.6 0.3 2.6 0.1 3.2 0.3 1.8 0 2.6 -0.6 2.1 -0.3 1.6 0.3 3.3 0.2 3.2 0.7 1.8 -0.1 2.3 -0.1 2.3 -0.2 3.1 -0.2 1.8 -0.1 3.2 0.1 1.8 -0.1 2.9 0.4 2.2 -0.4 1.9 -0.7 2.7 0 1.2 0.2 3.5 -0.2 1.6 0.2 3.5 1.1 2.1 -0.8 2.6 -0.2 2.1 0 3 0.3 2.7 0.1 1.9 0.1 1.8 -0.7 3 -0.7 2.1 0.7 2.3 -0.1 2.5 0.7 3.4 -0.5 1.1 0.1 3.1 -0.2 2.5 0.2 2.4 0.1 2.2 0.2 2.1 -0.5 2.7 0.1 2.4 0.2 2.8 -0.2 2 0.5 2.2 0.3 2.5 -0.2 3 0.1 1.9 -0.3 2.5 0M212.4 274.3l1.6 2.4 1.6 1.5 0.2 2.7M214.8 330.1l0.6 -2.6 0.2 -2.8 1 -2.7 0.7 -2.2 0.6 -2.1 0.5 -3 1.6 -1.7M220.8 310.8l-1.2 1.4 -0.1 0.9M427.3 252.8l-3.2 0.7 -3.5 -1M412.6 78.1l-0.1 2.5 -1.3 2.2 -0.1 2.5 0.8 2.5 -0.6 3 0.5 2.4 0.6 2.3 0.2 1.9 -0.2 2.5 -0.1 2.4 0 2.3 0.8 2.5 -0.8 1.4 0.3 3.8 -0.2 2.2 0.5 1.7 0 3.3 -0.5 2.3 0 2.4 0.4 1.9 0.5 2.8 -0.9 2.4 0.1 2.1 0.5 2.3 -0.1 3 0.6 2.4 0.1 1.8 0.5 2.3 -0.2 3.6 0.6 2.1 -0.9 2.3 0.5 3.2 0 1.9 0.1 1.7 1.1 3.1 0.2 2.2 0 2.1 -0.1 2.3 -0.1 2.7 0.4 2 -0.7 2.2 0.1 3.3 -0.9 1.6 0.2 3 0.3 2.8 -0.1 1.5 0.4 3.1 -0.1 1.6 0 3.2 0.4 2.3 0.5 1.8 -0.7 2.9 -0.5 2.5 -0.6 2 0.9 2.9 0.2 2 -0.4 3.2 0.6 1.8 0.2 3.2 -0.7 1.7 0 2.2 1.2 2.5 -0.5 3.3 0 1.5 -0.2 2.2 -0.4 2.7 0.7 2.8 -0.3 1.7 0.1 2.9 0.3 3 0.3 1.7M289.6 393.8l0.1 -2.3 0 -2.6 -0.1 -2.6 0 -2.8 -0.1 -2.2 0.1 -2.5 0.2 -2.5M297.1 250.2l-2.8 1.6 -2.5 1.3 -2.1 1.3M406.4 278.9l0.4 -0.2M353.8 126.4l-0.2 2.4 1.3 2.9 0.9 1.8 0.8 3.5 1.1 0.2 0.4 3.3 0.3 2.8 -0.5 1.8 0.7 2.3 0.9 3 0 2.6 0.4 1 0.9 3.4 0.9 2.2 -0.4 2.8 0.6 2.9 0.3 1.8 -0.2 1.3 1.9 2.6 0.2 2.2 0.1 4.2 0.6 2 -0.7 1.5 0.4 2.4 0.4 2.5 0.2 2.6 0.8 2.4 0.2 2.4 -0.3 1.7 1 3 0.5 1.8 0.8 2.6 -0.2 2 0.4 2.9 0.9 2.6 0.2 1.9 0.2 3.6 1.1 1.8 0.8 2.5 0 2.9 -0.4 2.1 0.6 1.5 0.5 3.4 0.9 2 0.5 1.6 0.7 2.9 0.8 2.4 0.5 2 -0.3 3.3 0 1.8 0.4 2.5 0.5 2.5M388.2 322.4l-2.2 -0.6 -2.1 -1.4 -2.1 -1.7 -2 -1.3 -2.1 -1 -2.6 -0.8 -2.5 -0.4 -1.4 -1.9M388.6 323.4l-1.1 2.7 -1.2 2.2 -0.3 2.1 -1.3 2.6 0.2 2.4 -1.1 1.4 -1.1 2.9M371.1 316.1l-0.5 2 -0.5 3.6 -0.2 2.4 -0.1 1.6 -0.2 2.3 -0.8 2.9 0.3 2.1 0.5 2.8 -0.2 2.5M369.1 338.9l-2.7 2.2 -1 1 -2.2 2.3M354.6 269.9l2.2 0.2 2.6 -0.9M360.7 268.8l1.1 1.6 1.9 2 1.6 2.3 1.4 1.8 1.2 1.8 2.1 2 0.8 1.9 1.4 2.3 2 1.5M372.1 287l-0.3 0.5 -1 0.7M347 251.5l1.6 2.5 1 2.7 0.2 0.8 2 3.2 0.8 1.8 1.2 2 1.3 3.1 1.1 1.5M376.7 296.8l-0.6 2.7 -0.6 2.7 -0.5 1.8 -0.8 2.3 -1.3 2.1 -1.7 2.4 0 2.1 -1 2.3M374.3 252.7l-1.3 2.1 -2.4 1.8 -1.2 1.6 -1.5 1.2 -1.6 2.8 -2.2 1.8 -1.9 1.4 -1.4 2.4 -1.3 2.2M288.9 270.6l1.9 1.8 1.3 1.8 2.9 1.3 1.3 1.7 1.5 1.8M277.6 292.4l2.8 0 2.7 -1 3 0.4 1.9 0.6M312.7 251.5l0.9 0.7 0.4 0M313.9 250.7l2.1 2.2 0.8 2 1.5 1.6 1.9 2.9 0.9 2.3 0.3 1.2 1.7 3.2 1.6 2.4 0.6 1.4 2 2.5 0.8 1.9 1.2 2M309.3 -19.5l0.6 3.1 0.2 1.3 0.1 2.4 0 2.9 0.7 2.4 0.5 2 0.1 3.4 0.4 1.9 -0.5 2.4 -0.2 1.9 0 2.8 0.2 2.8 -0.1 2.1 -0.1 2.9 1.3 1.4 0.2 3.5 -0.3 2 -1.1 2 0.4 2.4 0 2.7 -0.6 2.3 0.5 2.3 -0.5 3.4 0.3 1.6 -0.5 1 0.1 3.8 0.3 2.6 -0.2 2.3 0.5 2.1 -0.2 2.8 0.7 2.1 -0.2 2.6 0.8 2.5 -0.3 2.4 0.2 2.2 -1 2.9 -0.2 1.8 0.1 2.3 0.5 2.7 -0.4 2.2 0 2.6 -0.3 2.6 0.6 1.9 -0.2 2 1 2.7 -0.1 3.1 0.6 2.2 -0.1 2.3 0.2 1.9 -0.5 3.3 -0.8 1.9 0.3 2.6 -0.4 2.6 0.6 1.9 -0.8 2.3 0.3 1.8 0.6 3.5 0 2.7 0.6 1.7 -0.1 2.9 0.5 2 -1.1 2.5 -0.2 2.6 0.3 2.6 0.3 2.1 0.3 3.2 0.5 1.2 0.1 3.2 -0.3 1.8 0.1 2.7 -0.8 2.4 0.4 2.3 -0.5 2.6 0 2.7 0.2 2.2 0.3 2.1 0.5 2.5 -0.2 2.5 -0.3 2.7 1.1 1.4 -0.9 2.9 -0.5 3.1 1.4 2.1 -0.3 2.1 0.1 2.7 0 0.9 0.1 3.1 0.1 3.5 -0.7 1.6 0.3 2.6 0.4 2.9 0.4 2.2 0.1 2.1 0 2.9 0 2.1 -0.9 3.1 -0.2 1.3 0.5 1.6 -0.1 3.1 -0.3 2.7 0.5 2.1 0.2 2.7 -0.1 1.7 -0.1 2.8 -1.1 3 0.2 3 -0.1 2 0 1.9 0.2 2.3 0.8 2.5 0.3 2.4 -0.5 2.6M319.3 295l-1.8 2.6 -1.2 1.5 -1.9 3.6 -1.9 1.5M256.3 376l-0.1 -2.4 0.1 -2.4 0.5 -2.5 -0.3 -2.8 -0.5 -1.3 -0.4 -3.9 0.3 -2.3 -1.1 -2.4M-53.9 338.6l2.1 0.4 2.5 -0.7 1.8 0 2.8 -0.2 3 -0.1 2 0.7 2.7 0.5 2.2 0.2 2.7 0.3 2.3 -0.3 2.1 -0.2 3.1 0.3 1.7 0.8 2.5 0.3 2.7 0.5 2.4 -0.7 2.2 -0.5 2.7 0.2 2.3 0.1 2.1 1.2 2.5 0.1 2 -0.2 2.4 -0.4 2.3 0.4 2.7 0.6 2.8 0.1 1.7 0 3.1 -0.1 2.2 -0.6 2.3 0 3.1 0.7 2.6 -0.1 2.1 0.4 1.4 0.6 2.8 0.5 1.6 -0.6 3.2 0.4 2.4 -0.1 2.1 -1 2 -0.4 3.5 0.4 1.7 0.8 2.6 -0.3 2.1 0.1 2.8 0.8 2.4 1.4 2.5 -0.2 3.3 0.1 1.5 -0.9 3.1 0.1 2.1 0.5 2.4 0.6 1.7 -0.9 2.4 -0.5 2.1 1 3.4 0.7 2.1 0.2 2.4 -0.6 2.9 -1 2.5 1.3 2.5 -0.6 1.4 -0.4 2.9 0.1 2.7 -0.2 1.6 0.3 2.1 0.8 3 0 2.8 -0.3 1.8 0.2 2.7 -0.3 2.4 0.4 1.9 0.3 2.7 -0.2 3.4 0.3 2.1 -0.5 2.1 0.4 2.3 1.4 1.8 0 3.7 0.5 1 0.6 2.6 -0.7 3.2 -0.4 2.5 1 2.6 -0.5 0.8 0.3 3.3 0.1 2.4 -0.5 2.5 0.5 2.3 0.2 1.9 0.1 2.8 0.1 2.1 0 3.3 0.9 2.5 -0.1 1.6 0 2.5 -0.7 1.9 0.7 2.4 -0.4 3.1 0.9 2.7 -0.1 2.4 0.9 2.3 -0.7 2.1 1.1 2.3 -0.4 3.3 0.3 1.3 -0.6 2.7 0.4 2.3 -0.2 3 -0.4 1.9 0.1 3.2 1.1 1.2 0.6 3 -1M217.6 342.8l0 3.2 -0.6 2.1 -0.5 2.9M287.9 352.6l-2.8 0.7 -2.7 0.2 -2 -0.6 -2.4 -0.3 -2.5 0.4 -3.2 0.1 -2.3 0.1 -2.9 0.4M221 310.4l1.8 1.3 1.7 1.3 2.4 2.3 2.2 2.4 2.1 -0.3 2.3 1.9 2.1 1.6M340.5 307.6l-1.3 1.5 -1.7 2.6 -2.1 1.4 -1.7 1.7 -1.5 0.9 -1.6 2.5 -2.7 1.2 -1 1.2 -2.6 1.3M324 321.6l-2.6 -1.2 -1.3 -2.7 -2.9 -1.2M334.4 336.3l-2 -1 -2.8 -2 -3 -1.2M240.2 445.6l-1.3 1.7 -1.8 2.5 -2.2 1.7 -2 2.1 -1.1 1.9 -1.2 1.5 -1.2 2.2 -1.4 2.2M218 440.5l-0.9 2.7 -0.6 2.4 -0.9 3 -0.9 1.7 -0.7 3.7 0.1 2.4M229.3 461.9l-2.4 -0.8 -3 -1.3 -2 -0.6 -3.1 -0.8 -1.8 -0.3 -2.9 -1.8 -1.8 -1M276.3 459.6l-2.8 -0.7 -2.2 -0.6 -2.1 -1.2 -2.3 -0.9 -2.2 -1.6M263.9 454.7l-2.8 1.3 -2.9 0.8M241.7 445.6l2.8 1.9 1 1.6 2.9 1.3 2.8 0.5 2.2 1.5 1.9 1.3 3.1 1.8 1.5 1.1M293.8 460.6l-1.9 -1 -3.3 -1.6 -2.3 -1M228.8 398.7l1.8 1.9 1.9 1.9 2.1 0.9 1.5 1.2 1.7 1.9 1.8 1.6 1.7 2.5 1.1 2M217.1 439.9l-2.3 -3.4 -1.7 -2.1M234.6 420l2.5 -1.8 1.3 -1.5 2 -2.3 1.9 -1.6M285.9 397.6l1.1 2.6 0.1 2.8 0.8 2.9 0.8 2.5 -0.4 3.3 0.2 2.4M387.7 322.6l2.8 -0.7 2.3 0.2 3.4 -0.7 2.7 -1.8M401.1 362.4l2.1 -1 2.3 -1.4 1.2 -1.1 2.1 -2.1 1.9 -1.2 2.7 -0.6 2.4 -1.7 2 -1.7 1.6 0 2 -2 2.6 -0.8M405 334.9l-1.5 1.9 -1.8 2.4 -1.9 1.3 -1.4 1.8 -1.3 1.5 -2.3 1.6 -1.6 2.2 -1.2 1.3 -1.1 2.5M398.8 320.1l0.4 2.3 1.3 3.7 0.8 1.6 1.1 3.3 1.1 1.6 0.9 3.1M428.9 333l-1.4 2.8 -1.6 1.6 -2.1 2.6 -1.5 2.1M363.9 354.3l-1.1 2.2 -0.8 2.8 -0.8 2.8 0.2 1.8 -0.1 2.9 -0.3 1.5 0.2 2.5 -0.2 2.9 -0.7 2.2M305.1 413.7l0.3 -2.5 0.3 -3.8 0.3 -1.5 1.1 -2.7 0.3 -2.3 1.6 -2.8 0.9 -2.1M290.4 394.4l2.6 0 2.1 0.5 3.7 0 1.9 0.5 1.7 0.9 3.2 -0.1 2.5 0.8M290.8 377.8l2.7 -0.7 1.4 -0.6 3.1 -0.5 2.4 -0.5 2.7 -0.4 2 -0.7M306.8 373.8l0.7 2 0.3 2.3 -0.9 2.9 1 2.7 1.1 2.6 0 2.8 0 1.5 0.3 1.7 0.3 2.9M354 460.5l-3.5 -0.5 -2.5 -1.8M299.8 458.8l2.7 1 2.3 1 2.6 0.7 3 0.8 2.9 1 2.1 0.8M315.4 465.1l3 -1.8 3 -1.3 1.9 -2.1M322.7 460l0 -3.2 0.5 -1.8 -0.1 -3.3 -0.6 -3.1 -0.7 -2.4 -0.2 -2.5 -0.9 -2.3 0.1 -2.8M292.8 458.3l4 -0.1 2.2 -1.2M348.5 446.4l-0.4 3.2 0.4 2.2 -0.5 3.2 0.8 2.8M288.2 352.1l-0.9 -2.1 -0.7 -2.8 -1 -2.4 -0.4 -1.7 -0.6 -2.8 -0.5 -2.1 -0.6 -2.7M306.2 357.6l-2.5 -1.9 -1.8 -1.2 -1.8 -1.9M288.4 353.1l0.1 -0.3 0.6 -0.3M316.7 337.9l0.2 2.3 -0.3 2.9 0.7 2.8 0.5 2.4 1.3 2 0.3 4 0.3 1.7M278.3 332.7l2.2 1.9 3.5 1.4M295.1 310.8l1.2 1.2 -0.9 3.5 1.3 3 0.4 1.9 1.2 1.7 0.5 2.6 1.5 2.1M228.5 399.3l-2.2 1.2 -3.4 -0.2 -2.7 -0.2 -2.2 -0.1M428.6 333.5l-0.9 -3.4 -0.4 -2.4 -0.6 -3.4M424.6 376.1l-2.3 -0.5 -2.8 -1.3 -2.4 -0.2 -2.1 -1.7 -2.9 -0.5 -2.4 -0.7 -2.8 -0.5 -2.5 -0.5 -2.6 -0.8M423.6 376.7l0.1 2.2 0.3 0.8M385.9 403.5l2.3 0.2 2.6 0.6 1.9 0.3 2.8 1.1M342.7 376.3l-2.8 0.4 -1.8 1.1 -1.7 0.7 -3 0.3 -3 0.3 -2.5 0.4 -2.5 0.3 -2.1 0.3M337 356.1l0.7 -0.1 0.1 0.2M321.8 395.6l0.2 -2.5 0.5 -3.1 -0.1 -1.5 0.5 -3.6 1 -2.1 0.4 -2.6M362.4 354.8l-2.1 0.1 -3.5 0.6 -2.4 0.1 -2.8 -0.2 -2 0 -2.8 0 -3.2 0.6 -1.5 1 -3 -0.2 -2.2 0.9M235.5 320.2l2.3 -0.6 3 -1.8 1.6 -0.7 3 -1.5 1.8 -0.5M279.6 294.1l-2.3 2.2 -1.9 0.9 -1.9 1.8 -1.4 2.3 -0.9 1.5 -1.7 2M422.9 409.4l-2.3 2.2 -2 1.1 -1.8 2 -1.2 1.5 -1.9 2.2M397.9 414.7l3.2 0.1 1.9 0.8 2.3 1.4 2.4 0.3 2.4 0.6 2.5 0.2M381.7 428l2.2 -0.9 2.9 -0.8 2.3 -0.3 2.8 -0.6M369.9 417.9l1.5 2.3 2.4 2 1.7 1.4 1.9 2.4 1.8 1.5 1.9 2.4M377.9 448.7l-0.9 3.8 -0.8 2.9M368.1 460.9l0.4 2.6 1 1.8 0.2 3.4 0.7 1.8 0.6 2.3 -0.2 2.7 0.8 2.6 0.7 1.9 0.7 1.6 0.6 3.1 0.6 2.7 0.4 2.6 0.9 2.1 0.9 2.5 1 1.8 0.5 2.5 0.5 2.7 0.9 1.7 0.7 2.6 0.1 3.1 0.4 1.7 0.3 2.9 0.7 3.3 0.4 1.5 0 2.1 0.7 2.3 1 2.2 1.1 2.7 0.5 1.9 0.2 3.5 0.6 1.7 0.6 3.1 0.4 1.3 1.7 2.7 0.3 2 0 2.2 0.1 2.6 0.8 2.9"/><path stroke="#30f0e0" d="M338 251l2.5 0 2.4 0.7 2.9 0.5M291.9 374.6l-1.9 -1.5 -2.7 -1.8M213 273.8l1.4 -2.7 1.8 -2.7 0.4 -2.2 2 -1.9 1.1 -3.2M214.4 249.6l1.4 1.3 0.3 1.5M398.5 274.7l0.7 -2.4 0.4 -2 -0.3 -3.5 -0.1 -1.9 0 -2.6 0.8 -2.3 -0.1 -2.9 -0.4 -2.2 0.3 -3 0.2 -2M415.1 250.5l-2.1 1.1 -3.4 -0.2 -2.8 -0.5 -3.2 0.1 -2.1 0.1 -2.8 0.3M353.5 338.8l-2.5 1 -1.2 0.4 -3.1 0.1 -3.3 0.3 -2.4 0.9 -1.8 0.7M342.6 279.1l2.1 -1.9 2 -1.3 2.2 -1.7 1.6 -1.5 1.4 -0.7 2.9 -2M291.8 254.7l-0.5 3.1 -0.2 2 -1.2 3.3 -0.6 3.3 0 1.3 0.1 3.6M235 320.7l-0.1 3.2 0.1 1.5 -0.3 3.1 -0.4 2.2 -0.3 2.5M236 332.6l2.6 1.3 1.6 1.2 3.2 1.1 2.4 1.2M262.1 437.6l2.3 -1.7 2.1 -1.3 3.8 -1.5M262.7 455.7l-0.9 -2.5 0.2 -2.8 -0.5 -2.7 0 -3.3 -0.4 -2.8 -0.2 -2.4M286.2 435.7l-2.8 -0.1 -2.1 -0.7 -2.7 -0.5 -2.8 0 -2.5 -0.3 -2.5 -0.4M241.1 437.8l2.7 0.1 2.9 -0.8 3.2 -0.8 2.1 -0.4 2.9 -0.5M292.1 418.1l-0.7 1.8 0.1 2.9 0.5 2 0.2 2.4 0.2 3M341 436.5l1.4 2.6 1.8 1.5 1.4 2.3 1.9 3.1M381.7 340.1l1.9 1.6 0.9 2.8 1.7 2.8 1.7 2.2 1.7 1.5M362.2 354.7l2.9 -0.3 2.5 1 2 -0.2 3.1 1.6 2.3 0.9 2.1 0.8 2.8 0.9M386.2 380.5l-0.8 1.8 -2.3 2.1 -1.2 2.3 -0.5 2.1 -1.2 2.1 -2.4 1.7M309 436.9l2 -0.8 3.5 -0.9 2.8 -0.4M338.9 439.5l-2.1 -0.5 -3.3 -0.2 -2.1 0.6 -3.2 0 -2 -0.1 -2.3 -1.1 -2.7 -0.2M318.7 337.2l-3.3 0.7 -2.9 -0.1 -2.3 -0.6 -2.8 0.6M278.3 331.9l0.2 -2.9 0.1 -2.1 -0.1 -3.4 -0.8 -2.9 -0.8 -1.3 -0.3 -3.1M317.8 319l-2.3 1.1 -2.9 1.7 -1.5 2 -1.4 0.5 -1.8 2.3 -2.7 1.8 -1.7 1.2M400.4 361.1l0.6 2.8 -0.3 3.9 0.4 2.6M394.4 379.8l2.4 -2.7 1.7 -2 1.1 -2.5 2 -2.2M324.4 357l2 0.1 2.4 -0.4 2.9 0 2.4 0.5 2.4 0.1M377.4 446.8l1.9 -0.5 3.7 0.5 1.8 -0.4 2.7 0 2.3 0.4 2.2 -1.3 2.7 -0.5 2.4 -0.4 2.8 -0.2 2.5 -0.1M399.1 414.6l-1.1 2.6 -1.7 2.2 -1.5 2 -1.1 3.1 -1 2.7M414.2 462.3l-2.9 -0.7 -2.1 -1.2 -1.7 -1.6 -2.3 -0.8"/><path stroke="#5040c0" d="M639 120.2l-2 1.9 -2.5 0.4 -1.7 0.9 -2.2 1.3 -2.1 1.3 -1.4 1.8 -2.5 1.7 -1.7 0.4 -2.6 1.5 -1.7 1.5 -2.2 0.5 -1.9 2.6 -2.5 1.1 -0.8 1.7 -1.5 1.9 -3.1 0.6 -1.7 1 -1.5 1.1 -2.6 1.5 -1.9 0.9 -2.4 1.5 -2.4 0.6 -2.2 1.1 -2.3 1.9 -1.2 1.4 -2.8 0.6 -0.9 1.7 -2.7 1.7 -2.3 0.9 -1.5 1.1 -2.4 2 -1.5 1.5 -1.4 1.4 -3.4 1.1 -1.9 -0.1 -1.8 1.9 -1.8 1.8 -3 1 -1.7 1.4 -2.3 1.9 -1.2 1 -2.4 1.5 -1 0.8 -2.3 1 -2.2 1.8 -2.5 1.4 -1.6 1 -2.7 1.5 -1.7 0.7 -2.4 1.5 -1.4 1.5 -1.9 1.2 -2.5 0.6 -1.7 1.6 -2.6 0.7 -1.9 1.5 -1.8 2 -1.7 1.3 -2.9 1.5 -1.5 0.7 -2.3 1.9 -1.5 1.1 -2 1.9 -2.3 1.3 -2.4 1.1 -1.7 0.7 -2.8 1.1 -2.2 0.8 -1.8 1.4 -1.6 1.3 -1.5 1.8 -3 1.1 -2.4 0.8 -1.5 2 -2.3 1.3 -2.7 0.5 -2 1.7 -1.1 1.4 -2.6 0.7 -1.7 1.1 -1.7 2 -1.8 0.5 -2.7 1.4 -1.8 1.7 -2 1.8 -2.9 0.3 -1.6 1.8 -1.3 1.6 -2.3 0.7 -1.6 1.5 -2.6 0.9 -2.5 2.1 -2.3 0.5 -1.7 0.8 -1.5 2 -2.4 1.2 -2.2 1.5 -1.9 1.4 -1.4 1.9 -2.4 0.4 -1.6 1.5 -2 0.8 -1.6 1.4 -2.8 1.6M432.5 271.1l-0.8 -2.6 -0.6 -2.4 -0.9 -2.1 -0.7 -2.3 0.1 -3.2 -0.6 -2.5 -1.4 -2.5M222.2 303.2l-0.5 2.6 0 2.3 -0.3 2.8M241.2 438l-2.8 -1.1 -2.6 -2.1M378.5 389.4l-1.9 1.9 -3 0.4 -1.8 1 -2.9 0.5 -2.9 1.3 -2 -0.3 -2.3 0.2 -2.6 0.4M389.3 350l-2.3 2.1 -2.4 0.5 -2.5 2.1 -2.7 2M319.5 421l0 0M266 353.2l-0.2 -3 -0.9 -2.9 -0.1 -2.4 0.7 -2.4 0.2 -3.6 -0.2 -2.5"/><path stroke="#d01a08" d="M427.2 278.1l1.8 2.7 1.4 2.1 0.2 2.4 1.1 2.4 1.9 3M215.6 294.8l0.4 -2.6 0.1 -2.8 -0.3 -2.9 -0.4 -3.2 0.6 -2.7M-20.9 295.5l2 0.6 2.4 0.7 2.9 0.3 2.4 0 2.6 0.9 2.2 0 2.3 0.5 2.8 -0.5 1 0 3.3 -0.1 1.5 0.9 3 0.3 3.3 -0.1 2.4 0.2 1.9 -0.5 2.7 0.1 1.9 0 2.3 -0.2 2.9 -0.2 2.2 1.3 2.1 -0.2 2.9 1.2 1.5 -0.3 3.1 1.1 2.2 -0.5 2.9 -0.2 2.9 0.2 1.5 -0.4 2.7 0.3 2.1 0 2.5 0 2.2 0.6 2.3 0.7 2.7 0 1.9 -0.3 2.3 0.3 3.1 1 2.4 -0.1 2.2 -0.1 2.4 -0.3 2.1 -0.4 2.7 1.1 2.3 0.4 1.6 -0.4 3.1 0.1 2.6 0.3 2.7 -0.8 2.2 0.2 1.9 0.7 2.6 0.4 3 0.8 1.4 -0.3 2.9 0.3 2.4 0 3.6 0.7 0.5 -0.3 1.9 0.1 4.2 0.5 1.8 0.3 2.9 0.1 2.3 0.1 2.2 0 2.3 0.4 2.8 0.5 1.3 -1.4 3.3 0.2 2.7 0.7 2.4 0.2 2.5 -0.1 2.3 0 1.4 0.3 3.3 -0.3 2.1 1.2 2.1 -0.4 2.8 0.5 1.7 -0.8 3 0.6 2.5 0.6 1.8 0.4 3 0.5 1.8 -0.8 2.9 0.1 2.4 0.2 2.2 -0.1 3.1 0.9 2.3 0.7 1.2 -0.3 3.7 -0.3 2.3 0.4 2.3 0 2 0.8 2.1 -0.6 2.5 -0.3 2.7 0.4 2.4 -0.7 2.2 0.3 2.6 0.2 2.8 0.4 1.2 0.3 3.1 0.4M286.2 397.9l-2.3 -0.3 -2.4 -0.7 -3.2 -0.9 -1.6 -0.7 -3.4 0.7 -2.7 -0.8 -1.7 -1.6M282.9 185.5l-0.5 2.4 0.2 2 -0.4 3.1 -0.3 3 -0.7 1.9 0.4 2.3 -0.5 2.5 -0.7 2.3 0.1 2.4 -0.1 2.5 -0.5 2 -0.5 2.8 -0.8 1.7 -0.4 3.4 -0.6 2.4 0.6 2.7 -0.4 1.7 -0.4 3.4 -0.2 1.6 -0.6 3.6 0.6 1.4 -0.7 2.9 -0.1 2.1 -0.7 2.1 -0.9 2.3 -0.2 2.5 -0.1 2.8M273.3 251.5l2.8 1 3 1 1.9 -0.2 3.5 -0.1 2.3 0.5 3.1 0M238.3 280.5l0.9 -2.4 0.2 -3.6 0 -2.7 -0.2 -2.7M259.9 257.9l-2 -1 -3 -1.8M221.5 302l2.3 -1.1 1.9 -1.4 2.9 -1.7 1.7 -0.3M229.5 298.4l1.5 -2.6 0.9 -2.4 0.6 -1.9 1.6 -2 1.2 -2.1 0.6 -2.7 0.4 -1.2 1.4 -3.2M376.2 249.6l2.7 0.6 3.1 0.4 2.7 -0.9 2.4 -0.3 2.4 -0.6 2.8 -0.6 3 -0.6M406.4 279.2l-1 -0.4 -1.1 0.9M368.5 338.5l2.5 -0.8 3 0.3 2.2 0.7 3.7 0.1 2.5 0.6M349.8 312.9l1.5 0.8 2.3 0.9M348.2 314.3l-1.2 -2.6 -2.2 -3.8M287.8 269.7l-2.8 1.3 -1.3 1.2 -2.9 0.7 -1.8 1.5 -2.5 1.4 -1.8 0.4 -3.2 1.2 -2.3 0M268.8 274.8l0.3 1.8 0.3 0.7M327.6 276.9l-2.6 1.1 -2.5 1.4 -1 1.6 -1.8 2 -2 2.3M338.7 400.9l-2.7 -0.5 -3.6 -0.8 -1.6 0 -2.7 -0.9 -2.8 -0.6 -2.9 -0.6M217 372.3l-2.4 0 -2.8 0.2 -2.1 -0.2 -2.3 -0.2 -2.6 0.8 -1.9 -0.3 -2.1 0.3 -2.7 -0.5 -3 0.6 -2.5 0.5 -2.7 -0.3 -2 0.2 -2.3 0.6 -2.2 0.4 -2.4 -0.1 -2.5 0.2 -2.6 0 -1.8 1.3 -3.1 0.2 -2 -0.5 -2.6 0.7 -2.8 -0.8 -2 1.1 -2.4 0.5 -2.4 -0.1 -1.9 -0.2 -2.4 -0.1 -2.7 -0.1 -2.6 0 -2.3 -0.1 -2.6 0.6 -2.4 0.2 -2.2 0.2 -2.3 -0.3 -2.7 0.4 -1.5 0.5 -3.4 -0.4 -2.2 0.6 -1.9 -0.6 -3.1 0.6 -2 -0.2 -2.8 0.2 -2.6 0 -1.7 0.7 -2.3 -0.5 -2.7 0 -2.5 0.3 -2.2 0.7 -2.3 0.6 -2.7 -0.5 -2 0.2 -2.5 0.8 -2 -0.3 -2.2 1 -3.2 -0.5 -3.1 -0.1 -1.1 0.1 -2.9 -0.2 -2.3 0.1 -2.9 -0.2 -2 0.7 -2.3 0.2 -3.2 0.2 -1.5 -0.4 -2.6 0.7 -2.7 -0.3 -2 -0.1 -2.6 0.3 -2.7 0.3 -3.5 0.8 -1.2 1.3 -1.7 0.1 -3 -1.3 -2.4 -0.4 -3.1 0.3 -2.3 0.5 -1.6 1 -2.8 0.1 -1.9 -0.5 -3 0.2 -1.4 0.5 -3.2 0.1 -3.2 0.4 -1.1 -0.2 -3 0.8 -2.1 -0.1 -3.2 0.1 -2.5 0.4 -1.4 0.2 -2.3 -0.6 -2.8 -0.1 -2.6 0.2 -2.2 0.2 -1.9 1.3 -3.4 -0.3 -1.8 -0.1 -3.2 0.6 -2.2 -0.8 -2.2 0.1 -2.2 0.2 -2 0.4 -3.5 -0.4 -2 0.7 -2.1 -0.3 -2.7 0.3 -2.2 0.4 -2.8 -0.4 -1.6 0.7 -3.1 0.2 -1.9 0 -2.2 -0.4 -3 0.2 -2.2 0.3M311.2 303.1l1.2 2.9 0.4 2.5 0.3 1.6 1.6 3.2 0.8 2 0 2.7M241.3 446.3l-0.1 -2.7 -0.1 -3.8 0.4 -1.7M251.6 397.1l-1.8 -2.8 -0.6 -1.7 -1.8 -2.5 -1.3 -2.5 -2.4 -1.8 -1.3 -2.3M254.6 416.2l4.1 -0.7 1.6 -0.1 2.6 -0.5 3.3 -0.4M291.6 429.1l-2.3 2.1 -2.4 2.2 -1.7 2.6M486.6 359.3l-1.9 0.4 -3.2 1 -3.1 0.5 -1.3 -0.5 -3.1 0.3 -2.4 0 -2 1 -2.7 0.8 -2.4 -0.2 -2.7 0.5 -1.6 -0.3 -3.3 1.8 -2.2 -0.6 -2 0.4 -2.5 0.4 -1.9 0.8 -2.4 0.5 -3 0.8 -3 0.5 -2.6 -0.3 -1.6 0.9 -3.3 -0.1 -1.7 0.1 -2.7 0M432.4 388.1l-1 1.7 -0.8 3.7 -1 2 0.5 2.2 -0.4 3.6 0.1 2.5 -1.6 2.3 0.3 2.9M342.6 421.8l2.1 -0.4 3.9 0.5 2.6 -0.5 1.8 0.5 2.4 -0.8 3.3 -0.3M351.8 390l3.2 2.2 1.9 1.7 1.6 2M363.1 343.3l-0.2 2.6 -0.9 2.9 -0.5 2.9 0.3 2.5M305 373.7l0.3 0.3M291.7 417.7l1.9 -1.2 3.3 -0.6 2 -0.9 3.2 -1 2.6 0M353.6 731.8l-1.1 -2 0.6 -3.1 -0.4 -2 0.6 -1.6 0.2 -3.3 -0.8 -2.3 0.1 -1.7 0.2 -3.8 -0.4 -1.8 0.3 -2.9 0 -1.4 -0.4 -3.8 0.2 -1.7 0.4 -2.2 -0.3 -2.5 0.1 -2.7 -0.6 -2.4 0.7 -2.6 -0.6 -2.2 0.8 -2.4 -1 -2.6 0.9 -2 -1 -2.8 0.5 -3 0.9 -2.2 0.1 -1.5 -0.3 -3.1 -0.3 -1.9 0.1 -3 0.2 -2 0 -2.4 0.1 -2.5 0.3 -2.6 0 -1.9 0.4 -3.9 -0.3 -1.8 -0.2 -1.1 0.3 -3.1 0.2 -2 -0.6 -3.1 -0.1 -2 1 -2.5 -0.5 -3.4 0.1 -2.1 0.5 -2.3 -0.5 -1.9 0.1 -2.5 -0.2 -2.7 -0.4 -2.4 -0.1 -2.4 -0.2 -1.6 0.1 -2.8 -0.3 -3 0.2 -2.7 -0.2 -2.2 -0.1 -1.2 0.3 -3.2 0 -2.3 0.2 -2.9 0 -1.9 -0.1 -2.4 0.4 -2.2 0.1 -3.1 -0.3 -2.7 0.3 -1.5 -0.5 -2.7 0.1 -2.2 0.6 -3 0.6 -3.2 -0.3 -1.7 -0.7 -2 -0.5 -2.3 0.1 -3 0.2 -1.8 0 -2.3 -1 -3.2 0.8 -1.7 0 -2.4 0.1 -2.3 0.5 -2.9 -0.4 -2.3 0.1 -2.7 0.4 -1.7 0.1 -3.3 -0.4 -2.4 0 -2.5 1 -2.3 0 -2.6 0.2 -2.7 -0.5 -2.5 0.1 -2.2 -0.1 -2.2 -0.3 -1.4 -0.7 -2.3 -0.4 -2.3 0.6 -2.7 -0.3 -2.5 0.1 -3.9 0.1 -1.7 0 -1.3 0.1 -2.7 -0.1 -2.3 -0.2 -2.9 -0.3 -2.1 0.9 -2.7 -0.5 -2.8 0 -2.9 0.5 -2 0.3 -2 0.2 -2.4 0.6 -2.6 -0.1 -2.4M300.7 354l-2 -0.7 -3.7 0 -2.2 0 -1.6 -0.6 -2.7 0.3M308.2 336.1l-2.1 -1.9 -1.2 -3 -1.2 -2.8M277.9 329.6l-2.4 1.1 -1.6 0.7 -3.7 1.5 -2 0.3 -3.1 0.7M213.5 387.5l-2.2 0 -2.4 0.2 -2.8 1.1 -2.5 1.1 -2.4 -0.4 -1.9 1.2 -2.4 0.4 -2.6 -0.1 -2.2 0.4 -2.4 0 -2.8 0.1 -2.1 0.2 -2.8 1 -2.2 -0.4 -2 1 -2.6 0.7 -2.5 -0.5 -2.6 0.6 -1.9 0.1 -2.2 0.1 -2.3 0.7 -3.2 0.5 -2.8 0.9 -2.3 0.5 -1.3 -0.4 -3.4 0.7 -2.6 -0.3 -1.2 0.8 -2.4 0.1 -3 0.6 -2.9 0.6 -3 0.1 -2.3 0.7 -1.6 0.1 -2.7 0.4 -2.2 0.7 -2.8 0.3 -1.8 0.4 -2.6 -0.3 -2.5 0.4 -2.4 0.5 -2.3 -0.1 -2.1 -0.2 -2.8 0.8 -2.7 0 -1.8 0.7 -2.8 0.2 -2.2 1 -2.6 -0.3 -2.7 0.8 -1.9 -0.3 -1.7 -0.1 -3.3 1.5 -1.6 0.3 -3.1 0.4 -2.9 -1.2 -1.7 1.4 -2.7 0.5 -2.5 -0.1 -2.8 0.5 -1.6 0.5 -2.7 0.3 -2.1 0 -2.7 0.9 -2.5 0.2 -2.4 -0.5 -2.3 1.3M428.4 322.7l-2.3 -0.8 -2.1 -0.9 -2.6 -1 -2.1 -0.5 -3.5 -1.5 -1.5 -1.2 -2.4 -1.4 -1 -1.1 -3.7 -1.3 -2.1 -0.9M422.6 408.8l-2.6 -2.3 -1.4 -1.8 -1.9 -1.6 -1.4 -1.4 -2.7 -2.7 -2 -1.7 -1.7 -1.8M247.6 315.2l1.6 1.7 2.5 1.8 2.5 1.6 2 2M254.1 330.2l0.5 -2.5 -0.7 -2.6 0 -2.6M424.8 435.5l-2.4 -0.9 -2.9 -0.2 -1.4 0.2 -2.9 -1.3M378.3 443.6l0.6 -2.9 1.2 -2.5 0.4 -2.2 0.5 -1.4 0.6 -2.6 0.3 -2.8M353.7 461.8l2.6 0.3 3.3 0.1 2.7 0 3.3 -0.3 2.5 0.1"/><path stroke="#40ff80" d="M-21.1 298.2l2.5 -0.1 2.1 0.5 1.8 0.9 3.1 0.3 2.7 0.5 1.7 -0.6 3.7 0.5 1.8 0.3 1.9 -0.2 2.6 1.5 1.9 -0.1 2.8 0.3 2.8 -0.4 1.4 0.3 2.8 0.2 2.6 -0.4 2.7 0.6 2.5 0.9 2 0.2 2.1 0.6 2.6 1.1 3.1 0.6 2.1 1 2.1 0.2 2.7 0.3 1.6 -0.6 2.7 -0.1 2.9 0.6 1.9 0.3 2.4 0.1 2.2 0 3 0.7 2.7 0.3 1.3 0.9 2.9 0.8 2.3 -0.2 2.9 -0.2 2.2 0.6 2.4 0.4 2.3 0 2.7 -0.2 1.4 1.2 3.2 0.6 2 0.6 2.3 0 2.3 0.2 3.1 0.1 1.7 -0.1 3.2 -0.1 2.4 1.2 1.9 0.2 2.5 0.6 2 -0.4 2.7 1 2.5 -0.1 2 0.6 2.7 -0.2 1.8 0.5 2.8 0.2 2.9 0.9 2 0.9 1.8 0.9 2.5 0.6 1.8 0 3.4 0.4 2.4 0 1.7 -0.4 2.8 0.2 2.4 0.4 1.7 0.6 3.1 0.5 2.9 0.1 1.7 0.8 2.9 -0.4 2.2 0.4 2.5 0 1.9 0.5 2.5 0.7 1.9 0.4 3.6 0.3 1.8 -0.1 2.6 -0.2 2.4 0.6 2.5 1.5 2 -0.1 2.6 0.6 2.1 0.6 2.5 0.2 2.1 -0.3 2.9 0.4 2.1 0.1 2.9 0.8 1.9 -0.5 2.6 0.5 2.6 0.8 2.4 0.1 2.5 -0.1 2 1M421.4 251.7l-3.4 -0.7 -2.8 -1.7M231.9 244.9l2.7 -0.1 2.3 0.4 1.9 1.2 1.9 1 2.9 1.3 1.5 0.4 2.8 1.8 1.5 0.2 3 1M374.5 252.8l0.1 0M334.2 334.7l1.8 -1.6 0.6 -2.4 2.3 -1.9 0.9 -1.7 1.9 -2.7 0.6 -1.7 1 -2.4 1 -1.4 2.1 -1.9 1.8 -2.5 1 -1.7M297 281l3 -0.6 3.5 -0.7 2.7 0.2M342.7 420.7l-0.4 2.7 -2.2 2 -0.5 2.6 -0.9 3 0.8 1.9 -1 3 -0.6 2.4M299.8 351.6l1 -1.5 1.9 -2.7 1.1 -2.3 1 -2.8 0.8 -0.8 1.2 -3.4 0.2 -1.8M299.1 326.7l1.6 0.6 2.5 0.8M427.1 368.9l-1.7 2.4 -0.9 2.4 -0.8 2.4M395.7 379.2l1.4 2.1 1.5 1.8 0.9 2.4 0.5 2.7 1 2.5 1.4 2.4 1.7 1.8M367.8 460.4l2.2 -1.2 1.9 -1.4 2.3 -0.9 2.2 -1"/><path stroke="#3a70ff" d="M252.5 251.7l0.4 1.6 1 2.7M259.5 256.4l2.5 -0.4 2.6 -0.6 1.4 -1.2 2.6 -0.7 2.7 -1.2 2.2 -0.9M238.5 282.2l3.3 0.3 1.5 0.7 2.8 1.9 2.3 1.4 2.5 1.3 2.1 0.8M396 246.6l1.2 1.3 2 1.2M403.6 279.7l-2.7 -1.6 -2.3 -3.4M374.5 252.9l-2.9 -0.6 -1 -2 -3.4 -0.5 -2.3 0.1 -2 -0.3 -2.4 -0.8 -1.7 -0.8 -2.3 -0.6 -2.9 -1.2M368.5 317.1l-2.4 -0.6 -2.5 -0.4 -2.5 0 -2.5 -0.1 -2.5 -0.3 -2.8 0M385.5 274.1l-2 1.3 -2 1.4 -2.1 2.2 -1 2.6 -1.9 2.2 -1.7 1.1 -1.8 2.4M296.2 306.6l-1.4 -2.1 -2.1 -2.3 -1.8 -1.1 -1.3 -2.6 -1.6 -2.4 -1.4 -1.7M254.3 356.8l-2.7 -1.3 -2 -0.6 -2.5 -0.4M247 352.1l-2.6 1.3 -2 0.9 -3.5 0.9 -1.4 1.5 -2.5 0.8 -2.3 1.3 -1.6 1.2 -2.7 1.4 -2 -0.2 -3 1M225.4 362l-1.5 -1.9 -1.8 -2.4 -1.4 -1.7 -0.9 -2.5 -1.7 -2.5M215.2 328.6l1 2.1 0.4 3.1 0.4 2.2 1.2 2.4 1 1.4 1.4 2.7M267.8 353.6l-1.3 -0.8 -1.7 -0.4M249.1 353.2l-0.7 -2.2 -0.6 -3.3 -0.3 -3 -0.9 -2.5 -0.5 -2.3 -0.6 -2.6M324.3 321.5l0.4 3 0.9 2.1 0.3 2.8 0.7 2.4M246.7 412.3l-2.5 0.5 -1.8 0.4M263 439.3l-1.7 -0.8 -2.4 -2.1 -2 -1.6 -2.5 0M269.3 433.8l0.2 -3 -0.2 -3.4 -0.2 -1.3 0.2 -3.3 0.1 -3 -0.7 -2.5M357.4 395.7l1.5 3 0.9 1.6 1.2 2.8 -0.4 2.6 1 2.4 1.4 3.1 0.5 2.4 0.8 2M364.8 415.8l3.2 1.1 2.8 0.3M342.1 421.1l-2.4 -1.9 -1.3 -1.6M424.1 347.6l-0.3 -2.3 -0.3 -2.8M211.9 410.3l1.5 -1.8 0.6 -2.4 1.4 -1.7 1.3 -3.4 0.8 -1.4M433.5 311.2l-1.1 3 -1 2.2 -0.4 1.9 -1.5 2.8 -1.4 3.2M394.4 405l1.4 -1.4 2.3 -2.8 0.4 -1.3 1.7 -2.1 2 -2.5M342.9 375.5l-0.8 -2 0 -2.2 -0.9 -2.4 -0.9 -2.4 -1.4 -3 -0.2 -1.8 -0.5 -2.5 -0.9 -2.2M337.3 340.5l-0.5 2.9 -0.1 2.1 0.3 2.5 -0.3 3.5 0 3.1 -0.8 2M254 298.9l2.5 1.6 2.7 0.5 2.6 0.5 2.7 1.6 2.5 0.6 2 1.6M230.6 300.4l2.7 0.8 2.1 0.2 2.2 0.4 2.7 0.3 2.6 1.1 2.2 0.8 2.2 0.8M277.6 315.7l-1.8 -1.8 -2.7 -0.7 -2.4 -1.8M253.7 288l0.3 2.4 0.2 3.4 1.3 2.1 0.6 2.5M402.2 445.2l0.9 2.5 1 3.2 0.7 2.4 0.7 2.7 0.7 2.7"/><path stroke="#a0ff40" d="M384.7 274.7l-0.7 -1.8 -0.9 -2.8 -0.4 -2.3 -1.6 -1.7 -1.7 -2.6 -1.5 -2.2 -0.1 -1.4 -0.6 -2.8 -1.2 -2.6 -1.1 -1.9M374.2 252.5l1.4 -0.8 1.7 -0.4M371 316.5l-0.3 1.2 -1.4 -0.2M353.4 337.7l2.1 1.5 2.6 1.9 2.6 0.9 2 0.7M349.4 295.7l2.2 -0.7 3.2 0.4 1.8 0.1 3.1 -1.3 1.3 -0.7 2.8 -0.5 1.8 -0.7 3.1 -0.1 2.4 -1.1 2.1 -1M306.3 252.1l-0.1 2.3 -0.3 2.6 -0.6 2.7 -0.4 1.9 1.1 3.1 0.6 2.7 -0.5 1.5 -0.7 3.4 -0.1 1.7 0 2.4 -0.2 2.9M306.9 278l2.2 0.9 2.4 1.4 2.1 1.6 3 0.8 2.2 1.1M296.8 253.2l2.7 -0.3 3.5 0.6 2.9 0.5M311.5 304.9l-1.9 0.6 -2.9 0.5 -3.2 -0.8 -1.4 0.2 -3.1 1 -2 0.9M338.7 415.9l-2.5 1.7 -3 0.4 -0.9 0.3 -2.6 1.3 -3 1.3 -1.5 0.3 -2.9 -0.3 -2.7 0.8M219.4 343.4l2.4 -1.6 2.4 -0.9 1.5 -1.1 1.9 -0.5 2.8 -1.2 2.2 -1.4 2.5 -1.3 1.3 -1.1M233.7 465.7l-1.8 -1.8 -1.9 -2.3M250.7 398.1l0.3 2.5 -1 3.3 -1.5 3.4 -1.3 1.4 -1.4 2.7M214.3 434.1l0.6 -3.1 0.3 -1.4 0.3 -2.5 -0.1 -2.4 0.6 -3 0.1 -2.9 0.6 -2M254.1 434.4l0.3 -2.3 -0.5 -3 0 -2.5 0.4 -2.6 1 -3.3 -0.2 -1.8 0.3 -2.6M267.7 393.8l-0.6 2.5 -1.3 2.3 0.2 3 -0.5 1.6 -0.4 3.5 0.2 2.5 -0.1 2.5 -0.1 2.6M487 359.8l-2.4 0.2 -3.1 -0.4 -2.5 -1.6 -2 -0.1 -2.1 -0.6 -3 -0.5 -2.6 -0.8 -1.6 -1.5 -2.3 0.5 -2.1 -0.3 -2.3 1 -3.6 -1.3 -2.9 0.1 -1.7 -1.3 -2.1 -0.2 -2 -0.6 -3.3 -0.9 -1.9 -0.7 -2.7 -0.3 -1.7 -0.3 -3.2 -1.4 -1.5 0.1 -2.5 -0.9 -3.1 -0.9 -2.8 0 -1.8 -0.7M431.4 412.7l-1.3 -1.1 -2 -2.3M358.3 435.7l-3.5 1.1 -0.4 2.1 -1.9 2 -2.6 2.2 -1.7 1.2 -1 2.5M399.1 362.4l-1.6 -1.8 -2 -2.5 -2.1 -1.7 -2.4 -2.5 -1.1 -2.2M320.4 394.1l-3.4 0.2 -2.1 0.5 -3.6 0.1 -2.6 0.1M318.5 434.3l1.5 2.1 1.4 2M321 421.2l-0.4 1.8 -1.4 3.2 -0.9 1.6 0.1 4.1 -0.7 1.3 0.2 2.4M306.7 357.3l2.9 -1 2 -0.3 2.9 0 2.2 0.4 1.5 -0.6 2.8 -0.6M213.9 434.2l-1.9 -0.9 -2.4 0.2 -2.8 0 -2 -1.4 -3.4 -0.1 -2.8 -0.9 -0.3 -0.3 -3.4 0.1 -2.3 -0.7 -1.6 -1 -2.7 -0.4 -2.3 -0.8 -2.4 -0.5 -2 -1.4 -2.8 -0.1 -2.1 -0.8 -2.5 -0.5 -1.9 0.3 -2.9 -0.3 -2.7 -1.1 -1.5 -1.7 -2.5 0.2 -2.6 -1.2 -2.2 -1.1 -1.7 -0.6 -1.9 -0.9 -3.3 -0.6 -2.6 -0.4 -2.6 0.1 -1.9 -0.7 -2.2 -0.5M216.3 416.9l-1.5 -2.1 -1.2 -2.3 -1 -1.8M428.7 431.3l-0.9 2 -1.3 2.3 -2.2 2M268.6 304.7l1 2.7 2.1 3.8M375.5 456.3l1.7 1.7 1.9 0.6 3.1 1.6 1.2 1 2.6 1.8 1.7 0.3 2.5 1.3 2 1.5M433.4 456.6l-2.5 1.2 -2.5 1.5 -2 0.3 -3.2 0 -1.7 0.2 -3.2 0.8 -2 1.4 -2.3 1.2"/></g>
<g fill="none" stroke-linecap="round" stroke-linejoin="round" stroke-width="1.2" opacity="0.9"><path stroke="#ffd820" d="M-57.1 276.1l2.3 0.4 2.2 -0.3 2 -0.7 3.3 -0.3 2.3 -0.4 1.9 -0.4 3.1 -0.2 2.4 -0.2 1.6 0 2.6 -1 3 -0.2 1.4 0.5 3.4 0.3 1.6 -1.5 2.2 0.4 3.3 -0.4 2.4 0.1 1.9 0.2 3.1 0.8 2.1 0.2 2.6 -0.6 2.3 -0.8 2.6 -0.4 2.1 -0.3 3 -0.3 2 -0.3 1.4 -0.2 2.7 -0.8 2.5 -0.8 2.7 -0.7 2.8 -0.1 1.5 0.5 2.9 -0.3 2.2 -0.3 2.2 -0.5 2.6 0.1 1.8 0.5 3.1 -0.8 3 0.5 2.4 -0.2 2.3 0.2 2.1 -0.7 2.2 -0.8 2.3 -0.1 2.4 -0.2 2 -0.9 3 0.2 2.4 0.1 2.5 -0.4 2.8 -0.5 2.1 0.3 2 -0.9 3.1 -0.1 1.9 -0.2 2.5 0 1.8 -0.4 2.9 0.3 2.4 -0.7 1.7 -0.8 3.1 -0.9 2.3 -0.4 1.6 -0.2 2.9 -0.1 3.4 -0.2 1.5 0.3 2.6 0.3 1.9 0.3 2.6 0 2.9 -0.9 1.6 -0.8 2.9 -0.3 2.9 -0.8 1.7 -0.2 2.7 0 1.6 0.6 3.6 -0.4 2 -0.1 2.5 -0.8 2.4 -0.3 2.2 -0.5 1.9 0 3 0.4 2.3 -0.9 2.4 0 2.4 -0.6 1.8 -0.5 3.8 0.5 2.7 0.6 1.2 0.2 3.1 -1 1.8 -0.6 2.7 -0.3 2.2 -0.8 1.6 0.3 3.6 0.2 2.8 -0.8 1.8 0 1.3 0.5 3.8 -0.6 2 0.2 2.1 -0.6 2.3 -0.6 2.4 -1.4 2.4 -0.3 2.5 0 2.6 0.1 2.1 -0.2 2.6 -0.1 3.1 -0.3 1.7 0.1 1.9 -1.1 3.2 -1.3 2.2 1.1M214.1 273.4l0.7 3.3 1.3 1 1.4 2.4M216 294.1l1.3 2.1 1.5 2.8 1.6 2 2.6 1.4M428.3 275.9l-1.3 0.4 -3.1 0.4 -2.6 1.2 -3 0.2 -2.2 -1.1 -1.8 1 -3.7 0.2 -1.8 0.2 -2.1 -0.3M265.9 379l2.5 -1.7 0.6 -1.4 2.2 -2.1M213.7 250.7l1.4 0.4 0.9 1.5M222.5 304.1l2.5 -0.9 1.9 -0.6 2.6 -0.7 1.5 -2.8M239.7 279.8l2.4 1.8 2.1 0.7 1.9 1.5 2.8 1.5 1.8 1 3 1M404.1 279.1l-3 -1.8 -2.8 -2.1M374.8 251.8l-1.5 -0.2 -3.4 -0.3 -2.5 -1.4 -2.3 -0.5 -1.6 -0.7 -2.7 -1.1 -2.4 -0.5 -1.9 -0.6 -2.7 -0.9M374.5 252.8l0.1 0M353 126.5l1.3 2.2 0.6 2 0.4 2.6 0.1 3.3 0.6 1.7 0.7 2.5 -0.1 2.8 0.3 1.3 1.2 3.2 0.6 1.9 0.2 3 0.2 2 0.2 2.5 0.3 2.7 0 1.3 0.9 2.4 0.3 2.8 0.9 2.2 -0.1 2.7 0.2 2.5 1.6 2.1 0.3 3.2 0.9 1.6 -0.4 2.6 0.5 2.3 0.5 1.9 0.3 3.7 0 1.7 0.2 1.9 0.4 3.3 1.2 1.5 -0.1 2.4 1.5 2.9 0.5 3 0.2 1.5 0.3 2.5 0.6 2.5 0 2.5 0.3 2.2 1.6 2.1 -0.2 2.8 0 2.3 -0.3 2.7 0.9 2.1 -0.2 2.4 1.4 2.1 1 2.2 0.5 2.8 -0.3 2.8 0.3 1.8 -0.2 2.5 0.4 2.7M341.5 277.6l2.6 -1.7 1.7 -1.1 1.7 -1.3 2.2 -2 2.6 -1.4 2 -0.6M359.1 270.1l1.2 1.4 2.3 1.2 1.2 2.9 1.8 1.7 1.1 2.3 2.1 1.8 1.4 1.4 1.5 2.3 1.2 1.9M331.9 275.6l2.7 0.9 2.8 0.4 2.3 0.4 2.9 0.5M376.5 297.4l-0.9 -1.6 -1.8 -2 -1.9 -3 -0.4 -1.8M277.5 293l2.7 0.7 1.9 -0.1 3.2 0.7 2.5 0.4M291.6 254.7l-0.6 2.9 -0.3 3.2 -0.5 2.9 -0.5 1.9 -0.1 3 -0.3 2.7M305.8 280.1l3.7 0.8 1 0.4 2 1.7 3.3 1.5 1.6 2M307.1 -19.5l1.1 2.7 0.8 1.6 0.2 2 -0.2 3.2 -0.7 3.1 0 1.7 -0.4 2 0 2.9 0.9 2.7 0.3 2 0.6 2.6 -0.8 2 0 2.9 0.9 2.7 -0.1 2.1 -0.3 1.8 0.4 2.9 -0.3 2.6 0.3 2.6 -0.1 2 -0.4 1.8 -0.2 2.6 -0.3 2 -0.3 3.7 0.9 2.5 -0.1 1.7 0.2 2.8 0 1.8 0.2 2.9 0.1 2.1 -0.2 2.6 0.5 2.3 -0.6 2.2 -0.2 2.8 0.4 1.8 0.1 2.4 -0.4 2.8 -1.2 2.5 0.8 2 0.2 2.8 0 2.3 -0.3 2.2 1.7 3.3 0.9 1.2 -0.4 2.6 -0.5 3.3 -0.1 2 -0.1 3 -1.2 1.2 0.6 2.8 -0.5 2.6 -0.1 2.6 1 2 0.5 3 0.2 1.4 -0.2 3.1 -0.6 2.6 -0.4 2.1 0.1 1.9 0.7 2.7 -0.1 2.3 0.3 2.8 0.3 2.5 -0.8 2.2 0.4 2.7 -0.6 2.4 1.3 2.3 -0.1 2.7 0 2.1 -0.9 2.3 -0.3 2.7 -0.3 2.3 1.1 3 0.5 1.6 -0.3 2.6 -0.1 2.7 -0.3 2.4 0.9 1.9 -0.9 2.6 0.8 2.3 -0.4 2.9 -0.1 1.7 0.1 3.2 -0.3 1.7 -0.1 2.3 -0.1 2.4 0.4 2.1 -0.1 3.2 -0.1 2 -0.2 2.4 0.6 2.9 -0.4 2.1 0.9 2.8 -0.1 1.8 0 2.3 0 3.4 -1.2 1.4 0.7 3 1 2.4 0.2 2.3 -0.1 2.7 0 2.5 0.3 2 -0.3 2.1 -0.4 2.2 -0.6 2.9 0 2.5 0.2 2.5 -0.5 1.5 1.4 2.6 -0.7 2.2 0.4 3.1M317.8 293.8l-1.6 2.2 -2 2 -2.1 2.5 -1.7 2.1M338.2 417.1l-0.1 -2.6 -0.3 -2.4 0.4 -3.4 0.1 -1.4 -0.3 -3 -0.6 -2 -0.4 -2.7M271.8 375.2l-1.4 -2.2 0.3 -2.6 -0.2 -3.6 -1.2 -2.2 -0.7 -2.7 -0.9 -2.5 -0.6 -2 -0.8 -2.6M288.1 354.5l-2.6 -0.4 -2.9 -0.7 -2.8 0.5 -1.4 -0.9 -3.6 0.9 -2.1 1.1 -2.5 0.1 -2.9 0.1M220.5 311.3l2.7 1.2 1.3 2 2.1 0.9 3.1 0.8 2.5 2 1.7 0.2 2.2 1.8M243.1 446.3l-0.8 -2.2 0 -3.3 0.5 -2.7M239.9 439.6l-2.1 -2.3 -2.3 -2.1M254.6 463.8l2.9 -3.1 1.8 -2.3M242.3 444.6l2.2 1.5 1.6 2.4 2.4 1.3 2 1.5 2.6 1 1.6 1.4 3 2.6 1.4 1.5M263.3 439.3l2.7 -1.8 1.4 -1.9 3.3 -1.9M286 436.9l-2.4 -0.6 -2.3 -0.7 -2.7 -0.3 -2.9 -0.6 -2 -1.1 -2.9 -0.3M292.5 430.1l-2 1.8 -2 2.7 -2.8 1.9M359.3 421.4l1.9 -2 1.6 -1.9 2.1 -2.1M342.6 420.8l2.1 -1.3 4.6 0.4 1.5 0.5 2.6 -0.3 2.7 -0.5 2.6 0.5M425 347.6l-0.6 -2.5 -0.3 -2.6M398.2 320.3l2.4 2.6 0.8 1.7 1 3.6 0.6 1.8 1.4 3 0 2.7M361.7 354.1l-0.2 2.2 -0.6 2.5 -0.6 2.9 -0.3 2.1 0.7 1.8 -0.3 3.3 0.1 2 -0.4 2.9 -0.4 2.1M360.4 377.1l2.5 0.1 2.5 -0.8 2.2 -0.5 3.4 -0.4 2.2 0.1 3.3 -0.4 2 0.2M390.9 352.6l-2.2 1.9 -3 1.5 -2.7 1.1 -1.9 2.1M352.2 731.8l0.1 -2.9 0.4 -2.1 0 -2.2 0.8 -1.7 0 -3.2 -0.5 -2.2 0.3 -2.6 -0.9 -2.4 0.8 -2.8 0.4 -2 -0.3 -1.7 0.1 -3.1 -0.9 -2.7 0.1 -2.5 -0.1 -2.1 0 -2.5 0.6 -2.3 0.6 -2 -0.1 -3.2 0.2 -2.5 -0.3 -1.9 0.1 -2.1 0.8 -3 -0.5 -2.3 -0.2 -2.7 -0.5 -2.8 -0.7 -0.9 0.1 -3 -0.1 -2.3 0.1 -2.2 0.1 -2.9 -0.1 -2.2 0.4 -2.6 0.2 -3.2 0 -2.3 -0.4 -2.4 0.1 -2.3 0.2 -2.5 -0.3 -1.4 0 -2.5 0.1 -3.2 0.9 -1.4 -0.1 -2.9 -0.7 -2.8 -0.5 -3.3 0.1 -1.3 0.4 -2.8 0.3 -2.4 0.3 -2 0.2 -2.3 0.4 -2 0.5 -3.7 0 -2.2 -1.2 -1.4 0.3 -3.2 -0.1 -2.3 0 -2.2 0.7 -3 -0.6 -1.5 -0.1 -2.5 0.2 -3.1 0.3 -2.2 0.3 -2.1 -0.1 -3.7 -0.3 -1.4 0.4 -1.6 -0.1 -3.2 0.1 -2.2 -0.7 -3.3 0.8 -1.6 -0.1 -2.9 0.1 -2.2 0.6 -2.7 0.2 -2.1 -0.7 -3 -0.6 -2 -0.5 -2.8 0.4 -2.2 0.3 -2.1 -0.4 -2.9 0.1 -2.1 0.4 -2.2 -0.1 -2 0.3 -3.1 0.7 -2.5 -0.1 -1.3 -1 -3.9 -0.2 -1.7 0.3 -2.7 -0.7 -2 0.3 -2.8 -0.6 -1.8 0.6 -2.9 0.1 -3.2 0 -1.2 0 -3.2 0.2 -2.6 0.2 -1.7 0.2 -1.7 0.4 -3.3 -0.7 -2.4 0.5 -2.5 -0.3 -1.8 -0.6 -2.7 0.4 -2.7 -0.4 -2.2 -0.5 -3.1 0.1 -2 0.2 -2.8 0.1 -1.9 0.5 -2.1 0.5 -2.8M298.4 458.8l1.8 -2 1.4 -3.5 1.5 -1.5 0.5 -2.8 0.6 -2.4 1.4 -1.8 1.8 -2.6 0.8 -2.9 1.2 -1.5M337 462.9l-2.9 -0.5 -2.5 -0.9 -2.1 -0.4 -3.1 -0.8 -3.1 -0.4M265.1 353.1l0.5 -2.8 -0.3 -2.1 0.4 -2.7 -0.6 -3.8 1.3 -2.4 0.1 -2.8M277.1 332.1l0.1 -2.7 0.1 -2.6 0.8 -3 -0.8 -2.2 -0.3 -2.9 0.5 -2.6M433.4 311.2l-1 2.4 -0.7 3.4 -1.5 2.8 -1.5 2 -0.8 2.4M424.7 375.9l-2.2 -0.8 -3.2 -1 -2.5 -1.2 -2.4 0.2 -2.4 -0.1 -2.6 -1.2 -2.5 -1 -2.2 -0.9 -2.9 -0.6M422.8 376.8l0.9 1.8 -0.2 1.2M421.1 410.4l-1.1 -2 -1.9 -1.6 -2.3 -3 -1.5 -1.7 -2.7 -1.3 -0.9 -3.3 -2.2 -1.6M342.1 375.8l0.3 -2.2 -1.6 -2.6 -0.9 -3 0.7 -1.7 -0.1 -2.8 -0.4 -1.7 -1.1 -2.4 -1.1 -2.5M326.7 358.2l-1.2 2.4 -0.7 2.1 -0.6 3.6 -1.6 1.6 -0.3 3.1 -1 2.9 -0.7 1.9M324.5 358.8l2.6 -0.2 2.2 -0.1 2.1 -0.1 2.8 0 2.3 0.1M414.8 417.2l-1.4 2.6 0.1 1.8 0.8 3.1 0.6 2.4 -0.5 3.1 -0.3 2 0.3 2.8M402.1 444.9l1.5 -3.4 1 -3.3M415 435.6l-2.3 1.2 -2.5 0.6 -2.5 0.9 -2.2 1.2M367.5 459.9l2.2 -1.6 1.3 -1.5 2.2 -1.3 2.3 -1"/><path stroke="#ff8a20" d="M180.4 -4.7l1 2.5 0.7 3.1 -0.6 1.5 1.6 2.3 -0.2 2.3 0 2.4 0 2.7 0.8 2.5 -0.1 2 0.6 2 -0.6 3.9 0.1 1.2 0.3 2.3 1.1 1.8 0.6 2.8 -0.2 2.9 0.7 2.1 0.3 2.5 0.4 2.8 0.8 2 0 2.6 0.1 1.8 0 3.2 0.7 2.3 -1 1.9 0.3 1.6 0.6 3 0.4 2.6 0.4 2.9 0.1 2.4 0.8 1.8 0.4 2.3 0.7 2.5 -0.1 2.4 0.9 2.8 0.4 2.6 -0.1 1.9 -0.4 2.4 1 2.3 1.1 2.4 -0.2 2.5 0.2 2.9 -0.1 1.5 -1 2.7 0.4 2.3 0.9 2.4 0.8 2.3 0.4 2.2 0.6 2.4 1.2 2.5 0.9 2.1 -0.4 2.3 -0.1 3.5 -0.1 1.4 -0.1 2.4 1.1 2.2 -0.2 2.7 0 2.8 1.1 1.4 0.3 2.4 -0.2 2.6 0.8 3.3 0.5 1.3 -0.6 3 0.4 2.6 0.5 2 0.4 3 0 1.3 0.9 3.1 0.5 1.6 0.2 2.3 0 3.9 -0.8 1.8 -0.2 2.4 0.8 2.6 0.4 1.9 0.5 2.4 0.3 2.9 0.8 1.7 0.8 3.2 -0.4 1.9 0.7 2.6 0.5 1.3 0.4 3.6 0 1.7 0.4 2.9 0.4 1.8 -0.2 2.9 0.2 2.3 0 1.5 0.4 2.9 0.4 2.6 0.2 2.8 0.7 1.7 0.4 2.6 0.8 2.4 -0.5 2.2 1.1 2.8 -0.7 2.4 -0.3 2.7 0.5 1.8 -0.5 2.9 1 2.5 0.7 1.7 -0.2 3 0.8 2.3 -0.1 2.1M431 271.1l-2.1 3.2 -1.4 2.8M-43.1 296.2l2.4 -0.2 2.9 -0.2 1.9 0.3 2.6 0 2.2 -1.4 2.4 0.3 2.4 -0.4 2.8 0.3 2.6 0.1 2.2 -0.3 2.2 -0.2 2 0.1 3.5 0.1 1.7 -0.5 2 0.6 2.9 0 2.2 -0.1 2.8 0.2 2.1 0.3 2.4 0.8 2.6 -0.6 2.5 -0.3 1.9 0.4 3.1 -0.5 2 0.3 2.7 -0.8 1.7 0.8 2.8 -0.3 2.3 0.5 2.1 -0.4 3.2 -0.3 1.6 0.4 2.1 0.1 3 0.2 2.3 -0.8 2.8 0.4 2.7 -0.3 1.7 0 4.1 -0.4 1.4 0.1 1.6 0.7 3.2 -0.1 2.4 0.4 1.7 -0.2 3.3 -0.4 2.2 -0.7 1.8 0.3 3 0.6 1.4 -0.5 3.3 0.3 2.7 -0.9 2 0.4 2.8 0.9 2.1 0 2.7 -0.2 2.1 0.1 1.7 -0.1 3.5 0.8 1.9 -0.5 3.1 -0.5 1.9 0.1 2.8 0.3 1.5 0.4 3 -0.5 3.7 -0.2 1.7 -0.1 1.7 -0.1 2.5 0.5 2.2 -0.7 2.6 0.3 2.7 -0.1 2.2 -0.3 2.1 0 3.8 0.4 1.8 -0.1 1.9 -0.9 2.6 0.6 1.8 0.7 2.8 0 2 -0.3 3.1 0.5 1.6 -0.1 2.9 0 3 -0.3 2.1 -1 1.9 0.6 3.4 0.7 2 0 2 0.7 2.3 0 3 -0.4 2.2 -0.7 1.8 0 3 -0.4 2.1 0.3 2.6 0.2 2 0.2 2.6 -0.3 3.1 -0.1 1.9 -0.4 2.3 -0.4 2.9 0.1 2 0.2 2.6 0.2 2.4 -0.1 2.6 0.4 2.3 -0.2M214.8 294.8l-0.5 -2.9 0 -3.3 1.5 -2.4 0.1 -2.5 -0.9 -3.2M222.8 303.3l-0.4 2.4 -0.2 2.6 -2.2 2.4M427.2 254.6l-2.6 0.2 -4.2 0M411.7 78.1l-1.1 2.5 0.8 2.3 0.4 2.3 -0.6 2.9 0 2.5 0 2.2 -0.5 2.2 1.3 1.9 0.7 2.7 -0.1 2.5 -0.8 2.1 -0.7 2.3 -0.4 2.9 0.2 2.8 0.6 2.3 -0.7 2.7 0.5 2 0.6 2.5 -0.4 2.9 0 2 1.3 1.5 0 3.3 -0.1 2.4 0.3 1.8 -0.5 3.2 0.3 2.3 0.1 2 0.1 2.3 -0.2 3 0 2.1 -0.5 1.7 -0.1 2.6 0.1 3.6 1.1 1.6 -1 2.6 0 2.8 1.3 2.1 -0.6 2.3 0.1 2.1 -0.1 3.2 -0.1 1.6 0.4 2.9 0.3 2.1 0 2.8 -0.2 2.1 -0.8 2.8 0.2 1.8 0.2 3.9 -0.5 0.8 -0.6 3 0.2 2.2 0.3 2.5 -0.1 2.7 0.4 2.8 0.7 1.6 -0.4 3.2 0.1 1.4 0.1 2.7 -0.5 2.4 0.7 2.4 0.1 2.7 -0.1 2.3 0.2 1.9 -0.1 2.7 -0.7 2.1 0.6 2.8 -0.6 2.5 1.2 2.9 0.1 1.7 0 2.5 0.3 2.7M291.1 375.6l-2.3 -2.1 -2.2 -1.4M233 246.5l-2.4 1.4 -1.4 0.1 -3 0.9 -2 1.2 -3.3 1.4 -1.7 1 -2 0.6M215.5 252.1l0.9 2.7 1.2 3.6 1.1 2.3M212.9 273.8l1.8 -2.9 0.4 -2.2 1.6 -2.6 1.1 -2.2 1.1 -3.2M239 280.6l0.1 0.4M385.7 273l2.3 -0.4 2.6 0.5 3.2 -0.2 2.3 0.6 2.6 -1.3M396.4 274.7l-0.2 -1.9 0.5 -2.5 0.2 -2.8 0.2 -2.5 -0.2 -2.7 -0.2 -2.7 1 -2.7 -0.1 -1.5 -0.8 -2.9 0.2 -2.6M369.6 313.7l-0.4 0.4 -1.3 0.7M349.1 313.6l-1.7 -3.1 -2.2 -2.9M296.5 279.6l-1.4 2.5 -0.9 2.8 -2 1.9 -1.2 2 -1.9 2.8 -1.4 1.7M269.6 277.3l0.9 2.3 1.8 1.9 0.9 2.1 1 2.4 1.3 2.5 1.5 1.9 1.5 1.8M267.3 277.6l0.2 0.2 1.4 0.4M306.1 251.7l3.7 -1.4 2.9 -1.5M313.1 250.1l0.8 -1.1 0.9 -0.1M297.1 251.3l3.4 -0.1 2 0.9 3.6 0.7M296.6 306.3l-1.4 -1.5 -2.1 -2.2 -0.9 -2.7 -2.4 -2 -1 -1.3 -1.6 -2.6M256.5 376l-0.1 -2.7 -0.8 -1.7 -0.1 -3.6 -0.5 -2.2 -0.5 -2.6 0.9 -2.3 -0.1 -1.8 -0.2 -3.1M240.3 382.6l-1.8 -1.7 -2.1 -1.9 -1.5 -1 -2.9 -2.6 -1.3 -2.4 -1.6 -1.8 -1.7 -1.1 -1.9 -2.2 -2.5 -1.9M216.4 371.7l1.7 -2.2 2.4 -3.1 2.4 -1.4M217.1 372.5l-2.2 0.2 -2.6 1.4 -3 0.5 -1.3 0.1 -3.2 -0.1 -2.6 -0.2 -2.1 -0.1 -2.1 -0.2 -3.6 0.9 -1.2 1.1 -2.3 -0.3 -3 -0.2 -2.4 0 -2.6 0.2 -1.5 0 -2.3 -0.3 -3 -0.4 -2 0.6 -2.3 0 -2.6 0.1 -2.2 1.2 -3.1 0 -1.4 0.4 -3.2 -0.6 -2.1 0 -2.3 0.4 -2.6 1.2 -2.4 -0.4 -2.8 -0.1 -2.3 0.6 -2.6 -0.8 -1.9 0.1 -2.8 0.1 -2.4 0.6 -2.1 0.5 -3.3 -0.5 -1.4 0.8 -1.7 -0.5 -3.2 0.1 -2.5 -0.7 -2.1 0.4 -2.7 0.5 -2.3 0.6 -2.6 0 -2.4 0.6 -1.5 0 -3 -0.2 -2.2 1.2 -3 -0.2 -2.3 -0.4 -2.2 0.4 -2.8 -0.1 -1.8 0.3 -3.2 -0.2 -2 -0.2 -2.5 0.3 -2 0 -1.9 1.1 -3.4 0.6 -2.1 0.1 -2.4 0.5 -2.4 0.1 -2.4 -0.3 -2 0.3 -2.9 -0.5 -2.6 0.3 -2.2 0.4 -2.2 0.5 -2.5 -0.3 -1.7 0.3 -2.4 0.9 -3.2 -0.3 -2.5 -0.9 -2.6 -0.1 -2.6 0.9 -1.9 0 -2.5 -0.1 -2.3 0.5 -2 0.2 -2.9 0.4 -2.5 0.7 -2 -0.2 -2.2 0.1 -3.5 0.3 -1.8 -0.8 -2.8 0.2 -1.6 0.1 -2.8 0.4 -2 -0.1 -2.4 0.3 -3.4 0.6 -1.7 -0.4 -3.1 0.6 -1.3 0.6 -2.4 -0.3 -2.7 0.2 -2.4 -0.1 -2.5 -0.9 -2.6 0.6 -2.2 -0.5 -2.9 0 -1.7 0.1 -2.5 0.3 -2.9 1.1 -2.2 0.5 -2.8 -0.4 -2.4 0.4 -1.9 -0.2 -3 0.4 -1.7 0.1 -2.9 0.5 -2.3 0.3 -2.2 0.6M254.9 356.9l3.1 -0.6 1.9 -0.2 2.3 -1.4 2.8 0.1M248.8 353.2l-0.3 -3.7 -0.5 -2.1 0 -2.2 -0.4 -3.5 0.4 -2.2 -0.5 -2.4M235.3 334.2l3.5 1 2.2 0.8 2.2 0.7 2.4 1.3M241 446.2l-2.1 2.3 -1.5 2.1 -2.4 1.1 -1.5 1.8 -0.4 1.6 -1.9 2.2 -1.7 2.6 -1.4 1.6M236.9 435.9l-2.4 -0.3 -2.3 0.9 -2.3 0.5 -2.7 0.5 -3.1 0.4 -2.9 0.8 -2.7 1.5 -1.7 0.6M218.1 440.5l-1.5 2.6 -0.4 2.1 -1 3.5 -0.8 2.5 -0.3 2.6 -0.4 2.5M285.8 457.1l-2.6 0 -2.7 1 -2.2 1 -2.5 0.2M304.3 730.2l0.5 -2.8 -0.1 -2.1 0.3 -2.3 -0.6 -1.9 -0.3 -3.3 0.7 -1.8 0.1 -1.6 -0.3 -4 0.1 -2.1 -1.1 -2.2 0 -2.5 0.5 -2.2 0.2 -3 0.3 -0.9 -0.2 -3.1 0.1 -2.2 -0.3 -3 -0.8 -2.5 0.4 -2.1 0.3 -2.9 0.1 -1.5 -0.3 -3 0.1 -3 -0.4 -1.8 0.5 -2.9 0 -2.5 -0.7 -1.6 -0.2 -2.9 -0.3 -2.5 0.2 -2.5 -0.3 -1.8 0.3 -2.1 -0.3 -2.7 -0.5 -2.4 -1 -2.5 0.1 -2.8 0.4 -2.4 0.7 -2.2 -0.7 -2.2 0.1 -2 -0.6 -2.7 0.4 -2.9 -0.3 -1.7 -0.7 -3.3 1.2 -1.6 -0.8 -2.2 -0.5 -2.4 -0.2 -2.4 -0.5 -3.2 0.2 -1.6 0.1 -3.3 -0.2 -1.7 0 -2.6 -0.2 -2 -0.6 -2.8 0.3 -2.1 0.7 -2.9 0.5 -2.1 -0.3 -1.9 -0.8 -2.7 1.2 -2.6 -0.1 -2.7 0 -2.3 0.3 -2.3 -0.6 -1.6 -1.6 -2.8 0 -2.5 -0.5 -2.1 0.9 -2.8 -0.4 -2.3 -0.6 -3.4 -0.3 -1.4 -0.1 -2.9 -0.5 -2.5 -0.1 -2.2 0.2 -1.6 0.8 -3.3 0.5 -2.1 -0.3 -2.3 -0.8 -2.9 -0.3 -1.7 0.1 -3 0.5 -2 -0.1 -2.6 -0.3 -2.2 -0.8 -3.2 0 -2.1 0.2 -1.6 -0.7 -3.6 0.5 -1.5 -0.3 -2.5 0 -2.9 0.4 -1.8 -0.6 -2.5 0.6 -2.2 0.5 -3.4 -0.6 -2.1 -1 -1.9 0.3 -2.7 0.1 -2.6 -0.5 -3 0.1 -1.6 0.2 -1.9 -0.4 -3 -1 -2 1.5 -2.9 -0.6 -1.8 -0.2 -3.7 -0.6 -1.6 0.2 -2.6 0.6 -1.9 -0.5 -2.6M249.3 398.6l-1.9 -1.6 -1.6 -2.3 -1.4 -3.5 -1.2 -1.5 -1.9 -2.6 -1.2 -2.1M246.3 410.6l-2.3 0.2 -2.2 0.3M216.9 439.9l-1.9 -2.1 -0.6 -3.9M214 434l-1.1 -2.2 2 -3 0.2 -2.2 0.7 -2.2 -0.1 -2.6 0.8 -2.3 1.1 -2.5M265.7 415.1l2.8 0.9 2.1 1.6M246 412.5l3.6 1 2.4 0.8 2.9 1.5M291.3 418.7l-1.5 -2.4 -2.4 -1.9M268.7 394l-0.4 2.4 -0.2 2.5 0.1 2.5 0.4 3.3 -1.1 2.2 -0.4 2.2 0 3.4 -0.4 1.9M487 362.6l-2.5 0.2 -2.3 0.1 -1.9 -0.1 -3.9 0.2 -1.6 0.2 -3 0.5 -2.1 1 -1.9 0.5 -2.9 0.3 -2.3 0.5 -2.7 -0.3 -1.9 0.6 -2.9 -0.1 -1.7 1.1 -2.6 0 -3.5 0.9 -2.2 0.3 -1.6 0 -3.1 0.6 -2.5 0.9 -2.2 -0.1 -3.4 0.3 -1.4 0.3 -2.5 0.3M486.9 360.5l-1.8 -1.3 -3 -0.6 -2.1 -0.4 -2.3 -1 -2.5 -0.9 -2.9 -0.1 -2 0.1 -2.7 -0.8 -2.5 0.2 -2 -1.1 -2.5 -0.5 -2.4 -0.2 -2.8 -0.8 -2.8 -0.2 -2.2 -0.7 -1.8 0 -2.5 -0.8 -2.6 -1.3 -2.7 -0.2 -2.3 -0.5 -2 0.4 -2.8 0 -2 -0.2 -3.7 -0.4 -1.3 -0.8 -2.8 -0.2M432.7 411.1l-1.6 -2 -1.9 -1.1M384.7 402.9l-1.9 2 -2 1.5 -0.5 1.6 -2.7 0.9 -2.1 1.6 -2 1.5 -2.3 1.8 -1.3 2M378.8 392.2l-2.1 0.6 -2.4 0.3 -2.5 0.7 -2.5 0.5 -2.7 0.5 -2.7 0.5 -1.9 0.4 -2.8 0.5M343 420.7l-0.8 2.9 -0.6 3.1 -0.7 2 -0.1 1.9 -0.4 2 -0.6 3.7 0.4 2.5M385.4 381.2l-2 -1.7 -2 -1.2 -1.8 -1.3 -1.4 -2.4M386.3 380.5l-1.8 2.2 -1.4 0.6 -1 3 -1.9 2.1 -0.3 2 -1.7 2.4M320.4 395.5l-3.1 -0.3 -2.9 0.1 -2.6 0.8 -3.1 -0.5M290.4 375.8l2.2 0 3 0.5 2.4 -1.5 2 0 3 -1 2.1 0.6M292 418.5l2.2 -1.5 3 0 2.7 -1.5 2.8 -0.6 2 -0.9M300.2 457.8l2.5 0.7 2.9 1.4 2.2 0.7 2.3 0.1 2.8 1.7 2.6 1.3M308.8 436l2.6 -0.4 3.1 -0.7 2.9 0.3M316.8 436.3l2.5 0.8 2.2 1.2M349.2 446.3l-0.5 2.7 1 3.1 0 2.8 0.9 2.7M317.9 420.8l-0.1 2.7 -0.2 1.6 -0.1 2.4 0.1 3.5 -0.5 1.9 -0.4 2.5M316.6 337.9l0.9 2.2 0.1 3 1 3.2 0.4 2.6 -0.2 2 0.4 2.5 0.1 2.6M293.8 310.1l-2.2 0.6 -3.3 0 -2 1.2 -3.1 1.2 -1.5 1 -1.5 0.3 -3.1 1.1M315.8 316.6l-2.4 2.7 -1.7 0.7 -1.8 1.4 -2.3 2.6 -1.9 0.9 -2.4 1.2 -0.9 2.2M434.8 290.7l-1.5 1.6 -2 2.9 -1.6 3 -1.1 2M403 397.8l3.6 -0.4 2.3 -0.2M342.7 376l-2.8 0.4 -1.4 -0.2 -3 0.9 -2.2 1 -3.2 -0.3 -2.1 1.5 -2.2 0.3 -2.4 0.9M336.7 356.4l-0.1 0.6 0.2 0.3M318.8 395l1.7 -2.3 1 -2.9 0.6 -2.7 0.2 -1.9 0.3 -2.9 0.4 -2.4M352.4 383.9l-1 -2.1 -2.1 -1.7 -2.1 -2 -1.7 -1.3 -2.2 -2.1M247.6 315.3l2 1.2 2.7 2.2 1.5 1.3 2.1 2.7M277.6 292.7l-0.8 2.4 -1.1 1.9 -2 1.8 -0.9 2.6 -1.9 2.1 -1.4 1.3M398.2 413.2l2.3 0.2 2.9 0.3 1.5 1.5 3.2 0.1 2.1 -0.3 2.9 1M377.1 443.1l1.3 -2.3 0.7 -2.5 0.4 -2.1 0.5 -1.8 0.7 -3.5 1 -1.8M377.5 447.1l2.6 -0.4 2.9 0.4 1.3 -0.3 3.1 -0.1 3 -0.2 1.8 -0.8 2.9 0.4 1.8 -0.9 2.9 0.1 2.8 0.2M370 417.8l1.9 1.3 2 2.6 1 1.6 1.9 1.8 3.4 2.4 1.5 1.9M376.5 454.8l1.8 0.7 2.1 1.6 2.7 1.6 1.9 1.3 1.5 0.6 2 1.1 2.4 1.7 2.2 1.4"/><path stroke="#a0ff40" d="M338.3 251l-2.5 -1.6 -1.8 -1 -2.1 -3.2M338 251.5l2.9 -0.2 2.1 0.3 2.8 0.7M-21.1 298.1l2.5 0.1 1.8 -0.3 3.2 0.6 2.7 -0.4 1.7 0.6 3.2 0.4 2.3 0 2 0.4 2.6 0.6 1.7 0.1 2.5 -0.3 2.2 0.5 2.6 0.5 3.7 0.6 1.1 0.1 2.5 0.8 2.8 0.7 1.8 0 2.2 0.5 2.8 0.5 2.6 0 2.2 0.6 2.4 0.2 2.1 0.2 2.4 0.7 3.1 0.2 2 0.1 2.5 0.3 1.8 0.3 3.1 -0.6 2 0.9 2.6 0.1 2 1 2.8 -0.7 1.7 0.4 3 0.3 1.9 0.8 2.8 0.8 2.6 -0.1 2.2 0.4 2.5 -0.1 2.2 0.5 2.5 0.8 2.2 0.6 2.5 0.3 2 -0.8 3 0.8 2.2 0 2.5 0.5 2.7 1.1 2.7 -0.3 1.9 0.4 2 1 2.7 0.7 2.9 0.2 1.4 -0.1 2.3 0.1 3.2 0.1 2.1 0.3 2.1 0.1 2.6 0.6 2.8 0.3 1.8 0.8 2.5 0.9 2.5 0 2.8 -0.2 1.6 0.1 3 -0.2 1.5 1 3.8 0.5 1.3 0.3 2.9 -0.6 2 1.3 3.5 -0.1 1.5 0.5 2.8 0.1 1.6 -0.2 3.3 1.3 2.2 0.9 1.6 -0.2 2.9 0.1 2.9 0.7 2.3 -0.3 1.5 -0.1 2.7 0.5 2.8 0.3 1.5 0.6 2.7 -0.5 3.1 0.1 2.6 1.5 2.3 0.5 2.6 0.8 2.3 0.2 2 0.5 1.5 0.1 3.5 -0.6 1.9 0.6 2.4 -0.2M210.8 328.7l0.8 -2.4 1.1 -3.1 0.5 -1.4 0.7 -1.8 1.7 -3.3 0.3 -2 1.4 -2.7M387 273.5l-1.8 -1.7 -1.4 -1.9 -1.1 -2.1 -0.8 -3.1 -1.1 -1.2 -2.4 -1.4 -1.3 -3.1 -0.7 -1.6 -1.6 -2.4 -0.8 -1.9M354.6 269.3l2.7 -0.4 2.1 -0.2M306.7 252.1l0.1 2.6 0.2 2.1 -0.1 2.7 0.2 2.3 0.1 2.8 0.3 2.2 0.4 3 0.3 1.3 -0.3 2.2 0.3 3.2 -0.1 2.8M328.2 277.6l-2.4 1.9 -2.1 1.7 -1.7 1.3 -2 1 -1.9 2.2M319 293.9l-0.8 -2.5 -0.6 -2.9 -0.1 -3M324.5 320.8l-3.1 -1.5 -1.7 -0.5 -2.9 -1.6M272.5 433.8l-0.8 -2.9 0.4 -3.3 -0.5 -2.7 0 -2.3 0 -3 -0.2 -2.3M236 421.2l1.9 -1.6 1.8 -1.8 1 -1.7 2.3 -2.7M392.1 299.9l1.6 1.3 1.3 2.7 2.2 1.9 1.3 1.9 1.3 2.2 0.7 2.6 1.2 1.5M364.1 418.5l3.4 0 3 0.3M401.2 362.5l1.2 -1.6 3 -0.7 1.2 -1.8 2.6 -0.9 2.1 -1 2.7 -0.9 1.9 -1.6 1.3 -1.1 3 -1.7 1.9 -0.7 2.3 -1M246.1 337.6l1.6 -1.2 2.1 -2.4 2.1 -1.9 2.4 -0.9 2.4 -1.3M213.7 389l-1.7 0.9 -3.2 0.2 -2.6 0.6 -1.8 0.4 -3 -0.6 -2 0.5 -1.8 0.8 -3.8 -0.1 -1.6 0.3 -2.3 0.7 -3 0.6 -0.8 -0.1 -3.9 1.2 -2.8 0.7 -2.4 0 -2.5 -0.7 -1.7 0.1 -2.7 0.2 -1.9 -0.3 -2.3 0.5 -3.3 0.5 -1.5 0.8 -3.3 0.3 -1.9 0.9 -2.1 -0.2 -2.5 0.4 -2.6 0.5 -2.8 1.3 -2 0.3 -2.3 0.3 -2.2 0.2 -2.8 0.1 -2.5 0.8 -1.9 0.5 -2.5 0.1 -3 -0.3 -2.1 0 -2.9 -0.1 -2 0.7 -2 0.4 -2.3 0.1 -2.9 0 -2.4 0.1 -1.9 0.7 -3.6 0.2 -1.6 1.3 -2.5 -0.3 -2.2 0 -2.7 0.6 -3.3 0.2 -1.6 0.5 -1.9 0.6 -2.4 0.3 -3.1 0.8 -1.8 0.3 -2.6 0.4 -2.1 -0.1 -3 0.2 -2.4 1 -2.6 0.5 -1.9 0.3 -2.4 -0.5 -2.7 -0.1 -3.1 0.8 -1.2 0.4 -3.8 0 -1.5 0.6M228.7 401.8l-3.3 -1 -2.6 -0.2 -2.1 0.3 -2.6 0.3M216.3 372.1l-0.9 2.3 -0.3 2.6 -0.6 1.2 -1.3 3.6 0.5 1.8 -1.1 2.3 -0.6 2.5M434.9 310.9l-2 -1.9 -1 -2.2 -1.3 -3.1 -1.2 -2.4 -1.4 -2.1M405.5 313.3l1.5 -2.1 1.3 -2.3 1.6 -3.3 1.6 -1.4 1.5 -1.5 2 -3 2.3 -0.9M403.5 315.4l1.5 0.3 0.6 -0.1M433.5 387.7l-1.7 -1.9 -2.6 -3.1 -0.8 -1.1 -2 -3.3M324.6 378.9l-2 -1.4 -2 -2.8M257.1 323.6l2.2 -1 1.5 -1.9 2.5 -2.2 2 -1.3 1.9 -1.5 1.9 -1.5 2 -2.3M422.7 409.2l-1.8 2 -1.8 1.3 -1.7 2.2 -1.4 1.3 -2.9 1.7M376.6 442.9l0.8 2.9 0.7 2.8M367.4 461l0 2 1 2.7 0.8 1.7 1.5 3.6 0.4 1.6 0.3 2 1.1 3.9 -0.8 1.2 0.7 2.6 0.6 2.5 0.2 2.7 0.8 2 0.1 2.4 1 2.9 0.5 2.6 0.8 1.7 0.6 3.1 0.5 1.7 1 2 0.4 3.1 1.4 2 0.2 3.2 0.8 1.4 0 2.6 1 1.9 -0.2 2.3 0.4 3.4 0.8 1.5 0.7 2.9 0.6 2.8 0.8 2.5 -0.2 2.4 0.6 1.2 0.3 3 1.8 2.3 0.2 2.6 0.3 3 0.3 1.8"/><path stroke="#d01a08" d="M346.3 252.8l2.1 -0.8 2.5 -1.7 2.4 -1.1 1.6 -1.2M289.9 393.8l-0.2 -2.8 -0.2 -2 -0.3 -2.8 0 -2.3 0.6 -2.5 0 -2.8 -0.5 -2.3M273.4 250.7l2.3 0.5 2.8 -0.3 2.6 0.4 3.7 1.5 2.6 0.3 2.4 1.1M239.7 269.4l-2.9 -1.8 -1.2 -0.5 -2.5 -1.5 -2.6 -1.7 -2.4 -0.6 -1.4 -0.8 -2.4 -1.7 -2.4 -1.2 -2.6 -0.1M259.7 256.7l2.5 -1.6 1.7 -0.4 3 -1.5 1.7 -1.4 1.8 0.1 2.7 -1.3M259.6 258.6l-2.6 -0.8 -2.6 -1.4M368.4 339.7l3.2 -0.9 2.5 0 1.9 0.3 3.7 -0.2 2.7 0.5M331 244.5l-2.7 0.5 -2.1 0.7 -2.5 1 -2.3 1.3 -2.7 1.4 -2 0.3 -2.4 0.1M331.8 276.6l-2.1 -0.4 -2.1 0.1M213.6 329.3l1.1 2 0.4 2.5 1.2 2.4 1.2 1.7 0.9 2.8 1.5 2.1M218.8 343l-0.6 2.9 -0.4 2.8 0.3 2.6M232.3 466.8l-1.2 -3.1 -1.9 -1.5M275.6 460.2l0 2.6 -0.8 2 -0.6 2.6 -0.3 2.7 -0.7 2.3 -0.9 2.1 -0.1 2.5 -1.1 1.7 0.4 2.7 -0.8 2.9 -0.1 2.6 -0.3 1.8 0.5 2 -1.5 2.2 -0.6 2.7 -0.1 2.2 -1.6 2.8 0.1 2.1 -0.1 1.7 0 3 -1.2 2.3 -0.6 2.5 -0.8 1.9 -0.2 2.7 -0.2 2.1 -1 2.3 0.2 2.7 -0.3 2.7 -1.2 1.5 -0.7 2.7 0 2.7M268 392.1l-2 1.3 -3.2 1.6 -2.2 0.2 -2.7 0.5 -2.6 1.1 -2.5 0.1 -2.6 0.7M234.9 422l-2.9 -1 -2.1 -0.4 -2.7 -0.6 -2.9 -0.2 -2.4 -1.1 -2.7 -0.3 -2.7 -1M254.7 416.6l2.6 -0.5 2.8 -0.8 2.9 -1 3.2 0.4M285.3 436.8l-0.1 2.7 0.1 2.7 0.5 2.5 0.1 2.3 -0.3 2.8 0.6 2.5 0.1 3 0.2 2.4M265.2 455.5l-0.8 -2.5 -1.1 -3.7 0.3 -2.1 -1.5 -2 0.1 -3.7 -0.4 -2.4M387.6 322.2l2.5 -0.9 2.7 -1.5 2.5 -0.1 3.4 -0.6M403.7 333.7l-1.1 1.8 -1.4 2.2 -1.4 1.8 -2.3 1 -2 1.8 -0.9 1.4 -2.2 2.8 -1.4 1.8 -1.6 1.7M381.7 340.1l2.1 2.4 1.3 1.8 1.3 2.2 1.3 2.1 2.2 2.3M319.5 421l0 0M315.5 465.2l2.6 -2.1 2.4 -1.1 3 -1.7M298.9 327.4l2.3 0.6 1.7 0.9M278.2 332.8l2.5 1.6 3.2 1.8M326.4 331.4l-2.3 0.9 -2.1 1.6 -1.8 1.2 -2 1.9M417.9 298.8l2.3 0.6 2.1 -0.4 3 -0.2 2.3 0.1M427.9 333.6l-0.1 -3.3 -1.2 -3.1 -0.5 -2.8M427.4 430.2l-1.1 1.4 -1 3.3 -1.7 2.2M433.9 456.8l-1.2 -1.7 -1 -3.7 -1.1 -2.5 -1.3 -1.7 -1.4 -2.3 -1.2 -2.4 -1.5 -2.6 -1.2 -2.3"/><path stroke="#ff4a10" d="M639.2 120.4l-2.1 1.2 -1.5 1.2 -2.1 1.5 -1.9 1.4 -2.8 1.6 -0.5 1 -3 0.9 -2.1 2.2 -2.4 1.1 -1.6 0.7 -2.5 1.3 -2.4 0.8 -2.4 1 -1.5 2 -1.9 2 -1.2 0.6 -2.3 1.8 -1.9 1.4 -1.7 2.1 -1.8 1.3 -2.4 1.2 -2.3 0.4 -1.8 0.8 -2.9 1.6 -1.7 0.2 -2.3 2.1 -2.5 1.4 -1.7 1.1 -1 1.4 -3.6 0.9 -1.7 1.1 -2.3 1.3 -1.9 1.8 -2.1 1.3 -1.2 1 -2.9 1.6 -0.9 0.9 -2.8 1.2 -1.4 1.7 -2.4 1.8 -1.8 1.4 -2 1.7 -1.2 1 -2.8 0.8 -2.7 1.4 -1.7 0.7 -2.2 1.8 -2.6 0.7 -1.5 0.8 -1.9 1.4 -2.8 1.4 -1.7 1.7 -1.4 0.6 -1.6 1.9 -3 2.2 -1.3 0.2 -2.8 1.8 -1 0.4 -3.1 2.3 -1.7 -0.1 -2.8 1.8 -2.2 1.4 -0.7 0.6 -2.6 2.6 -2 0.8 -1.8 1.8 -1.7 1.6 -1.8 1.4 -3 0.5 -1.9 1.1 -2 1.3 -1.7 1.2 -1.6 2.1 -1.8 1.2 -3.1 1.3 -1.8 1.2 -1.9 1.4 -2.1 1.1 -1.9 1.4 -2.8 1.5 -1.2 0.7 -2.2 0.5 -2.5 1.6 -2.8 0.8 -0.9 1.3 -1.3 2 -2.7 1.6 -2.5 1.2 -1.5 1.2 -2.1 1.3 -2 1.1 -3 1.4 -1.6 0.9 -1.2 1.7 -2.6 1.2 -1.7 1.4 -2.1 1 -2.8 1.8 -2.2 0.2 -2.4 1.5 -1 0.6 -2.2 2 -2.1 1.7 -1.9 1.3M431.2 271.4l-1.2 -2.7 -0.6 -1.9 0.3 -2.6 -1.2 -2.3 -1.1 -2.9 -0.4 -3.1 -0.8 -2.1M428.2 277.7l1.6 2.1 1.2 2.9 0.9 2.8 1.3 1.9 1.7 2.6M421 252.4l-3.1 -2 -2.4 -1.4M286.6 396.6l-2.7 -0.4 -2.1 -0.4 -2.5 -0.4 -2.2 -0.8 -3.1 -1.4 -2.4 -0.3 -2.5 0M283.8 185.6l-0.6 2.9 0.1 2.7 -1.3 2.1 -0.7 2.4 -0.3 2.1 -0.3 2.2 -0.3 2 0.2 3 -0.8 2.3 -0.4 2.8 0.5 2.7 -0.7 2.1 -0.1 2.2 -1.4 2.7 0.2 2.5 -0.2 1.7 -0.7 2.3 -0.2 3.1 -1.1 1.8 0.1 2.8 0.7 2.5 -0.5 3.4 0 1.8 -0.7 2.6 -0.5 2.1 -0.5 2.6 0.2 2.3M239 268.3l1.3 -2.4 1.7 -1.9 2.3 -1.2 2.1 -1.6 3.1 -1 1.6 -1 1.8 -2.4 1.7 -1.4M232.2 243.9l2 1.2 2.9 0.5 1.5 1.2 2.6 1.3 2.4 0.4 2.1 1.3 2.2 -0.2 2.4 1.7 2.4 -0.1M240.3 280.7l0.1 -2.6 -1.2 -3.2 -0.3 -3.1 0.4 -2.7M269.4 -20.5l0.4 2.9 -1 2.4 0.2 1.7 -0.4 2.7 -0.5 2.2 -0.1 2.7 -0.8 2.5 0.2 2.1 0 2.5 -0.8 2.6 -0.8 1.8 0.9 2.8 -0.5 2.1 0.1 2.7 -0.2 2.9 0.2 2.1 -0.8 1.8 -0.2 3.1 -0.1 2.3 0.1 1.2 0.8 3.5 -0.5 2.3 -0.1 2.3 -0.2 2.6 -0.3 2.2 0 2.4 -0.6 2.4 0 3.1 0 2.4 -0.2 2 0.5 2 -0.6 3.2 -0.5 1.8 -0.2 2.7 -0.3 1.5 0.1 3.7 -0.5 2.2 0.1 2.2 -0.3 1.5 0.2 3.4 -0.1 3.2 -0.5 1.5 0.1 2.2 0.7 2 -0.3 3 -0.7 2.9 -0.1 2.4 -0.1 2.3 0.1 2.3 -0.2 1.7 0.5 3.8 0.3 1.2 -1.7 2.3 -0.4 3.3 -0.7 1.6 0.2 2 -0.3 2.8 0.8 2.8 0.3 2.9 -0.5 1.9 0.5 2.5 -0.7 1.8 0 2.5 -0.8 3.2 -0.2 1.6 0.2 3 -0.2 2.6 0 1.9 0.3 2.2 -0.3 3.1 -0.3 1.9 0.4 2.3 -0.9 2.9 -0.4 1.7 0.3 2.5 0.4 2.3 -0.5 3.2 -0.9 2.3 0.3 2.4 0 2.6 -0.2 2 -0.2 2.6 -0.1 2.6 0.2 2.2 0 1.9 -1.5 2.4 -0.1 3 0.4 2.2 -1.1 2.2 -0.4 2.8 0.8 2.2 -0.2 2.8 0.7 2 -1 2.6 -0.2 2.9 -0.3 1.2 0 3.1 -0.3 1.7 -0.1 3.3 -0.6 1.6 0.2 2.4 0 2.5 0.2 2.5 1 1.9 -0.8 3.6 0.2 1.8 -0.5 2.8 -0.4 2.5 0.2 1.5 -0.6 3.3 -0.2 2.1 -0.8 2.3 0.6 2.6M259.5 257.7l1.5 2.5 0.3 1.9 2.1 3.5 0.3 2.2 1 1.4 0.5 2.9 1.7 1.8 0.4 3M374.8 253l0.9 -0.9 1 -1.3M415.1 249.8l-2.7 0.1 -3 -0.5 -2.3 0.6 -1.8 -0.4 -4.2 0 -2.5 0M388 322.8l-2.4 -1.7 -1.8 -0.6 -2.5 -0.8 -2.4 -0.6 -2.5 -1.5 -1.1 -1.1 -2.8 -1 -2.3 0.1M369.2 316.1l-0.2 2.2 0 3 -0.1 2 -0.5 2.7 0 1.9 -0.9 3.6 -1.1 2.1 1.4 1.8 0 2.9M353.6 315.1l-0.1 2.5 0.7 2.5 -0.3 2.6 0.6 1.8 0.4 2.5 -0.2 2.9 -0.7 3.1 0.1 2.3 0.2 2.6M353.1 336.9l-2.1 0.8 -3.7 0.6 -1.7 0.4 -2.1 0.2 -2.5 0.7 -2.5 -0.9M368.6 315.3l-2.7 -0.8 -3.1 -1.1 -0.9 0.6 -3.4 0.1 -2.1 -0.2 -3 0.3M349.7 296.6l2.3 -1.3 2.2 -0.1 2.4 -0.2 2.3 -0.9 2.6 -1.3 2 -0.6 2.3 -0.6 2.8 -0.4 1.5 -0.3 3 -1.2M343.7 307l0.8 -2.7 1.4 -2.4 1.4 -1.6 1.3 -2.2 1 -2.6M286.9 272.5l2.1 1.6 1.8 1.5 1.9 0.8 2.9 1.3 1.6 2M288.2 271.1l-2.4 0.2 -2.5 0.9 -2.1 0.2 -3.3 0 -1.8 1.6 -1.8 1.4 -2.5 0.8 -2.8 0.7M314.5 250.4l1.2 2.4 2 1.7 0.6 2.6 1.2 1.5 1.5 2.7 0.6 2.6 1.3 2.4 0.7 2 1.3 1.6 1.3 2.4 1.4 1.7 1.1 2.6M296.9 279.2l3.8 -0.5 1.9 -0.3 3.5 -0.3M340.5 307.4l-2.4 -1.5 -1.8 -1.9 -2.5 -1.4 -2.1 -1.3 -2.5 -1.6 -1.9 -1.1 -2.6 -1.7 -0.8 -1.1 -3.4 -1.2 -1.7 -2.1M339.3 397.5l-2.6 0.5 -3.1 -0.7 -2.1 -0.2 -3.6 -0.3 -2 -1.3 -3.1 -0.2M323.2 397.1l-0.2 1.9 -0.1 3.1 -0.3 2.4 -0.8 2.3 -1.2 1.6 -0.5 2.5 0.4 3.2 -0.1 1.7 0.3 2.8 -0.1 2.5M255 354.9l-1.7 0.1 -3.3 -2 -2.2 -0.4M219.3 343.3l2.1 -1.2 2.2 -0.9 2.4 -1 2.3 -1.1 1.5 -1.5 2.3 -1.1 1.8 -1.8 2.2 -1M308.9 304l1.4 2.2 1.3 2 2.2 3.1 0.2 1.6 1.1 2.2 0.9 2.7M335.5 333.7l-2.5 -1.1 -3.1 -2 -2.5 -0.5M293.5 461.3l-3.3 -0.9 -2.6 -0.5 -2.1 -1.1M243 381.7l0 1.3 -0.4 1.3M235.7 420.5l0.6 2.6 0.5 3.5 0.3 2.4 0.3 2.3 0.1 2.7M263.4 438.5l-1.9 -1.3 -2.4 -1 -2.8 -0.8 -1.5 -1.4M253.9 434.4l0.3 -2.6 0.5 -2.3 0.5 -3 -0.2 -2.1 0.1 -3 0.2 -2.5 -1.3 -2.6M240.9 437l2.7 -0.1 2.7 -0.5 2.4 -0.1 3.1 -0.9 2.8 -1.1M293.3 418l-0.8 2.6 0.1 2.5 0.2 2.3 0.5 2.6 0 2.1M399.9 320.5l0.7 -2.3 2.1 -1.2 1.9 -2.8M385.4 404.5l-1.9 -2.4 -1.3 -2.5 -1 -2.4 -1 -1.4 -1.8 -2.3M343.6 419.6l-2.5 -0.9 -2 -1.8M337.7 398l2.2 -1.1 2.1 -0.6 2 -2.6 1.8 -1.4 1.6 -1.8 2.4 -1.3 1.8 -1.4M352.2 389.6l1.7 2.1 2.2 1.8 2.6 2.2M339.7 437.8l2.4 1.6 1.6 2.3 1.9 3.4 1.9 0.9M356.9 420.6l-0.6 2.7 0.5 2.1 0.4 3.2 0.5 2.4 -0.6 1.7 0.5 3.5M358.8 436.3l-2.2 1.2 -2.2 2.1 -2 1.8 -2 2.3 -1.8 0.9 -1.9 1.6M405.1 336.1l2.4 0.4 3.4 0.9 1.6 1.8 3.1 2.1 2.3 1.1 1.7 0.8 2.2 2M390.2 350.7l-0.6 0.3 0.1 0.4M422 349.6l1.1 -0.5 0.2 -1.4M428.8 333l-1.3 3.2 -2.3 1.9 0.1 1.9 -2.6 2.4M364 343.3l-1 2.5 -0.3 2.9 -0.6 2.7 0.6 2.8M362.3 354.2l0 0M351.5 389.2l-0.7 -3.1 -0.2 -2.1M304 414.6l2.6 0.8 2.4 1.8 2 1.8 3.6 1.2 2.2 0.7 2.2 1M354.1 460.2l-2.4 -1.1 -3.2 -1.7M294.1 463l3.3 -1.7 2.6 -0.5M265.8 336.8l-2.2 -1.7 -2.6 -0.5 -2.8 -2 -1.6 -2.4M284.1 334.6l2.9 -0.4 2.5 -2.3 3.2 -0.4 1.9 -1.1 2.2 -1.5 2.2 -1.5M307.3 336.6l-1.3 -2.4 -1.8 -2.9 -1.7 -2.2M287.9 352.6l0 -0.6 0.5 -0.2M278.5 331.3l-2.9 0.1 -1.6 1.3 -3.1 0.5 -3.1 0.9 -2.6 0.3M295 310.8l0.4 2.2 0.7 2.5 1.1 2.4 -0.1 2.3 1.3 2.4 0.5 1.9 0.7 2.5M215 388.2l1.5 2.8 1 2.8 1.1 2.8 0.8 2.8M215.5 417.5l-1.4 -2.5 -1 -1.4 -1.3 -2.4M407.9 278l0.5 1.7 2 2.9 1.5 2.8 1 2.3 1.9 1.9 0.8 1.5 1.1 3.3 0.9 2.3 1.4 2.2M430.4 370.6l-1.6 1.8 -1.2 3 -1.3 2M386.1 380.2l2.3 0.3 3 -1.7 3 0.2M424.7 379.2l-1.2 1.6 -3 2.1 -1 1.5 -2.1 2.5 -1.4 0.8 -2.1 1.9 -1.1 2.1 -1.7 2.5 -2.1 1.4M395.2 379.4l1.2 2.7 1 2.2 0.3 1.7 1.2 3 1.6 1.5 1.2 2.3 1.7 2.5M386 403.4l2.3 0.2 2.8 0.4 2.1 0.7 2.4 0.8M395.4 405.7l1.5 -0.9 1.2 -3 1.7 -2.2 1.2 -2.1 1.8 -2.1M336.7 340.4l0.1 2.2 0 4 0 1.5 -1.3 3.9 0.1 2.2 -0.2 2.4M253.9 299.2l2.6 1.5 2.5 0.8 3.2 0.2 1.6 1.6 2.9 0.6 2.7 0.3M235.7 320.5l1.9 -1.1 2.4 -1.3 2.1 -1.7 2.3 -0.6 2.7 -0.9M256.5 330l-0.6 -2.4 -0.5 -2.8 -0.4 -2.4M230.6 300.3l2.7 0.5 2.2 1.7 2.2 0.8 2.7 0.9 2.3 0.7 1.9 0.4 2.3 0.7M278 315.1l-2.6 -2.4 -1.5 -1 -2.7 -1.1M392.5 426.6l1.9 1.8 2.6 1.4 2 1.1 1.2 2 2.3 1.5 2.7 1.5 1.2 1.1M398.1 414.1l-1.7 2.2 -1.3 2.8 -1 3 -1.7 1.3 -1.2 3.1M353.7 462.6l3.6 0.3 2.3 -1.5 2.8 -0.6 3 0.4 2.7 -0.1M376 448.3l0 3.3 -0.7 3.6M413.9 463l-2.2 -1.4 -1.5 -0.3 -3 -1.1 -2.6 -0.7M413.9 462.9l-0.9 2.5 -0.3 2.5 0.6 2.8 0.7 1.9 -0.4 2.8 -0.6 2.2 -0.2 2.1 -1.4 1.9 0.3 2.5 -0.8 2.9 0.3 2.3 -0.8 2.8 0.4 2.1 -0.6 2.5 0.1 1.5 -0.2 3.1 0.2 2 -0.2 3.4 -0.4 2.3 -0.9 2.1 -0.1 2.7 -0.7 2.6 -0.1 1.8 0.4 2.5 -0.4 2.4 0 2.1 1.1 2.5 -0.6 2 -0.8 3.4 0.4 1.9 -1.5 3.2 0.7 2.4 -0.4 1.7 -0.8 2.2 0.5 3.5 -0.1 1.5 -0.5 2.1 -0.4 2.5 -0.3 2.3 -0.2 3.2 -0.1 2.1 -1 3.3 0.1 1.4 -0.5 2.8 -0.1 2.3 -0.6 1.7 -0.2 3.2 0.3 2.2 -0.1 2.3 0.2 2.8 -1.2 2.1 -0.5 1.6 -0.3 3.7 0.4 1.9 -0.7 2.3 0.5 1.8 -0.4 2.7 0.5 2.8 0.1 2.7 -1.4 2.4 -0.7 2 -0.1 2.5 -0.2 2.5 0.2 2.9 -0.9 1.8 -0.3 2.6 0.8 1.5 -0.7 3.3 0 2 0.4 2.8"/><path stroke="#40ff80" d="M-50.3 295.4l2.4 -0.8 2 0.5 2.8 -0.4 1.3 -0.9 3.6 -1.2 1.8 -0.3 2.8 -0.2 1.9 0.5 2.7 0.1 3.2 0.5 1.9 -0.1 2.5 -1.3 2.3 0.4 1.7 -1 3.1 -0.1 2.3 -0.3 3.1 -0.6 1.8 0.3 2.4 0.5 2.8 0.4 1.4 -0.5 2.5 -0.1 3.4 -0.5 1.1 -0.5 3 0.1 2.7 0 2.3 0.2 1.6 -0.6 3.3 0.6 2.8 -1.2 2.1 -0.3 2.4 -0.2 2 0 2.3 -0.9 3.9 0 1.3 0 2.1 0.6 3.3 -0.5 1.5 -0.2 2.7 0 1.6 -0.5 3 -1 2.1 0 2.4 0 2.2 -0.4 2.6 -0.5 2.4 -0.1 2.7 -0.2 2.3 0.8 1.8 0.2 3.5 -0.4 1.3 -0.2 3.5 -0.2 2 0.2 2.1 -0.7 1.7 -0.4 3.1 -0.3 2.9 -0.3 2.6 0.1 1.8 0.1 1.8 -0.4 2.3 -1.1 2.7 0.1 2.5 0.3 3.3 -0.6 1.4 0.9 2.5 -0.2 2.9 -0.4 1.7 -0.5 3 -0.8 2.7 -0.3 1.5 -0.8 2.2 0 2.9 -0.1 2.7 -0.1 2.3 0.5 2.1 0.1 2.8 -0.4 2.7 0 2 -0.1 1.8 -0.2 2.8 -0.7 2.7 -0.2 2.5 0.4 2.4 -0.5 2 0.1 3.1 0.1 1.6 -0.2 2.7 -0.3 2.3 0 2.2 -1.2 2.5 0 2.8 -0.3 1.6 -0.8 2.5 -0.3 3.2 -0.3 2.1 0.9 2.1 -0.3 2.6 0.1 1.9 0.1 3.4 0.3 2 -0.6 1.4 0.4 3.9 -0.7 0.7 0.3 3.4 -0.5 2.7 -0.7 3.2 0.5 1.1 -0.8 2.6 -0.3M280.2 185.7l1.3 2 -0.1 2.9 0.4 1.7 0.6 3 0.7 2.3 0.3 2.6 0.7 1.7 1.8 2.9 0.4 2.1 0.2 3.5 0.4 2.2 0.9 2.3 -0.1 2.5 -0.1 1.7 0.8 3.1 0.8 2.5 0.7 2.1 0.7 2.2 -0.6 2.8 0.6 2.6 0.3 1.8 1.1 2.5 0.3 2.2 1.3 2.3 1.9 2.7 1.3 2.7 0.5 1.9M268.8 278.1l-1.7 1.5 -2.7 1.7 -2.2 2 -1.5 1.2 -2.4 2.4 -1.5 0.9 -1.9 2.3M376.1 248.6l3.1 -0.1 3.5 -0.5 1.3 0 3.1 -0.2 2.6 0.3 2.7 -1.1 2.7 -0.9M406.5 278.3l-0.8 0.2 -1.4 0M353.5 337.5l2.8 0.9 1.9 1.3 1.6 1.4 2.8 1.7M337 251.1l0.1 3 -1.1 1.9 -1.1 2.8 -0.8 2.6 0.7 2.4 -1.2 2.3 0.2 2.7 -1.5 2.3 -0.5 2.6 -0.3 2.4M344.9 252.6l1.2 2.5 0.8 1.7 1.3 3.4 1.4 0.7 1.1 2.8 0.5 2.6 1.3 2.1 1.1 2M374.2 252.6l-1.6 1.7 -1.8 2.3 -2.6 1.8 -0.6 2.2 -1.9 1.6 -1 2 -2.7 1.9 -1.1 2.1 -2.1 1.2M340.4 305.7l2.2 0.1 2.7 0M240.5 380.2l2.3 -0.7 2.2 -1.5 1.9 -0.2 3.4 -1.2 1.7 -0.1 2.4 -0.9M254.9 375.2l2.3 0.8 3 1.1 2.7 1.5 1.8 0.5 2.6 0.8M236.1 320.7l0 1.9 -0.5 2.9 0.1 2.9 -0.2 2.4 -0.5 2.4M276.1 460l-2.5 -0.4 -2.3 -0.6 -2.8 -1.6 -2.1 -0.5 -2.3 -0.9M263.7 454.3l-3.3 1.3 -2 1.5M239.9 383.3l-1.4 1.6 -1.6 2.3 -1 1.1 -2.3 2.2 -0.5 2.6 -2.5 2.2 -0.7 0.9 -2.3 2.1M230.4 397l0.8 1.9 0.8 2.8 2.5 1.6 1.4 2.4 2 1.7 2.1 0.7 1 2 2.2 1.6M362.7 352.2l2.4 1 2.7 0.6 2.4 0.6 3.1 0.3 2.2 0.7 2.6 1.2 2.4 0.1M290.6 392.6l2.5 -0.1 2.3 0.6 3.6 -0.4 2.1 0.2 1.4 0.2 3 0.9 2.8 0.1M304.9 374l0.2 2.1 -0.4 3.2 0.2 2.9 0.9 1 0.6 2.8 0.2 1.9 0.2 2.8 -0.7 2.6 0 2.4M287.4 352.3l0.3 -3.3 -0.8 -1.5 0.2 -3.1 -0.9 -2 0.3 -2 -0.1 -2.9 -0.6 -2.6M401.4 360.9l0.5 3.1 0.9 3 0.7 3.1M269.9 304.5l0.7 3.8 1.4 2.8M405.1 444.7l0 2.9 0.3 2.2 0.2 2.8 0.2 2.9 1.3 3"/><path stroke="#30f0e0" d="M-21.1 299.2l2.4 -0.6 2.9 -0.4 1.3 0 2.8 -0.2 2.9 0.2 2.3 0.3 2.2 -0.3 2.4 0.2 2.9 -0.2 2.1 0.4 2.2 0.1 2.4 0.7 2.4 0.4 2.1 0 2.7 0 2.7 -0.3 2.3 0.6 2.5 -0.2 1.9 1.2 2.5 -0.7 2.1 0.2 2 0.8 3.3 -0.2 2.8 -0.3 2.5 0.1 1.3 -0.2 2.8 0.6 2.3 0.3 2.6 -0.2 2.6 0.5 2.9 0.2 1.3 0.4 2.2 0.8 2.2 -0.4 3.3 0.4 2.1 -0.6 2.1 -0.4 3.1 0.8 2.5 0.9 2.1 0.5 2.3 -0.2 2.3 -1 3.2 0.5 1.6 -0.3 3 0.3 1.2 0.6 2.8 0 3 1 2.9 -0.8 1.8 -0.5 2.5 0.5 2.7 0.9 2.1 0.2 2.4 0.3 1.6 0.2 3.1 -0.7 2.6 0.3 2.6 -0.7 2.4 0 2.2 -0.2 1.4 0.7 3.1 0.1 2.5 0.6 1.8 1.1 2.5 0.1 3.1 -0.3 1.6 0.4 2.7 0.6 1.9 -0.7 3.4 0.9 2.6 -0.3 1.5 0.6 2.6 -0.7 2.8 1.1 2 -0.4 2.5 0 2.8 -0.1 3.2 0.7 3.1 0 0.6 -0.1 1.8 0.1 2.8 0.2 2.2 0.5 3.1 0.3 2.4 -0.4 2 -0.1 3.1 0.5 2.1 0.6 1.8 0.1 3.2 0.8 1.7 -0.6 1.9 0.6 2.9 -0.2 2.9 -0.5 2.2 0.5 3.5 0.4 1.2 0.7 2.3 -0.5 2.7 -0.1 2.3 0.2M290.9 394.2l-2.8 1.4 -2.4 1.4M268.2 393.4l-0.3 -2.6 0.2 -2.3 -0.8 -3.3 0.2 -1.8 -1.2 -3M252.2 251.9l1.7 1.7 1.6 1.5M216.5 281l2.7 -0.8 2.6 0 2.4 0 2.1 0.1 1.6 0.1 3.3 -0.3 2.3 0.2 2.6 0.1 2.9 -0.3M349.9 312.7l2.2 0.6 1.6 1.2M371.7 286.9l0.3 0.5 0.3 0.9M310.8 301.6l-2.8 0.3 -2.1 1 -2.4 0.5 -2.2 0.7 -2 0.8 -2.8 0.2M223.9 365.5l0.6 -1.6 -0.6 -1M247.7 353.9l-1.8 0.7 -2.7 1.5 -2.9 1 -2.1 0.6 -2.6 1.1 -2.7 1.8 -1.8 0.1 -2.6 0.6 -2 0.8 -2.7 1M267.3 354.4l-0.9 -1 -1.3 -1.5M342.4 309.8l-2.1 0.6 -2.5 1.9 -1.8 1.3 -2 1.1 -1.9 1.4 -2.3 1.8 -1.8 1.6 -0.9 1.2 -2.6 1.4M268.2 393.7l0.7 -0.4 0.4 0.2M287.7 414.9l-2.3 0.5 -2.4 0.6 -2.6 1.1 -2.2 0.3 -2.2 0.9 -1.6 0.2 -3.2 1.3M431.6 387.9l-1.1 1.7 -0.2 3.7 0.1 2.2 0.2 3.1 -0.9 2.7 -0.4 2.4 -0.6 2.8 -0.9 2.3M352.1 383.6l1.5 -2.3 1.3 -1.7 2.1 -3 1.9 -2.1M323 396.4l-0.9 -1.2 -1.1 -0.6M305 373.7l0.3 0.3M348.1 457.6l-2.5 1.2 -2.4 0.2 -1.4 0.4 -2.8 1.9 -2.7 0.7M316.7 586l1.6 -2.2 0.3 -3.6 -0.7 -1.7 0.7 -2.2 0.8 -2 1.3 -2.8 0.1 -2.2 0.8 -2.6 0.2 -3.1 0.3 -1.5 0.1 -3 -0.1 -1.4 1.3 -2.7 0.5 -2.3 1.1 -2.7 -0.9 -2.2 -0.1 -1.7 0.1 -3.3 1.2 -2.4 0.4 -1.7 0.2 -2.8 0.2 -2.8 0.1 -2.5 0.4 -2.3 -0.2 -2.6 0.6 -1.7 0.9 -3.2 0.7 -1.8 0 -2.9 0.3 -2.3 1 -2.2 -0.4 -2.8 0.6 -2.8 -0.2 -1.9 0.3 -2.9 0.2 -1.6 0.7 -2.5 0.1 -2.5 0.4 -2.3 0 -2.6 0.3 -3 -0.6 -2 0.2 -2.1 0.5 -2.7 1 -2.4 0.7 -2.4 1.1 -2.2 -0.1 -2.6 0.4 -2.6 0.4 -2.1 0.4 -2.4M300.7 350.6l-2.5 0.1 -3.3 0.5 -2 -1.3 -2.1 0.8 -2.3 -0.8M307.1 356.6l-2.8 -1.5 -2.7 -1.3 -1.4 -1.3M296.2 306l-0.4 2.9 -1.3 2.4M362.1 352.7l-2.1 1.2 -2.4 1.2 -2.5 0.7 -2.8 -0.6 -2.5 0.3 -3.1 0.6 -1.7 0.1 -3.2 0.5 -3.1 0 -1.8 0.7M320.7 356.5l1.9 0 2 0.6M246.7 315.5l-0.2 -2.8 -0.8 -3 0.1 -2.3 -0.1 -2.8M397 405.4l0.7 2.1 0.1 3.6 1.1 2.8M424.2 437.7l-2.4 -0.1 -2.6 -0.3 -2 -1.5 -2.4 -1M392.6 466.9l2.1 -1.5 2.1 -0.7 2.2 -1.6 2.2 -0.9 2.1 -1 2.2 -1.1M433.5 457.1l-2.9 0.8 -1.5 1 -2.7 1.2 -2.4 0.9 -2.4 1.1 -2.6 1.1 -2.5 0.6 -2.1 0.8"/><path stroke="#5040c0" d="M221 311l-1 1.3 -1.3 0.1M297.1 250.2l-2.2 1.9 -3.5 1.5 -1.8 0.7M334.2 335.6l2.3 2.4 2.5 2.7M335.2 335.4l0.7 -2.5 1.3 -1.9 2.2 -1.9 0.4 -1.7 1.6 -2.4 1.1 -2.4 2.1 -2.4 0.9 -1.8 0.5 -0.9 1.8 -2.8 1.1 -2.1M377.9 297.2l-1.3 2.7 -1.6 1.4 -0.4 1.7 -1.2 2.6 -0.5 2.6 -1.7 1.4 -0.7 3.4 -0.3 2.2M392.7 300.7l-2.6 -0.5 -1.9 -0.6 -4.5 0.1 -1.5 -0.6 -2.7 -0.5 -2.4 -0.1M223.5 363l-1.8 -3 -0.5 -1.9 -1.5 -1.2 -1 -3.4 -1.4 -2.1M304.9 373.7l0.7 -2.8 0.4 -2.8 0.3 -2.4 1.3 -2.8 -0.3 -2.3 -0.6 -3.5M427.4 324.6l-1.7 -1.5 -2.5 -2 -2 -2.1 -1.3 -0.8 -3.2 -0.2 -2.4 -1.3 -1.9 -1.5 -2.2 -1.8 -2.2 -1.1 -2.6 -0.8M305.2 374.9l2.3 -0.3 3.3 0.6 2.7 0.6 3.1 -0.1 2.9 0.4M382.2 430.2l2.6 -0.7 2 -1.1 2.8 -0.1 2.9 -0.1M358.5 436.8l2.3 1.8 2.7 1.1 1.9 0.1 3.5 0.8 2.6 0.7 2.8 1.2 2 1.2"/><path stroke="#3a70ff" d="M407.4 279l1.2 -2.6 0.4 -2 2.1 -2 1 -1.6 0.4 -2.8 1.3 -2.2 0.8 -2.7 0.6 -1.7 1.3 -1.8 1.5 -2.2 1.4 -3.5 1.6 -0.6M272.2 374.2l2.4 -1.1 3.1 0.3 2.2 -1.8 3 -1 2.9 0M231.8 299.4l0.3 -2.7 0.5 -1.8 0.3 -2.5 1.1 -1.9 0.6 -3.8 2.1 -1.8 -0.1 -2.2 0.6 -2.6M397.3 244.7l1.2 2.1 1.5 1.2M406.4 278.9l0.4 -0.2M389 323.6l-1 2.2 -0.3 2.2 -1.1 2.5 -2 2.2 -1.1 2.1 -2.1 2.3 -0.6 1.9M368.4 338l-2.4 1 -2.1 2.3 -2 1.5M341 279.4l1.5 2.3 0.8 2.4 1.3 2 -0.1 3.1 1.6 1.5 1.2 2.7 0.9 2.5M385.9 274.5l-1.8 1.2 -1.9 2.2 -2 2.4 -1.5 2.4 -1.3 1.5 -1.6 1.8 -2.2 1.8M394.5 300.3l0.4 -2.3 1.9 -2.5 1.6 -2.4 1.3 -2.4 1 -2.1 1 -2.4 1.7 -2.4 1.6 -1.6 0.9 -2.6M339.3 418.6l-2.7 0 -2.7 -0.3 -2.6 0.8 -2.1 0.1 -1.8 1 -2.8 -0.2 -2.6 0.5 -2.4 0.7M-54 340l2.4 -0.6 2.5 0.2 2.2 0.7 2.6 -0.7 2.3 -0.5 2.9 -0.6 1.2 0.1 2.9 1.1 2.1 -0.4 3.2 0.1 2.2 0.5 2.5 0.6 2.2 0.1 1.9 -0.3 2.6 -0.5 2.3 0.5 3 -0.3 2.5 0 2.6 0.2 2.4 0.5 2.2 0.7 2 0.3 2.3 0.2 2.6 -0.5 3.1 0.1 2 0 2.9 0.1 0.3 -0.1 4.1 -0.5 2 0.5 3 0.2 2 1 2.4 -0.4 2.1 0 3 0.3 1.7 0.2 2.9 0.6 2.4 -0.2 2.9 -0.6 1.1 -0.5 3.7 1.3 1.3 0.4 2.8 0.1 2.8 0.5 2 -0.6 2.5 0.1 2.1 0.5 3 -0.1 2.6 -0.6 1.6 0.4 2.9 -0.1 2.2 0.2 2.6 0.5 2.1 -0.4 1.9 0.6 2.5 -0.3 2.3 -0.5 2.9 0.2 2.9 0.3 2.5 0.6 1.1 -0.4 3.3 1.2 3 0.1 2.4 -0.1 1.4 0.2 2.8 -0.2 2.8 0.9 1.6 0.3 2.7 -0.8 2.3 0 2.5 0.4 2.2 -0.3 2.6 0.2 1.8 0.2 3.2 0.5 2.1 -0.2 2.8 -0.1 2.5 -0.1 2.5 0.1 2 0.1 3 0.2 2.5 0.3 2 0.1 2.2 0.3 2.4 0.1 2.3 -0.4 2.7 -0.6 2.3 -0.2 3.3 -0.2 1.5 0.4 2.4 0.6 1.9 0.8 3 0.3 2.3 -0.6 2 0.6 3.1 1 2.9 -0.2 1.9 -0.3 2 0.1 2.5 -0.5 2.8 0.2 2 0.5 2 -0.2 2.9 0.7 2.6 0.8 1.8 -1 2.9 0.7 1.7 -0.5 2.8 -0.2 1.8 0.5 3.2 -0.7 2.6 0 2.1 1M288.6 372.9l-0.6 -2.8 1 -2.5 0 -2.5 -0.7 -2.4 -0.6 -2.4 0.7 -3.1 0 -1.7 0.8 -2.8M324.5 321.5l1 2.6 0.8 2.9 0.5 2 0.2 2.7M228.8 463.1l-2.5 -1.7 -1.7 -1.4 -3.3 -0.9 -1.9 -0.8 -1.9 -1.1 -3.1 -0.6 -2.4 -0.5M250.8 398.1l-0.7 2.7 -0.5 2.6 -1.2 2.8 -0.4 2.6 -1.6 2.7M287.6 397.5l-0.7 3.3 -0.5 2.5 0.3 2.6 0.8 3.1 0.4 2.1 0.1 3.1M421.9 348.8l0.4 2.6 1.6 2 0.4 2.3 0.5 3.9 0.3 2.2 1.8 2.7 -0.1 3.1 0.5 2.1M358.9 395.3l0.9 2.8 1.5 2.6 0.1 2.6 0.7 2.5 0.3 3 0.4 2 0.2 1.9 0.9 3M400.8 360.6l-1.7 -1.9 -2.8 -1.7 -1.9 -2.4 -1.7 -1 -2.8 -1.9M380.2 357.9l0.2 2.6 -0.3 3 -1.1 2.4 -0.3 2.4 -0.2 3 0 3M303.7 413.3l0.7 -2.5 0.6 -3.2 1.4 -2.1 0.7 -2.8 0.1 -1.5 1.6 -3.2 0.2 -2.2M308.4 395.2l-0.5 -0.3 0.5 1.2M325.4 459.8l-1.1 -2.6 -0.2 -2.7 -0.2 -2.7 0.1 -2.7 -0.7 -2.3 -0.2 -3.4 -0.3 -2.1 -0.5 -2.9M292.4 430.6l3 0.4 2.2 1.2 1.8 0.3 2.5 1 2.6 1.5 2 2 2.6 0.9M338.9 439.1l-1.9 -0.3 -2.7 -0.1 -3 0.8 -2.6 -0.4 -2.4 0.7 -2.5 0.3 -2.6 -1.1M299.9 351.7l0.7 -2.2 0.8 -1.8 1.4 -2.7 1.5 -2.4 0.7 -1.3 0.8 -3.1 1.1 -2M306.7 357.4l1.9 -0.1 2.9 -1 2.3 0.3 2.7 0.3 2.6 -0.6 2 -0.2M318.7 336.9l-2.7 -0.4 -2.6 0.1 -2.9 -0.5 -2.8 -1M213.9 411.3l1.1 -2.8 0.5 -2 1.3 -1.7 0.2 -1.8 1.3 -3M213.9 434.2l-2.1 0.1 -2.2 -0.4 -2.7 -0.6 -3 -1 -1.6 -0.4 -2.6 -0.5 -1.9 -0.8 -2.6 -0.1 -2.4 -1.3 -2.5 0 -2.3 -0.4 -2.2 -0.1 -1.9 -1.8 -3.4 -0.7 -1.7 -0.2 -2.6 -0.7 -1.4 -0.4 -3.3 -1.4 -2.5 0.1 -2.1 -0.4 -1.5 -0.7 -3 -0.3 -2.3 -1.3 -2.1 -1.1 -2.2 -0.3 -2.5 -1 -2.3 0.1 -2 -0.7 -2.4 -1.2 -2.2 -0.7 -2.4 -0.8M395.4 380.5l0.9 -2.7 2.2 -1.9 2.1 -2.9 1.7 -2.1M428.4 408.9l-3.2 0.1 -2.7 0.2M254.6 299l-2.2 1.9 -2.6 2.3 -2.4 1.4M253.1 288.1l-0.3 2.4 -0.7 2.7 0.5 2.5 0.3 2.9"/></g>
<g fill="none" stroke-linecap="round" stroke-linejoin="round" stroke-width="1.1" opacity="0.9"><path stroke="#d01a08" d="M-57.1 276.9l2.2 -1.2 2 -0.2 3.3 0.4 2.1 -0.6 2.1 -0.4 3 -0.4 1.9 0 2.6 -0.5 1.7 -0.4 3.7 -0.2 1.8 -0.3 2.8 -0.1 1.5 0.2 2.9 0.5 2.2 -0.9 3 -0.3 1.7 -0.3 3.3 0.3 1.8 -0.6 2.3 -0.1 2.9 -0.8 1.2 -0.5 3.6 0.1 1.7 0.3 2.2 -0.5 1.9 -0.4 3.9 -0.7 2.5 -0.6 0.9 0.3 2.9 0.3 2.7 -0.1 2.4 -0.5 2.1 -0.8 3.4 -0.3 1.8 -0.3 2.8 0.2 2 -0.3 3.3 -0.6 1.5 -0.6 2.3 0 2.2 -0.2 3 0.4 2 -0.2 2.4 -0.2 2.8 -0.1 1.5 0 2.5 -0.4 2.8 -0.2 2.4 -0.2 3.1 0 1.2 -0.3 3.8 -0.6 1.5 -0.6 3.2 0.9 1.8 -0.3 2.9 -1.2 1.1 0.3 3 -0.5 2.2 -0.3 2.4 0.8 3 -0.1 2.3 -0.8 1.9 -0.2 3.2 -0.8 2.1 0.1 1.5 -0.9 3.7 0.3 2 -0.2 2.4 -0.6 2.5 0.2 2.2 -0.7 2.2 -0.5 1.4 -0.6 3.4 -0.6 2.6 -0.2 2.3 -0.2 2.9 -0.2 1.8 -0.1 3.1 0.5 2.3 -0.9 1.4 -0.4 3.2 -0.4 2.2 -0.4 2.1 0.4 3.4 0 1.3 0.6 2.5 -0.4 2.4 -0.5 2.2 -0.1 2.7 -1 2.9 0 1.6 0.1 2.8 -0.8 2.6 0 1.3 0.5 3.5 -0.9 2.8 -0.8 1.9 0 2.3 -0.2 2.6 0 1.3 -0.7 3.5 -0.2 2 -0.1 2.8 0.3 2.2 -0.7 2.3 -0.3 2.6 -0.2 2.4 -0.1 2.1 -0.2 2.6 -0.5 3 0 1.6 1 2.6 -1M297.4 250.8l-1.6 1.3 -3.1 2.1 -2.6 1M269.3 -20.5l-1 2.5 0.2 1.5 0.1 3.6 0.6 2.3 0.2 2.3 0.1 2 0.1 3 -0.6 2.3 -0.3 1.8 -0.7 2.1 0.1 3.1 0.1 2.4 -0.3 2.8 -0.7 1.9 0 2.7 -0.3 2.7 -0.3 1.4 0.5 2.6 0.2 3.2 -0.8 2.5 -1.1 2.8 0.1 1.5 0.3 2 0.6 3.1 -0.8 2.2 0.2 2.1 0.3 2.5 -0.5 2.8 -0.5 2.3 0 2.6 -0.3 3.1 0.6 0.8 0.3 2.3 -0.4 3.1 -0.2 2.6 -0.2 2.1 -0.2 2.6 -0.7 3 0.4 1.5 0.1 2.3 -0.6 3.8 -0.4 2 0.5 1.6 0.4 2.7 -0.5 2 -0.2 3.1 0.6 2.2 -0.8 2 -0.1 2.3 0.8 3.3 -0.5 1.8 -0.1 2.5 -0.2 3.5 0 0.7 -0.9 4 0.1 1.8 -0.3 1.9 -0.9 2 -0.4 2.6 0.4 3.2 0.3 1.6 0.1 2.5 0.1 2.9 -0.8 2.3 0.2 1.9 -0.7 2.3 -0.3 2.4 -0.4 3 -0.4 1.8 -0.2 2.9 -0.1 2.3 -0.3 2.5 0.2 2 -0.3 2.7 -0.3 2.6 0.6 2.6 -0.2 2.4 -0.8 2.3 1 2.6 0 2.1 -0.4 2.7 -0.9 3 -0.8 1.9 0.9 1.3 0 3.2 0.1 2.4 -0.6 2.3 -0.5 2.5 -0.2 1.4 -0.8 4.1 0.4 1.6 -0.7 2.4 1.1 3 -0.4 1.8 0.4 2.8 -0.7 2.3 0.3 2.5 -0.4 2 0.3 3 -0.5 2.1 -0.5 2.1 0.3 1.7 -0.5 3.2 -0.2 2.7 -1.1 2.4 0 2.2 0.2 1.6 0.1 3.8 0 1 0 3.9 -1 1.4 0.4 2.1 -0.3 3.1M386.8 273.6l-1.6 -1.8 -1.4 -1.7 -0.9 -2 -1.8 -2 -1.7 -2.7 -0.2 -2.7 -1.3 -1.8 -1.1 -1.5 -1 -2.5 -1.8 -1.8M354 336.8l2.2 1.9 1.3 1.6 2.5 2.4 1.8 1.4M349.1 294.7l2.8 -0.3 1.9 -0.3 3.1 0.1 1.3 0.1 3.5 -1.3 2.1 -0.7 1.6 -1 3.4 -0.9 2 -1.1 2.1 -0.3M288.7 270.8l1.7 2.2 1.8 0.6 1.6 2.6 1.2 2.1 2 1.6M295.5 278.9l-1.8 2.6 -0.4 2.3 -2.1 2.3 -1.2 2.3 -0.9 2.5 -1.8 2.2M313.6 247.7l0.2 0.5 0.9 1M313.7 250.8l0.7 2 2 2.3 2 0.9 0.6 3.5 2 2 0.6 2 0 2.7 1.1 1.6 1.1 2.8 1.5 2.1 1.8 1.9 0.9 2.3M297 281.2l2.7 -1.1 3.6 0 2.9 -0.3M317.5 293.7l-2 2 -1.7 1.8 -2.2 2.3 -1.4 2.7M340.4 309.7l2.9 -1.4 2 -1M324.5 397.3l-0.8 2.2 -0.1 2.8 -0.9 1.8 -0.5 2.9 -0.3 2.5 0.3 1.8 -0.1 2.3 0 3.2 -0.6 3.3 0 1.1M240.9 381l1.2 0.3 3.6 -2 1.9 -0.6 2.6 -0.8 1.5 -1.6 2.7 -0.7M247.9 354.3l-2.4 2.2 -1.5 -0.2 -3 0.8 -3.3 1 -1.7 0.6 -2.4 0.9 -2.2 1.7 -2.2 1.1 -2.4 0.5 -2.8 0.8M253.8 378.4l3.2 0.7 2.1 -0.6 2 1.2 2.5 0.7 3.1 1.1M218.9 342.6l1.9 -1.9 2 -0.4 2.5 -1.4 1.6 -1.5 1.6 -1 2 -1.6 2.5 -0.9 2.4 -1.3M242.5 447.4l-1.5 1.8 -1.5 2 -1.9 1.6 -2.3 1.9 -1.3 1.8 -1.4 2.6 -1.1 2 -1.5 1.8M241 446.5l1.5 1.6 3.1 2.1 1.6 2.1 3 1.4 1.2 1.6 2.4 1.1 1.5 0.8 2.3 2.8M303.7 730.2l0 -2.2 -0.3 -3.2 -0.3 -2 -0.2 -2.4 0.7 -2.2 0.5 -2 -0.3 -2.6 -0.3 -2 -0.1 -3.5 -0.7 -1.9 -0.4 -2.7 0.6 -1.4 -0.7 -3.5 -0.6 -2.7 0 -1.8 1.2 -2.3 -0.1 -2.5 -0.1 -2.2 -0.6 -3 0 -1.8 0.9 -2.6 -0.1 -2.5 -0.4 -2.8 0.1 -2.2 -0.3 -2.7 -0.4 -0.9 -0.3 -3.4 0.2 -2.5 0.1 -2.9 -0.3 -1.6 -0.2 -2.1 0.9 -2.3 -0.6 -3.2 -0.5 -2.5 -0.4 -2.2 -0.2 -2.1 0.3 -1.8 0.4 -2.2 0.1 -3.2 -0.8 -1.9 -0.8 -2.9 0.6 -2.8 -0.4 -1.9 -0.2 -3 0.1 -1.9 -0.5 -2.2 0.7 -2.7 -0.7 -2.4 -1 -1.6 -0.4 -3.3 0.5 -2.4 0.6 -2.7 0.1 -1.6 -0.6 -2.7 0 -2.8 0.2 -1.7 -0.7 -2.7 0 -2.2 0.2 -2.6 -0.3 -2.7 0.5 -1.9 -0.4 -2.9 -0.2 -2.2 0.1 -2.7 -1.1 -2.2 0 -2.5 0.7 -2.3 0.3 -2.8 -0.8 -2.7 0.5 -1.8 0 -2.2 -0.2 -2.2 0.1 -2.5 0.1 -2.9 -0.3 -1.7 -0.5 -3 -0.2 -2.6 0.1 -1.4 0.4 -2.7 -0.1 -2.8 -0.7 -2.7 -0.2 -2.3 0.1 -2.9 -0.1 -2.3 0.1 -1.7 0.5 -2.5 -1 -2.7 -0.2 -2.2 -0.6 -2.5 0.7 -2 0.1 -2.1 0.2 -3 -0.5 -2.3 -0.6 -2.1 0 -2.5 0.4 -2.4 0.5 -2.4 -0.7 -2.2 -0.2 -2.9 -0.3 -1.4 0 -3 0.1 -2.6 0.2 -2.9 0 -2.8 -0.9 -1.9 -0.7 -1.7 0.1 -3.3 -0.1 -1.8 -0.3 -2.5 0.6 -1.9 -0.3 -3.8 -0.4 -1.5M263.1 439l-1.8 -1.7 -3.2 -1.1 -1.2 -1.4 -2 -0.9M378.8 392.4l-1.9 0.3 -3.1 -0.2 -2.5 0.2 -2.1 0.7 -3.4 -0.2 -1.5 -0.2 -3.1 0.8 -2.2 -0.3M429.8 333.6l-2.2 2.3 -1.8 2.3 -1 2 -1.5 2.6M305 373.7l0.3 0.3M262.8 352.9l1.5 -2.8 -0.4 -2.6 0.1 -2.9 0.1 -3 0.3 -2.6 -0.2 -2.7M278.2 330.5l-2.8 1.1 -2.5 0 -2.5 0.1 -2.6 2.5 -2.4 0.6M406.5 314.3l2.2 -2.4 0.9 -1.2 2.3 -2.6 1.4 -2.2 0.9 -1.3 2.3 -1.9 2.2 -2.5M432.4 457.5l-0.1 -2.6 -1.2 -3.1 -1.3 -2.1 -1.5 -2.6 -0.3 -2 -1.1 -2.6 -1.1 -3.1 -0.4 -2.4M422.3 408.8l-1.9 1.9 -2 1.2 -2.6 1.9 -1.9 1.5 -1.2 2M367 459.2l2.2 -1.6 1.9 -1.2 2.8 -0.6 1.4 -1.6M413.7 463.3l-2.2 -0.7 -2.9 -1.1 -1.7 -0.7 -2.5 -1"/><path stroke="#30f0e0" d="M184.2 -5.2l0.3 2.7 0 2.4 -0.2 2.6 0.5 2.7 0 1.5 0.4 2.5 0 2.3 0 2.8 0.4 2.1 0.2 2.8 -0.3 1.7 0.3 3 1.2 2.2 -0.6 2.1 1 1.6 0.3 3.2 0.4 2.8 0.7 1.9 -0.6 3.2 0.6 1 0.2 3.3 0.2 1.8 0.1 2.5 0.9 2.3 0.3 2.7 0.8 2.5 -0.7 1.7 0.2 2.7 1.7 2.6 0.4 2.2 0 1.4 0.5 3.8 -0.5 1.6 0 3.3 -0.3 3 -0.1 2.1 0.3 1.9 1.3 2.2 -0.1 2.8 0.6 1.1 0.8 2.5 0 2.6 0.8 2.7 0.2 2.6 -0.2 2.5 -0.3 2.1 0.5 3.8 0.1 1 0.5 2.5 0.7 3 -0.6 1.8 1.1 2.9 -0.2 2 0.1 2.3 0 2.5 0.6 2.6 1 2.1 0.3 2.7 0.4 1.2 0.7 3.3 0.1 2.4 -0.4 2.7 0.1 2.1 0.9 2.2 0.4 2 0.2 2.6 0.7 2.1 1 3.4 0.1 1.4 1 2.5 -0.3 2.7 0.2 1.8 -1 2.8 0.3 2.6 0.6 2.9 0.1 2.2 -0.2 2.4 0.5 1.6 0.2 2.8 1.2 2.6 -0.5 2.6 0.4 2.6 0.1 1.4 0.6 3 0.5 1.7 1 3.3 -0.3 1.5 -0.3 2.8 0.9 2 0.1 3.1 0 1.9 1.6 1.9 -0.2 2.5 0.7 2.2 1.1 3.4 0.5 1.3 -0.5 3.2 -0.6 1.9 0.5 3.5 0.5 1.7 0.4 1.5 0.5 2.7 -0.3 3.2 -0.8 1.8 1 2.9 0.6 1.7 0.4 2.8M-21.1 298.6l3.4 0.2 1.7 0.1 2.2 0.5 1.7 0.3 2.3 0.8 2.6 0.6 2.2 0 3.7 0.4 1.1 0.3 2.9 -0.1 2.2 0.1 2.2 0.9 3 -0.3 2.4 0.4 2.6 0.5 1.8 0.8 2.9 0.3 2 0.3 1.6 0.4 2.9 0.6 2.3 0.2 2.7 0.9 2.3 -0.9 3 -0.1 1.8 1.4 2.3 0.3 1.4 1 3.8 -0.5 1.9 0.5 2.6 0.3 2.3 0.5 2.9 0.1 2.5 0.7 1.7 0.1 2.7 0.7 2.1 -0.1 2.7 1 1.9 0 3.2 0.1 2.1 0.5 2.1 0.5 3 -0.8 0.9 1.1 3.9 0.4 1.6 0.9 2.7 -0.5 2.7 0.8 1.8 0.7 2.8 -0.5 1.9 0.4 2.3 0.4 2.7 0.1 2 0 2.7 0.7 2.9 1.1 2.6 0.4 2.1 0.4 1.4 0.9 2.9 -0.2 3.4 -0.9 1.9 -0.2 2.9 0.4 1.7 -0.3 2.7 0.5 2.6 0.3 2.7 0.5 1.6 0.2 2.1 0.9 2 0.5 3.1 0.4 1.7 1.4 2.7 0.3 2.6 0.3 2.3 0.3 1.9 0.5 3.3 0.2 2.7 0.3 1.2 -1 3.1 0.7 2.6 0.6 1.3 0.1 2.4 0.5 3.3 0.5 2.5 0.2 1.9 0.4 2 0.7 2.7 0.5 3.2 -0.4 2.1 0 2.4 0.3 1.6 0.5 3.4 -0.3 2.4 0.7 1.4 0.3 3.4 0.8 2 0.6 2.1 0.9 2.4 0.5M220 310l-1.1 0.3 -0.6 1.6M269.8 393.2l-0.3 -2.9 0.1 -2 -1.6 -3.1 -0.6 -2.5 0 -2.5M282.2 185.2l0 3 1.1 1.8 -0.6 2.3 0.4 3.2 1.9 2.2 -0.2 1.5 0.9 2.2 1.6 3 0.8 2.4 -0.1 2.2 0.3 3 0.3 1.8 1 3 0.2 1.8 0.9 2.8 1.1 2.2 0.3 2.3 0.6 2.7 1.2 2.4 0.3 2.7 0.5 2.5 0.6 1.8 0.7 2.5 0.6 2.4 -0.3 1.9 0.3 4.1 0.3 1.7M216 251.9l0.9 3.4 1.3 2.7 0.7 2.7M212.1 273.4l1.4 -2 1.3 -2.6 1.3 -2.3 0.5 -3.5 0.9 -2.9M214.7 249.2l1.1 1.8 1 0.5M259.6 258.6l-2.3 -1.5 -2.9 -0.5M399.7 274.7l-1 -2.5 0.3 -2.8 -0.1 -2.2 0.1 -3.2 -0.1 -1.5 0.1 -2.7 -0.1 -2.5 -0.2 -2.7 -0.4 -2.4 0.9 -2.3M374 254.3l-2.1 -0.9 -2.2 -1.1 -2.1 -0.9 -2.8 0.2 -2.5 -1.3 -2.2 -1.2 -2 -1.1 -2.6 0 -2.3 -0.6M368.5 338.9l2.8 0.7 3.2 -0.4 2.8 -0.9 2.4 0.6 2.7 0.5M342.2 278.5l2.2 -1.7 2.4 -0.8 2.2 -1.8 1.6 -1.4 1.1 -0.7 2.8 -2.5M225.1 362.2l-1.4 -2.4 -1 -2 -1.5 -2.5 -1.6 -2.4 -1.1 -2.1M236.3 433.8l-1.9 1 -2.4 0.9 -2.3 1.2 -3.3 0.9 -3.3 0 -1.7 0.4 -2.2 0.9 -2.5 1.4M228.6 398.9l1.4 1.7 1 2.2 2.8 2.2 1 1.5 1.9 2 1.5 1.2 2.1 2 1.6 1.4M291.9 429.4l-2.2 2.2 -1.3 2.6 -1.9 3.1M338.6 438.9l2.2 2.2 1.7 1.6 1.3 2.8 2.1 2.1M360.1 420.6l0.5 2.6 -0.2 2.3 -0.3 3.7 -0.7 2.3 0.5 2.3 0.8 2.4M400.3 361.1l-2.5 -1.4 -1.8 -2.4 -2.2 -2.1 -1.5 -1.5 -2.2 -2.3M362.3 354.2l0 0M320.3 394l-3.1 1.3 -3.2 0.9 -2.6 0.1 -2.7 0.1M315 464.4l3.1 -1.7 2.3 -1 2.7 -2M319.5 421l-1.3 2.7 0.4 1.6 -0.6 2.3 -0.5 3.2 0.2 2.4 -0.2 2.3M287.9 352.2l0 -2.8 -1.1 -2.4 -0.3 -2.1 0.2 -3.3 0.4 -1.9 -0.8 -2 -0.8 -2.7M216.2 417.1l-0.5 -1.9 -1.5 -2.6 -1.6 -2M217.5 372.4l-0.9 1.6 -1.5 3 0.8 2.4 -1.1 2.5 -0.2 1.5 -0.7 2.5 -1.5 2.6M422 409.5l-1.7 -2.4 -2.3 -2.4 -1.4 -0.8 -1.7 -2.7 -2.7 -1.6 -2.4 -1.9 -1.5 -1.6M342.5 375.7l-0.4 -3.2 -0.7 -1.8 -0.8 -2.5 -1.2 -2.2 -1.3 -2.3 0.1 -1.5 0.1 -2.7 -1.4 -2.4M324.5 358.6l2.1 -0.2 2.6 0 2.6 0.2 2.3 -1.2 2.4 0.8M278.1 315l-2.5 -1.8 -2.5 -1.5 -1.5 -1.6M376.7 442.9l-0.3 3 1.3 2.8M433.7 457.8l-2.2 0.9 -2.1 1.2 -2.5 0.1 -2.9 1.2 -2.9 0.5 -1.8 0.4 -2.8 1.4 -2.3 0.3"/><path stroke="#ffd820" d="M338.4 250.9l-2.4 -2.6 -1.6 -2.3 -2.2 -1.3M433.2 270.9l-1.3 -3 0 -1.3 -1.4 -2.7 0.2 -2.9 -1 -2.7 -0.7 -3 -0.3 -2.1M-50.2 295.8l2.2 0 2.3 -0.2 1.8 -0.7 3.2 -0.8 1.9 0.3 2.6 0.1 2.4 0.2 3.2 -0.1 1.9 -0.3 1.9 -0.4 3 -1.5 1.5 0.6 3 -0.8 2.2 -0.4 2.5 0.6 3.1 -0.2 1.9 -0.7 3.1 0.7 1.2 -0.2 3 -0.6 2.5 0.2 2.1 0.3 2.9 -1.1 2 0.3 1.4 -0.6 3.3 -0.4 2.6 -0.2 2.1 0.1 2.2 0.4 2.4 -1.2 3.3 0.1 1.7 -0.2 2.1 0.3 3 0.1 1.9 -0.6 2.5 -1.3 2.8 0.5 2.7 0.2 2.1 0.2 1.3 -0.5 3.3 0.1 3 -0.5 1.8 -0.3 2.5 -0.3 2.5 0 2.4 0.1 2.4 -0.8 2 -0.6 3.4 -0.2 1.3 0.1 2.6 -0.1 2 -0.6 3 0.3 2.7 -0.4 2.2 -0.5 2.6 -0.1 2.1 0.3 2.8 -0.1 2.6 -0.5 1.6 -0.2 2.7 -0.3 1.6 -0.3 2.5 0.4 2.1 0.1 2.8 -0.1 2.3 0 2.6 -0.4 2.7 -0.2 3 -0.1 1.9 -0.7 3.2 0 1.8 0 2 -0.3 1.4 -0.6 3.6 -0.6 2.2 -0.6 2.5 0.6 2.4 0 1.9 0.3 3 0.1 2.3 -0.3 2.3 -0.5 2.9 0.3 1.6 -1.1 1.9 0.7 3 -0.4 3.1 -0.5 1.5 -0.7 2.5 -0.2 2.5 0.1 2.4 -0.3 2.6 0 2.2 -0.5 1.8 -0.8 2.6 0.3 2.6 -0.2 2.2 0.3 3.9 -0.3 1.3 -0.3 1.8 -0.4 3.5 0 2.7 0.5 1.8 -0.8 2.4 0 2.7 0.6 2.1 -0.9 2.1 0.8 2.2 -1.8 2.3 0.6 2.8 -0.5M427.3 253.2l-4.2 0 -2.6 0.1M408.5 279.6l0.2 -2.4 1.4 -2.3 0.3 -2.3 0.8 -1.7 1.4 -2.5 2 -3 1.1 -0.6 1 -3.8 0.8 -1.3 1.5 -1.7 0.9 -3 1.7 -1.4M268 381.1l0.8 -1.9 2.2 -2.7 1.6 -1.2M272.4 375l2.4 -0.9 3.7 -0.3 2.5 -0.7 2 -0.2 3 -0.8M280.3 185.1l-0.7 2.2 0.9 2.9 0 2.6 -0.5 1.3 -0.7 3.5 0.5 2.5 -0.3 2.1 -0.8 2.8 -0.1 2.4 -0.5 1.8 -0.1 3.3 -1.7 1.9 0.3 2.8 -0.6 3.2 -0.7 1.9 0.2 2.4 0.5 0.8 -0.1 3.3 -0.6 2.4 0.4 3.3 -1 1.9 -0.5 2.2 -0.3 2.5 -0.4 2.7 -0.9 2.5 0.3 2.1 -0.2 2.6M231.6 245.6l2.2 1.2 1.7 0.6 1.9 1.3 3.1 1.1 2.1 0.6 2.1 0.3 2.3 1 1.8 0.4 3.1 1.5M241.5 280.8l-0.6 -3.1 0.3 -2.9 -0.5 -2.4 -0.2 -3.2M260.4 257.3l0.3 2.2 2.1 2.5 0.7 2.6 0.6 2.7 0.7 1.9 1 3.1 0 2.2 0.9 2.7M351.7 315.1l-0.2 3.1 0.5 2 -0.7 2.2 1.9 2.8 -0.2 2.6 -0.7 2.3 -0.4 1.8 0.1 3.1 -0.4 2.9M354.6 269.2l2.5 -0.1 2.3 0.1M336.9 251.1l-0.1 2.5 -1.2 3 -1.2 2.1 -0.8 1.9 -0.2 2.8 0.1 2.4 -0.3 2.8 -1.4 1.8 -0.9 3.1 -0.5 2.3M385.3 273.9l-2 2.1 -1 1.2 -2.8 2.7 -0.8 1.8 -2.5 2.4 -1.1 1.4 -1.9 1.9M393.1 299.5l1.8 -2.8 0.4 -1.6 2.2 -1.8 1 -2.3 2.1 -2.2 1.5 -2.4 1.6 -2.5 0.9 -2.6 1.1 -1.8M271 276.6l1 2.4 0.1 2.2 1.6 1.9 1.6 1.9 1 2.6 1 2 0.9 2.7M297.2 251.1l2.6 1.1 3.5 0.2 2.9 -0.3M272.4 375l-1.3 -2.5 -0.2 -2.1 -1 -2.6 -0.7 -2.6 -0.5 -2.7 -0.4 -3.2 -1.1 -2.2 0.8 -2.7M287.9 352.3l-2.4 0.9 -2.7 0.7 -1.5 0.1 -3.3 0.3 -3.5 0.2 -1.5 -0.6 -3.2 1.4 -2.4 0.9M235 320.7l-0.4 2.4 0.1 2.3 0.8 2.6 0 2.9 -0.2 2.3M339.8 306.8l-1.9 1.1 -2.1 1.9 -1.6 1.5 -1.5 1.5 -2.2 1.3 -1.5 1.7 -2.5 2 -1.6 0.7 -2.3 1.4M241.8 446.3l-0.1 -3.1 -0.7 -2.7 0.1 -2.4M217.3 440.3l-0.8 2.6 -0.5 2 -1.1 3.5 -0.4 1.9 -1.2 2.9 -0.2 2.9M232.5 466.7l-1.2 -2.7 -1.4 -2.3M267.7 393.3l-0.1 -0.7 0.9 0.2M234.6 420.6l0.6 2.2 0.1 2.7 0.5 2.7 0.9 4 -0.1 1.9M286.8 436.8l-0.1 2.3 -0.4 2.8 0.6 2.6 0.4 2.6 -0.6 3.3 -0.1 2.9 -0.1 1.4 -0.6 3M267.9 393.9l-0.6 2.3 0 2.2 -0.2 2.9 -0.4 2.4 -0.9 2.6 -0.2 2.6 0.2 2.9 -0.6 2.5M365.3 414l3.4 0.6 2.4 1.5M404.8 336.6l2.3 0.3 3 1.2 1.9 0.8 3.1 1.5 2.3 0 3.1 0.8 1.9 2.7M396.9 320.9l1.4 1.4 2.1 2.6 1.2 3.6 0.4 2.4 1.1 2.8 1.5 1.9M363.9 354.3l-0.2 2.4 -0.3 3 0 1.8 -1.1 2.3 -0.4 2.7 0.5 2.8 -1 1.6 -0.4 2.5 0 2.6M351.8 389.2l0.4 -2.5 0.3 -2.8M322.6 396.9l-0.9 -1.6 -0.3 -1.2M307.1 373.7l0.2 1.3 0.6 3.2 -0.7 2.3 0.3 3.1 0.7 1.9 -0.1 2.3 0.6 1.7 0.6 3.7 -0.5 2.1M246.4 338.1l2.6 -1.4 1.7 -1.4 2.3 -0.7 2.4 -1.8 2 -1.9M308.4 336l-2.1 -1.9 -1.7 -2.5 -1.3 -3M294.7 305.1l-0.6 2 -0.2 3.9M228.5 399.5l-2.9 0.6 -2.1 0.8 -2.1 -0.6 -3.3 0.8M386.1 381.1l2.9 -0.5 2.7 -0.5 2.8 -0.2M393.7 380.3l1.6 2.3 0.8 1.9 1.1 2.3 1.6 2.9 0.4 1.8 1.3 2 1.8 2.4M322.1 380.9l-0.9 -2 -1.7 -3.3M362.3 354.2l-2.4 0.4 -2.9 0 -1.9 0.8 -2.8 -0.1 -3.2 -0.5 -2.4 0.6 -1.3 0.2 -3.2 -0.2 -2.3 0.9 -3 0.7M424.4 436.8l-2.2 -1 -2.4 -0.9 -2.3 -0.3 -2.5 -0.4M382.2 430.5l2.7 -0.8 2.6 -0.5 3.3 0 1.6 -1.1M393.7 425.2l0.8 2.5 2.4 1.6 1.7 3 1.5 0.7 1.7 1.8 1.5 2 1.8 1.6M399.9 414.9l-1.8 2.9 -0.3 2.2 -1.5 2.3 -1.4 2.7 -1.3 2.6M413.5 462.9l0.3 2.3 -0.7 2.7 -0.7 2.4 -0.7 2.1 0.5 2.5 0.1 2.6 -0.3 2 -0.5 2.7 0.4 2.4 -0.9 3.2 1 1.4 -0.5 2.6 -2 3.5 0.4 1.1 0.3 3.1 -0.1 2.2 -1.2 2.2 -0.4 2.7 -0.1 2.5 -1.3 2.3 0.5 1.9 0.1 2.1 0 2.9 -0.8 1.7 -0.1 2.8 -0.1 2.5 0.5 2.3 -0.5 2.1 0.1 3 0.2 2.7 -1 2.1 -0.8 3.5 0.8 1.4 -0.3 2.7 -0.3 1.8 1.1 2.4 -1.1 2.4 -0.5 2.7 -0.8 2.1 -0.6 2.5 -0.4 2.5 -0.2 2.6 -0.4 2.3 0.5 2.3 -1 2.6 -0.3 2.2 1 2.5 -0.9 2.4 0.1 1.7 -0.1 3 -0.8 3.5 -0.7 2.1 -0.1 1.5 0.1 2.2 -1.6 2.6 -0.3 2.4 1.3 2.8 -0.6 2.3 -0.7 2.2 -0.4 2.9 0.1 1.8 0.3 2.8 0.4 2.3 -0.1 2.4 -0.6 2.7 -0.5 2.2 0.1 2.1 0.6 2.9 -0.8 2.1 0.3 2.7"/><path stroke="#ff8a20" d="M338 251.3l3.1 0 2.9 -0.7 1.9 0.5M-20.9 296.1l2.2 -0.4 2.2 0.6 2.6 -0.2 2.7 0.4 2.6 1.2 1.7 -0.4 2.9 0 2.7 -0.9 2.1 0.7 3 0.4 1.1 0.3 3.4 0.7 1.7 0.5 2.7 -0.7 3 0.1 2.2 0.3 2.2 0.9 2.7 0.3 1.6 0.5 2.9 -0.2 1.7 -0.3 2.6 0.6 2.6 0.2 2.6 -0.4 2.4 -0.3 2.5 0.1 2 -0.4 2.9 0.3 2.3 0.6 2.4 0.5 2 0.7 1.9 0.2 3.4 -0.5 2.1 -0.7 2.9 0.2 1.5 0.6 2.8 -0.1 2.2 0.4 2.8 0.9 2 0.6 2.8 -0.2 2.3 0.2 1.8 0.5 2.5 -0.3 2.5 -0.2 2.5 0 2.3 0.3 2.8 0.7 2.4 -0.3 1.9 -0.4 2.7 -0.7 3 1.1 1.4 -0.3 2.4 -0.1 3.5 1.3 1.5 -0.3 2.8 0.1 1.8 -0.3 3 0.6 2.5 -0.2 1.9 0 2.4 0.4 3.2 -0.1 2.3 1.2 1.6 -0.1 3 -0.7 1.6 0.6 2.8 1.1 2.1 -0.7 3 -0.4 1.5 0.3 3.5 0.7 1.9 0.2 3 0.4 2.6 0.4 2.4 0.3 1.3 -0.6 2.7 -0.1 3 -0.1 2.2 0.6 2.2 -0.6 2.9 0 1.8 0.8 3.1 0.2 1.6 0.1 2.2 0.9 2.5 0.2 3.4 1 1.2 -0.3 3.2 0 1.7 0.7 3.1 -0.2 1.4 0.2 3.4 -0.5 2 0.4 2.9 0.1 1.9 -0.1 2.3 -0.1 2.2 -0.1 2.7 0.3M273.2 251.6l2.2 0.5 2.7 0.3 3.1 1.6 2.9 1.1 2.9 0.1 2.4 1.1M239.4 270l-2.3 -1.2 -2 -0.6 -1.7 -1.7 -3.6 -0.1 -2.2 -0.8 -1.9 -0.5 -2.8 -0.8 -1.6 -1.5 -2.7 -1.5M406.4 278.9l0.4 -0.2M368.5 316.1l0.3 2.5 0.3 2.6 -0.6 2 -0.5 2.2 0.2 3.5 0.2 1.8 -0.2 2.9 -0.8 1.9 0.7 2.8M336.9 333.7l1.6 3.8 1.6 2.4M343.4 278.4l0.1 2.4 1.2 2.6 0.9 2.7 0.7 2.2 0.7 2.6 1.1 2 0.9 2.6M345.2 252.4l0.8 2.1 2.2 2.1 1.2 1.2 0.5 3.6 0.7 1.4 0.8 2.5 2.4 2.2 0.6 2.5M376.9 297.2l-1.6 -1.3 -1.5 -2.9 -1 -2.6 -1.2 -1.4M376.1 296.5l-0.5 3.2 -0.5 1.3 -1.7 3 -1.6 1.2 -0.6 2.9 -0.5 2.3 -0.7 2.2 0 2.5M277.5 293l2.5 0.4 2.4 0.4 3.3 -0.2 2.2 0.2M304.7 252.1l0.6 2.9 0.1 2.3 0.4 2.6 0.5 1.9 0.1 3.2 -0.7 2.5 -0.7 1.8 1.1 2.8 0.5 2.2 -1 3 -0.1 2M306.4 252.7l3.7 -1.1 3.3 -0.3M309.8 -19.5l0.2 2.2 1.4 2.7 -0.5 2.1 0.1 2.7 -1 2.5 0.6 1.6 0 2.5 0.5 2.8 0.7 2.9 -0.7 1.9 -0.6 1.9 0.2 3.6 0.2 1.5 -0.1 2.9 -0.5 2.8 -0.2 1.7 0.3 2.1 0.1 3.2 -0.1 2.6 0.6 1.3 -0.7 3.4 0.6 2.8 0.2 1.4 -1.2 2.4 0.5 2.5 0.2 2.5 0.2 2.4 0.2 2.9 -0.9 2.4 1 1.5 0.3 3.4 -0.4 2.5 0.2 1.8 0.1 3 -0.5 1.9 1 2.8 -0.4 1.7 0.7 2 -0.8 2.9 0.4 2 -0.2 3.1 0.2 1.8 0.3 2.8 -0.5 1.6 -0.4 3.4 0.4 2 0.4 2.7 -0.7 2.9 0 2.7 0.3 1.9 0.6 2.4 0.5 2.5 -0.5 2.6 -0.1 2.6 0.1 1.4 -0.3 2.9 0.4 2.5 -0.5 2.3 -0.1 1.6 0.4 2.5 0.2 2.6 0.9 2.9 -0.8 1.4 -0.5 2.9 0 3.2 0.4 2.5 0.2 1.4 -0.3 2.4 0 2.6 0 2.9 0 2.3 0.1 1.9 -0.2 3 -0.5 2.5 -0.2 2.5 0.3 1.9 0.3 2.2 0.1 2.4 0.5 2.4 -0.2 2.7 -0.1 2.9 1.2 2.1 -0.1 1.9 -0.1 2.3 0.1 3.2 -0.6 2.2 0 2.7 -0.4 1.8 0.9 3 -0.2 2 0.3 3.2 0.4 1.6 -0.1 2.4 -0.2 2.5 -0.4 3 -0.8 1.8 0.8 1.8 0.3 2.7 -0.2 3.1 0.2 2.1 0.8 2.6 -0.6 2.1 0.2 2.9 -0.2 1.9 -0.2 1.9 0.1 3.2 0 2.4 0.4 2.2 0.1 2.3 -0.3 2 -0.2 4.6 0.8 0.7M331.4 274.9l-2.4 0.3 -1.6 0.6M338.8 416.4l-2.3 0.6 -3.3 0.7 -2.3 0.7 -2.2 0.2 -2.6 0.3 -1.5 1.1 -2.4 0 -2.9 0M216.9 372.2l2.7 -2.3 1.8 -2.3 2 -2.2M287.8 372.9l0.1 -2.3 0.6 -2.8 -0.7 -2.9 0.8 -2.3 -0.2 -2.7 -0.2 -2.4 0.6 -2.3 -0.1 -2.5M335.1 334.6l-2.3 -1.1 -3.9 -1.8 -1.9 -0.6M254.5 463.7l2.3 -1.9 2.5 -3.4M275 460.1l-0.7 3.2 0.3 1.2 -0.7 2.5 0.2 2.5 -0.9 2.7 -0.4 2.5 -1 1.5 -0.2 3.1 -1 2.3 0.1 2.2 -0.7 2.8 -0.8 2.1 0.5 2 -1 3.1 -0.3 2.4 -0.5 0.9 0 3.9 -0.5 1.1 -0.7 3.7 0.1 1.6 -0.5 2.5 -0.6 2.1 -1.4 2.5 0.4 2.7 -0.3 1.6 -0.9 2.8 -0.8 2.2 -0.4 2.6 -0.3 2.5 -0.2 1.8 -0.9 2.7M285.8 456.9l-2.7 0.7 -2.3 0.3 -1.7 1.1 -3.3 0.4M248.2 397.4l-0.2 2.7 -0.8 2.7 0.2 2.9 -1.5 3.1 -0.8 2.4M251.5 397.1l-1.7 -2.4 -1.1 -1.8 -2.5 -2.5 -1.8 -2 -0.9 -2.8 -1.4 -1.9M241 381.7l-0.5 2.1 -0.8 0.5M268.7 395.2l-2.5 0.4 -2.9 1 -1.9 0.3 -3.4 0.2 -2.4 0.6 -2.5 0.5 -2.5 1.4M235.2 420.4l-2.9 -1.1 -1.7 -0.9 -3.8 0.1 -2.3 -0.6 -2.4 0 -2.3 -0.2 -3.2 -1.2M214.9 440.8l-0.3 -2.6 -1.1 -4M255.7 434.4l-0.1 -2.4 -0.2 -2.9 0.6 -2.4 -1 -2.6 0.8 -2.9 -0.8 -2.7 -0.1 -2.2M265.8 414.9l3 1.6 1.9 0.9M292.2 417.7l-2.3 -2.1 -1.9 -1.9M292.3 418.1l0.3 2.7 -0.3 2 0.2 2.8 0.6 2.4 0.5 2.1M287.4 413.1l-2.2 0.8 -2.8 -0.1 -2.5 0.8 -1.9 0.7 -2.7 -0.2 -2.4 0.7 -2.3 0.5M398.3 319.6l1.5 -2.6 0.7 -2 1.9 -2M486.5 359.2l-2.4 0.4 -2.1 0.9 -3.1 0.5 -1.9 0.8 -2.1 1.2 -2.3 -0.3 -2.6 -0.3 -2.7 0.9 -2.7 0.2 -2.7 -0.1 -1.5 0.4 -3.7 0 -1.9 0.2 -3.1 0.4 -1.7 -0.2 -2.9 0.3 -1.7 0.8 -2.4 1.1 -2.2 0.7 -2.3 -0.1 -2.4 0.4 -3.4 -0.1 -2 0 -2.8 0.4M342.6 422.7l2.7 -0.5 2.8 0.2 2.6 0.5 2.3 -0.1 2.8 -0.1 2.9 -1.1M342.8 420.4l-1.5 -1.6 -2.7 -1.4M338.7 399.2l2.3 -1.7 1.2 -1.7 2.9 -0.4 1.5 -1.5 2.2 -1.5 1.3 -2.3 2.6 -0.9M351.2 390.6l1.8 2.1 3 1.7 1.8 2.2M391.6 350.7l-0.1 0.2 0.1 0.5M362.3 354l2.6 1.2 2.5 1.5 3 0.2 2.2 -0.1 2.9 0.3 1.8 0.4 2.9 0.8M361.3 343.3l-0.5 2.9 0.4 2.6 0.2 2.7 -0.3 2.7M385.8 380.8l-1.6 -2.4 -1.9 -2 -1.3 -1.1 -2.1 -1.6M388 381.5l-1.5 1.9 -0.6 2.5 -0.9 2.1 -2.4 1.8 -1.6 1 -1.3 2.8M305.1 413.7l1.1 -2.8 0.1 -1.7 0.6 -3.1 0.7 -2.3 1.1 -2.3 0.4 -3.5 0.3 -2.1M290.4 375.5l2.7 0.6 1.2 -1.5 2.8 0 3 -0.7 3 -0.5 1.8 -0.2M353.4 731.8l0.1 -2 0.9 -2.7 -0.6 -3.5 -0.4 -1.6 0.6 -2.4 -1.3 -1.6 0.9 -3.7 0 -1.1 -0.5 -3.5 0 -2.6 0.1 -1.7 0 -2.6 -0.3 -1.7 1.2 -3.2 -0.2 -2.3 0.4 -2.9 -0.5 -2.8 -0.5 -1.9 -0.2 -2 0.3 -2.8 0.6 -2.6 0.2 -2.2 0.1 -2.4 0.2 -2.2 0.4 -2.6 -0.2 -2.5 0 -2.1 0.7 -2.9 -1.7 -2.4 -0.2 -2.3 0.2 -2 0.1 -2.4 -0.1 -2 0.4 -2.5 -0.5 -3.4 0.1 -2 0 -2.3 0 -2 -1 -2.5 -0.1 -2.4 0.9 -3.1 0.1 -1.9 0.5 -3 0.1 -1.6 0.2 -3.3 -0.1 -1 0.2 -3.5 0.4 -2.4 -0.9 -2.7 -0.2 -2.9 0 -1.4 0.3 -2.2 0.3 -2.3 -0.3 -3.6 0 -2 0 -2.1 0 -2.5 0.1 -1.9 0.5 -2.6 -0.3 -2.7 -0.7 -3.2 -0.6 -1.5 0.1 -2.3 0.3 -2.5 -0.2 -3.3 0 -1.4 0.2 -2.9 0.6 -2.2 0.7 -2.3 -0.4 -1.9 -0.2 -2.8 0.5 -2.6 -0.3 -2.1 0.4 -3.3 0 -1.8 0.1 -2.8 -0.9 -1.8 0 -2.8 0.6 -2.5 -0.5 -3 0 -2 0 -2.8 0.3 -2.2 -0.1 -1.7 0 -2.4 0.7 -2.9 0 -1.7 -0.4 -3 -0.7 -2.6 0.5 -2.2 -0.3 -2.9 0.8 -1.5 0.1 -2.9 0 -2.5 0.1 -2.7 0.1 -2.6 -0.7 -1.5 -0.2 -2.5 0.6 -2.3 0.9 -2.9 -0.1 -2.2 -0.5 -2.4 0.4 -2.1 -0.3 -2.5 0.6 -2.9 -0.8 -2.7 -0.5 -1.8 0.5 -2.5 -1.1 -2.7 0.3 -2.1 -0.2 -2.5 0.5 -2.6M353 462.2l-2.7 -2.2 -2.7 -1M348.9 459l-2.4 1 -2.3 0.4 -2.9 1.5 -1.3 0.6 -2.6 1.8M338.9 437.5l-2.3 0.2 -2.4 -0.1 -3 -0.1 -1.9 -0.8 -2.9 -0.1 -2.7 0.5 -2.5 0.4M299.2 326.5l2.3 0.5 1.8 1M305.1 373.7l1.2 -2.8 0 -3.2 1.1 -2 0.1 -2.8 -0.6 -3.1 1.6 -2.5M306.6 357.1l2.8 0 2 -0.4 2.4 -0.6 1.9 0.2 2.9 -0.8 2.4 -0.3M318.7 336.8l-3.3 0.6 -3 -0.3 -1.4 0.4 -3.5 -0.9M293.8 311.2l0.1 2.2 0.6 2.1 1.2 3.3 0.4 1.5 1.2 1.4 0.5 3.5 0.5 2.2M326.3 331.3l-1.5 1.4 -2.7 2.1 -0.3 0.9 -3.1 2M214.4 411.5l0.5 -3 0.3 -1.5 1.3 -2.3 1.4 -2.5 0.6 -2.1M213.6 388l-2.6 1.2 -2 0.4 -2.7 -0.4 -2.6 0.2 -2.2 1.1 -1.7 0 -2.8 -0.3 -2.5 0.1 -2.5 1.5 -2.4 0.6 -2.4 -0.8 -2.9 0.8 -2.1 -0.2 -2.7 0.2 -1.6 0 -3 0.7 -2.5 0.7 -2.2 -0.6 -1.7 0.7 -3.1 1.2 -2.9 0.1 -2.3 -0.3 -3.1 0 -1.7 1.4 -3.1 0.8 -1.3 -0.2 -2.1 0.2 -3.2 0.3 -2.2 0.8 -3.1 0.7 -1.5 -0.2 -3 0 -2.8 0.2 -0.9 0.8 -3.3 0.3 -2.3 0.1 -2.6 0.2 -2.1 0.5 -2.4 0.4 -1.9 0.8 -2.6 0.1 -2.8 0 -2.6 -0.2 -2.6 0.3 -2.2 0.9 -2 -0.4 -2.9 1 -1.8 -0.3 -3.1 0.5 -2.3 -0.6 -2.8 0.8 -1.8 1 -3 -1.1 -2.4 1.3 -1.3 0.8 -2.1 0.7 -3.2 -0.3 -2.4 0.4 -2.6 0.6 -2.6 0.5 -2 0.5 -2.3 0.9 -2.1 0.1 -3.5 -0.4 -1.9 -0.4 -2 -0.3 -2.8 0.2M433.6 311.2l-1.1 2.2 -1.3 2.9 -1.5 2.2 -1.6 2.5 -0.7 2.9M417.9 300l3.1 0.1 2 -0.1 2 0.4 2.6 0.6M408 278l1.5 2.9 1.3 2 1 2.3 0.8 2.2 1.2 2.6 0.6 1.9 1 4 0.9 1.1 1.5 2.5M425.9 376.3l-0.2 1.9 -0.4 1.3M403 395.5l4.1 -0.7 1.8 0.4M342.6 375.7l-1.5 0.9 -2.7 0.5 -2.2 1 -3.4 -0.1 -2.5 1 -2.1 -0.2 -2.3 0.5 -2.7 0.6M326 358l-0.4 2.5 -0.3 3.5 -1.4 1.6 -1.4 1.9 -0.5 3.4 -0.2 2.5 -0.9 2.5M321.1 355.8l2 0.8 1.8 0M247.6 315.5l-0.1 -2.7 -0.3 -3.1 0.7 -2.2 -0.4 -2.9M256.7 323.1l1.9 -2 1.2 -2.3 2.6 -1.4 2 -0.8 1.9 -2.5 2.4 -1.8 1.3 -1.8M253.4 297.7l-3 2 -1.6 2.1 -2.3 1.7M235.5 320.1l2.6 -0.2 2.1 0.3 2.3 -1.2 2.7 -1.8 2.6 -0.7M230.9 299.5l2.4 1 2.5 0.2 2.7 0.9 1.8 0.3 2.2 1.2 2 1.3 2.7 0.7M251.7 288.2l0.3 2.5 1 2.7 -0.2 1.8 -0.1 3.5M394.6 406.1l0.1 3 1.6 2.8 0.6 2.6M413.8 417.3l0.6 2.2 0.9 3.1 -1.1 2.5 -0.3 2.4 1 2.8 -0.2 2.9 -0.1 1.8M371 416.8l1.5 2 3 2.4 1.4 2 1.6 1.8 1.3 1.9 2.1 2.3M368.2 460.8l0.7 3.5 0.7 1.3 0.7 1.9 0.9 2.3 1.4 3.7 -0.1 0.8 -0.1 3.2 1.2 2.1 0.9 2.4 -0.3 2.6 0.1 2.9 1 2.7 0.2 1.9 0.1 2.8 0.9 2 0 2.5 1.6 1.8 0.3 2.4 1.3 2.5 0.9 2.4 0 2 0.3 3.4 0.6 1.8 0.6 2.4 1.3 2 0.9 1.6 1.2 3.3 0.1 1.9 0 3.3 0.3 2 0.9 2.8 0.6 3.2 0.2 1.5 0.4 1.5 1.2 3.3 1.6 2 -0.4 2.5 0.7 2.3"/><path stroke="#ff4a10" d="M346.5 253.1l2.1 -1.9 1.6 -1 1.8 -1.5 2.1 -1.8M431.6 271.4l-1.7 3.5 -1.3 2.8M429.5 277.1l1.2 2.7 1.3 2.8 0.6 2.7 2.2 2.1 0.6 2.4M212.4 274.3l1 2.4 1 2.3 0.6 2.3M213.9 329.7l1.2 -2.2 0.3 -2.6 0.8 -1.9 0.9 -3.2 0.3 -3 0.8 -1.4 0.3 -2.9M222.1 303.2l0.6 3.3 -1.2 1.3 -0.3 3.1M428.5 278.5l-2.2 0.9 -2.5 -0.2 -2.6 0.2 -2.8 0.1 -1.8 -1 -3.1 0.7 -2.3 0.9 -2.9 -0.6 -1.5 0.4M238.7 267.9l3 -1.5 1 -1 1.4 -2.1 2.7 -1.7 1.5 -2.4 1.6 -1.1 1.7 -2.2 2.1 -1.6M232.9 246.4l-2.6 0.1 -2.1 0.2 -2.8 0.7 -2.7 1.7 -1.7 0.8 -1.6 1.2 -2.6 1.2M252.3 251.8l1.2 1.8 1.3 1.9M216.5 280l2.6 -0.2 2.4 0.7 1.9 -0.5 3 0.1 2.6 -0.1 2.4 0.4 3.2 -0.1 1.8 0.1 2.6 0.1M260.3 257.9l2.2 -2 1.6 -0.3 2.9 -0.9 1.6 -1.2 2.4 -1 2.6 -0.9M222.4 303.9l1.9 -1 3.4 -1 1.7 -2.2 1.3 -1.3M239 280.6l0.1 0.4M230.3 298.8l1.8 -2.1 0.6 -2.7 1.5 -1.9 1.1 -2.6 0.2 -1.6 1.6 -3 1.1 -2.9 0.2 -1.3M385.7 273.9l3.1 0.2 2.1 -0.1 2.4 -0.2 2.9 0.3 2.5 0.2M375.1 253.3l0.9 -2 0.6 -0.6M376.3 250.4l2.7 -0.3 2.6 -0.7 1.8 0 3.9 -0.8 2.8 0 2.2 -0.7 2.9 -0.9M394.9 248.1l2.4 0.9 1.5 0.6M404.5 278.5l-3.7 -2.1 -2.2 -1.6M374.5 252.8l0.1 0M355.5 126.1l0 2.4 0.7 2.3 -0.1 2.7 0.5 2.4 0 2.9 0.9 1.8 0.4 2.6 -0.6 3.1 1.1 1.7 0.3 2.9 0.6 1.9 0.5 2 0.1 2.1 1 2.5 -0.3 3.4 -0.3 0.9 1.4 3.3 0.7 2.4 0.2 2.2 0.3 2.4 0.6 1.7 -0.3 3.8 0.9 1.7 0.8 3.2 0.2 1.1 0.3 2.4 0.2 2.1 1.1 3.5 -0.1 2.1 -0.1 2.7 1.1 1.5 0.9 2.5 0.5 2.7 -0.2 2.2 0.2 2.4 1.8 2 -0.2 2.6 0.2 2.5 0.8 2.6 1.2 2.8 0.6 2.1 0 2.4 0.2 2.6 0.7 1.8 0.1 3.4 0 2.1 0 1.7 0.7 3.5 0 1.7 0.9 2 0.9 2.4 0.4 2.5M387.6 323.9l-2.2 -1 -2.7 -0.9 -1.8 -1.7 -2.7 -0.6 -1.8 -0.7 -1.6 -0.9 -2.7 -0.5 -2.2 -1.4M349.4 313.6l2.2 1.9 1.2 0.5M331.5 277l2.7 0.4 3.4 0.2 3.1 0.4 1.6 1.3M348.9 313.7l-1.7 -3.3 -2 -2.8M373.8 252.2l-1.5 1.9 -2.8 2.2 -0.9 2 -1.8 1.6 -2 1.6 -1.9 1.6 -0.3 2 -2 2.1 -1.8 2.2M393 298.7l-2 0.7 -3.7 -0.6 -2.4 -0.7 -2.3 0.3 -2.6 0 -2.8 -0.7M288.6 272.3l-2.2 0.2 -3.2 0.6 -2.3 1.2 -1.5 0.7 -2.9 0.8 -2.7 0.4 -1.7 1 -2.5 1.4M267.5 277.2l1 -0.3 1.1 0.1M290.1 254.6l-0.3 3.3 0.1 2.6 -1.2 2.2 0.3 2.6 0.4 3.3 -0.1 2.7M305.6 280.4l2.2 1.6 2.3 1.2 2.6 0.6 2.3 2 2 1.4M327 276.2l-2.3 1.9 -1.2 1.7 -1.9 2.2 -1.9 1.1 -2.1 2M331.7 247.2l-1.9 0.3 -3.2 0.2 -2.7 1.7 -1.7 0.6 -3.7 0.7 -1.6 0.4 -2 1M311.6 305.3l-2.2 -0.3 -2.3 -0.2 -3.5 -0.5 -1.1 1.2 -3.2 1.1 -2.4 0.7M340.8 306.9l-2 -1.5 -1.9 -0.6 -2.6 -2.2 -2.6 -1.3 -2.8 -1 -1.3 -1.7 -2.4 -2.1 -2.3 -0.2 -3.5 -2.2 -0.9 -1.1M339 398.9l-2.9 -0.7 -3 0.2 -2.5 -1.6 -2.6 0.2 -3.4 -0.3 -2 -0.3M339.5 417.1l0 -2.7 0.5 -2.1 -0.6 -2.6 -1.3 -2.5 0.6 -3.1 0.7 -2.3 -0.9 -2.2M255.2 354.4l-2.4 -0.9 -2.1 -1 -2.6 -0.7M220.8 365.3l1.1 -1.3 0.2 -1.2M-54 339.9l2.2 -0.8 2.8 0.1 2.3 -0.1 2.5 0.2 1.8 -0.1 4 0 1.1 0.8 2.5 -0.7 2.7 -0.6 1.5 0.4 3.2 0.2 1.9 1.3 2.5 -0.1 2.7 -0.6 1.6 0.4 2.8 -0.2 3.2 0.2 2.5 -0.4 2.4 -0.1 1.4 0.3 2.9 -0.3 2.6 1.6 2.5 0.4 2.1 -0.1 1.9 -0.4 3 0.2 2.7 -0.1 1.8 0 3 0.7 2.3 -0.2 1.9 0.5 2.9 0.8 2.3 -0.2 2.4 -0.1 1.8 -0.3 3.1 0 1.7 -0.5 3 0.3 1.3 0.1 3 0.6 3 -0.5 1.9 -0.1 2.9 0.6 2.8 0.4 2.3 0.2 2 0 2.8 0 1.9 0 2.3 0.4 2.6 0.4 2 -0.7 2.4 0.3 2.6 -0.4 2.5 0.5 1.5 0.5 3.9 0.8 2.8 -0.5 1.2 -0.1 2.9 0.1 2.3 0 2.3 0.3 2.2 -0.1 2.5 -0.9 2.8 0.6 2 -0.2 2.1 0.8 2.8 0.3 2.5 -0.6 2.5 0.2 2.7 0.8 2 -0.3 2.6 0.4 1.8 0 2.5 0.5 3.1 0.1 1.9 -0.5 2.6 0.1 2.6 0.4 1.4 0 3.3 -0.5 2.8 -0.9 2.1 0.5 3 1 1.3 0.9 2.9 0.4 1.9 0.2 2.3 0.3 2.5 0.5 3 0.6 1.7 -1.1 2.5 -0.6 2.5 0.4 2.1 0.2 2.9 0.7 2.2 0.6 2.3 -0.2 2.2 -0.1 2.5 -0.5 2.7 1.4 2 -0.1 3.2 0 1.4 0.4 3 -1.3 1.9 0.8 3.6 0.7 1.6 -0.8 2.6 -0.4 2.3 -0.2 2.5 -0.2 2.7 0.5 2 0.3 3.1 0.4 1.8 -0.6M220.2 343.3l-0.5 2.6 -0.4 3.2 -0.6 2.3M254.3 355.1l1.9 -0.4 3.1 -0.9 2.6 -1 2.2 -1.1M267.7 353.8l-1.1 0 -1.6 -1.7M220 312l2.4 1.3 2.3 1.5 2.8 1.2 0.9 1.4 2.3 0.7 2.8 2.2 1.4 1.6M245.8 353.5l0.2 -2.7 -0.1 -2.2 -0.3 -3.8 -0.4 -2.1 -0.4 -2.6 0.5 -2.8M323.7 321.7l0.2 2.9 1.2 2 0.6 1.6 1.4 3.5M240.3 439l-2.9 -2.4 -0.7 -2.8M229.3 461.9l-2.5 -1.5 -2.7 0.1 -1.6 -1.1 -3.8 -1.2 -1.9 -1.1 -2.9 -0.2 -2.2 0.1M241 384.2l-1.7 0.9 -1.9 2.8 -1.1 1.6 -1.8 1.9 -0.8 1.8 -1.9 2 -1.3 2.1 -1.7 2.1M388.3 324.7l2 -1 3.2 -0.8 3.4 -1.3 2.1 -1.4M486.9 360.6l-2.8 0 -2.5 1.2 -2.6 -0.3 -2.2 -1 -2.3 -1.2 -2.2 -0.7 -2.6 0 -2.3 -0.5 -2.6 -0.1 -2.4 -1.1 -2.7 0.2 -3.3 -1 -1.4 -0.2 -2.1 -0.2 -2.5 -0.4 -3.1 -0.8 -2.2 -0.8 -2 -0.7 -2.1 -0.3 -2.7 -1.2 -2.7 -0.6 -2.9 0.2 -1.6 -0.6 -2.9 -0.7 -2.2 -0.2 -2.3 -0.8M358.8 395.3l0.5 2.6 0.3 3.2 0.8 2 0.9 2.1 0.9 3.1 1.1 1.8 0.1 2.9 0.9 2.6M359.1 421.1l2.2 -1.6 2 -1.5 2.2 -1.8M341.9 420.5l-0.5 2.3 0.4 3.4 0 1.4 -0.2 3.5 -1.2 2.5 -1.4 2.8 -0.2 2.1M401.8 363.7l1.5 -1.9 2.3 -0.9 2.3 -2.1 1.4 -1.6 2.5 -1.6 1.8 -1 1.9 -1.2 1.3 -2.1 2.4 -0.7 1.5 -0.8 2.6 -2.3M404.7 334.6l-1 2.2 -2.2 1.7 -2.2 1.7 -1.5 1.7 -1.3 1.2 -1.3 1.8 -2 1.4 -1.8 2.3 -2.2 1.2M423.9 347.6l0.3 -2.5 -0.7 -2.6M382.3 339.7l2.5 1.7 1.6 1.7 1.3 3 1.5 2.1 1.4 2.1M351.1 382.7l2.5 -2.4 1.4 -1.6 2.1 -1.1 2.3 -2.6M319.5 421l0 0M305.1 412.3l2.8 1.7 2.1 1 2.2 1.8 3.1 1.8 2.2 1.7 1.9 0.9M290.6 392.5l3.1 0.7 1.6 0.7 3.4 0.5 2.7 0.2 2 -0.6 2 0.6 2.9 0.2M291.5 417.3l1.9 -0.7 3.6 -1.4 2.6 -0.9 1.7 -1 2.8 -0.9M300 459.5l0.5 -2.6 0.5 -2.7 0.9 -2.7 1.2 -1.9 1.5 -3 0.1 -1.7 1.7 -2.6 0.6 -2 1.9 -2.8M300.3 457.5l2.4 0.9 2.5 2.3 1.8 0.9 3.2 1.3 3.3 0.1 2.1 0.5M308.7 435.8l2.9 0.4 2.8 -1 2.8 -0.6M317.5 435.5l1.7 2.5 1.2 1.6M337 463.2l-2.6 0.3 -3 -0.8 -2.9 -1.5 -2.1 -0.5 -3.4 0.3M300.7 351.9l-1.8 -0.4 -3 -0.4 -2.9 1 -2.2 -0.3 -2.3 -0.2M289.4 354l-0.3 -1 0.6 0.1M278.3 332.5l2.8 1.5 2.8 2.2M276.6 332.1l-0.2 -2.3 0.4 -3.3 0.6 -2.2 0.4 -2.3 -1.1 -3.8 -0.3 -2M317.3 318.4l-2.8 2.1 -2.5 1.1 -1 1.6 -2 0.7 -2.6 1 -1.5 2.6 -2.1 1.3M212.8 389.1l1.6 2.4 1.1 3.1 0.9 3.1 1.4 2.3M214.3 432.9l-2.6 -0.5 -2.5 -0.5 -1.7 -0.5 -3.4 -0.2 -1.5 -0.4 -2.6 -0.3 -2.6 -0.9 -1.5 -1.4 -2.8 -0.6 -1.9 -0.7 -2.7 -0.4 -2 -0.5 -2.6 -1.1 -2.2 -0.2 -2.7 -0.7 -2.2 -0.3 -2.3 -0.9 -2.1 -0.9 -2.3 -0.9 -2.2 -0.3 -2.6 -0.4 -2.5 -1.1 -1.6 -0.1 -2.7 0.1 -1.9 -1.1 -3 -1.1 -2.1 0 -2.8 -0.2 -1.8 -0.2 -2 -1.3 -2.9 -0.1M427.6 324.1l-2.7 -0.9 -2.2 0 -3.3 -1.4 -0.8 -0.7 -2.5 -1.8 -2.8 -1.2 -2 -1.4 -2 -1.5 -2.6 -0.9 -2.1 -1.4M428.7 431.3l-2.1 1.8 -1.8 2.1 -0.8 2.2M399.6 361.2l0.3 3.9 0.6 2.4 0.3 2.9M433 388.2l-2.5 -1.8 -2.2 -1.9 -1.3 -2.3 -2 -2.6M393.3 378.9l2.7 -2.4 1.1 -1.4 1.8 -3 2.1 -2.2M385.8 404.3l2.5 0.1 2.5 0.5 2.8 1 1.8 0.6M394.9 405.3l1.7 -1.5 1.3 -1.6 2.9 -2.8 1 -1.8 0.8 -2.4M335.5 357.7l0.3 0 0.1 0.5M321.3 395.5l0.1 -2.7 -0.3 -2.9 0.2 -1.9 0.6 -2.6 0.3 -3.3 0.2 -2.3M305.6 371.6l2.4 0.9 3 0.6 2.5 0.1 3.5 0.1 2.7 1.5M339.1 340.8l-0.5 3.1 0 2 0.4 2.8 -0.7 2.8 -0.8 3.1 -0.7 2.2M267.9 304.9l1.6 3.5 1.7 2.9M258.5 329.9l-1.1 -3.1 0 -2.5 0.6 -2.1M277.2 292.5l-0.6 1.4 -1.2 3 -1.7 2.4 -1.5 1.7 -1.5 1.8 -1.1 2.1M398.2 413.5l2.3 1 2.9 0.6 2.1 1.1 2.5 0.5 2.7 0.9 1.7 1.6M375.9 442.7l0.8 -3 0.7 -1.9 -0.1 -2.3 1.4 -2.5 0.8 -1.8 1.4 -2.4M358.7 436.1l2.9 1.4 2.4 0.4 2.3 1.5 2.2 0.9 2.6 1.7 2.6 0.3 2.8 1.1M414.6 434.5l-2.5 1.6 -1.9 0.9 -1.9 0.6 -3 1.4M353.7 460.9l2.9 0.5 2.3 0.3 2.9 0.3 3.1 -0.7 3.2 0.4"/><path stroke="#3a70ff" d="M639.3 120.6l-1.9 1.6 -1.4 1.4 -2.8 1.1 -2.3 1.2 -2.2 1 -1.7 1.1 -2.4 1 -2 1.7 -2.2 0.4 -1.9 1.8 -0.9 1.3 -3 1.2 -2.6 1.8 -1.5 0.6 -2.2 1.6 -2 1.4 -1.7 0.6 -2.4 2.1 -2 1.3 -2.3 1.1 -1.8 0.2 -1.6 1.1 -2.9 2.1 -1.9 1.1 -2.2 1.2 -1.3 1.2 -3.2 1.3 -0.9 1.4 -1.9 0.9 -2.1 3.4 -2.1 1 -1.2 0.4 -3.4 1.6 -1.2 1.4 -1.7 0.7 -2.3 1.3 -2.7 1.4 -1.1 1 -3.5 2.1 -1.7 1.1 -1.5 0.7 -2.2 2.2 -1.6 1 -2.7 1.2 -1.7 1.6 -1.9 1.1 -2.3 0.6 -2.4 1.8 -1.5 0.7 -1.5 0.4 -3.5 2.3 -2.4 0.7 -1 1.2 -2.6 1.8 -2 1.5 -1.7 1.5 -1.8 0.6 -2.7 1.3 -1.8 1 -2.2 1.3 -1.4 1.6 -2.8 1.7 -2.4 0.5 -1.7 1.3 -2 1 -1.3 2 -2.3 2 -1.7 1 -2.8 1.1 -1.3 1.4 -1.7 1.6 -2.7 1.7 -0.9 0.7 -2.3 2.1 -2.7 1.3 -1.9 1 -2.1 1.2 -1.8 0.7 -3 1.8 -1.3 0.3 -2.6 0.9 -2.1 1.3 -1.3 1.5 -2 1.4 -3.2 1.1 -1.3 1.3 -2.3 1.4 -1.4 2.2 -2.1 0.9 -1.8 1.2 -2.7 0.7 -1.5 1.4 -1.9 1.6 -2.9 0.6 -2.2 1.9 -1.5 0.8 -2.5 1.1 -1.1 1.6 -2 2.3 -1.8 1.2 -1.2 1.8 -2.9 0.9 -2.4 1 -2.1 1.3M412.6 78.1l-0.3 3 0.1 2.1 0.9 2.8 -0.1 2.2 0.2 1.8 -0.4 2.6 -0.5 2.1 0.3 2.7 0.6 2.8 0.3 1.6 -0.6 3.3 0.3 2.1 -0.1 2.7 0.2 2.1 0.3 2.5 0.4 1.5 0 3.7 -0.3 1.6 0.1 2.7 -0.6 2.3 0.4 1.9 0 3.6 0 0.9 0 3 0 2.8 0.4 2.4 -0.1 1.7 0 4 0.7 1 0 3 -0.5 3.1 0.5 2 0.4 2.1 -0.1 2.5 0.3 2.4 0.1 1.6 -0.6 3.3 0 2.8 0.1 2.5 -0.2 1.7 0.5 2.6 -0.9 2.9 0.6 2 -0.4 2.8 -0.1 1.4 -0.3 3.2 0.2 2.2 0.1 1.8 0.3 3 0.5 2.2 -0.2 2.6 0.3 2.8 0.1 1.4 0.4 2.9 -0.4 2.2 0.2 1.9 -0.5 3.3 -0.1 3.1 0 1.3 0.1 2.9 0.4 2.5 -0.1 2.1 -1 2.1 0.4 3.3 0.4 2.4 0.4 1.2 0.7 4.1 -0.1 1.1 -0.1 2.9 0.2 2.6 0.1 2.1M288.7 393.8l0.8 -1.9 0.6 -2.7 -0.2 -2.9 -0.9 -1.6 -0.1 -2.9 -0.1 -3.2 0 -2.3M285.8 399.6l-1.9 -1.5 -2.2 -1.1 -2.2 -1.5 -2.9 -0.6 -2.6 -0.5 -2.6 -1.6 -2 -0.9M268.4 277.6l-1.6 1.2 -2.2 1.7 -2.9 2.1 -2 1.7 -2 0.8 -1.8 1.7 -2.2 1.8M238.9 281.4l2.8 1 2.2 1.2 3 1.1 1.9 0.6 1.7 1.4 2.9 1M415.1 248.8l-3.2 -0.1 -2.9 -0.1 -2.7 0.7 -2 0.4 -3.3 -0.3 -2.4 -0.8M358.4 270.6l2.2 1.4 1.5 1.8 1.6 2.4 -0.1 2.1 2.4 2.2 1 1.6 2.6 1.9 1.5 1.3 1 2.3M241.7 381.1l-2.9 -2.2 -1.5 -0.8 -2.5 -1.9 -0.9 -1.8 -2.3 -2.1 -2.2 -1.7 -1.5 -2.2 -2.3 -0.9 -2.2 -1.9M213.4 329.4l-0.2 2.7 1.1 1.8 1.3 2.7 1.2 2.7 1.1 2 0.8 2M236.2 332.1l2.7 1 1.9 0.8 3.9 1.1 1.6 1.3M212.7 433.8l0.4 -2.9 0.6 -3.1 0.2 -1.5 0.4 -2.5 0.8 -2.8 0.2 -1.5 -0.1 -2.9M263 438.9l2.6 -1.8 2.5 -1.8 2.5 -1.8M234.4 419.8l2.8 -1.6 1.7 -1.4 1.7 -2.2 2 -1.6M246.9 411l1.8 2.3 3.1 1.6 2.7 1.6M390.9 300.8l2.4 1.3 0.9 1.6 1.2 2.5 2.1 2 1.4 1.9 1.2 2 2 1.6M426.3 347.8l0.3 3.3 -0.1 2 0.2 3.4 0.4 2.4 0.6 2.6 0.6 2.3 0.6 2.8 1 2.5M432.5 411.3l-2.2 -1.7 -1.9 -0.7M423.3 348.7l-0.5 -0.9 -0.8 0.8M379 357.8l-0.4 3.5 -0.3 1.7 -0.5 3.2 0 2.7 0.2 2.2 -0.6 3.1M360.3 375.8l2.6 -0.2 3.3 0 2.2 -0.8 2.7 0.7 2.5 0.1 2.4 -0.6 2.5 0.4M391.8 354l-3.2 0.6 -2.5 1.6 -2.2 1.2 -3 1.5M322.3 460.1l1.3 -3.1 0.2 -3.1 0.4 -1.8 -0.2 -2.7 -0.7 -3.2 -0.8 -2 0.7 -3.2 0 -2.6M266.1 336.4l-2.6 -1.4 -2.4 -1.8 -2.2 -1 -2.8 -1.3M433 311.9l-0.9 -2.7 -1.1 -1.5 -1.9 -2.6 -1.9 -3.1 -0.2 -2.2M399.9 445.6l1.7 2.4 0.9 3 -0.2 2 0.7 3.3 1.4 2.7"/><path stroke="#a0ff40" d="M-43.1 294.1l2 0.3 3.1 -0.5 2.6 0.8 2.4 0.3 2.1 -0.1 2 0.3 2.9 -0.3 2.9 0.2 1 -0.2 3.3 -0.8 2.9 0.2 2.1 0.2 1.7 -0.1 3.1 -0.6 2.1 0.3 3.2 0.3 1.6 0.2 2.9 0.8 1.8 0.3 2.5 -0.7 2.1 -0.4 2.8 -0.2 2.2 0.5 2.9 -0.5 2.8 -0.8 1.6 0.3 2.4 0.5 1.7 -0.9 2.9 0.9 3 1.1 1.8 -1.1 2.8 -1.4 2.5 0.3 2.2 0.8 2.3 -0.5 3.5 -0.2 1.9 0.4 2.1 -0.1 2.3 0.4 2.6 0 2.3 0.9 3.3 0.2 1.9 -0.4 1.6 0.1 3.3 -0.4 1.5 -0.4 3.1 0.4 2.1 -0.2 2.4 0.2 2.9 -0.2 2.1 -0.5 2.2 0 3 -0.4 2.3 0.6 2.2 0.6 2.2 1 2.8 -0.9 2.4 -0.9 2.6 0.3 1.9 -0.3 2.9 1 1.9 0.2 1.6 -0.8 2.8 -0.2 3.8 -0.4 2 0 2 0.2 3.6 0.3 1.1 -0.5 2.3 -0.1 2.1 0.1 3.1 0.1 2.6 -0.2 2.3 0.8 2.2 0.2 2.5 -0.9 2.4 0.2 2 0.6 3.3 0.1 2.1 0.3 2.8 -0.2 1.3 0.2 2.9 0.5 2.9 0.6 2.5 -1.2 2.3 1 1.6 -1 2.6 0.1 2.8 -0.8 1.8 0.8 2.9 -0.1 2.1 0.1 3 0.1 1.9 -0.1 2.6 0.3 2.4 -1 2.9 -0.2 1.6 -0.4 3.5 0.2 1.4 0.1 2.6 0 2.7 0.9 2.6 -0.6 1.7 0.5 2.8 -0.6 2.4 0.5 2.4 0.2M214.7 294.8l0.8 -3.1 -0.4 -3 -0.1 -2.5 1.3 -2.9 0 -2.7M422.1 250.6l-2.5 -1.4 -3.1 -1.9M291.3 394.7l-3 2.2 -1.6 1.1M334 334.6l1.1 -2.3 2.1 -2.1 0.9 -0.8 0.9 -2.4 2.9 -2 0.6 -1.7 1.6 -1.7 1.5 -2.9 0.8 -1.3 1.9 -2.2 1.4 -2.1M352.9 335.8l-3.2 1.4 -1.6 0.7 -1.9 0.6 -3 0.7 -2.6 0.5 -1.7 1M372.8 287.1l-0.1 1.1 -0.3 0.1M345.8 307.7l1 -2.3 0.6 -2.1 1.2 -3.1 0.3 -2 1.2 -2.6M297 306.1l-1.3 -2.6 -1.9 -1.7 -2.4 -0.9 -1.3 -2.3 -1 -2.4 -2 -2.1M257.1 376l-0.6 -2.1 0.3 -2.3 -0.4 -2.3 0.5 -3.1 -1.1 -3 0.2 -1.9 -0.2 -2.5 -0.5 -2.8M217.1 373.4l-2.5 0.3 -2.6 -0.2 -2.3 0 -2.2 0.8 -2.2 0.1 -2.9 -0.1 -1.5 -0.3 -3.5 -0.2 -2.1 0.4 -1.9 0.4 -3 0.4 -2.2 0 -2.1 0.2 -2.6 0.8 -2.6 -0.6 -2.9 0.1 -1.7 -0.1 -2.2 -0.1 -3.4 0.8 -1.9 0 -2.8 0 -1.7 0.8 -2.8 -0.5 -2.7 0.3 -1.4 -0.5 -2.6 0.2 -2.4 0.5 -2.4 0 -2.6 0.2 -2.6 0.5 -1.4 0.2 -3.4 0 -1.7 -0.1 -3.8 0.3 -1.6 -0.2 -1.9 0.5 -2.8 0.5 -2.4 0.1 -2.4 0.3 -2.6 0.6 -2 0.1 -2.5 -0.2 -2.9 0.1 -2 -0.1 -1.9 0.4 -2.4 0.3 -2.6 0.1 -2.7 0.8 -2.9 -0.1 -2.3 -0.5 -2 0.5 -2.4 0.5 -3 -0.4 -2.1 0.5 -2.5 -0.3 -2.4 0.8 -2.5 0.3 -2 -0.6 -2.5 -0.6 -2.6 0.3 -1.7 0 -2.2 0.8 -3.2 0.4 -2.7 -0.2 -1.3 -0.2 -3.1 0.6 -2.4 0.9 -2.1 -0.1 -3.4 -0.7 -1.8 -0.1 -2.6 0.2 -1.9 0.4 -2.5 0.2 -2.6 0.6 -1.5 -0.3 -3.9 0.2 -1 -0.1 -3.2 1 -2.4 0.2 -2.2 0.1 -2.2 0.1 -3.5 0.6 -1.1 -0.1 -2.5 0.3 -2.8 -0.8 -2.4 -0.2 -2.7 0.6 -2.3 1.1 -2.2 0.1 -2.3 0.6 -2.5 -0.3 -1.8 0.2 -3 0.1 -2.5 0 -2.5 0 -2.3 -0.8 -2.1 0.8 -2.8 0.3 -2.2 0.1 -2.7 -0.4 -2.6 -0.3 -2.7 0.4 -1.8 0.7 -2.5 -0.1 -1.7 -0.5 -3 -0.1 -2.5 0.4 -2.9 0.2 -1.6 -1 -2.4 0.9 -2.7 0.5 -2.4 0.1 -2.4 0.1M323.5 322.6l-3.3 -0.6 -1.8 -2 -2.3 -1.5M293.1 462l-2.7 -0.6 -2.1 -0.5 -3 -1.7M246 409.5l-1.2 0.4 -3 1M270.5 433.8l0.1 -2.1 -0.3 -4.5 0.8 -0.8 -0.1 -3.7 0.2 -3.1 -0.1 -2.3M254.4 415.1l3.5 0.4 2.8 -0.7 2.5 0.1 2.9 -0.6M263.9 455.6l0.2 -3.6 0.1 -1.8 -0.4 -2.6 -0.3 -3.7 -0.4 -1.8 -0.5 -3M285.8 437.9l-2.1 -1.2 -2.3 -0.5 -2.6 -0.3 -3.5 -0.8 -1.5 -0.6 -3.1 -0.3M241.3 438.6l2.7 -1.5 2.5 -1.4 2.1 -0.4 3.3 -1.4 2.4 -0.5M285.3 397.7l0.3 2.5 1.1 3.3 -0.8 2.8 0.7 2.1 0 3.1 -0.2 2.8M432.6 388.1l0.2 2 -0.4 4.1 -0.7 2.4 0.3 2 -0.7 2.6 -0.6 2.1 -1.2 3.2 -0.8 2.5M357.9 435.3l-1.9 1.5 -1.4 2.6 -1.8 1.6 -2 1.3 -2.7 1.6 -1.8 2M284.6 335.5l2.6 -1.2 3.3 -0.8 2.3 -1.3 1.7 -0.7 1.7 -2.6 3.1 -1.1M305.3 358.7l-1.6 -2.3 -2.1 -2.1 -1.9 -1.2M293.7 309.7l-2.5 1.2 -2 0.5 -2.2 1.3 -2.7 0.8 -2.9 1.3 -1.9 0.2 -2.4 0.7M429.2 333.4l-0.5 -2.6 -0.9 -3.4 -0.4 -3.3M428.8 369.8l-1.4 1.4 -1.7 3.1 -1.1 2.2M424.9 379.4l-2.2 1.2 -2 2.6 -1 1.2 -2.3 0.3 -3.2 3.2 -1.8 0.5 -1.6 2.1 -2.2 2 -1.3 1.4M351.4 385l-1.5 -2.4 -2 -1.1 -2.2 -1.3 -1.9 -2.1 -1.8 -1.7M249.2 313.2l1.5 2.8 2.1 1.4 1.3 1.9 2.3 2.7M254.9 296.6l2.1 1.4 2.5 1.4 3.2 1.1 1.6 0.3 2.7 0.6 2.8 1.9M377.8 449.1l1.9 0.4 2.9 -0.1 3 -0.6 2.5 -0.6 2.5 -0.7 2.2 -0.1 2.5 0.2 3.1 -0.6 2.1 0 2.1 -1.2M402 444.9l0.8 -3.9 0.6 -3.2M378.2 448.8l-1.6 3.2 -0.3 3.5"/><path stroke="#40ff80" d="M216.4 293.8l2 2.3 1.1 2.3 1.6 2.1 2 1.9M290.7 376.1l-1.7 -2.4 -2.4 -1.5M387.2 323l-0.6 2.6 -0.2 1.5 -2.1 2.3 -0.7 2.8 -0.1 1.7 -0.5 2.5 -0.6 3.2M370.4 315.4l-0.7 0.6 -0.9 0.6M368.9 338.8l-1.6 1.6 -3.2 2.4 -1.3 1.1M318.1 293.9l0.5 -3.2 0.5 -1.8 -0.2 -3.4M275.9 460.6l-2.7 -0.6 -2 -1.7 -2 -0.4 -2.2 -0.9 -2.7 -1.5M386.6 403.7l-0.7 -1.9 -1.6 -1.9 -1.1 -3.1 -1.7 -1.9 -1.2 -2.6M293.2 459.6l2.9 -0.6 3.3 -0.5M292.7 430l2.1 1.3 2.6 1.7 2.7 0.3 2.1 1.2 3.1 0.7 1.7 0.9 1.8 2.4M346.1 446.6l1.4 2.7 -0.3 2.9 0.8 2.5 1.1 3M299.8 351.6l0.9 -3 1.4 -1.3 1.2 -2 1.4 -2 1.2 -2.3 0.6 -1.8 1.4 -2.5M424.4 376.7l-2.6 -0.6 -2.6 -0.9 -2.6 -0.4 -2 -1.3 -2.8 -0.5 -3 -0.8 -2.9 0.3 -1.4 -2 -3.1 0.4"/><path stroke="#5040c0" d="M406.5 277.7l-1.6 -0.3 -0.5 0.8M368.5 316.3l-2.6 0.3 -2.8 -0.7 -3.2 -1.3 -1.4 0.2 -2.8 -0.5 -2.3 -0.2M310.9 303.2l0.9 2.8 0.7 2.4 1.4 2.5 2.3 1.9 0 2.1 1 2.4M265 457l-3.3 1.6 -2.6 0M385.3 403.5l-1.8 0.5 -2.4 2.6 -1.4 1.1 -2.2 2.3 -1.8 1.3 -1.4 2.2 -1.6 1.4 -2.2 1.6M308.4 395.1l-0.5 0.5 1 -0.2M320.8 586.6l-1.2 -2.6 0.4 -2.3 0.4 -2.2 0.1 -2.7 0.9 -1.8 0 -3.2 1.2 -2.7 0.6 -2.3 0.2 -2.1 0 -3.1 -0.3 -1.3 0.5 -3.2 0 -2.2 0.3 -2.2 0.5 -2.1 0.3 -2.8 0.1 -2.4 -0.2 -2.6 0.5 -2.1 0.7 -2.3 0.6 -2.5 0.5 -2.7 0.7 -2.7 0.1 -2.2 0.6 -2.7 0.1 -1.9 -0.9 -2.5 0.9 -3.2 0.8 -2.2 0 -1.8 0.4 -2.9 0.6 -1.7 0.5 -2 -0.4 -2.4 1 -3.1 0.2 -2.5 1.1 -2.2 0.3 -2.3 0.7 -2.4 0.2 -2.5 -0.2 -2.2 0.7 -3.1 0 -2.1 0.7 -2.4 -0.3 -2.5 0.5 -2.2 0.3 -1.3 0.6 -3.5 0.8 -2.5 0.4 -2.2 0.2 -2.6M318.7 337.6l0.4 2.8 0.7 3.2 1.1 2.2 0.1 2.1 -0.4 2.7 0.9 3.1 0.1 2M434.2 290.2l-1.8 1.6 -2.2 2.9 -0.9 1.7 -2.2 2.7M403.1 314l1 -0.6 0.6 -1.1M428.4 408.4l-3.3 0.1 -2.6 0.4M392.2 466.2l1.4 -1 2.8 -2.3 2.2 -0.6 1.9 -1.4 2.4 -1.4 1.9 -0.7M376.8 454.4l1.8 2.1 2 1.2 1.9 -0.1 2.2 2.1 3.3 1.5 1.5 1.1 1.8 1.6 2.2 0.4"/></g>
<g opacity="0.8"><path fill="#e84010" d="M210.6 250.1a3.5 3.5 0 1 0 6.9 0a3.5 3.5 0 1 0 -6.9 0M424.6 253.6a2.7 2.7 0 1 0 5.5 0a2.7 2.7 0 1 0 -5.5 0M217.9 310.8a2.9 2.9 0 1 0 5.7 0a2.9 2.9 0 1 0 -5.7 0M404.0 278.7a2.8 2.8 0 1 0 5.5 0a2.8 2.8 0 1 0 -5.5 0M418.3 253.1a2.2 2.2 0 1 0 4.5 0a2.2 2.2 0 1 0 -4.5 0M266.0 393.3a3.0 3.0 0 1 0 5.9 0a3.0 3.0 0 1 0 -5.9 0M214.5 251.8a2.1 2.1 0 1 0 4.1 0a2.1 2.1 0 1 0 -4.1 0M383.6 274.2a2.1 2.1 0 1 0 4.1 0a2.1 2.1 0 1 0 -4.1 0M403.3 278.9a3.1 3.1 0 1 0 6.2 0a3.1 3.1 0 1 0 -6.2 0M365.4 316.1a3.2 3.2 0 1 0 6.5 0a3.2 3.2 0 1 0 -6.5 0M332.6 335.2a2.2 2.2 0 1 0 4.5 0a2.2 2.2 0 1 0 -4.5 0M351.0 269.9a3.6 3.6 0 1 0 7.1 0a3.6 3.6 0 1 0 -7.1 0M274.2 292.7a3.3 3.3 0 1 0 6.6 0a3.3 3.3 0 1 0 -6.6 0M303.7 279.3a2.5 2.5 0 1 0 4.9 0a2.5 2.5 0 1 0 -4.9 0M285.8 352.6a2.1 2.1 0 1 0 4.3 0a2.1 2.1 0 1 0 -4.3 0M233.8 320.7a2.0 2.0 0 1 0 4.1 0a2.0 2.0 0 1 0 -4.1 0M233.0 420.5a2.2 2.2 0 1 0 4.5 0a2.2 2.2 0 1 0 -4.5 0M214.1 416.8a2.5 2.5 0 1 0 4.9 0a2.5 2.5 0 1 0 -4.9 0M268.7 433.8a2.1 2.1 0 1 0 4.2 0a2.1 2.1 0 1 0 -4.2 0M251.2 416.3a3.4 3.4 0 1 0 6.9 0a3.4 3.4 0 1 0 -6.9 0M268.0 417.3a2.8 2.8 0 1 0 5.6 0a2.8 2.8 0 1 0 -5.6 0M285.5 414.2a2.1 2.1 0 1 0 4.2 0a2.1 2.1 0 1 0 -4.2 0M426.0 408.9a2.4 2.4 0 1 0 4.9 0a2.4 2.4 0 1 0 -4.9 0M356.3 420.6a2.4 2.4 0 1 0 4.9 0a2.4 2.4 0 1 0 -4.9 0M386.9 351.4a3.2 3.2 0 1 0 6.4 0a3.2 3.2 0 1 0 -6.4 0M318.2 395.3a2.2 2.2 0 1 0 4.4 0a2.2 2.2 0 1 0 -4.4 0M306.2 395.7a2.5 2.5 0 1 0 4.9 0a2.5 2.5 0 1 0 -4.9 0M304.8 395.4a3.4 3.4 0 1 0 6.7 0a3.4 3.4 0 1 0 -6.7 0M286.1 352.0a2.4 2.4 0 1 0 4.9 0a2.4 2.4 0 1 0 -4.9 0M305.3 336.5a2.2 2.2 0 1 0 4.4 0a2.2 2.2 0 1 0 -4.4 0M295.4 327.2a3.5 3.5 0 1 0 7.0 0a3.5 3.5 0 1 0 -7.0 0M304.2 357.1a2.4 2.4 0 1 0 4.8 0a2.4 2.4 0 1 0 -4.8 0M274.0 316.2a3.3 3.3 0 1 0 6.5 0a3.3 3.3 0 1 0 -6.5 0M244.2 315.5a3.2 3.2 0 1 0 6.3 0a3.2 3.2 0 1 0 -6.3 0M251.6 298.5a2.5 2.5 0 1 0 5.0 0a2.5 2.5 0 1 0 -5.0 0M410.6 417.4a2.2 2.2 0 1 0 4.4 0a2.2 2.2 0 1 0 -4.4 0"/><path fill="#c02008" d="M335.2 251.4a2.8 2.8 0 1 0 5.7 0a2.8 2.8 0 1 0 -5.7 0M214.3 280.6a2.2 2.2 0 1 0 4.4 0a2.2 2.2 0 1 0 -4.4 0M287.3 254.5a2.5 2.5 0 1 0 5.0 0a2.5 2.5 0 1 0 -5.0 0M236.3 280.6a2.7 2.7 0 1 0 5.5 0a2.7 2.7 0 1 0 -5.5 0M236.5 281.0a2.6 2.6 0 1 0 5.1 0a2.6 2.6 0 1 0 -5.1 0M395.0 274.7a3.6 3.6 0 1 0 7.2 0a3.6 3.6 0 1 0 -7.2 0M379.5 339.6a2.9 2.9 0 1 0 5.7 0a2.9 2.9 0 1 0 -5.7 0M359.6 343.3a2.7 2.7 0 1 0 5.3 0a2.7 2.7 0 1 0 -5.3 0M346.0 295.4a3.3 3.3 0 1 0 6.6 0a3.3 3.3 0 1 0 -6.6 0M342.6 307.6a2.7 2.7 0 1 0 5.3 0a2.7 2.7 0 1 0 -5.3 0M266.5 277.6a2.7 2.7 0 1 0 5.5 0a2.7 2.7 0 1 0 -5.5 0M335.8 399.6a3.1 3.1 0 1 0 6.2 0a3.1 3.1 0 1 0 -6.2 0M290.2 461.0a3.4 3.4 0 1 0 6.8 0a3.4 3.4 0 1 0 -6.8 0M282.6 457.7a3.4 3.4 0 1 0 6.8 0a3.4 3.4 0 1 0 -6.8 0M239.8 412.7a2.5 2.5 0 1 0 5.0 0a2.5 2.5 0 1 0 -5.0 0M362.3 415.4a2.6 2.6 0 1 0 5.3 0a2.6 2.6 0 1 0 -5.3 0M336.2 438.6a2.7 2.7 0 1 0 5.5 0a2.7 2.7 0 1 0 -5.5 0M262.6 336.5a3.4 3.4 0 1 0 6.9 0a3.4 3.4 0 1 0 -6.9 0M315.3 337.6a3.3 3.3 0 1 0 6.6 0a3.3 3.3 0 1 0 -6.6 0M415.3 299.4a2.6 2.6 0 1 0 5.3 0a2.6 2.6 0 1 0 -5.3 0M421.1 376.5a3.4 3.4 0 1 0 6.8 0a3.4 3.4 0 1 0 -6.8 0"/><path fill="#50d060" d="M209.7 329.5a3.5 3.5 0 1 0 7.0 0a3.5 3.5 0 1 0 -7.0 0M293.9 279.9a3.0 3.0 0 1 0 6.1 0a3.0 3.0 0 1 0 -6.1 0M262.2 353.1a2.3 2.3 0 1 0 4.5 0a2.3 2.3 0 1 0 -4.5 0M243.6 411.6a2.9 2.9 0 1 0 5.7 0a2.9 2.9 0 1 0 -5.7 0M426.0 369.5a2.2 2.2 0 1 0 4.3 0a2.2 2.2 0 1 0 -4.3 0M210.2 388.8a3.5 3.5 0 1 0 7.1 0a3.5 3.5 0 1 0 -7.1 0M391.9 379.8a2.6 2.6 0 1 0 5.2 0a2.6 2.6 0 1 0 -5.2 0M402.2 458.9a2.7 2.7 0 1 0 5.3 0a2.7 2.7 0 1 0 -5.3 0"/><path fill="#3050e0" d="M219.7 303.2a2.4 2.4 0 1 0 4.7 0a2.4 2.4 0 1 0 -4.7 0M233.4 434.1a3.0 3.0 0 1 0 6.1 0a3.0 3.0 0 1 0 -6.1 0M368.8 417.0a2.1 2.1 0 1 0 4.3 0a2.1 2.1 0 1 0 -4.3 0M267.4 311.4a3.3 3.3 0 1 0 6.6 0a3.3 3.3 0 1 0 -6.6 0"/><path fill="#f07818" d="M264.4 380.2a2.8 2.8 0 1 0 5.5 0a2.8 2.8 0 1 0 -5.5 0M283.7 397.6a2.6 2.6 0 1 0 5.1 0a2.6 2.6 0 1 0 -5.1 0M237.4 269.1a2.4 2.4 0 1 0 4.8 0a2.4 2.4 0 1 0 -4.8 0M340.3 278.8a2.1 2.1 0 1 0 4.2 0a2.1 2.1 0 1 0 -4.2 0M315.1 293.9a2.8 2.8 0 1 0 5.5 0a2.8 2.8 0 1 0 -5.5 0M336.6 417.1a2.3 2.3 0 1 0 4.7 0a2.3 2.3 0 1 0 -4.7 0M316.2 421.0a3.3 3.3 0 1 0 6.6 0a3.3 3.3 0 1 0 -6.6 0M320.8 321.6a3.2 3.2 0 1 0 6.3 0a3.2 3.2 0 1 0 -6.3 0M213.1 440.1a3.5 3.5 0 1 0 7.0 0a3.5 3.5 0 1 0 -7.0 0M247.7 398.0a2.5 2.5 0 1 0 5.0 0a2.5 2.5 0 1 0 -5.0 0M265.0 393.9a3.4 3.4 0 1 0 6.8 0a3.4 3.4 0 1 0 -6.8 0M288.7 418.1a3.1 3.1 0 1 0 6.2 0a3.1 3.1 0 1 0 -6.2 0M356.3 395.2a2.8 2.8 0 1 0 5.6 0a2.8 2.8 0 1 0 -5.6 0M397.8 361.1a2.5 2.5 0 1 0 5.0 0a2.5 2.5 0 1 0 -5.0 0M387.1 350.7a3.0 3.0 0 1 0 6.1 0a3.0 3.0 0 1 0 -6.1 0M358.1 375.9a2.2 2.2 0 1 0 4.3 0a2.2 2.2 0 1 0 -4.3 0M281.4 335.3a3.0 3.0 0 1 0 6.1 0a3.0 3.0 0 1 0 -6.1 0M299.4 328.9a3.5 3.5 0 1 0 7.1 0a3.5 3.5 0 1 0 -7.1 0M420.9 437.5a3.3 3.3 0 1 0 6.5 0a3.3 3.3 0 1 0 -6.5 0M317.5 375.5a2.1 2.1 0 1 0 4.2 0a2.1 2.1 0 1 0 -4.2 0M244.4 304.6a3.0 3.0 0 1 0 6.0 0a3.0 3.0 0 1 0 -6.0 0M266.0 304.6a3.2 3.2 0 1 0 6.3 0a3.2 3.2 0 1 0 -6.3 0M395.6 414.1a2.4 2.4 0 1 0 4.7 0a2.4 2.4 0 1 0 -4.7 0M373.6 442.9a3.0 3.0 0 1 0 5.9 0a3.0 3.0 0 1 0 -5.9 0M379.2 429.2a2.8 2.8 0 1 0 5.6 0a2.8 2.8 0 1 0 -5.6 0M389.0 427.0a3.2 3.2 0 1 0 6.4 0a3.2 3.2 0 1 0 -6.4 0M402.7 438.4a2.4 2.4 0 1 0 4.7 0a2.4 2.4 0 1 0 -4.7 0M365.0 460.9a3.1 3.1 0 1 0 6.1 0a3.1 3.1 0 1 0 -6.1 0"/><path fill="#e0c020" d="M295.0 250.5a2.3 2.3 0 1 0 4.6 0a2.3 2.3 0 1 0 -4.6 0M229.0 299.1a2.0 2.0 0 1 0 4.0 0a2.0 2.0 0 1 0 -4.0 0M251.3 288.0a2.0 2.0 0 1 0 4.1 0a2.0 2.0 0 1 0 -4.1 0M251.8 356.0a2.8 2.8 0 1 0 5.5 0a2.8 2.8 0 1 0 -5.5 0M260.7 455.5a3.6 3.6 0 1 0 7.1 0a3.6 3.6 0 1 0 -7.1 0M339.9 420.6a2.7 2.7 0 1 0 5.3 0a2.7 2.7 0 1 0 -5.3 0M383.8 380.4a2.3 2.3 0 1 0 4.6 0a2.3 2.3 0 1 0 -4.6 0M320.7 460.0a2.6 2.6 0 1 0 5.3 0a2.6 2.6 0 1 0 -5.3 0"/><path fill="#20b8d0" d="M365.5 338.3a3.1 3.1 0 1 0 6.1 0a3.1 3.1 0 1 0 -6.1 0M337.1 307.6a3.3 3.3 0 1 0 6.7 0a3.3 3.3 0 1 0 -6.7 0M226.1 462.3a3.0 3.0 0 1 0 5.9 0a3.0 3.0 0 1 0 -5.9 0M375.5 393.2a3.4 3.4 0 1 0 6.8 0a3.4 3.4 0 1 0 -6.8 0M376.9 358.0a3.3 3.3 0 1 0 6.7 0a3.3 3.3 0 1 0 -6.7 0M215.9 399.9a2.1 2.1 0 1 0 4.2 0a2.1 2.1 0 1 0 -4.2 0M399.5 370.3a2.1 2.1 0 1 0 4.2 0a2.1 2.1 0 1 0 -4.2 0M320.8 380.0a2.4 2.4 0 1 0 4.9 0a2.4 2.4 0 1 0 -4.9 0"/></g>
<path d="M216.00,251.00 L266.00,251.00 L262.00,261.00 L251.00,268.00 L241.00,279.00 L234.00,300.00 L229.00,318.00 L216.00,320.00 L216.00,251.00" stroke="none" stroke-width="0" fill="#000" opacity="0.9" filter="url(#blur2)"/>
<g fill="none" stroke-linecap="round" stroke-linejoin="round" stroke-width="0.6" opacity="0.8"><path stroke="#ff4a10" d="M247.8 406.8l0 -1.6 -0.9 -2.1 0 -1.2 -0.3 -2.1 1.5 -1.6 0.9 -2.2M366.8 371.6l-0.5 1.7 -0.3 2.5 -0.9 0.8 -0.2 2.5 -1.2 1.7M246.4 393.2l-2.1 1.1 -2 1.3 -1.2 2M290.9 274.7l-1.4 -1.6 -0.8 -1.8 -2 -1.5 -1.9 -0.8M407.3 415.4l-0.2 -1.6 -0.3 -2.1 -1 -2.8 -0.7 -0.5 0.1 -2.6 0 -1 -0.6 -2.8 -0.6 -1 0 -2.7M260.4 310.7l-2.7 -0.1 -1.8 0.5 -1.7 0.5 -2.3 1.2 -1.1 1.3M256.2 419.1l-1.6 -1.5 -1.1 -1.1 -1.3 -1.8 -0.7 -2M376.9 353.1l1.9 0 1.9 0.8 1.2 -0.3 2 0.8 2.6 0.1 1.3 0.5 2.3 0.1 1.7 0.3 1.4 0.6M358.6 303.8l-0.2 2.3 -1 1.3 -0.7 2.1 -1.9 1.8 -0.8 1.8 0.6 2.2M303.7 403.4l0.5 -1.5 1.7 -2.1 0.3 -1.5 1.8 -1.9 0.2 -1.1 0.6 -2.8 1.1 -1.1 -0.4 -2.4 -0.1 -1.2 1.2 -2.3M313.2 323.2l1.8 -2 0.7 -1.4 1.3 -2 1 -0.7 0.5 -1.6 0.7 -2.2 1.4 -1.6 0.9 -1.8 1.2 -1.6 1.1 -1.5M332.7 360.2l2 -0.6 0.9 -1.1 2.6 -0.4 1.5 -0.8 2.6 -1.1 1.2 -0.6M328.9 407.3l0.5 2.6 0.6 1.1 -0.2 2.6 0.8 1.7 -0.1 1.3 0.7 1.5 0.3 2.3 1.1 1.4M234.6 361.1l-0.9 0.6 -2.3 1.2 -0.8 0.7 -2.9 0.4 -1.5 0.6M314.1 377.4l-1.5 2.4 -1.4 0.5 -1.7 2.1M391.2 265.9l-0.6 -1.4 -0.7 -2.6 -0.7 -1.7M354.1 447.6l-2.3 -0.4 -2.3 0.7 -0.6 -0.7 -3.1 0.6 -1.3 -0.2 -2.6 -0.2 -1.3 0.5 -2.3 0.9"/><path stroke="#ff8a20" d="M422.4 340.3l-1.3 -0.9 -1.7 -1.4 -1.7 -0.1 -2 -0.2 -2.2 -0.2 -1.6 -1 -2.1 -0.3 -1.7 0.3 -1.7 -0.4M396.6 362.3l0.3 1.8 -0.6 3.3 -1.1 1.7M252.8 274.1l0.8 2.8 1.2 0.4 1.3 2.6 1.6 1.4M227.8 407.8l1.1 -0.8 1.1 -0.7 2.3 -1.3 1.3 -1.6 1.7 -1.5 1.9 0.4 2.1 -0.8 1.7 -0.4 1.8 -0.4M421.8 301.4l-1.5 -2.1 -1.7 -2.1 -0.8 -0.7 -2.5 -0.8M236.6 452.2l1.1 -2.4 -0.8 -1.8 -0.3 -1.9 -0.1 -2.5M234.2 281.3l1.4 0.2 2 -0.6 2.4 -0.2 2.2 0.1 1.8 -0.2 2.3 -0.1M241.6 334.6l2 -1.2 1 -0.2 2.6 -1 1.8 -0.4 1.1 -1M310.1 418.5l-0.6 1.3 -0.3 2.2 -0.8 2.4 -0.8 2 -0.6 1.9M283.9 299.9l1.6 1.4 1.6 1.1 0.3 1.7 1.8 1.7 1.7 1.2 1.8 1.8 -0.1 0.9 1.9 1.6 1.6 1.2M347.2 355.2l0.3 2.1 0 1.8 0.4 1 0.1 2.5 0.3 1.9 -0.3 1.9 1.2 2 1.5 1.1 0.9 2.1 0.6 1.7M337.9 424.1l1.8 1 0.4 1.3 2.2 2.1 0.5 1.4 1 1.9 2 1.1 1.6 0.5 1.3 1.7M348.8 316.5l0.8 -2.1 0.4 -1.8 0.3 -0.2 1.4 -2.2 1.7 -1.9 1 -1.8 0.7 -1.4 0.2 -0.7 1.1 -2.3M284.6 269.6l2.7 0.6 1.7 1 1 -0.4 2.2 0.6M282.2 459.9l2.3 -2 1.3 -1.2 0.4 -1 1.9 -1.5 1.3 -0.6 1.6 -1 1.9 -1.3 1.2 -1.4 1.9 -1.6M386.7 367.9l1.2 -1.9 0 -2 0.5 -1.3 1.1 -2.2 1.1 -1.3 1.2 -1.8 -0.2 -1.7 0 -2.4 1.2 -1.5"/><path stroke="#a0ff40" d="M363.3 325.6l1.4 1.3 1.2 1.4 2.1 2.1 2.1 1.2 1.7 -0.6 2.3 0.7 0.8 1.7 1.6 0.7M397.8 269.7l-2.1 -0.8 -1.7 0.2 -2.5 -0.2 -1.6 -0.3 -1.3 -1.2M316.9 341.6l-1.3 0 -2.5 -0.9 -2.5 -1.7 -1.5 0.4 -1.8 -0.4M275.7 305.6l-1 1.7 -0.8 1.9 -1.2 1.3 -0.9 3.2 -1.1 0.4 -0.7 2.8M312.8 437.8l-0.3 -2.4 0.8 -1.6 -0.2 -2.3 -0.1 -2.4 -0.1 -1.8M333.1 424.7l-2.1 -1.1 -2.1 0.1 -1.3 0 -1.9 -2 -1.5 -0.1 -1.2 -0.5 -2.1 -0.7M319.6 447l-0.5 -2.5 0.2 -1.7 0.1 -0.8 -0.5 -3.4 0.6 -1.9 0.1 -1.9 -0.1 -1.5 0.5 -1.9M419.4 314.5l1.1 -1.8 0.9 -1 1.1 -1.4 1.2 -1.9M274.6 372.3l-0.9 -1.3 -1.6 -1.3 -0.6 -2.1 -0.7 -1.2 -1.6 -0.6 -1 -2.5 -1.6 -1.3"/><path stroke="#ffd820" d="M407.2 255l-0.5 2.1 -0.6 1.5 -0.4 1.6 -1 0.7 -0.8 2.9 -0.9 1.1 -0.2 2.3M271.5 317.2l0.7 -1.8 0.8 -1.6 0.6 -1.5 1.7 -2.1 1 -1.5 0.5 -1 1.9 -2.1 1.3 -1.1M385.2 292.2l-1.1 1.4 -0.3 2 -1.4 1.5 -0.3 2.4 -0.6 1.5 -0.6 1.2 -0.5 2.1M287 367.4l1.2 -1.8 0.9 -1.9 0.6 -1.7 -0.3 -2.4 -0.2 -1.7 -0.2 -2.1M346.4 338.9l-0.7 -1.2 -0.6 -3.3 -0.2 -1.8 -1.3 -1.5 -1.1 -1.4M234.2 410.6l1.9 0.5 2.7 -0.1 1.4 -0.3 2.9 0.1 1.5 -0.4M237.8 459.9l2.5 0.9 0.6 0.3 1.4 1.8 2.5 0.2 1.6 0.4M290.2 415.7l-2.1 0.4 -1.5 1.1 -1.9 1.1 -3 0.2"/><path stroke="#40ff80" d="M418.1 404.1l0.6 -1.6 1.1 -2 1 -1.3 0.8 -1.3 1 -2.2M355 269.3l2.3 0.1 0.8 -0.5 2.7 -0.2 2 -0.4M363.4 256.4l1.9 1.3 1.6 -1.1 2.6 0.5 2 -0.3 1.7 0.9 2.2 0.5 1.9 0.4 2 -0.5M310.7 399l0.4 -1.6 2.2 -1.8 1.3 -1.3 1.1 -1.7M306.9 406.9l-1 2 -0.5 1.6 -0.9 1.9 -1.5 2.4"/><path stroke="#d01a08" d="M375.8 313.4l-2.7 1.1 -0.8 2.3 -1.4 1.3M271.2 447l0.3 -1.7 -0.8 -2.6 0.2 -1.4 0.5 -2.7 -0.6 -1.9M353.9 385.3l-2.2 -0.2 -1.2 0.6 -2.3 -0.1 -2.1 0.4 -1.8 -1.5 -1.6 0.5 -1.7 -1.1 -1.9 0.3 -2.1 -0.1 -1.5 0.6M406.7 326.1l-1.3 -1.4 -1.6 -1.2 -1.2 -1.9 -1.2 -0.5 -1.3 -1.5 -1.3 -0.2 -1.4 -2.5 -0.7 -1.4M232.7 279.1l1.6 1.3 2.3 0.4 1.8 1.3 1.1 0.6 1.1 0.7 1.6 2.5 2.1 0.5 1.2 1.3"/><path stroke="#3a70ff" d="M411.5 325.4l-2.1 -1.1 -1 -1 -1.6 -1.1 -0.9 -1 -1.8 -1.3M409.5 294l0.5 1.2 1.3 1.9 0.9 0.8 2 1.8 0.5 1.3 1.7 0.9 1.5 1.8 0.6 2 0.2 1 1.4 1.7 0.5 2M415.2 448.4l1.7 0.2 1.8 0.1 2.1 0.1 1.8 -0.3 2.7 -0.6 1.6 1.4 2.1 -0.8 2.5 -0.6 1.3 0.2 2.2 0.2M294.9 411.6l-1.4 2.4 -0.7 0.6 -0.9 2.9 -0.1 0.8 -1.1 2.3 0.6 0.7 -1.7 2.2 -0.6 1.8 -0.1 1.2 -0.4 2.8 -0.5 1M409.1 251.6l-2.3 0.1 -2 0.2 -1.3 0 -1.6 0.6 -2.4 0.3 -2.4 -0.4 -1.4 -0.6 -0.8 1.3 -2.4 0.6M404.6 315.1l0.1 -2 -0.4 -2.3 -0.3 -2 -0.2 -2.7 -0.4 -1.5"/><path stroke="#5040c0" d="M313.5 396.3l-0.9 -1.3 -1.4 -1.4 -1.5 -0.7 -1.8 -2.2 -1 -0.9 -0.7 -1.9 -1.1 -1.7M273.6 324.2l-1.5 -1 -0.9 -2.4 -0.3 -1.2 -0.6 -2.6 -0.5 -1.7 0 -3.1 -0.3 -1.8 -0.9 -1.1 -1 -1.8"/><path stroke="#30f0e0" d="M279 257.3l2.1 0.3 2.2 -1.4 0.9 0.2 2.8 0.9 1.7 0.1M280.8 306.5l-1.6 -1.7 -0.1 -1.3 -0.7 -2.5 -1.1 -2.3 -0.2 -1.5 0 -0.6 -1 -2.8 -0.4 -1.8"/><path stroke="#30b0e0" d="M230.7 257.2l2.2 -0.5 1.5 -0.6 1.9 -0.6 2.9 -0.6 1.7 -0.3M248.4 275.4l-1 0.4 -2.3 1.2 -2.3 0.9 -1.5 1.3"/><path stroke="#3a50e0" d="M220.3 296.7l0.1 2.6 0.8 2.7 0.3 1.6 0.9 2.4M223.1 277.5l0.9 -2.3 -0.7 -2.3 -0.5 -1.6 -0.1 -2.2 0.2 -2.2 0 -1.8 -0.5 -2.3 -0.5 -2.4M232.3 280.6l1.3 -1.5 2 -2.3 1.3 -2 2.1 -1.5M235.4 300.6l-0.7 2.3 -1.9 1.5 -1 0.9 -1.4 0.9 -1.7 1.9 -1.9 2 -1 1.5 -1.9 0.5 -1.5 1.2M249.3 299l0.6 1.2 0.3 4.2 -0.4 1.5 -0.7 2.2 0.5 2.7"/><path stroke="#e05010" d="M234.3 290.6l-0.8 2.2 -1.3 1.8 -1.8 1.4 -1.2 1.9 -1.5 1.6M239.4 279.5l0.8 -2.4 1 -1.2 1.4 -1.7 1.2 -1.9 1 -2.1 0.9 -1.6 1 -2.1 0.7 -1.8M230.3 284.5l2.4 -0.6 1.6 -0.3 2.8 -0.8 1.1 -0.9M220.3 289.9l-0.1 2.1 -0.1 1.9 0.1 3 -0.5 2.3 0.6 2.1"/><path stroke="#6040c0" d="M233.2 302l0.5 -1.3 2.3 -2.1 2.3 -0.8 1.6 -1 1.6 -0.8 2.1 -1.7 1.6 -1.2 1.8 -0.7 1.5 -0.7 2.1 -1.2M232.2 276.3l1.8 -0.6 2.2 -1.2 1.6 -0.1 2.3 0.6 1.9 -1.3 2.2 -1M227.3 290.7l-1.5 -2.4 -0.9 -1 -1.1 -2.1 -1.1 -1.1 -0.9 -1.5 -1.7 -1.9 -0.5 -2 -1.9 -1.5 -1.4 -1.6 -1.2 -1.6"/></g>
</g>
<linearGradient id="gI" x1="0" y1="0" x2="0" y2="1"><stop offset="0" stop-color="#a01010"/><stop offset="0.2" stop-color="#f05010"/><stop offset="0.4" stop-color="#f0d020"/><stop offset="0.6" stop-color="#60e050"/><stop offset="0.78" stop-color="#20d0d0"/><stop offset="0.9" stop-color="#4080f0"/><stop offset="1" stop-color="#403090"/></linearGradient>
<rect x="219.50" y="310.00" width="18.00" height="8.50" fill="#000" stroke="none" stroke-width="1" />
<text x="220.30" y="317.40" font-size="8.0" text-anchor="start" fill="#fff" font-weight="normal" >30 s</text>
<rect x="223.20" y="320.60" width="6.00" height="52.50" fill="url(#gI)" stroke="none" stroke-width="1" />
<rect x="220.00" y="375.50" width="14.00" height="8.50" fill="#000" stroke="none" stroke-width="1" />
<text x="221.20" y="382.60" font-size="8.0" text-anchor="start" fill="#fff" font-weight="normal" >0 s</text>
<rect x="217.80" y="263.30" width="28.40" height="2.60" fill="#fff" stroke="none" stroke-width="1" />
<text x="222.60" y="261.20" font-size="8.0" text-anchor="start" fill="#f4f4f4" font-weight="normal" >2 μm</text>
<text x="0.20" y="9.20" font-size="13" text-anchor="start" fill="#000" font-weight="bold" stroke="#000" stroke-width="0.4">a</text>
<text x="216.00" y="9.20" font-size="13" text-anchor="start" fill="#000" font-weight="bold" stroke="#000" stroke-width="0.4">b</text>
<text x="431.00" y="9.20" font-size="13" text-anchor="start" fill="#000" font-weight="bold" stroke="#000" stroke-width="0.4">c</text>
<text x="502.00" y="9.20" font-size="13" text-anchor="start" fill="#000" font-weight="bold" stroke="#000" stroke-width="0.4">d</text>
<text x="580.00" y="9.20" font-size="13" text-anchor="start" fill="#000" font-weight="bold" stroke="#000" stroke-width="0.4">e</text>
<text x="580.00" y="85.60" font-size="13" text-anchor="start" fill="#000" font-weight="bold" stroke="#000" stroke-width="0.4">f</text>
<text x="580.00" y="161.20" font-size="13" text-anchor="start" fill="#000" font-weight="bold" stroke="#000" stroke-width="0.4">g</text>
<text x="0.40" y="247.80" font-size="13" text-anchor="start" fill="#000" font-weight="bold" stroke="#000" stroke-width="0.4">h</text>
<text x="216.00" y="247.80" font-size="13" text-anchor="start" fill="#000" font-weight="bold" stroke="#000" stroke-width="0.4">i</text>
<text x="434.20" y="247.80" font-size="13" text-anchor="start" fill="#000" font-weight="bold" stroke="#000" stroke-width="0.4">j</text>
<text x="0.20" y="483.60" font-size="13" text-anchor="start" fill="#000" font-weight="bold" stroke="#000" stroke-width="0.4">k</text>
<text x="141.80" y="483.60" font-size="13" text-anchor="start" fill="#000" font-weight="bold" stroke="#000" stroke-width="0.4">l</text>
<text x="278.00" y="483.60" font-size="13" text-anchor="start" fill="#000" font-weight="bold" stroke="#000" stroke-width="0.4">m</text>
<text x="414.20" y="483.60" font-size="13" text-anchor="start" fill="#000" font-weight="bold" stroke="#000" stroke-width="0.4">n</text>
<text x="550.00" y="483.60" font-size="13" text-anchor="start" fill="#000" font-weight="bold" stroke="#000" stroke-width="0.4">o</text>
<line x1="603.20" y1="10.20" x2="603.20" y2="60.20" stroke="#4d4d4d" stroke-width="0.9" />
<line x1="603.20" y1="60.20" x2="669.70" y2="60.20" stroke="#4d4d4d" stroke-width="0.9" />
<line x1="600.20" y1="60.20" x2="603.20" y2="60.20" stroke="#4d4d4d" stroke-width="0.8" />
<text x="598.00" y="62.10" font-size="5.4" text-anchor="end" fill="#222222" font-weight="normal" >0</text>
<line x1="600.20" y1="50.30" x2="603.20" y2="50.30" stroke="#4d4d4d" stroke-width="0.8" />
<text x="598.00" y="52.20" font-size="5.4" text-anchor="end" fill="#222222" font-weight="normal" >0.2</text>
<line x1="600.20" y1="40.40" x2="603.20" y2="40.40" stroke="#4d4d4d" stroke-width="0.8" />
<text x="598.00" y="42.30" font-size="5.4" text-anchor="end" fill="#222222" font-weight="normal" >0.4</text>
<line x1="600.20" y1="30.50" x2="603.20" y2="30.50" stroke="#4d4d4d" stroke-width="0.8" />
<text x="598.00" y="32.40" font-size="5.4" text-anchor="end" fill="#222222" font-weight="normal" >0.6</text>
<line x1="600.20" y1="20.60" x2="603.20" y2="20.60" stroke="#4d4d4d" stroke-width="0.8" />
<text x="598.00" y="22.50" font-size="5.4" text-anchor="end" fill="#222222" font-weight="normal" >0.8</text>
<line x1="600.20" y1="10.70" x2="603.20" y2="10.70" stroke="#4d4d4d" stroke-width="0.8" />
<text x="598.00" y="12.60" font-size="5.4" text-anchor="end" fill="#222222" font-weight="normal" >1.0</text>
<line x1="603.20" y1="60.20" x2="603.20" y2="63.20" stroke="#4d4d4d" stroke-width="0.8" />
<text x="603.20" y="70.40" font-size="5.4" text-anchor="middle" fill="#222222" font-weight="normal" >0</text>
<line x1="616.50" y1="60.20" x2="616.50" y2="63.20" stroke="#4d4d4d" stroke-width="0.8" />
<text x="616.50" y="70.40" font-size="5.4" text-anchor="middle" fill="#222222" font-weight="normal" >100</text>
<line x1="629.80" y1="60.20" x2="629.80" y2="63.20" stroke="#4d4d4d" stroke-width="0.8" />
<text x="629.80" y="70.40" font-size="5.4" text-anchor="middle" fill="#222222" font-weight="normal" >200</text>
<line x1="643.10" y1="60.20" x2="643.10" y2="63.20" stroke="#4d4d4d" stroke-width="0.8" />
<text x="643.10" y="70.40" font-size="5.4" text-anchor="middle" fill="#222222" font-weight="normal" >300</text>
<line x1="656.40" y1="60.20" x2="656.40" y2="63.20" stroke="#4d4d4d" stroke-width="0.8" />
<text x="656.40" y="70.40" font-size="5.4" text-anchor="middle" fill="#222222" font-weight="normal" >400</text>
<line x1="669.70" y1="60.20" x2="669.70" y2="63.20" stroke="#4d4d4d" stroke-width="0.8" />
<text x="669.70" y="70.40" font-size="5.4" text-anchor="middle" fill="#222222" font-weight="normal" >500</text>
<text x="636.45" y="78.80" font-size="6.6" text-anchor="middle" fill="#222222" font-weight="normal" >Lateral distance (nm)</text>
<text x="0" y="0" font-size="6.6" text-anchor="middle" fill="#222222" transform="translate(585.00,35.45) rotate(-90)">Intensity (a.u.)</text>
<path d="M629.17,60.20 L630.51,57.73 L631.44,47.83 L632.24,37.92 L633.04,30.50 L633.84,24.56 L634.64,17.63 L635.43,15.65 L636.23,14.66 L636.77,12.19 L637.30,10.70 L637.83,13.18 L638.63,17.63 L639.43,24.56 L640.23,29.51 L641.03,35.45 L641.83,40.40 L642.63,44.36 L643.43,49.31 L644.23,52.28 L645.02,55.25 L645.82,57.23 L646.62,58.22 L647.42,57.73 L648.09,55.25 L648.62,57.23 L649.29,60.20" stroke="#231f20" stroke-width="0.9" fill="none" />
<path d="M623.18,60.15 L623.36,60.14 L623.53,60.13 L623.71,60.12 L623.88,60.11 L624.06,60.09 L624.23,60.07 L624.41,60.05 L624.59,60.03 L624.76,60.00 L624.94,59.96 L625.11,59.93 L625.29,59.88 L625.47,59.83 L625.64,59.78 L625.82,59.71 L625.99,59.64 L626.17,59.56 L626.34,59.46 L626.52,59.36 L626.70,59.24 L626.87,59.11 L627.05,58.97 L627.22,58.80 L627.40,58.62 L627.58,58.42 L627.75,58.20 L627.93,57.96 L628.10,57.69 L628.28,57.39 L628.45,57.07 L628.63,56.71 L628.81,56.33 L628.98,55.91 L629.16,55.46 L629.33,54.97 L629.51,54.44 L629.69,53.87 L629.86,53.27 L630.04,52.61 L630.21,51.92 L630.39,51.18 L630.56,50.40 L630.74,49.57 L630.92,48.70 L631.09,47.78 L631.27,46.82 L631.44,45.81 L631.62,44.76 L631.80,43.67 L631.97,42.55 L632.15,41.38 L632.32,40.18 L632.50,38.95 L632.67,37.69 L632.85,36.41 L633.03,35.11 L633.20,33.80 L633.38,32.47 L633.55,31.15 L633.73,29.82 L633.91,28.50 L634.08,27.20 L634.26,25.91 L634.43,24.65 L634.61,23.43 L634.78,22.24 L634.96,21.10 L635.14,20.01 L635.31,18.98 L635.49,18.01 L635.66,17.12 L635.84,16.30 L636.02,15.56 L636.19,14.90 L636.37,14.33 L636.54,13.86 L636.72,13.48 L636.89,13.20 L637.07,13.01 L637.25,12.93 L637.42,12.95 L637.60,13.07 L637.77,13.29 L637.95,13.62 L638.13,14.03 L638.30,14.54 L638.48,15.15 L638.65,15.84 L638.83,16.61 L639.00,17.46 L639.18,18.39 L639.36,19.38 L639.53,20.43 L639.71,21.54 L639.88,22.70 L640.06,23.91 L640.23,25.15 L640.41,26.42 L640.59,27.71 L640.76,29.02 L640.94,30.34 L641.11,31.67 L641.29,33.00 L641.47,34.32 L641.64,35.63 L641.82,36.92 L641.99,38.19 L642.17,39.44 L642.34,40.66 L642.52,41.84 L642.70,42.99 L642.87,44.11 L643.05,45.18 L643.22,46.21 L643.40,47.20 L643.58,48.15 L643.75,49.05 L643.93,49.90 L644.10,50.71 L644.28,51.48 L644.45,52.20 L644.63,52.88 L644.81,53.51 L644.98,54.10 L645.16,54.65 L645.33,55.17 L645.51,55.64 L645.69,56.08 L645.86,56.48 L646.04,56.86 L646.21,57.20 L646.39,57.51 L646.56,57.80 L646.74,58.05 L646.92,58.29 L647.09,58.50 L647.27,58.70 L647.44,58.87 L647.62,59.03 L647.80,59.17 L647.97,59.29 L648.15,59.40 L648.32,59.50 L648.50,59.59 L648.67,59.67 L648.85,59.74 L649.03,59.80 L649.20,59.85 L649.38,59.90 L649.55,59.94 L649.73,59.98 L649.91,60.01 L650.08,60.04 L650.26,60.06 L650.43,60.08 L650.61,60.10 L650.78,60.11 L650.96,60.13 L651.14,60.14 L651.31,60.15 L651.49,60.16 L651.66,60.16 L651.84,60.17 L652.02,60.17 L652.19,60.18 L652.37,60.18" stroke="#ff33ff" stroke-width="1.2" fill="none" />
<line x1="644.40" y1="10.80" x2="651.60" y2="10.80" stroke="#231f20" stroke-width="1.0" />
<text x="655.50" y="12.80" font-size="5.4" text-anchor="start" fill="#222222" font-weight="normal" >Intensity</text>
<line x1="644.40" y1="17.90" x2="651.60" y2="17.90" stroke="#ff33ff" stroke-width="1.1" />
<text x="655.50" y="19.90" font-size="5.4" text-anchor="start" fill="#222222" font-weight="normal" >Fitting</text>
<text x="644.50" y="33.40" font-size="5.0" text-anchor="start" fill="#222222" font-weight="normal" >FWHM = 67 nm</text>
<line x1="603.20" y1="85.90" x2="603.20" y2="135.90" stroke="#4d4d4d" stroke-width="0.9" />
<line x1="603.20" y1="135.90" x2="669.70" y2="135.90" stroke="#4d4d4d" stroke-width="0.9" />
<line x1="600.20" y1="135.90" x2="603.20" y2="135.90" stroke="#4d4d4d" stroke-width="0.8" />
<text x="598.00" y="137.80" font-size="5.4" text-anchor="end" fill="#222222" font-weight="normal" >0</text>
<line x1="600.20" y1="126.00" x2="603.20" y2="126.00" stroke="#4d4d4d" stroke-width="0.8" />
<text x="598.00" y="127.90" font-size="5.4" text-anchor="end" fill="#222222" font-weight="normal" >0.2</text>
<line x1="600.20" y1="116.10" x2="603.20" y2="116.10" stroke="#4d4d4d" stroke-width="0.8" />
<text x="598.00" y="118.00" font-size="5.4" text-anchor="end" fill="#222222" font-weight="normal" >0.4</text>
<line x1="600.20" y1="106.20" x2="603.20" y2="106.20" stroke="#4d4d4d" stroke-width="0.8" />
<text x="598.00" y="108.10" font-size="5.4" text-anchor="end" fill="#222222" font-weight="normal" >0.6</text>
<line x1="600.20" y1="96.30" x2="603.20" y2="96.30" stroke="#4d4d4d" stroke-width="0.8" />
<text x="598.00" y="98.20" font-size="5.4" text-anchor="end" fill="#222222" font-weight="normal" >0.8</text>
<line x1="600.20" y1="86.40" x2="603.20" y2="86.40" stroke="#4d4d4d" stroke-width="0.8" />
<text x="598.00" y="88.30" font-size="5.4" text-anchor="end" fill="#222222" font-weight="normal" >1.0</text>
<line x1="603.20" y1="135.90" x2="603.20" y2="138.90" stroke="#4d4d4d" stroke-width="0.8" />
<text x="603.20" y="146.10" font-size="5.4" text-anchor="middle" fill="#222222" font-weight="normal" >0</text>
<line x1="616.50" y1="135.90" x2="616.50" y2="138.90" stroke="#4d4d4d" stroke-width="0.8" />
<text x="616.50" y="146.10" font-size="5.4" text-anchor="middle" fill="#222222" font-weight="normal" >100</text>
<line x1="629.80" y1="135.90" x2="629.80" y2="138.90" stroke="#4d4d4d" stroke-width="0.8" />
<text x="629.80" y="146.10" font-size="5.4" text-anchor="middle" fill="#222222" font-weight="normal" >200</text>
<line x1="643.10" y1="135.90" x2="643.10" y2="138.90" stroke="#4d4d4d" stroke-width="0.8" />
<text x="643.10" y="146.10" font-size="5.4" text-anchor="middle" fill="#222222" font-weight="normal" >300</text>
<line x1="656.40" y1="135.90" x2="656.40" y2="138.90" stroke="#4d4d4d" stroke-width="0.8" />
<text x="656.40" y="146.10" font-size="5.4" text-anchor="middle" fill="#222222" font-weight="normal" >400</text>
<line x1="669.70" y1="135.90" x2="669.70" y2="138.90" stroke="#4d4d4d" stroke-width="0.8" />
<text x="669.70" y="146.10" font-size="5.4" text-anchor="middle" fill="#222222" font-weight="normal" >500</text>
<text x="636.45" y="154.50" font-size="6.6" text-anchor="middle" fill="#222222" font-weight="normal" >Axial distance (nm)</text>
<text x="0" y="0" font-size="6.6" text-anchor="middle" fill="#222222" transform="translate(585.00,111.15) rotate(-90)">Intensity (a.u.)</text>
<path d="M603.20,133.43 L604.53,132.93 L605.86,132.44 L607.20,131.44 L608.53,130.46 L609.86,129.96 L611.19,130.46 L612.52,131.94 L613.86,132.93 L615.19,132.44 L616.52,133.43 L617.85,132.93 L619.18,131.94 L620.52,131.44 L621.85,131.94 L623.18,132.44 L624.51,132.93 L625.84,132.44 L627.18,130.95 L628.51,127.98 L629.84,122.04 L631.17,114.62 L632.50,105.21 L633.84,96.30 L634.90,90.36 L635.70,86.40 L636.50,87.89 L637.30,89.87 L638.10,95.31 L639.16,101.25 L640.50,110.16 L641.83,118.08 L643.16,123.53 L644.49,127.98 L645.82,130.95 L647.16,132.44 L648.49,133.92 L649.82,134.91 L651.15,135.41 L653.82,135.90 L659.14,135.90 L664.47,135.41 L669.80,135.90" stroke="#231f20" stroke-width="0.9" fill="none" />
<path d="M603.20,133.92 L603.73,133.92 L604.27,133.92 L604.80,133.92 L605.33,133.92 L605.86,133.92 L606.40,133.92 L606.93,133.92 L607.46,133.92 L608.00,133.92 L608.53,133.92 L609.06,133.92 L609.59,133.92 L610.13,133.92 L610.66,133.92 L611.19,133.92 L611.72,133.92 L612.26,133.92 L612.79,133.92 L613.32,133.92 L613.86,133.92 L614.39,133.92 L614.92,133.92 L615.45,133.92 L615.99,133.92 L616.52,133.92 L617.05,133.92 L617.59,133.92 L618.12,133.92 L618.65,133.92 L619.18,133.92 L619.72,133.91 L620.25,133.91 L620.78,133.90 L621.32,133.89 L621.85,133.87 L622.38,133.83 L622.91,133.78 L623.45,133.70 L623.98,133.58 L624.51,133.41 L625.04,133.17 L625.58,132.83 L626.11,132.37 L626.64,131.75 L627.18,130.93 L627.71,129.87 L628.24,128.54 L628.77,126.89 L629.31,124.91 L629.84,122.56 L630.37,119.86 L630.91,116.83 L631.44,113.50 L631.97,109.96 L632.50,106.30 L633.04,102.64 L633.57,99.12 L634.10,95.88 L634.64,93.08 L635.17,90.84 L635.70,89.28 L636.23,88.48 L636.77,88.48 L637.30,89.28 L637.83,90.84 L638.36,93.08 L638.90,95.88 L639.43,99.12 L639.96,102.64 L640.50,106.30 L641.03,109.96 L641.56,113.50 L642.09,116.83 L642.63,119.86 L643.16,122.56 L643.69,124.91 L644.23,126.89 L644.76,128.54 L645.29,129.87 L645.82,130.93 L646.36,131.75 L646.89,132.37 L647.42,132.83 L647.96,133.17 L648.49,133.41 L649.02,133.58 L649.55,133.70 L650.09,133.78 L650.62,133.83 L651.15,133.87 L651.68,133.89 L652.22,133.90 L652.75,133.91 L653.28,133.91 L653.82,133.92 L654.35,133.92 L654.88,133.92 L655.41,133.92 L655.95,133.92 L656.48,133.92 L657.01,133.92 L657.55,133.92 L658.08,133.92 L658.61,133.92 L659.14,133.92 L659.68,133.92 L660.21,133.92 L660.74,133.92 L661.28,133.92 L661.81,133.92 L662.34,133.92 L662.87,133.92 L663.41,133.92 L663.94,133.92 L664.47,133.92 L665.00,133.92 L665.54,133.92 L666.07,133.92 L666.60,133.92 L667.14,133.92 L667.67,133.92 L668.20,133.92 L668.73,133.92 L669.27,133.92 L669.80,133.92" stroke="#ff33ff" stroke-width="1.2" fill="none" />
<text x="644.50" y="104.20" font-size="5.0" text-anchor="start" fill="#222222" font-weight="normal" >FWHM = 71 nm</text>
<line x1="603.20" y1="161.35" x2="603.20" y2="210.50" stroke="#4d4d4d" stroke-width="0.9" />
<line x1="603.20" y1="210.50" x2="669.60" y2="210.50" stroke="#4d4d4d" stroke-width="0.9" />
<line x1="600.20" y1="206.40" x2="603.20" y2="206.40" stroke="#4d4d4d" stroke-width="0.8" />
<text x="598.00" y="208.30" font-size="5.4" text-anchor="end" fill="#222222" font-weight="normal" >0</text>
<line x1="600.20" y1="197.49" x2="603.20" y2="197.49" stroke="#4d4d4d" stroke-width="0.8" />
<text x="598.00" y="199.39" font-size="5.4" text-anchor="end" fill="#222222" font-weight="normal" >0.2</text>
<line x1="600.20" y1="188.58" x2="603.20" y2="188.58" stroke="#4d4d4d" stroke-width="0.8" />
<text x="598.00" y="190.48" font-size="5.4" text-anchor="end" fill="#222222" font-weight="normal" >0.4</text>
<line x1="600.20" y1="179.67" x2="603.20" y2="179.67" stroke="#4d4d4d" stroke-width="0.8" />
<text x="598.00" y="181.57" font-size="5.4" text-anchor="end" fill="#222222" font-weight="normal" >0.6</text>
<line x1="600.20" y1="170.76" x2="603.20" y2="170.76" stroke="#4d4d4d" stroke-width="0.8" />
<text x="598.00" y="172.66" font-size="5.4" text-anchor="end" fill="#222222" font-weight="normal" >0.8</text>
<line x1="600.20" y1="161.85" x2="603.20" y2="161.85" stroke="#4d4d4d" stroke-width="0.8" />
<text x="598.00" y="163.75" font-size="5.4" text-anchor="end" fill="#222222" font-weight="normal" >1.0</text>
<line x1="603.20" y1="210.50" x2="603.20" y2="213.50" stroke="#4d4d4d" stroke-width="0.8" />
<text x="603.20" y="220.50" font-size="5.4" text-anchor="middle" fill="#222222" font-weight="normal" >0</text>
<line x1="616.48" y1="210.50" x2="616.48" y2="213.50" stroke="#4d4d4d" stroke-width="0.8" />
<text x="616.48" y="220.50" font-size="5.4" text-anchor="middle" fill="#222222" font-weight="normal" >0.02</text>
<line x1="629.76" y1="210.50" x2="629.76" y2="213.50" stroke="#4d4d4d" stroke-width="0.8" />
<text x="629.76" y="220.50" font-size="5.4" text-anchor="middle" fill="#222222" font-weight="normal" >0.04</text>
<line x1="643.04" y1="210.50" x2="643.04" y2="213.50" stroke="#4d4d4d" stroke-width="0.8" />
<text x="643.04" y="220.50" font-size="5.4" text-anchor="middle" fill="#222222" font-weight="normal" >0.06</text>
<line x1="656.32" y1="210.50" x2="656.32" y2="213.50" stroke="#4d4d4d" stroke-width="0.8" />
<text x="656.32" y="220.50" font-size="5.4" text-anchor="middle" fill="#222222" font-weight="normal" >0.08</text>
<line x1="669.60" y1="210.50" x2="669.60" y2="213.50" stroke="#4d4d4d" stroke-width="0.8" />
<text x="669.60" y="220.50" font-size="5.4" text-anchor="middle" fill="#222222" font-weight="normal" >0.10</text>
<text x="636.40" y="228.90" font-size="6.6" text-anchor="middle" fill="#222222">Spatial frequency (nm<tspan font-size="4.4" dy="-2.6">−1</tspan><tspan dy="2.6">)</tspan></text>
<text x="0" y="0" font-size="6.6" text-anchor="middle" fill="#222222" transform="translate(585.00,186.18) rotate(-90)">FRC</text>
<line x1="603.20" y1="200.03" x2="669.60" y2="200.03" stroke="#f39a9a" stroke-width="1.6" />
<path d="M603.20,162.53 L603.62,162.68 L604.03,162.87 L604.45,163.10 L604.86,163.39 L605.28,163.73 L605.69,164.15 L606.11,164.66 L606.52,165.28 L606.94,166.01 L607.35,166.88 L607.77,167.90 L608.18,169.08 L608.60,170.44 L609.01,171.97 L609.43,173.67 L609.84,175.51 L610.25,177.48 L610.67,179.53 L611.09,181.62 L611.50,183.75 L611.92,185.72 L612.33,187.78 L612.75,189.45 L613.16,191.12 L613.58,193.39 L613.99,195.00 L614.41,194.97 L614.82,197.20 L615.24,198.36 L615.65,197.54 L616.07,199.66 L616.48,199.39 L616.90,201.11 L617.31,201.20 L617.73,203.44 L618.14,202.23 L618.56,201.84 L618.97,203.47 L619.38,203.04 L619.80,203.61 L620.22,206.05 L620.63,203.82 L621.05,204.63 L621.46,205.85 L621.88,206.98 L622.29,204.15 L622.71,205.68 L623.12,204.91 L623.54,204.44 L623.95,205.11 L624.37,204.44 L624.78,206.38 L625.20,204.99 L625.61,206.30 L626.03,204.60 L626.44,204.83 L626.86,207.65 L627.27,207.54 L627.69,207.27 L628.10,204.62 L628.52,206.52 L628.93,205.86 L629.35,207.03 L629.76,206.31 L630.18,206.75 L630.59,206.88 L631.00,206.05 L631.42,206.06 L631.84,204.93 L632.25,205.72 L632.67,204.85 L633.08,205.11 L633.50,204.63 L633.91,205.77 L634.33,207.59 L634.74,205.10 L635.16,204.73 L635.57,204.95 L635.99,206.15 L636.40,205.63 L636.82,207.42 L637.23,205.21 L637.65,206.13 L638.06,207.16 L638.48,207.95 L638.89,205.14 L639.31,204.65 L639.72,207.86 L640.13,205.33 L640.55,206.72 L640.97,207.64 L641.38,207.13 L641.80,205.44 L642.21,205.07 L642.62,208.02 L643.04,205.99 L643.46,208.02 L643.87,205.62 L644.29,207.00 L644.70,205.04 L645.12,204.69 L645.53,206.38 L645.95,204.62 L646.36,207.08 L646.78,207.91 L647.19,206.04 L647.61,208.07 L648.02,207.48 L648.44,206.73 L648.85,206.01 L649.27,207.63 L649.68,208.03 L650.10,205.09 L650.51,207.06 L650.93,204.77 L651.34,204.99 L651.76,206.84 L652.17,206.54 L652.59,206.33 L653.00,205.89 L653.42,206.06 L653.83,206.19 L654.25,205.97 L654.66,204.83 L655.08,206.37 L655.49,206.65 L655.91,205.61 L656.32,207.34 L656.74,207.11 L657.15,204.70 L657.57,206.32 L657.98,206.23 L658.40,208.14 L658.81,206.70 L659.23,206.12 L659.64,208.11 L660.06,205.99 L660.47,205.93 L660.88,207.97 L661.30,205.95 L661.72,206.52 L662.13,205.76 L662.55,206.93 L662.96,205.66 L663.38,205.55 L663.79,208.10 L664.21,207.97 L664.62,205.77 L665.04,204.75 L665.45,207.29 L665.87,206.56 L666.28,206.07 L666.70,207.04 L667.11,206.88 L667.53,207.07 L667.94,206.87 L668.36,206.06 L668.77,207.11 L669.19,206.84 L669.60,205.43" stroke="#29b6f6" stroke-width="0.9" fill="none" />
<path d="M603.20,162.48 L603.62,162.65 L604.03,162.87 L604.45,163.14 L604.86,163.48 L605.28,163.90 L605.69,164.43 L606.11,165.09 L606.52,165.90 L606.94,166.89 L607.35,168.08 L607.77,169.49 L608.18,171.13 L608.60,173.01 L609.01,175.11 L609.43,177.40 L609.84,179.83 L610.25,182.34 L610.67,184.84 L611.09,187.28 L611.50,189.57 L611.92,191.63 L612.33,193.48 L612.75,195.01 L613.16,196.64 L613.58,197.68 L613.99,200.08 L614.41,200.41 L614.82,200.33 L615.24,201.61 L615.65,201.60 L616.07,204.12 L616.48,203.66 L616.90,204.76 L617.31,204.19 L617.73,204.37 L618.14,206.63 L618.56,206.12 L618.97,206.09 L619.38,203.99 L619.80,204.66 L620.22,206.94 L620.63,204.77 L621.05,207.21 L621.46,205.58 L621.88,207.39 L622.29,207.89 L622.71,204.83 L623.12,207.23 L623.54,207.24 L623.95,204.53 L624.37,204.95 L624.78,207.05 L625.20,204.67 L625.61,206.18 L626.03,205.70 L626.44,207.40 L626.86,204.78 L627.27,205.68 L627.69,204.70 L628.10,204.97 L628.52,207.09 L628.93,206.88 L629.35,207.57 L629.76,207.65 L630.18,207.94 L630.59,207.10 L631.00,206.02 L631.42,208.16 L631.84,205.76 L632.25,206.97 L632.67,207.07 L633.08,205.26 L633.50,206.47 L633.91,207.05 L634.33,206.46 L634.74,205.67 L635.16,207.98 L635.57,204.71 L635.99,208.10 L636.40,205.51 L636.82,205.17 L637.23,208.12 L637.65,205.37 L638.06,206.88 L638.48,206.12 L638.89,208.15 L639.31,208.02 L639.72,207.54 L640.13,204.78 L640.55,207.48 L640.97,205.49 L641.38,204.87 L641.80,204.82 L642.21,206.95 L642.62,206.92 L643.04,206.31 L643.46,205.42 L643.87,207.80 L644.29,205.51 L644.70,205.34 L645.12,205.12 L645.53,208.05 L645.95,204.81 L646.36,207.86 L646.78,206.97 L647.19,206.00 L647.61,204.91 L648.02,206.97 L648.44,204.89 L648.85,206.24 L649.27,207.07 L649.68,207.05 L650.10,207.55 L650.51,207.90 L650.93,207.65 L651.34,205.73 L651.76,204.63 L652.17,207.61 L652.59,208.01 L653.00,204.67 L653.42,206.28 L653.83,206.74 L654.25,207.34 L654.66,206.07 L655.08,205.24 L655.49,206.56 L655.91,206.68 L656.32,207.98 L656.74,204.92 L657.15,208.07 L657.57,206.42 L657.98,205.19 L658.40,207.72 L658.81,205.57 L659.23,204.80 L659.64,205.94 L660.06,205.37 L660.47,207.80 L660.88,206.63 L661.30,207.65 L661.72,205.17 L662.13,207.13 L662.55,206.57 L662.96,204.62 L663.38,205.14 L663.79,204.70 L664.21,206.57 L664.62,206.44 L665.04,205.58 L665.45,206.47 L665.87,207.14 L666.28,206.74 L666.70,207.66 L667.11,206.84 L667.53,204.66 L667.94,204.76 L668.36,205.95 L668.77,206.40 L669.19,206.98 L669.60,207.86" stroke="#ff33ff" stroke-width="0.9" fill="none" />
<path d="M603.20,163.48 L603.62,163.99 L604.03,164.64 L604.45,165.49 L604.86,166.56 L605.28,167.89 L605.69,169.53 L606.11,171.51 L606.52,173.83 L606.94,176.48 L607.35,179.39 L607.77,182.48 L608.18,185.64 L608.60,188.74 L609.01,191.66 L609.43,194.32 L609.84,196.65 L610.25,198.64 L610.67,200.30 L611.09,201.65 L611.50,202.75 L611.92,203.68 L612.33,204.17 L612.75,205.03 L613.16,205.12 L613.58,205.58 L613.99,206.19 L614.41,205.85 L614.82,206.67 L615.24,206.20 L615.65,206.94 L616.07,207.03 L616.48,206.43 L616.90,205.55 L617.31,207.26 L617.73,207.07 L618.14,206.02 L618.56,205.17 L618.97,206.17 L619.38,206.66 L619.80,205.11 L620.22,207.60 L620.63,205.43 L621.05,206.96 L621.46,207.35 L621.88,207.42 L622.29,206.91 L622.71,205.55 L623.12,207.25 L623.54,206.18 L623.95,206.03 L624.37,206.74 L624.78,206.27 L625.20,207.57 L625.61,207.58 L626.03,207.19 L626.44,205.92 L626.86,206.59 L627.27,206.90 L627.69,206.17 L628.10,206.53 L628.52,206.94 L628.93,205.61 L629.35,205.87 L629.76,207.08 L630.18,206.20 L630.59,206.33 L631.00,205.40 L631.42,205.79 L631.84,206.97 L632.25,205.12 L632.67,207.42 L633.08,206.62 L633.50,205.71 L633.91,207.33 L634.33,206.43 L634.74,207.63 L635.16,205.95 L635.57,205.69 L635.99,206.20 L636.40,205.40 L636.82,206.90 L637.23,205.88 L637.65,206.15 L638.06,206.19 L638.48,206.52 L638.89,205.49 L639.31,205.21 L639.72,206.47 L640.13,205.96 L640.55,207.57 L640.97,205.86 L641.38,206.01 L641.80,205.08 L642.21,205.54 L642.62,206.98 L643.04,206.71 L643.46,205.95 L643.87,207.68 L644.29,206.50 L644.70,207.29 L645.12,207.42 L645.53,207.58 L645.95,205.68 L646.36,207.39 L646.78,207.07 L647.19,206.69 L647.61,205.41 L648.02,207.52 L648.44,206.54 L648.85,206.27 L649.27,205.38 L649.68,205.55 L650.10,205.43 L650.51,206.99 L650.93,206.63 L651.34,206.78 L651.76,205.37 L652.17,205.18 L652.59,207.33 L653.00,207.27 L653.42,207.12 L653.83,207.11 L654.25,206.44 L654.66,206.16 L655.08,207.03 L655.49,207.73 L655.91,206.62 L656.32,206.75 L656.74,206.22 L657.15,205.19 L657.57,205.89 L657.98,206.36 L658.40,206.09 L658.81,205.93 L659.23,207.59 L659.64,205.33 L660.06,205.65 L660.47,205.40 L660.88,205.60 L661.30,206.69 L661.72,206.67 L662.13,207.46 L662.55,206.04 L662.96,207.57 L663.38,207.56 L663.79,207.18 L664.21,207.30 L664.62,206.83 L665.04,207.60 L665.45,207.74 L665.87,207.33 L666.28,207.47 L666.70,206.76 L667.11,207.67 L667.53,205.40 L667.94,206.10 L668.36,207.34 L668.77,207.06 L669.19,206.81 L669.60,206.76" stroke="#33ee33" stroke-width="0.9" fill="none" />
<line x1="632.20" y1="171.80" x2="639.80" y2="171.80" stroke="#33ee33" stroke-width="1.2" />
<text x="643.6" y="173.70" font-size="5.4" fill="#222222">FRC<tspan font-size="3.6" dy="1.2">xy</tspan><tspan dy="-1.2"> = 60 nm</tspan></text>
<line x1="632.20" y1="178.30" x2="639.80" y2="178.30" stroke="#29b6f6" stroke-width="1.2" />
<text x="643.6" y="180.20" font-size="5.4" fill="#222222">FRC<tspan font-size="3.6" dy="1.2">xz</tspan><tspan dy="-1.2"> = 41 nm</tspan></text>
<line x1="632.20" y1="185.00" x2="639.80" y2="185.00" stroke="#ff33ff" stroke-width="1.2" />
<text x="643.6" y="186.90" font-size="5.4" fill="#222222">FRC<tspan font-size="3.6" dy="1.2">yz</tspan><tspan dy="-1.2"> = 51 nm</tspan></text>
<line x1="34.60" y1="483.40" x2="34.60" y2="555.30" stroke="#9a9a9a" stroke-width="1.0" />
<line x1="29.60" y1="555.30" x2="34.60" y2="555.30" stroke="#9a9a9a" stroke-width="1.0" />
<text x="25.80" y="558.20" font-size="8.1" text-anchor="end" fill="#222222" font-weight="normal" >0</text>
<line x1="29.60" y1="541.02" x2="34.60" y2="541.02" stroke="#9a9a9a" stroke-width="1.0" />
<text x="25.80" y="543.92" font-size="8.1" text-anchor="end" fill="#222222" font-weight="normal" >0.2</text>
<line x1="29.60" y1="526.74" x2="34.60" y2="526.74" stroke="#9a9a9a" stroke-width="1.0" />
<text x="25.80" y="529.64" font-size="8.1" text-anchor="end" fill="#222222" font-weight="normal" >0.4</text>
<line x1="29.60" y1="512.46" x2="34.60" y2="512.46" stroke="#9a9a9a" stroke-width="1.0" />
<text x="25.80" y="515.36" font-size="8.1" text-anchor="end" fill="#222222" font-weight="normal" >0.6</text>
<line x1="29.60" y1="498.18" x2="34.60" y2="498.18" stroke="#9a9a9a" stroke-width="1.0" />
<text x="25.80" y="501.08" font-size="8.1" text-anchor="end" fill="#222222" font-weight="normal" >0.8</text>
<line x1="29.60" y1="483.90" x2="34.60" y2="483.90" stroke="#9a9a9a" stroke-width="1.0" />
<text x="25.80" y="486.80" font-size="8.1" text-anchor="end" fill="#222222" font-weight="normal" >1.0</text>
<text x="0" y="0" font-size="8.8" text-anchor="middle" fill="#222222" transform="translate(7.20,519.60) rotate(-90)">Ratio</text>
<line x1="34.60" y1="555.30" x2="130.10" y2="555.30" stroke="#9a9a9a" stroke-width="1.0" />
<line x1="34.60" y1="555.30" x2="34.60" y2="559.80" stroke="#9a9a9a" stroke-width="1.0" />
<text x="34.60" y="570.50" font-size="8.1" text-anchor="middle" fill="#222222" font-weight="normal" >0</text>
<line x1="57.40" y1="555.30" x2="57.40" y2="559.80" stroke="#9a9a9a" stroke-width="1.0" />
<text x="57.40" y="570.50" font-size="8.1" text-anchor="middle" fill="#222222" font-weight="normal" >5</text>
<line x1="80.20" y1="555.30" x2="80.20" y2="559.80" stroke="#9a9a9a" stroke-width="1.0" />
<text x="80.20" y="570.50" font-size="8.1" text-anchor="middle" fill="#222222" font-weight="normal" >10</text>
<line x1="103.00" y1="555.30" x2="103.00" y2="559.80" stroke="#9a9a9a" stroke-width="1.0" />
<text x="103.00" y="570.50" font-size="8.1" text-anchor="middle" fill="#222222" font-weight="normal" >15</text>
<line x1="125.80" y1="555.30" x2="125.80" y2="559.80" stroke="#9a9a9a" stroke-width="1.0" />
<text x="125.80" y="570.50" font-size="8.1" text-anchor="middle" fill="#222222" font-weight="normal" >20</text>
<text x="82.35" y="583.10" font-size="8.8" text-anchor="middle" fill="#222222" font-weight="normal" >Precision (nm)</text>
<path d="M34.60,555.30 L35.51,555.30 L36.42,555.30 L37.34,555.30 L38.25,555.30 L39.16,555.30 L40.07,554.37 L40.98,551.87 L41.90,550.96 L42.81,546.01 L43.72,533.93 L44.63,526.17 L45.54,515.03 L46.46,497.66 L47.37,492.16 L48.28,483.72 L49.19,484.79 L50.10,485.90 L51.02,488.41 L51.93,489.73 L52.84,491.78 L53.75,495.29 L54.66,498.21 L55.58,499.39 L56.49,503.47 L57.40,507.72 L58.31,510.00 L59.22,511.74 L60.14,514.70 L61.05,516.89 L61.96,518.48 L62.87,519.12 L63.78,520.01 L64.70,522.75 L65.61,524.47 L66.52,525.76 L67.43,526.80 L68.34,527.87 L69.26,530.10 L70.17,531.05 L71.08,530.88 L71.99,531.96 L72.90,534.04 L73.82,534.30 L74.73,535.71 L75.64,536.33 L76.55,536.48 L77.46,537.79 L78.38,539.02 L79.29,540.83 L80.20,540.20 L81.11,540.37 L82.02,542.12 L82.94,541.66 L83.85,542.41 L84.76,543.59 L85.67,544.21 L86.58,544.96 L87.50,544.77 L88.41,545.88 L89.32,545.45 L90.23,546.35 L91.14,545.66 L92.06,545.95 L92.97,547.09 L93.88,547.33 L94.79,547.15 L95.70,547.87 L96.62,548.60 L97.53,549.27 L98.44,549.17 L99.35,548.59 L100.26,549.67 L101.18,548.64 L102.09,550.03 L103.00,549.24 L103.91,550.59 L104.82,549.77 L105.74,550.44 L106.65,550.95 L107.56,550.99 L108.47,550.79 L109.38,550.98 L110.30,551.57 L111.21,551.89 L112.12,551.53 L113.03,550.97 L113.94,551.64 L114.86,552.70 L115.77,551.51 L116.68,551.70 L117.59,551.40 L118.50,552.67 L119.42,551.78 L120.33,553.03 L121.24,552.10 L122.15,552.85 L123.06,553.04 L123.98,552.03 L124.89,553.46 L125.80,552.84 L126.71,552.36 L127.62,553.48 L128.54,553.60 L129.45,552.49" stroke="#ff33ff" stroke-width="1.3" fill="none" stroke-linejoin="round"/>
<path d="M34.60,555.30 L35.51,555.30 L36.42,555.30 L37.34,555.30 L38.25,555.30 L39.16,555.30 L40.07,555.30 L40.98,555.30 L41.90,555.30 L42.81,555.30 L43.72,555.30 L44.63,555.30 L45.54,555.30 L46.46,554.37 L47.37,553.10 L48.28,551.65 L49.19,544.55 L50.10,530.40 L51.02,522.95 L51.93,517.44 L52.84,505.49 L53.75,497.60 L54.66,495.45 L55.58,489.64 L56.49,485.19 L57.40,485.02 L58.31,483.32 L59.22,484.87 L60.14,486.31 L61.05,488.07 L61.96,488.65 L62.87,491.17 L63.78,494.17 L64.70,494.58 L65.61,497.25 L66.52,502.14 L67.43,504.80 L68.34,507.64 L69.26,508.84 L70.17,511.45 L71.08,513.26 L71.99,517.18 L72.90,518.91 L73.82,519.19 L74.73,521.08 L75.64,523.16 L76.55,526.50 L77.46,527.41 L78.38,528.44 L79.29,528.81 L80.20,530.73 L81.11,533.90 L82.02,535.04 L82.94,535.17 L83.85,534.54 L84.76,536.55 L85.67,537.59 L86.58,539.56 L87.50,540.47 L88.41,541.58 L89.32,541.99 L90.23,541.75 L91.14,542.18 L92.06,542.28 L92.97,543.43 L93.88,543.85 L94.79,544.82 L95.70,545.37 L96.62,546.56 L97.53,547.86 L98.44,546.83 L99.35,546.74 L100.26,547.09 L101.18,548.02 L102.09,548.21 L103.00,549.55 L103.91,548.96 L104.82,549.84 L105.74,550.69 L106.65,551.32 L107.56,550.05 L108.47,549.87 L109.38,551.55 L110.30,550.53 L111.21,551.44 L112.12,552.15 L113.03,552.17 L113.94,551.60 L114.86,551.62 L115.77,553.18 L116.68,552.25 L117.59,553.24 L118.50,552.14 L119.42,552.88 L120.33,552.04 L121.24,551.99 L122.15,552.94 L123.06,552.23 L123.98,553.23 L124.89,553.37 L125.80,553.50 L126.71,553.62 L127.62,553.72 L128.54,553.80 L129.45,553.85" stroke="#33ee33" stroke-width="1.3" fill="none" stroke-linejoin="round"/>
<path d="M34.60,555.30 L35.51,555.30 L36.42,555.30 L37.34,555.30 L38.25,555.30 L39.16,555.30 L40.07,555.30 L40.98,555.30 L41.90,555.30 L42.81,555.30 L43.72,555.30 L44.63,555.30 L45.54,555.30 L46.46,555.30 L47.37,553.79 L48.28,551.91 L49.19,549.10 L50.10,533.70 L51.02,519.21 L51.93,515.03 L52.84,504.42 L53.75,493.50 L54.66,491.32 L55.58,487.73 L56.49,485.01 L57.40,483.99 L58.31,485.21 L59.22,485.89 L60.14,487.48 L61.05,490.05 L61.96,490.31 L62.87,491.82 L63.78,494.80 L64.70,497.75 L65.61,500.13 L66.52,501.72 L67.43,505.10 L68.34,508.85 L69.26,510.42 L70.17,511.82 L71.08,516.50 L71.99,519.31 L72.90,521.77 L73.82,522.69 L74.73,524.86 L75.64,526.79 L76.55,529.88 L77.46,530.04 L78.38,530.56 L79.29,532.18 L80.20,534.22 L81.11,534.80 L82.02,536.45 L82.94,536.17 L83.85,536.88 L84.76,538.57 L85.67,540.10 L86.58,541.19 L87.50,542.74 L88.41,544.11 L89.32,544.21 L90.23,543.48 L91.14,545.18 L92.06,545.73 L92.97,545.42 L93.88,546.75 L94.79,547.06 L95.70,547.84 L96.62,548.62 L97.53,547.88 L98.44,549.40 L99.35,549.10 L100.26,549.68 L101.18,549.26 L102.09,550.26 L103.00,550.55 L103.91,550.30 L104.82,551.42 L105.74,551.33 L106.65,550.96 L107.56,552.41 L108.47,552.52 L109.38,552.34 L110.30,551.58 L111.21,552.03 L112.12,552.89 L113.03,552.94 L113.94,553.40 L114.86,553.08 L115.77,553.90 L116.68,553.16 L117.59,553.17 L118.50,553.21 L119.42,553.27 L120.33,553.35 L121.24,553.44 L122.15,553.53 L123.06,553.64 L123.98,553.75 L124.89,553.85 L125.80,553.95 L126.71,554.04 L127.62,554.12 L128.54,554.18 L129.45,554.22" stroke="#29b6f6" stroke-width="1.3" fill="none" stroke-linejoin="round"/>
<line x1="84.20" y1="488.60" x2="91.60" y2="488.60" stroke="#33ee33" stroke-width="1.6" />
<text x="94.6" y="491.30" font-size="7.8" fill="#222222"><tspan font-style="italic">x</tspan> = 7.2 nm</text>
<line x1="84.20" y1="496.30" x2="91.60" y2="496.30" stroke="#29b6f6" stroke-width="1.6" />
<text x="94.6" y="499.00" font-size="7.8" fill="#222222"><tspan font-style="italic">y</tspan> = 7.0 nm</text>
<line x1="84.20" y1="503.90" x2="91.60" y2="503.90" stroke="#ff33ff" stroke-width="1.6" />
<text x="94.6" y="506.60" font-size="7.8" fill="#222222"><tspan font-style="italic">z</tspan> = 6.1 nm</text>
<line x1="175.10" y1="483.40" x2="175.10" y2="555.30" stroke="#9a9a9a" stroke-width="1.0" />
<line x1="170.10" y1="555.30" x2="175.10" y2="555.30" stroke="#9a9a9a" stroke-width="1.0" />
<text x="166.30" y="558.20" font-size="8.1" text-anchor="end" fill="#222222" font-weight="normal" >0</text>
<line x1="170.10" y1="541.02" x2="175.10" y2="541.02" stroke="#9a9a9a" stroke-width="1.0" />
<text x="166.30" y="543.92" font-size="8.1" text-anchor="end" fill="#222222" font-weight="normal" >0.2</text>
<line x1="170.10" y1="526.74" x2="175.10" y2="526.74" stroke="#9a9a9a" stroke-width="1.0" />
<text x="166.30" y="529.64" font-size="8.1" text-anchor="end" fill="#222222" font-weight="normal" >0.4</text>
<line x1="170.10" y1="512.46" x2="175.10" y2="512.46" stroke="#9a9a9a" stroke-width="1.0" />
<text x="166.30" y="515.36" font-size="8.1" text-anchor="end" fill="#222222" font-weight="normal" >0.6</text>
<line x1="170.10" y1="498.18" x2="175.10" y2="498.18" stroke="#9a9a9a" stroke-width="1.0" />
<text x="166.30" y="501.08" font-size="8.1" text-anchor="end" fill="#222222" font-weight="normal" >0.8</text>
<line x1="170.10" y1="483.90" x2="175.10" y2="483.90" stroke="#9a9a9a" stroke-width="1.0" />
<text x="166.30" y="486.80" font-size="8.1" text-anchor="end" fill="#222222" font-weight="normal" >1.0</text>
<text x="0" y="0" font-size="8.8" text-anchor="middle" fill="#222222" transform="translate(147.70,519.60) rotate(-90)">Ratio</text>
<line x1="175.10" y1="555.30" x2="272.50" y2="555.30" stroke="#9a9a9a" stroke-width="1.0" />
<line x1="175.10" y1="555.30" x2="175.10" y2="559.80" stroke="#9a9a9a" stroke-width="1.0" />
<text x="175.10" y="570.50" font-size="8.1" text-anchor="middle" fill="#222222" font-weight="normal" >0</text>
<line x1="194.52" y1="555.30" x2="194.52" y2="559.80" stroke="#9a9a9a" stroke-width="1.0" />
<text x="194.52" y="570.50" font-size="8.1" text-anchor="middle" fill="#222222" font-weight="normal" >0.1</text>
<line x1="213.94" y1="555.30" x2="213.94" y2="559.80" stroke="#9a9a9a" stroke-width="1.0" />
<text x="213.94" y="570.50" font-size="8.1" text-anchor="middle" fill="#222222" font-weight="normal" >0.2</text>
<line x1="233.36" y1="555.30" x2="233.36" y2="559.80" stroke="#9a9a9a" stroke-width="1.0" />
<text x="233.36" y="570.50" font-size="8.1" text-anchor="middle" fill="#222222" font-weight="normal" >0.3</text>
<line x1="252.78" y1="555.30" x2="252.78" y2="559.80" stroke="#9a9a9a" stroke-width="1.0" />
<text x="252.78" y="570.50" font-size="8.1" text-anchor="middle" fill="#222222" font-weight="normal" >0.4</text>
<line x1="272.20" y1="555.30" x2="272.20" y2="559.80" stroke="#9a9a9a" stroke-width="1.0" />
<text x="272.20" y="570.50" font-size="8.1" text-anchor="middle" fill="#222222" font-weight="normal" >0.5</text>
<text x="223.80" y="583.10" font-size="8.8" text-anchor="middle" fill="#222222" font-weight="normal" >Track duration (s)</text>
<path d="M175.10,555.30 L175.10,483.90 L178.98,483.90 L178.98,555.30 M178.98,555.30 L178.98,493.18 L182.86,493.18 L182.86,555.30 M182.86,555.30 L182.86,526.03 L186.74,526.03 L186.74,555.30 M186.74,555.30 L186.74,537.45 L190.62,537.45 L190.62,555.30 M190.62,555.30 L190.62,538.16 L194.50,538.16 L194.50,555.30 M194.50,555.30 L194.50,547.45 L198.38,547.45 L198.38,555.30 M198.38,555.30 L198.38,550.52 L202.26,550.52 L202.26,555.30 M202.26,555.30 L202.26,551.44 L206.14,551.44 L206.14,555.30 M206.14,555.30 L206.14,552.80 L210.02,552.80 L210.02,555.30 M210.02,555.30 L210.02,551.44 L213.90,551.44 L213.90,555.30 M213.90,555.30 L213.90,553.59 L217.78,553.59 L217.78,555.30 M217.78,555.30 L217.78,554.16 L221.66,554.16 L221.66,555.30 M221.66,555.30 L221.66,554.30 L225.54,554.30 L225.54,555.30 M225.54,555.30 L225.54,554.23 L229.42,554.23 L229.42,555.30 M229.42,555.30 L229.42,554.44 L233.30,554.44 L233.30,555.30 M233.30,555.30 L233.30,554.59 L237.18,554.59 L237.18,555.30 M237.18,555.30 L237.18,554.59 L241.06,554.59 L241.06,555.30 M241.06,555.30 L241.06,554.73 L244.94,554.73 L244.94,555.30 M244.94,555.30 L244.94,554.73 L248.82,554.73 L248.82,555.30 M248.82,555.30 L248.82,554.59 L252.70,554.59 L252.70,555.30 M252.70,555.30 L252.70,554.80 L256.58,554.80 L256.58,555.30 M256.58,555.30 L256.58,554.87 L260.46,554.87 L260.46,555.30 M260.46,555.30 L260.46,554.94 L264.34,554.94 L264.34,555.30 M264.34,555.30 L264.34,554.94 L268.22,554.94 L268.22,555.30 M268.22,555.30 L268.22,554.94 L272.10,554.94 L272.10,555.30 " stroke="#ff0000" stroke-width="1.15" fill="#fff" stroke-linejoin="miter"/>
<line x1="311.70" y1="483.40" x2="311.70" y2="555.30" stroke="#9a9a9a" stroke-width="1.0" />
<line x1="306.70" y1="555.30" x2="311.70" y2="555.30" stroke="#9a9a9a" stroke-width="1.0" />
<text x="302.90" y="558.20" font-size="8.1" text-anchor="end" fill="#222222" font-weight="normal" >0</text>
<line x1="306.70" y1="541.02" x2="311.70" y2="541.02" stroke="#9a9a9a" stroke-width="1.0" />
<text x="302.90" y="543.92" font-size="8.1" text-anchor="end" fill="#222222" font-weight="normal" >0.2</text>
<line x1="306.70" y1="526.74" x2="311.70" y2="526.74" stroke="#9a9a9a" stroke-width="1.0" />
<text x="302.90" y="529.64" font-size="8.1" text-anchor="end" fill="#222222" font-weight="normal" >0.4</text>
<line x1="306.70" y1="512.46" x2="311.70" y2="512.46" stroke="#9a9a9a" stroke-width="1.0" />
<text x="302.90" y="515.36" font-size="8.1" text-anchor="end" fill="#222222" font-weight="normal" >0.6</text>
<line x1="306.70" y1="498.18" x2="311.70" y2="498.18" stroke="#9a9a9a" stroke-width="1.0" />
<text x="302.90" y="501.08" font-size="8.1" text-anchor="end" fill="#222222" font-weight="normal" >0.8</text>
<line x1="306.70" y1="483.90" x2="311.70" y2="483.90" stroke="#9a9a9a" stroke-width="1.0" />
<text x="302.90" y="486.80" font-size="8.1" text-anchor="end" fill="#222222" font-weight="normal" >1.0</text>
<text x="0" y="0" font-size="8.8" text-anchor="middle" fill="#222222" transform="translate(284.30,519.60) rotate(-90)">Ratio</text>
<line x1="311.70" y1="555.30" x2="408.70" y2="555.30" stroke="#9a9a9a" stroke-width="1.0" />
<line x1="311.70" y1="555.30" x2="311.70" y2="559.80" stroke="#9a9a9a" stroke-width="1.0" />
<text x="311.70" y="570.50" font-size="8.1" text-anchor="middle" fill="#222222" font-weight="normal" >0</text>
<line x1="331.10" y1="555.30" x2="331.10" y2="559.80" stroke="#9a9a9a" stroke-width="1.0" />
<text x="331.10" y="570.50" font-size="8.1" text-anchor="middle" fill="#222222" font-weight="normal" >2</text>
<line x1="350.50" y1="555.30" x2="350.50" y2="559.80" stroke="#9a9a9a" stroke-width="1.0" />
<text x="350.50" y="570.50" font-size="8.1" text-anchor="middle" fill="#222222" font-weight="normal" >4</text>
<line x1="369.90" y1="555.30" x2="369.90" y2="559.80" stroke="#9a9a9a" stroke-width="1.0" />
<text x="369.90" y="570.50" font-size="8.1" text-anchor="middle" fill="#222222" font-weight="normal" >6</text>
<line x1="389.30" y1="555.30" x2="389.30" y2="559.80" stroke="#9a9a9a" stroke-width="1.0" />
<text x="389.30" y="570.50" font-size="8.1" text-anchor="middle" fill="#222222" font-weight="normal" >8</text>
<line x1="408.70" y1="555.30" x2="408.70" y2="559.80" stroke="#9a9a9a" stroke-width="1.0" />
<text x="408.70" y="570.50" font-size="8.1" text-anchor="middle" fill="#222222" font-weight="normal" >10</text>
<text x="360.20" y="583.10" font-size="8.8" text-anchor="middle" fill="#222222" font-weight="normal" >Total displacement (μm)</text>
<path d="M311.70,555.30 L311.70,553.59 L315.58,553.59 L315.58,555.30 M315.58,555.30 L315.58,518.17 L319.46,518.17 L319.46,555.30 M319.46,555.30 L319.46,483.90 L323.34,483.90 L323.34,555.30 M323.34,555.30 L323.34,488.90 L327.22,488.90 L327.22,555.30 M327.22,555.30 L327.22,503.18 L331.10,503.18 L331.10,555.30 M331.10,555.30 L331.10,516.74 L334.98,516.74 L334.98,555.30 M334.98,555.30 L334.98,530.31 L338.86,530.31 L338.86,555.30 M338.86,555.30 L338.86,536.02 L342.74,536.02 L342.74,555.30 M342.74,555.30 L342.74,537.45 L346.62,537.45 L346.62,555.30 M346.62,555.30 L346.62,542.80 L350.50,542.80 L350.50,555.30 M350.50,555.30 L350.50,543.16 L354.38,543.16 L354.38,555.30 M354.38,555.30 L354.38,547.45 L358.26,547.45 L358.26,555.30 M358.26,555.30 L358.26,547.45 L362.14,547.45 L362.14,555.30 M362.14,555.30 L362.14,548.66 L366.02,548.66 L366.02,555.30 M366.02,555.30 L366.02,549.73 L369.90,549.73 L369.90,555.30 M369.90,555.30 L369.90,551.02 L373.78,551.02 L373.78,555.30 M373.78,555.30 L373.78,552.44 L377.66,552.44 L377.66,555.30 M377.66,555.30 L377.66,552.44 L381.54,552.44 L381.54,555.30 M381.54,555.30 L381.54,552.44 L385.42,552.44 L385.42,555.30 M385.42,555.30 L385.42,553.87 L389.30,553.87 L389.30,555.30 M389.30,555.30 L389.30,553.87 L393.18,553.87 L393.18,555.30 M393.18,555.30 L393.18,554.01 L397.06,554.01 L397.06,555.30 M397.06,555.30 L397.06,554.16 L400.94,554.16 L400.94,555.30 M400.94,555.30 L400.94,554.01 L404.82,554.01 L404.82,555.30 M404.82,555.30 L404.82,554.59 L408.70,554.59 L408.70,555.30 " stroke="#ff0000" stroke-width="1.15" fill="#fff" stroke-linejoin="miter"/>
<line x1="448.40" y1="483.40" x2="448.40" y2="555.30" stroke="#9a9a9a" stroke-width="1.0" />
<line x1="443.40" y1="555.30" x2="448.40" y2="555.30" stroke="#9a9a9a" stroke-width="1.0" />
<text x="439.60" y="558.20" font-size="8.1" text-anchor="end" fill="#222222" font-weight="normal" >0</text>
<line x1="443.40" y1="541.02" x2="448.40" y2="541.02" stroke="#9a9a9a" stroke-width="1.0" />
<text x="439.60" y="543.92" font-size="8.1" text-anchor="end" fill="#222222" font-weight="normal" >0.2</text>
<line x1="443.40" y1="526.74" x2="448.40" y2="526.74" stroke="#9a9a9a" stroke-width="1.0" />
<text x="439.60" y="529.64" font-size="8.1" text-anchor="end" fill="#222222" font-weight="normal" >0.4</text>
<line x1="443.40" y1="512.46" x2="448.40" y2="512.46" stroke="#9a9a9a" stroke-width="1.0" />
<text x="439.60" y="515.36" font-size="8.1" text-anchor="end" fill="#222222" font-weight="normal" >0.6</text>
<line x1="443.40" y1="498.18" x2="448.40" y2="498.18" stroke="#9a9a9a" stroke-width="1.0" />
<text x="439.60" y="501.08" font-size="8.1" text-anchor="end" fill="#222222" font-weight="normal" >0.8</text>
<line x1="443.40" y1="483.90" x2="448.40" y2="483.90" stroke="#9a9a9a" stroke-width="1.0" />
<text x="439.60" y="486.80" font-size="8.1" text-anchor="end" fill="#222222" font-weight="normal" >1.0</text>
<text x="0" y="0" font-size="8.8" text-anchor="middle" fill="#222222" transform="translate(421.00,519.60) rotate(-90)">Ratio</text>
<line x1="448.40" y1="555.30" x2="544.90" y2="555.30" stroke="#9a9a9a" stroke-width="1.0" />
<line x1="448.40" y1="555.30" x2="448.40" y2="559.80" stroke="#9a9a9a" stroke-width="1.0" />
<text x="448.40" y="570.50" font-size="8.1" text-anchor="middle" fill="#222222" font-weight="normal" >0</text>
<line x1="467.60" y1="555.30" x2="467.60" y2="559.80" stroke="#9a9a9a" stroke-width="1.0" />
<text x="467.60" y="570.50" font-size="8.1" text-anchor="middle" fill="#222222" font-weight="normal" >10</text>
<line x1="486.80" y1="555.30" x2="486.80" y2="559.80" stroke="#9a9a9a" stroke-width="1.0" />
<text x="486.80" y="570.50" font-size="8.1" text-anchor="middle" fill="#222222" font-weight="normal" >20</text>
<line x1="506.00" y1="555.30" x2="506.00" y2="559.80" stroke="#9a9a9a" stroke-width="1.0" />
<text x="506.00" y="570.50" font-size="8.1" text-anchor="middle" fill="#222222" font-weight="normal" >30</text>
<line x1="525.20" y1="555.30" x2="525.20" y2="559.80" stroke="#9a9a9a" stroke-width="1.0" />
<text x="525.20" y="570.50" font-size="8.1" text-anchor="middle" fill="#222222" font-weight="normal" >40</text>
<line x1="544.40" y1="555.30" x2="544.40" y2="559.80" stroke="#9a9a9a" stroke-width="1.0" />
<text x="544.40" y="570.50" font-size="8.1" text-anchor="middle" fill="#222222" font-weight="normal" >50</text>
<text x="496.65" y="583.10" font-size="8.8" text-anchor="middle" fill="#222222">Mean speed (μm s<tspan font-size="5.5" dy="-3">−1</tspan><tspan dy="3">)</tspan></text>
<path d="M448.40,555.30 L448.40,554.94 L452.24,554.94 L452.24,555.30 M452.24,555.30 L452.24,553.59 L456.08,553.59 L456.08,555.30 M456.08,555.30 L456.08,546.73 L459.92,546.73 L459.92,555.30 M459.92,555.30 L459.92,539.59 L463.76,539.59 L463.76,555.30 M463.76,555.30 L463.76,513.53 L467.60,513.53 L467.60,555.30 M467.60,555.30 L467.60,483.90 L471.44,483.90 L471.44,555.30 M471.44,555.30 L471.44,488.18 L475.28,488.18 L475.28,555.30 M475.28,555.30 L475.28,519.60 L479.12,519.60 L479.12,555.30 M479.12,555.30 L479.12,533.52 L482.96,533.52 L482.96,555.30 M482.96,555.30 L482.96,538.52 L486.80,538.52 L486.80,555.30 M486.80,555.30 L486.80,544.80 L490.64,544.80 L490.64,555.30 M490.64,555.30 L490.64,548.66 L494.48,548.66 L494.48,555.30 M494.48,555.30 L494.48,550.80 L498.32,550.80 L498.32,555.30 M498.32,555.30 L498.32,552.37 L502.16,552.37 L502.16,555.30 M502.16,555.30 L502.16,553.59 L506.00,553.59 L506.00,555.30 M506.00,555.30 L506.00,554.09 L509.84,554.09 L509.84,555.30 M509.84,555.30 L509.84,554.80 L513.68,554.80 L513.68,555.30 M513.68,555.30 L513.68,554.94 L517.52,554.94 L517.52,555.30 M517.52,555.30 L517.52,555.01 L521.36,555.01 L521.36,555.30 M521.36,555.30 L521.36,555.01 L525.20,555.01 L525.20,555.30 M525.20,555.30 L525.20,555.01 L529.04,555.01 L529.04,555.30 M529.04,555.30 L529.04,555.01 L532.88,555.01 L532.88,555.30 M532.88,555.30 L532.88,555.01 L536.72,555.01 L536.72,555.30 M536.72,555.30 L536.72,555.01 L540.56,555.01 L540.56,555.30 M540.56,555.30 L540.56,555.01 L544.40,555.01 L544.40,555.30 " stroke="#ff0000" stroke-width="1.15" fill="#fff" stroke-linejoin="miter"/>
<line x1="583.90" y1="483.40" x2="583.90" y2="555.30" stroke="#9a9a9a" stroke-width="1.0" />
<line x1="578.90" y1="555.30" x2="583.90" y2="555.30" stroke="#9a9a9a" stroke-width="1.0" />
<text x="575.10" y="558.20" font-size="8.1" text-anchor="end" fill="#222222" font-weight="normal" >0</text>
<line x1="578.90" y1="541.02" x2="583.90" y2="541.02" stroke="#9a9a9a" stroke-width="1.0" />
<text x="575.10" y="543.92" font-size="8.1" text-anchor="end" fill="#222222" font-weight="normal" >0.2</text>
<line x1="578.90" y1="526.74" x2="583.90" y2="526.74" stroke="#9a9a9a" stroke-width="1.0" />
<text x="575.10" y="529.64" font-size="8.1" text-anchor="end" fill="#222222" font-weight="normal" >0.4</text>
<line x1="578.90" y1="512.46" x2="583.90" y2="512.46" stroke="#9a9a9a" stroke-width="1.0" />
<text x="575.10" y="515.36" font-size="8.1" text-anchor="end" fill="#222222" font-weight="normal" >0.6</text>
<line x1="578.90" y1="498.18" x2="583.90" y2="498.18" stroke="#9a9a9a" stroke-width="1.0" />
<text x="575.10" y="501.08" font-size="8.1" text-anchor="end" fill="#222222" font-weight="normal" >0.8</text>
<line x1="578.90" y1="483.90" x2="583.90" y2="483.90" stroke="#9a9a9a" stroke-width="1.0" />
<text x="575.10" y="486.80" font-size="8.1" text-anchor="end" fill="#222222" font-weight="normal" >1.0</text>
<text x="0" y="0" font-size="8.8" text-anchor="middle" fill="#222222" transform="translate(556.50,519.60) rotate(-90)">Ratio</text>
<line x1="583.90" y1="555.30" x2="680.70" y2="555.30" stroke="#9a9a9a" stroke-width="1.0" />
<line x1="583.90" y1="555.30" x2="583.90" y2="559.80" stroke="#9a9a9a" stroke-width="1.0" />
<text x="583.90" y="570.50" font-size="8.1" text-anchor="middle" fill="#222222" font-weight="normal" >0</text>
<line x1="603.25" y1="555.30" x2="603.25" y2="559.80" stroke="#9a9a9a" stroke-width="1.0" />
<text x="603.25" y="570.50" font-size="8.1" text-anchor="middle" fill="#222222" font-weight="normal" >0.2</text>
<line x1="622.60" y1="555.30" x2="622.60" y2="559.80" stroke="#9a9a9a" stroke-width="1.0" />
<text x="622.60" y="570.50" font-size="8.1" text-anchor="middle" fill="#222222" font-weight="normal" >0.4</text>
<line x1="641.95" y1="555.30" x2="641.95" y2="559.80" stroke="#9a9a9a" stroke-width="1.0" />
<text x="641.95" y="570.50" font-size="8.1" text-anchor="middle" fill="#222222" font-weight="normal" >0.6</text>
<line x1="661.30" y1="555.30" x2="661.30" y2="559.80" stroke="#9a9a9a" stroke-width="1.0" />
<text x="661.30" y="570.50" font-size="8.1" text-anchor="middle" fill="#222222" font-weight="normal" >0.8</text>
<line x1="680.65" y1="555.30" x2="680.65" y2="559.80" stroke="#9a9a9a" stroke-width="1.0" />
<text x="680.65" y="570.50" font-size="8.1" text-anchor="middle" fill="#222222" font-weight="normal" >1.0</text>
<text x="632.30" y="583.10" font-size="8.8" text-anchor="middle" fill="#222222" font-weight="normal" >Confinement ratio</text>
<path d="M583.90,555.30 L583.90,531.24 L587.77,531.24 L587.77,555.30 M587.77,555.30 L587.77,500.32 L591.64,500.32 L591.64,555.30 M591.64,555.30 L591.64,483.90 L595.51,483.90 L595.51,555.30 M595.51,555.30 L595.51,487.47 L599.38,487.47 L599.38,555.30 M599.38,555.30 L599.38,490.33 L603.25,490.33 L603.25,555.30 M603.25,555.30 L603.25,497.75 L607.12,497.75 L607.12,555.30 M607.12,555.30 L607.12,502.68 L610.99,502.68 L610.99,555.30 M610.99,555.30 L610.99,516.32 L614.86,516.32 L614.86,555.30 M614.86,555.30 L614.86,515.03 L618.73,515.03 L618.73,555.30 M618.73,555.30 L618.73,524.60 L622.60,524.60 L622.60,555.30 M622.60,555.30 L622.60,529.60 L626.47,529.60 L626.47,555.30 M626.47,555.30 L626.47,531.52 L630.34,531.52 L630.34,555.30 M630.34,555.30 L630.34,537.74 L634.21,537.74 L634.21,555.30 M634.21,555.30 L634.21,539.73 L638.08,539.73 L638.08,555.30 M638.08,555.30 L638.08,545.45 L641.95,545.45 L641.95,555.30 M641.95,555.30 L641.95,546.38 L645.82,546.38 L645.82,555.30 M645.82,555.30 L645.82,547.45 L649.69,547.45 L649.69,555.30 M649.69,555.30 L649.69,549.73 L653.56,549.73 L653.56,555.30 M653.56,555.30 L653.56,549.73 L657.43,549.73 L657.43,555.30 M657.43,555.30 L657.43,553.59 L661.30,553.59 L661.30,555.30 M661.30,555.30 L661.30,551.73 L665.17,551.73 L665.17,555.30 M665.17,555.30 L665.17,553.87 L669.04,553.87 L669.04,555.30 M669.04,555.30 L669.04,554.66 L672.91,554.66 L672.91,555.30 M672.91,555.30 L672.91,554.87 L676.78,554.87 L676.78,555.30 M676.78,555.30 L676.78,554.87 L680.65,554.87 L680.65,555.30 " stroke="#ff0000" stroke-width="1.15" fill="#fff" stroke-linejoin="miter"/>
<linearGradient id="gj1" x1="0" y1="0" x2="1" y2="0"><stop offset="0.0" stop-color="rgb(40, 40, 140)"/><stop offset="0.12" stop-color="rgb(40, 60, 220)"/><stop offset="0.3" stop-color="rgb(30, 170, 240)"/><stop offset="0.42" stop-color="rgb(40, 220, 200)"/><stop offset="0.55" stop-color="rgb(140, 230, 60)"/><stop offset="0.66" stop-color="rgb(240, 220, 40)"/><stop offset="0.8" stop-color="rgb(250, 130, 30)"/><stop offset="0.92" stop-color="rgb(220, 50, 20)"/><stop offset="1.0" stop-color="rgb(140, 10, 10)"/></linearGradient>
<rect x="476.30" y="250.40" width="34.80" height="4.40" fill="url(#gj1)" stroke="none" stroke-width="1" />
<text x="473.60" y="254.60" font-size="5.6" text-anchor="end" fill="#222222" font-weight="normal" >7.3 s</text>
<text x="513.20" y="254.60" font-size="5.6" text-anchor="start" fill="#222222" font-weight="normal" >10.0 s</text>
<text x="437.6" y="265.0" font-size="6.4" fill="#222222"><tspan font-style="italic">z</tspan> (nm)</text>
<line x1="452.00" y1="270.40" x2="531.00" y2="259.60" stroke="#c8c8c8" stroke-width="0.45" />
<line x1="452.00" y1="275.80" x2="531.00" y2="265.00" stroke="#c8c8c8" stroke-width="0.45" />
<line x1="452.00" y1="281.60" x2="531.00" y2="270.80" stroke="#c8c8c8" stroke-width="0.45" />
<line x1="452.00" y1="285.80" x2="452.00" y2="270.40" stroke="#c8c8c8" stroke-width="0.45" />
<line x1="465.17" y1="284.00" x2="465.17" y2="268.60" stroke="#c8c8c8" stroke-width="0.45" />
<line x1="478.33" y1="282.20" x2="478.33" y2="266.80" stroke="#c8c8c8" stroke-width="0.45" />
<line x1="491.50" y1="280.40" x2="491.50" y2="265.00" stroke="#c8c8c8" stroke-width="0.45" />
<line x1="504.67" y1="278.60" x2="504.67" y2="263.20" stroke="#c8c8c8" stroke-width="0.45" />
<line x1="517.83" y1="276.80" x2="517.83" y2="261.40" stroke="#c8c8c8" stroke-width="0.45" />
<line x1="531.00" y1="275.00" x2="531.00" y2="259.60" stroke="#c8c8c8" stroke-width="0.45" />
<line x1="531.00" y1="275.00" x2="549.50" y2="332.20" stroke="#c8c8c8" stroke-width="0.35" />
<line x1="531.00" y1="273.07" x2="549.50" y2="330.27" stroke="#c8c8c8" stroke-width="0.35" />
<line x1="531.00" y1="271.15" x2="549.50" y2="328.35" stroke="#c8c8c8" stroke-width="0.35" />
<line x1="531.00" y1="269.22" x2="549.50" y2="326.42" stroke="#c8c8c8" stroke-width="0.35" />
<line x1="531.00" y1="267.30" x2="549.50" y2="324.50" stroke="#c8c8c8" stroke-width="0.35" />
<line x1="531.00" y1="265.38" x2="549.50" y2="322.57" stroke="#c8c8c8" stroke-width="0.35" />
<line x1="531.00" y1="263.45" x2="549.50" y2="320.65" stroke="#c8c8c8" stroke-width="0.35" />
<line x1="531.00" y1="261.52" x2="549.50" y2="318.72" stroke="#c8c8c8" stroke-width="0.35" />
<line x1="531.00" y1="259.60" x2="549.50" y2="316.80" stroke="#c8c8c8" stroke-width="0.35" />
<line x1="452.00" y1="285.80" x2="531.00" y2="275.00" stroke="#c8c8c8" stroke-width="0.45" />
<line x1="454.19" y1="293.44" x2="533.64" y2="283.17" stroke="#c8c8c8" stroke-width="0.45" />
<line x1="456.37" y1="301.09" x2="536.29" y2="291.34" stroke="#c8c8c8" stroke-width="0.45" />
<line x1="458.56" y1="308.73" x2="538.93" y2="299.51" stroke="#c8c8c8" stroke-width="0.45" />
<line x1="460.74" y1="316.37" x2="541.57" y2="307.69" stroke="#c8c8c8" stroke-width="0.45" />
<line x1="462.93" y1="324.01" x2="544.21" y2="315.86" stroke="#c8c8c8" stroke-width="0.45" />
<line x1="465.11" y1="331.66" x2="546.86" y2="324.03" stroke="#c8c8c8" stroke-width="0.45" />
<line x1="467.30" y1="339.30" x2="549.50" y2="332.20" stroke="#c8c8c8" stroke-width="0.45" />
<line x1="452.00" y1="285.80" x2="467.30" y2="339.30" stroke="#c8c8c8" stroke-width="0.45" />
<line x1="465.17" y1="284.00" x2="481.00" y2="338.12" stroke="#c8c8c8" stroke-width="0.45" />
<line x1="478.33" y1="282.20" x2="494.70" y2="336.93" stroke="#c8c8c8" stroke-width="0.45" />
<line x1="491.50" y1="280.40" x2="508.40" y2="335.75" stroke="#c8c8c8" stroke-width="0.45" />
<line x1="504.67" y1="278.60" x2="522.10" y2="334.57" stroke="#c8c8c8" stroke-width="0.45" />
<line x1="517.83" y1="276.80" x2="535.80" y2="333.38" stroke="#c8c8c8" stroke-width="0.45" />
<line x1="531.00" y1="275.00" x2="549.50" y2="332.20" stroke="#c8c8c8" stroke-width="0.45" />
<line x1="452.00" y1="270.40" x2="452.00" y2="285.80" stroke="#333" stroke-width="0.6" />
<line x1="452.00" y1="285.80" x2="467.30" y2="339.30" stroke="#333" stroke-width="0.6" />
<line x1="467.30" y1="339.30" x2="549.50" y2="332.20" stroke="#333" stroke-width="0.6" />
<text x="449.50" y="272.50" font-size="6.0" text-anchor="end" fill="#222222" font-weight="normal" >50</text>
<line x1="450.50" y1="270.40" x2="452.00" y2="270.40" stroke="#333" stroke-width="0.5" />
<text x="449.50" y="277.90" font-size="6.0" text-anchor="end" fill="#222222" font-weight="normal" >25</text>
<line x1="450.50" y1="275.80" x2="452.00" y2="275.80" stroke="#333" stroke-width="0.5" />
<text x="449.50" y="283.70" font-size="6.0" text-anchor="end" fill="#222222" font-weight="normal" >0</text>
<line x1="450.50" y1="281.60" x2="452.00" y2="281.60" stroke="#333" stroke-width="0.5" />
<text x="449.00" y="287.90" font-size="6.0" text-anchor="end" fill="#222222" font-weight="normal" >10</text>
<line x1="450.50" y1="285.80" x2="452.00" y2="285.80" stroke="#333" stroke-width="0.5" />
<text x="451.19" y="295.54" font-size="6.0" text-anchor="end" fill="#222222" font-weight="normal" >9.5</text>
<line x1="452.69" y1="293.44" x2="454.19" y2="293.44" stroke="#333" stroke-width="0.5" />
<text x="453.37" y="303.19" font-size="6.0" text-anchor="end" fill="#222222" font-weight="normal" >9</text>
<line x1="454.87" y1="301.09" x2="456.37" y2="301.09" stroke="#333" stroke-width="0.5" />
<text x="455.56" y="310.83" font-size="6.0" text-anchor="end" fill="#222222" font-weight="normal" >8.5</text>
<line x1="457.06" y1="308.73" x2="458.56" y2="308.73" stroke="#333" stroke-width="0.5" />
<text x="457.74" y="318.47" font-size="6.0" text-anchor="end" fill="#222222" font-weight="normal" >8</text>
<line x1="459.24" y1="316.37" x2="460.74" y2="316.37" stroke="#333" stroke-width="0.5" />
<text x="459.93" y="326.11" font-size="6.0" text-anchor="end" fill="#222222" font-weight="normal" >7.5</text>
<line x1="461.43" y1="324.01" x2="462.93" y2="324.01" stroke="#333" stroke-width="0.5" />
<text x="462.11" y="333.76" font-size="6.0" text-anchor="end" fill="#222222" font-weight="normal" >7</text>
<line x1="463.61" y1="331.66" x2="465.11" y2="331.66" stroke="#333" stroke-width="0.5" />
<text x="464.30" y="341.40" font-size="6.0" text-anchor="end" fill="#222222" font-weight="normal" >6.5</text>
<line x1="465.80" y1="339.30" x2="467.30" y2="339.30" stroke="#333" stroke-width="0.5" />
<text x="468.30" y="346.10" font-size="6.0" text-anchor="middle" fill="#222222" font-weight="normal" >1.5</text>
<line x1="467.30" y1="339.30" x2="467.60" y2="340.80" stroke="#333" stroke-width="0.5" />
<text x="482.00" y="344.92" font-size="6.0" text-anchor="middle" fill="#222222" font-weight="normal" >2</text>
<line x1="481.00" y1="338.12" x2="481.30" y2="339.62" stroke="#333" stroke-width="0.5" />
<text x="495.70" y="343.73" font-size="6.0" text-anchor="middle" fill="#222222" font-weight="normal" >2.5</text>
<line x1="494.70" y1="336.93" x2="495.00" y2="338.43" stroke="#333" stroke-width="0.5" />
<text x="509.40" y="342.55" font-size="6.0" text-anchor="middle" fill="#222222" font-weight="normal" >3</text>
<line x1="508.40" y1="335.75" x2="508.70" y2="337.25" stroke="#333" stroke-width="0.5" />
<text x="523.10" y="341.37" font-size="6.0" text-anchor="middle" fill="#222222" font-weight="normal" >3.5</text>
<line x1="522.10" y1="334.57" x2="522.40" y2="336.07" stroke="#333" stroke-width="0.5" />
<text x="536.80" y="340.18" font-size="6.0" text-anchor="middle" fill="#222222" font-weight="normal" >4</text>
<line x1="535.80" y1="333.38" x2="536.10" y2="334.88" stroke="#333" stroke-width="0.5" />
<text x="550.50" y="339.00" font-size="6.0" text-anchor="middle" fill="#222222" font-weight="normal" >4.5</text>
<line x1="549.50" y1="332.20" x2="549.80" y2="333.70" stroke="#333" stroke-width="0.5" />
<text x="0" y="0" font-size="6.4" fill="#222222" text-anchor="middle" transform="translate(441.0,319.0) rotate(76)"><tspan font-style="italic">y</tspan> (μm)</text>
<text x="0" y="0" font-size="6.4" fill="#222222" text-anchor="middle" transform="translate(515.5,349.4) rotate(-5)"><tspan font-style="italic">x</tspan> (μm)</text>
<g fill="none" stroke-width="0.8" stroke-linecap="round" opacity="0.95"><path stroke="#28288c" d="M484.1 335.3L483.2 332.5M483.2 332.5L480.9 332.1M480.9 332.1L480.0 329.3M480.0 329.3L481.4 330.2M481.4 330.2L482.8 328.7M482.8 328.7L482.6 329.1M482.6 329.1L480.1 330.0"/><path stroke="#282ea7" d="M480.1 330.0L481.8 333.2M481.8 333.2L482.5 330.5M482.5 330.5L484.6 329.4M484.6 329.4L485.1 327.7M485.1 327.7L484.3 328.9M484.3 328.9L484.7 327.8M484.7 327.8L482.1 327.5M482.1 327.5L482.6 327.6M482.6 327.6L483.2 328.0M483.2 328.0L483.0 326.5M483.0 326.5L484.0 323.5M484.0 323.5L482.7 322.6"/><path stroke="#2835c3" d="M482.7 322.6L485.9 322.7M485.9 322.7L485.3 323.6M485.3 323.6L483.4 320.3M483.4 320.3L484.5 320.3M484.5 320.3L484.6 318.6M484.6 318.6L482.7 321.6M482.7 321.6L484.7 318.8M484.7 318.8L481.3 319.1M481.3 319.1L482.8 319.4M482.8 319.4L482.9 317.5M482.9 317.5L483.1 319.8M483.1 319.8L481.3 316.7M481.3 316.7L479.7 318.6"/><path stroke="#273fdc" d="M479.7 318.6L477.1 318.0M477.1 318.0L476.8 317.5M476.8 317.5L477.7 317.4M477.7 317.4L480.7 317.8M480.7 317.8L481.7 317.0M481.7 317.0L479.2 317.3M479.2 317.3L473.9 316.7M473.9 316.7L475.9 314.3M475.9 314.3L477.1 314.1M477.1 314.1L472.9 314.4M472.9 314.4L472.9 313.9M472.9 313.9L474.1 316.3"/><path stroke="#2558e1" d="M474.1 316.3L474.8 315.5M474.8 315.5L475.4 312.1M475.4 312.1L476.9 311.5M476.9 311.5L476.1 311.0M476.1 311.0L473.2 311.8M473.2 311.8L476.1 313.9M476.1 313.9L473.4 313.2M473.4 313.2L470.9 313.2M470.9 313.2L470.4 314.3M470.4 314.3L468.6 313.1M468.6 313.1L468.4 311.8M468.4 311.8L470.5 312.4M470.5 312.4L471.1 314.3"/><path stroke="#2371e5" d="M471.1 314.3L472.1 311.0M472.1 311.0L471.4 308.7M471.4 308.7L469.9 313.3M469.9 313.3L469.6 312.2M469.6 312.2L470.2 312.3M470.2 312.3L470.6 311.2M470.6 311.2L472.7 313.4M472.7 313.4L471.9 313.6M471.9 313.6L473.1 314.9M473.1 314.9L473.5 315.1M473.5 315.1L472.9 312.4M472.9 312.4L472.5 314.5"/><path stroke="#208bea" d="M472.5 314.5L474.8 314.2M474.8 314.2L473.8 314.4M473.8 314.4L477.1 316.2M477.1 316.2L475.2 315.0M475.2 315.0L473.2 312.7M473.2 312.7L475.1 313.4M475.1 313.4L477.5 315.9M477.5 315.9L478.8 317.3M478.8 317.3L477.4 314.1M477.4 314.1L478.6 318.7M478.6 318.7L479.2 315.0M479.2 315.0L479.6 317.3"/><path stroke="#1ea4ef" d="M479.6 317.3L477.9 317.5M477.9 317.5L478.0 318.5M478.0 318.5L480.5 317.5M480.5 317.5L483.9 315.9M483.9 315.9L481.6 318.8M481.6 318.8L480.3 320.9M480.3 320.9L481.3 316.9M481.3 316.9L482.1 316.7M482.1 316.7L483.0 316.0M483.0 316.0L485.1 312.3M485.1 312.3L483.8 313.7M483.8 313.7L487.2 311.7M487.2 311.7L485.7 312.0"/><path stroke="#20b7e4" d="M485.7 312.0L484.7 315.0M484.7 315.0L486.1 317.8M486.1 317.8L485.4 317.3M485.4 317.3L488.2 318.1M488.2 318.1L487.4 318.9M487.4 318.9L486.3 320.3M486.3 320.3L487.7 318.0M487.7 318.0L488.9 318.3M488.9 318.3L492.0 317.0M492.0 317.0L490.5 317.5M490.5 317.5L489.1 314.2M489.1 314.2L491.4 314.7"/><path stroke="#24c9d7" d="M491.4 314.7L493.2 314.0M493.2 314.0L488.0 315.7M488.0 315.7L490.4 318.8M490.4 318.8L492.5 318.3M492.5 318.3L493.9 317.0M493.9 317.0L494.0 314.8M494.0 314.8L495.0 314.7M495.0 314.7L493.7 316.7M493.7 316.7L494.9 314.7M494.9 314.7L497.2 314.2M497.2 314.2L496.3 316.2M496.3 316.2L494.7 315.7M494.7 315.7L496.4 316.4"/><path stroke="#27dac9" d="M496.4 316.4L494.9 312.3M494.9 312.3L492.1 314.7M492.1 314.7L492.1 312.4M492.1 312.4L490.6 312.1M490.6 312.1L491.8 312.8M491.8 312.8L492.8 311.0M492.8 311.0L493.1 310.5M493.1 310.5L491.1 313.6M491.1 313.6L490.6 311.9M490.6 311.9L489.8 310.5M489.8 310.5L492.1 312.3M492.1 312.3L491.9 311.1"/><path stroke="#45de9e" d="M491.9 311.1L492.2 309.9M492.2 309.9L491.3 309.8M491.3 309.8L490.2 311.5M490.2 311.5L492.2 311.6M492.2 311.6L487.3 312.3M487.3 312.3L488.9 308.7M488.9 308.7L488.4 309.3M488.4 309.3L490.0 308.9M490.0 308.9L489.0 307.2M489.0 307.2L489.4 306.0M489.4 306.0L486.7 304.3M486.7 304.3L486.4 304.8M486.4 304.8L490.0 302.2"/><path stroke="#65e271" d="M490.0 302.2L488.7 302.7M488.7 302.7L487.7 305.1M487.7 305.1L488.5 303.7M488.5 303.7L485.9 300.9M485.9 300.9L485.2 303.5M485.2 303.5L484.4 303.7M484.4 303.7L485.4 303.2M485.4 303.2L486.3 301.9M486.3 301.9L483.6 299.4M483.6 299.4L484.9 299.2M484.9 299.2L483.4 300.9M483.4 300.9L481.7 303.1"/><path stroke="#85e544" d="M481.7 303.1L482.9 300.4M482.9 300.4L481.2 301.6M481.2 301.6L479.3 299.3M479.3 299.3L480.0 299.4M480.0 299.4L480.1 299.6M480.1 299.6L479.4 298.8M479.4 298.8L481.4 299.5M481.4 299.5L479.5 301.5M479.5 301.5L475.9 299.8M475.9 299.8L479.0 300.4M479.0 300.4L479.9 298.5M479.9 298.5L481.4 297.8M481.4 297.8L482.2 293.1"/><path stroke="#aae235" d="M482.2 293.1L482.7 294.1M482.7 294.1L484.0 297.0M484.0 297.0L484.6 296.6M484.6 296.6L484.7 296.4M484.7 296.4L484.6 296.7M484.6 296.7L483.1 300.1M483.1 300.1L485.1 295.4M485.1 295.4L486.6 294.0M486.6 294.0L485.8 294.6M485.8 294.6L485.2 296.2M485.2 296.2L485.4 294.2M485.4 294.2L486.3 296.1"/><path stroke="#d0df2e" d="M486.3 296.1L489.8 295.7M489.8 295.7L487.1 295.6M487.1 295.6L488.9 294.7M488.9 294.7L487.8 296.5M487.8 296.5L488.7 296.8M488.7 296.8L488.3 295.2M488.3 295.2L488.9 295.5M488.9 295.5L489.4 296.5M489.4 296.5L491.3 297.2M491.3 297.2L492.4 295.2M492.4 295.2L490.6 296.8M490.6 296.8L491.7 296.3M491.7 296.3L490.5 295.3"/><path stroke="#f0d727" d="M490.5 295.3L490.9 293.6M490.9 293.6L491.3 291.6M491.3 291.6L492.8 294.7M492.8 294.7L492.4 294.3M492.4 294.3L491.8 294.9M491.8 294.9L496.4 292.0M496.4 292.0L495.5 294.6M495.5 294.6L496.2 293.6M496.2 293.6L492.9 292.5M492.9 292.5L496.1 294.4M496.1 294.4L497.4 291.9M497.4 291.9L496.2 288.5"/><path stroke="#f3bc24" d="M496.2 288.5L495.1 291.3M495.1 291.3L496.2 288.7M496.2 288.7L499.3 286.6M499.3 286.6L500.9 287.6M500.9 287.6L500.3 289.4M500.3 289.4L500.1 291.2M500.1 291.2L499.7 289.3M499.7 289.3L498.6 286.4M498.6 286.4L498.2 288.6M498.2 288.6L500.6 290.2M500.6 290.2L504.9 289.7M504.9 289.7L503.7 286.1M503.7 286.1L502.1 289.7"/><path stroke="#f6a221" d="M502.1 289.7L502.7 287.5M502.7 287.5L502.8 283.5M502.8 283.5L501.1 282.2M501.1 282.2L498.4 284.7M498.4 284.7L502.1 284.3M502.1 284.3L503.2 282.5M503.2 282.5L504.0 284.3M504.0 284.3L506.3 286.3M506.3 286.3L506.0 284.4M506.0 284.4L503.9 282.6M503.9 282.6L505.4 283.5M505.4 283.5L505.5 285.7"/><path stroke="#f9871e" d="M505.5 285.7L506.7 284.0M506.7 284.0L506.2 283.3M506.2 283.3L505.0 281.1M505.0 281.1L506.7 280.6M506.7 280.6L506.8 283.1M506.8 283.1L507.2 284.5M507.2 284.5L507.9 285.4M507.9 285.4L509.3 280.5M509.3 280.5L511.4 280.5M511.4 280.5L507.6 280.9M507.6 280.9L509.3 278.9M509.3 278.9L508.8 281.3"/><path stroke="#f16b1b" d="M508.8 281.3L512.0 283.6M512.0 283.6L513.3 285.0M513.3 285.0L508.1 283.0M508.1 283.0L509.9 279.0M509.9 279.0L511.8 283.0M511.8 283.0L510.4 283.2M510.4 283.2L509.5 284.1M509.5 284.1L510.6 284.8M510.6 284.8L509.7 286.0M509.7 286.0L510.4 287.7M510.4 287.7L511.8 284.9M511.8 284.9L509.9 286.2M509.9 286.2L510.5 287.7"/><path stroke="#e75017" d="M510.5 287.7L512.9 288.0M512.9 288.0L510.3 286.4M510.3 286.4L512.6 286.1M512.6 286.1L514.8 287.7M514.8 287.7L515.0 287.4M515.0 287.4L514.2 284.2M514.2 284.2L513.7 288.5M513.7 288.5L512.4 288.6M512.4 288.6L513.2 290.3M513.2 290.3L512.5 292.4M512.5 292.4L510.9 294.3M510.9 294.3L510.5 292.4"/><path stroke="#dc3414" d="M510.5 292.4L514.8 291.4M514.8 291.4L512.3 292.9M512.3 292.9L512.3 291.9M512.3 291.9L513.0 291.9M513.0 291.9L513.2 291.6M513.2 291.6L517.6 292.0M517.6 292.0L519.1 291.2M519.1 291.2L519.3 291.1M519.3 291.1L518.1 294.1M518.1 294.1L517.6 291.5M517.6 291.5L517.5 293.2M517.5 293.2L519.5 292.8M519.5 292.8L519.3 294.3"/><path stroke="#b51e0f" d="M519.3 294.3L517.3 294.9M517.3 294.9L517.9 296.2M517.9 296.2L519.5 295.9M519.5 295.9L516.9 295.9M516.9 295.9L519.1 294.7M519.1 294.7L520.2 293.6M520.2 293.6L522.0 296.2M522.0 296.2L523.9 295.7M523.9 295.7L526.8 297.7M526.8 297.7L524.2 297.1M524.2 297.1L522.1 297.0M522.1 297.0L525.0 299.2"/><path stroke="#8c0a0a" d="M525.0 299.2L524.9 295.5M524.9 295.5L525.5 298.7M525.5 298.7L526.5 300.3M526.5 300.3L528.3 301.6M528.3 301.6L529.1 298.7M529.1 298.7L529.5 302.5"/></g>
<path d="M484.1 335.3 L481.4 330.2 L481.8 333.2 L484.3 328.9 L483.2 328.0 L485.9 322.7 L484.6 318.6 L482.8 319.4 L479.7 318.6 L480.7 317.8 L475.9 314.3 L474.1 316.3 L476.1 311.0 L470.9 313.2 L470.5 312.4 L469.9 313.3 L472.7 313.4 L472.9 312.4 L477.1 316.2 L477.5 315.9 L479.2 315.0 L480.5 317.5 L481.3 316.9 L483.8 313.7 L486.1 317.8 L486.3 320.3 L490.5 317.5 L488.0 315.7 L494.0 314.8 L497.2 314.2 L494.9 312.3 L491.8 312.8 L490.6 311.9 L492.2 309.9 L487.3 312.3 L489.0 307.2 L490.0 302.2 L485.9 300.9 L486.3 301.9 L481.7 303.1 L480.0 299.4 L479.5 301.5 L481.4 297.8 L484.6 296.6 L485.1 295.4 L485.4 294.2 L488.9 294.7 L488.9 295.5 L490.6 296.8 L491.3 291.6 L496.4 292.0 L496.1 294.4 L496.2 288.7 L500.1 291.2 L500.6 290.2 L502.7 287.5 L502.1 284.3 L506.0 284.4 L506.7 284.0 L506.8 283.1 L511.4 280.5 L512.0 283.6 L511.8 283.0 L509.7 286.0 L510.5 287.7 L514.8 287.7 L512.4 288.6 L510.5 292.4 L513.0 291.9 L519.3 291.1 L519.5 292.8 L519.5 295.9 L522.0 296.2 L522.1 297.0 L526.5 300.3" stroke="#222" stroke-width="0.4" fill="none" opacity="0.8"/>
<linearGradient id="gj2" x1="0" y1="0" x2="1" y2="0"><stop offset="0.0" stop-color="rgb(40, 40, 140)"/><stop offset="0.12" stop-color="rgb(40, 60, 220)"/><stop offset="0.3" stop-color="rgb(30, 170, 240)"/><stop offset="0.42" stop-color="rgb(40, 220, 200)"/><stop offset="0.55" stop-color="rgb(140, 230, 60)"/><stop offset="0.66" stop-color="rgb(240, 220, 40)"/><stop offset="0.8" stop-color="rgb(250, 130, 30)"/><stop offset="0.92" stop-color="rgb(220, 50, 20)"/><stop offset="1.0" stop-color="rgb(140, 10, 10)"/></linearGradient>
<rect x="599.30" y="250.40" width="34.80" height="4.40" fill="url(#gj2)" stroke="none" stroke-width="1" />
<text x="596.60" y="254.60" font-size="5.6" text-anchor="end" fill="#222222" font-weight="normal" >12.0 s</text>
<text x="636.20" y="254.60" font-size="5.6" text-anchor="start" fill="#222222" font-weight="normal" >14.0 s</text>
<text x="560.6" y="265.0" font-size="6.4" fill="#222222"><tspan font-style="italic">z</tspan> (nm)</text>
<line x1="575.00" y1="270.40" x2="654.00" y2="259.60" stroke="#c8c8c8" stroke-width="0.45" />
<line x1="575.00" y1="275.80" x2="654.00" y2="265.00" stroke="#c8c8c8" stroke-width="0.45" />
<line x1="575.00" y1="281.60" x2="654.00" y2="270.80" stroke="#c8c8c8" stroke-width="0.45" />
<line x1="575.00" y1="285.80" x2="575.00" y2="270.40" stroke="#c8c8c8" stroke-width="0.45" />
<line x1="590.80" y1="283.64" x2="590.80" y2="268.24" stroke="#c8c8c8" stroke-width="0.45" />
<line x1="606.60" y1="281.48" x2="606.60" y2="266.08" stroke="#c8c8c8" stroke-width="0.45" />
<line x1="622.40" y1="279.32" x2="622.40" y2="263.92" stroke="#c8c8c8" stroke-width="0.45" />
<line x1="638.20" y1="277.16" x2="638.20" y2="261.76" stroke="#c8c8c8" stroke-width="0.45" />
<line x1="654.00" y1="275.00" x2="654.00" y2="259.60" stroke="#c8c8c8" stroke-width="0.45" />
<line x1="654.00" y1="275.00" x2="672.50" y2="332.20" stroke="#c8c8c8" stroke-width="0.35" />
<line x1="654.00" y1="273.07" x2="672.50" y2="330.27" stroke="#c8c8c8" stroke-width="0.35" />
<line x1="654.00" y1="271.15" x2="672.50" y2="328.35" stroke="#c8c8c8" stroke-width="0.35" />
<line x1="654.00" y1="269.22" x2="672.50" y2="326.42" stroke="#c8c8c8" stroke-width="0.35" />
<line x1="654.00" y1="267.30" x2="672.50" y2="324.50" stroke="#c8c8c8" stroke-width="0.35" />
<line x1="654.00" y1="265.38" x2="672.50" y2="322.57" stroke="#c8c8c8" stroke-width="0.35" />
<line x1="654.00" y1="263.45" x2="672.50" y2="320.65" stroke="#c8c8c8" stroke-width="0.35" />
<line x1="654.00" y1="261.52" x2="672.50" y2="318.72" stroke="#c8c8c8" stroke-width="0.35" />
<line x1="654.00" y1="259.60" x2="672.50" y2="316.80" stroke="#c8c8c8" stroke-width="0.35" />
<line x1="575.00" y1="285.80" x2="654.00" y2="275.00" stroke="#c8c8c8" stroke-width="0.45" />
<line x1="578.83" y1="299.18" x2="658.62" y2="289.30" stroke="#c8c8c8" stroke-width="0.45" />
<line x1="582.65" y1="312.55" x2="663.25" y2="303.60" stroke="#c8c8c8" stroke-width="0.45" />
<line x1="586.47" y1="325.93" x2="667.88" y2="317.90" stroke="#c8c8c8" stroke-width="0.45" />
<line x1="590.30" y1="339.30" x2="672.50" y2="332.20" stroke="#c8c8c8" stroke-width="0.45" />
<line x1="575.00" y1="285.80" x2="590.30" y2="339.30" stroke="#c8c8c8" stroke-width="0.45" />
<line x1="590.80" y1="283.64" x2="606.74" y2="337.88" stroke="#c8c8c8" stroke-width="0.45" />
<line x1="606.60" y1="281.48" x2="623.18" y2="336.46" stroke="#c8c8c8" stroke-width="0.45" />
<line x1="622.40" y1="279.32" x2="639.62" y2="335.04" stroke="#c8c8c8" stroke-width="0.45" />
<line x1="638.20" y1="277.16" x2="656.06" y2="333.62" stroke="#c8c8c8" stroke-width="0.45" />
<line x1="654.00" y1="275.00" x2="672.50" y2="332.20" stroke="#c8c8c8" stroke-width="0.45" />
<line x1="575.00" y1="270.40" x2="575.00" y2="285.80" stroke="#333" stroke-width="0.6" />
<line x1="575.00" y1="285.80" x2="590.30" y2="339.30" stroke="#333" stroke-width="0.6" />
<line x1="590.30" y1="339.30" x2="672.50" y2="332.20" stroke="#333" stroke-width="0.6" />
<text x="572.50" y="272.50" font-size="6.0" text-anchor="end" fill="#222222" font-weight="normal" >50</text>
<line x1="573.50" y1="270.40" x2="575.00" y2="270.40" stroke="#333" stroke-width="0.5" />
<text x="572.50" y="277.90" font-size="6.0" text-anchor="end" fill="#222222" font-weight="normal" >25</text>
<line x1="573.50" y1="275.80" x2="575.00" y2="275.80" stroke="#333" stroke-width="0.5" />
<text x="572.50" y="283.70" font-size="6.0" text-anchor="end" fill="#222222" font-weight="normal" >0</text>
<line x1="573.50" y1="281.60" x2="575.00" y2="281.60" stroke="#333" stroke-width="0.5" />
<text x="572.00" y="287.90" font-size="6.0" text-anchor="end" fill="#222222" font-weight="normal" >2.5</text>
<line x1="573.50" y1="285.80" x2="575.00" y2="285.80" stroke="#333" stroke-width="0.5" />
<text x="575.83" y="301.28" font-size="6.0" text-anchor="end" fill="#222222" font-weight="normal" >2</text>
<line x1="577.33" y1="299.18" x2="578.83" y2="299.18" stroke="#333" stroke-width="0.5" />
<text x="579.65" y="314.65" font-size="6.0" text-anchor="end" fill="#222222" font-weight="normal" >1.5</text>
<line x1="581.15" y1="312.55" x2="582.65" y2="312.55" stroke="#333" stroke-width="0.5" />
<text x="583.47" y="328.03" font-size="6.0" text-anchor="end" fill="#222222" font-weight="normal" >1</text>
<line x1="584.97" y1="325.93" x2="586.47" y2="325.93" stroke="#333" stroke-width="0.5" />
<text x="587.30" y="341.40" font-size="6.0" text-anchor="end" fill="#222222" font-weight="normal" >0.5</text>
<line x1="588.80" y1="339.30" x2="590.30" y2="339.30" stroke="#333" stroke-width="0.5" />
<text x="591.30" y="346.10" font-size="6.0" text-anchor="middle" fill="#222222" font-weight="normal" >7</text>
<line x1="590.30" y1="339.30" x2="590.60" y2="340.80" stroke="#333" stroke-width="0.5" />
<text x="607.74" y="344.68" font-size="6.0" text-anchor="middle" fill="#222222" font-weight="normal" >7.5</text>
<line x1="606.74" y1="337.88" x2="607.04" y2="339.38" stroke="#333" stroke-width="0.5" />
<text x="624.18" y="343.26" font-size="6.0" text-anchor="middle" fill="#222222" font-weight="normal" >8</text>
<line x1="623.18" y1="336.46" x2="623.48" y2="337.96" stroke="#333" stroke-width="0.5" />
<text x="640.62" y="341.84" font-size="6.0" text-anchor="middle" fill="#222222" font-weight="normal" >8.5</text>
<line x1="639.62" y1="335.04" x2="639.92" y2="336.54" stroke="#333" stroke-width="0.5" />
<text x="657.06" y="340.42" font-size="6.0" text-anchor="middle" fill="#222222" font-weight="normal" >9</text>
<line x1="656.06" y1="333.62" x2="656.36" y2="335.12" stroke="#333" stroke-width="0.5" />
<text x="673.50" y="339.00" font-size="6.0" text-anchor="middle" fill="#222222" font-weight="normal" >9.5</text>
<line x1="672.50" y1="332.20" x2="672.80" y2="333.70" stroke="#333" stroke-width="0.5" />
<text x="0" y="0" font-size="6.4" fill="#222222" text-anchor="middle" transform="translate(564.0,319.0) rotate(76)"><tspan font-style="italic">y</tspan> (μm)</text>
<text x="0" y="0" font-size="6.4" fill="#222222" text-anchor="middle" transform="translate(638.5,349.4) rotate(-5)"><tspan font-style="italic">x</tspan> (μm)</text>
<g fill="none" stroke-width="0.8" stroke-linecap="round" opacity="0.95"><path stroke="#28288c" d="M657.7 289.9L656.0 290.2M656.0 290.2L655.6 287.6M655.6 287.6L653.1 287.1M653.1 287.1L650.6 286.5M650.6 286.5L650.0 286.8M650.0 286.8L648.8 287.8M648.8 287.8L648.6 282.3"/><path stroke="#282ea7" d="M648.6 282.3L651.0 283.8M651.0 283.8L648.8 285.4M648.8 285.4L649.1 285.5M649.1 285.5L647.2 285.6M647.2 285.6L644.9 287.4M644.9 287.4L644.0 285.4M644.0 285.4L645.3 284.8M645.3 284.8L645.3 284.7M645.3 284.7L639.6 283.3M639.6 283.3L641.9 281.8M641.9 281.8L645.5 279.9M645.5 279.9L644.5 277.1"/><path stroke="#2835c3" d="M644.5 277.1L644.3 276.0M644.3 276.0L641.1 282.5M641.1 282.5L643.1 282.4M643.1 282.4L643.1 280.4M643.1 280.4L641.0 282.7M641.0 282.7L638.1 283.9M638.1 283.9L637.1 284.6M637.1 284.6L637.5 287.9M637.5 287.9L641.0 286.2M641.0 286.2L637.9 285.3M637.9 285.3L639.1 284.8M639.1 284.8L640.2 288.1M640.2 288.1L639.8 287.6"/><path stroke="#273fdc" d="M639.8 287.6L640.8 287.8M640.8 287.8L641.1 288.1M641.1 288.1L642.3 288.6M642.3 288.6L638.2 289.7M638.2 289.7L636.7 288.8M636.7 288.8L636.5 291.4M636.5 291.4L632.8 291.6M632.8 291.6L634.0 291.8M634.0 291.8L635.9 290.3M635.9 290.3L636.4 291.5M636.4 291.5L635.5 292.4M635.5 292.4L634.1 292.6"/><path stroke="#2558e1" d="M634.1 292.6L634.3 297.2M634.3 297.2L635.3 297.7M635.3 297.7L634.7 296.1M634.7 296.1L634.2 299.7M634.2 299.7L630.7 299.7M630.7 299.7L632.4 299.1M632.4 299.1L632.7 300.8M632.7 300.8L634.8 301.4M634.8 301.4L634.5 299.9M634.5 299.9L632.7 298.8M632.7 298.8L630.6 297.2M630.6 297.2L629.9 299.4M629.9 299.4L627.8 298.5"/><path stroke="#2371e5" d="M627.8 298.5L627.7 297.6M627.7 297.6L627.8 297.5M627.8 297.5L624.1 295.3M624.1 295.3L625.0 296.8M625.0 296.8L625.8 296.8M625.8 296.8L624.3 293.8M624.3 293.8L625.2 293.3M625.2 293.3L625.0 292.4M625.0 292.4L622.2 293.5M622.2 293.5L621.1 292.4M621.1 292.4L622.6 293.7M622.6 293.7L622.5 292.4"/><path stroke="#208bea" d="M622.5 292.4L620.4 291.2M620.4 291.2L619.8 290.9M619.8 290.9L621.5 290.3M621.5 290.3L619.8 288.8M619.8 288.8L622.2 289.1M622.2 289.1L621.7 289.0M621.7 289.0L621.9 288.4M621.9 288.4L622.9 288.9M622.9 288.9L616.9 287.2M616.9 287.2L623.1 284.2M623.1 284.2L621.1 286.6M621.1 286.6L619.6 288.2"/><path stroke="#1ea4ef" d="M619.6 288.2L616.5 284.7M616.5 284.7L616.3 283.7M616.3 283.7L614.4 285.1M614.4 285.1L615.3 284.9M615.3 284.9L614.4 285.1M614.4 285.1L614.0 283.5M614.0 283.5L614.5 284.3M614.5 284.3L613.7 285.2M613.7 285.2L611.1 284.2M611.1 284.2L610.4 285.9M610.4 285.9L611.4 288.0M611.4 288.0L613.2 284.9M613.2 284.9L609.5 284.6"/><path stroke="#20b7e4" d="M609.5 284.6L608.8 283.2M608.8 283.2L606.9 283.4M606.9 283.4L607.6 283.0M607.6 283.0L607.9 280.5M607.9 280.5L603.7 280.1M603.7 280.1L603.9 279.2M603.9 279.2L606.3 279.3M606.3 279.3L608.0 279.6M608.0 279.6L607.3 280.0M607.3 280.0L606.9 277.2M606.9 277.2L606.8 277.8M606.8 277.8L603.2 278.6"/><path stroke="#24c9d7" d="M603.2 278.6L603.3 280.0M603.3 280.0L603.6 278.9M603.6 278.9L599.9 281.0M599.9 281.0L603.0 281.1M603.0 281.1L602.7 282.2M602.7 282.2L600.4 282.2M600.4 282.2L600.5 279.8M600.5 279.8L600.9 281.1M600.9 281.1L603.2 283.0M603.2 283.0L598.9 279.7M598.9 279.7L599.0 281.1M599.0 281.1L597.6 280.2M597.6 280.2L597.9 280.5"/><path stroke="#27dac9" d="M597.9 280.5L597.1 284.2M597.1 284.2L598.1 283.8M598.1 283.8L596.3 284.8M596.3 284.8L599.8 285.2M599.8 285.2L601.4 285.2M601.4 285.2L599.0 287.9M599.0 287.9L596.8 288.6M596.8 288.6L594.6 290.2M594.6 290.2L598.1 289.1M598.1 289.1L598.5 289.2M598.5 289.2L595.2 294.6M595.2 294.6L598.3 294.5"/><path stroke="#45de9e" d="M598.3 294.5L599.6 293.6M599.6 293.6L603.7 290.3M603.7 290.3L601.6 291.1M601.6 291.1L601.0 293.6M601.0 293.6L600.1 291.9M600.1 291.9L599.2 294.1M599.2 294.1L602.3 296.1M602.3 296.1L605.3 295.1M605.3 295.1L606.1 296.7M606.1 296.7L604.9 295.4M604.9 295.4L606.3 295.1M606.3 295.1L605.4 294.6M605.4 294.6L608.5 296.1"/><path stroke="#65e271" d="M608.5 296.1L606.7 296.7M606.7 296.7L606.6 297.7M606.6 297.7L604.4 296.4M604.4 296.4L607.2 299.5M607.2 299.5L605.8 299.7M605.8 299.7L605.2 296.2M605.2 296.2L605.0 296.5M605.0 296.5L606.5 298.2M606.5 298.2L605.5 297.2M605.5 297.2L605.0 296.2M605.0 296.2L604.6 301.1M604.6 301.1L601.7 302.9"/><path stroke="#85e544" d="M601.7 302.9L604.2 302.3M604.2 302.3L604.7 302.7M604.7 302.7L602.1 299.6M602.1 299.6L599.5 299.2M599.5 299.2L603.5 301.9M603.5 301.9L601.0 300.8M601.0 300.8L602.6 300.8M602.6 300.8L602.7 304.6M602.7 304.6L600.1 303.8M600.1 303.8L598.4 302.6M598.4 302.6L598.3 306.9M598.3 306.9L598.4 308.3M598.4 308.3L596.3 308.0"/><path stroke="#aae235" d="M596.3 308.0L595.2 306.9M595.2 306.9L597.8 311.3M597.8 311.3L598.2 309.8M598.2 309.8L595.6 309.5M595.6 309.5L596.1 307.0M596.1 307.0L595.7 308.5M595.7 308.5L597.5 310.4M597.5 310.4L598.9 310.4M598.9 310.4L602.6 312.0M602.6 312.0L603.6 314.0M603.6 314.0L603.5 311.4M603.5 311.4L602.1 309.3"/><path stroke="#d0df2e" d="M602.1 309.3L603.5 310.4M603.5 310.4L604.7 313.2M604.7 313.2L603.5 313.6M603.5 313.6L606.6 313.8M606.6 313.8L607.9 313.7M607.9 313.7L605.8 313.7M605.8 313.7L603.6 315.3M603.6 315.3L605.0 317.3M605.0 317.3L604.9 316.5M604.9 316.5L607.6 315.8M607.6 315.8L609.4 314.7M609.4 314.7L608.3 313.2M608.3 313.2L608.8 313.6"/><path stroke="#f0d727" d="M608.8 313.6L610.7 314.7M610.7 314.7L610.5 314.8M610.5 314.8L608.7 315.6M608.7 315.6L611.9 314.5M611.9 314.5L612.7 317.4M612.7 317.4L612.6 317.9M612.6 317.9L613.3 321.3M613.3 321.3L616.9 320.8M616.9 320.8L615.5 319.4M615.5 319.4L616.0 318.1M616.0 318.1L615.8 316.8M615.8 316.8L615.7 316.2"/><path stroke="#f3bc24" d="M615.7 316.2L620.0 313.0M620.0 313.0L617.4 314.2M617.4 314.2L619.8 313.1M619.8 313.1L621.0 313.7M621.0 313.7L621.4 315.2M621.4 315.2L619.3 314.4M619.3 314.4L619.5 311.6M619.5 311.6L619.9 308.8M619.9 308.8L616.7 311.0M616.7 311.0L615.5 312.8M615.5 312.8L618.3 309.7M618.3 309.7L616.4 305.1M616.4 305.1L616.6 303.5"/><path stroke="#f6a221" d="M616.6 303.5L619.2 302.3M619.2 302.3L617.9 299.7M617.9 299.7L616.3 304.7M616.3 304.7L615.1 303.5M615.1 303.5L614.3 304.5M614.3 304.5L615.9 303.8M615.9 303.8L611.7 304.0M611.7 304.0L614.3 307.1M614.3 307.1L614.7 305.1M614.7 305.1L614.3 305.0M614.3 305.0L618.3 302.0M618.3 302.0L617.8 300.4"/><path stroke="#f9871e" d="M617.8 300.4L616.7 300.9M616.7 300.9L618.4 300.0M618.4 300.0L618.2 303.0M618.2 303.0L619.8 303.3M619.8 303.3L620.8 302.0M620.8 302.0L621.7 302.4M621.7 302.4L621.7 303.3M621.7 303.3L622.1 303.4M622.1 303.4L622.7 303.2M622.7 303.2L622.1 300.8M622.1 300.8L621.4 302.4M621.4 302.4L624.1 301.5"/><path stroke="#f16b1b" d="M624.1 301.5L626.0 299.2M626.0 299.2L626.3 298.3M626.3 298.3L623.6 298.1M623.6 298.1L624.1 300.6M624.1 300.6L624.9 298.3M624.9 298.3L628.4 297.9M628.4 297.9L626.7 298.0M626.7 298.0L627.0 300.2M627.0 300.2L627.0 297.1M627.0 297.1L624.5 295.5M624.5 295.5L631.2 295.4M631.2 295.4L630.1 295.9M630.1 295.9L631.0 295.4"/><path stroke="#e75017" d="M631.0 295.4L636.3 298.3M636.3 298.3L637.8 299.0M637.8 299.0L634.7 293.2M634.7 293.2L636.1 294.0M636.1 294.0L636.0 293.4M636.0 293.4L637.4 294.0M637.4 294.0L636.9 293.9M636.9 293.9L635.5 292.1M635.5 292.1L637.2 291.2M637.2 291.2L638.8 291.9M638.8 291.9L636.2 292.8M636.2 292.8L633.8 290.8"/><path stroke="#dc3414" d="M633.8 290.8L632.6 289.9M632.6 289.9L633.4 292.5M633.4 292.5L633.4 288.5M633.4 288.5L630.9 284.9M630.9 284.9L632.0 287.3M632.0 287.3L631.7 287.4M631.7 287.4L631.6 287.3M631.6 287.3L631.5 286.7M631.5 286.7L628.4 287.4M628.4 287.4L630.4 283.3M630.4 283.3L628.6 281.8M628.6 281.8L628.6 282.3M628.6 282.3L629.8 284.6"/><path stroke="#b51e0f" d="M629.8 284.6L627.1 283.0M627.1 283.0L625.2 283.6M625.2 283.6L623.4 283.5M623.4 283.5L621.5 284.3M621.5 284.3L623.3 280.8M623.3 280.8L621.9 281.0M621.9 281.0L622.6 276.0M622.6 276.0L622.6 280.4M622.6 280.4L621.3 277.7M621.3 277.7L623.1 278.7M623.1 278.7L622.2 279.5M622.2 279.5L619.2 277.5"/><path stroke="#8c0a0a" d="M619.2 277.5L617.6 275.5M617.6 275.5L617.9 274.3M617.9 274.3L621.0 276.0M621.0 276.0L621.1 273.1M621.1 273.1L619.2 273.8M619.2 273.8L618.6 274.8"/></g>
<path d="M657.7 289.9 L650.6 286.5 L651.0 283.8 L644.9 287.4 L639.6 283.3 L644.3 276.0 L641.0 282.7 L641.0 286.2 L639.8 287.6 L638.2 289.7 L634.0 291.8 L634.1 292.6 L634.2 299.7 L634.8 301.4 L629.9 299.4 L624.1 295.3 L625.2 293.3 L622.6 293.7 L621.5 290.3 L621.9 288.4 L621.1 286.6 L614.4 285.1 L614.5 284.3 L611.4 288.0 L606.9 283.4 L603.9 279.2 L606.9 277.2 L603.6 278.9 L600.4 282.2 L598.9 279.7 L597.1 284.2 L601.4 285.2 L598.1 289.1 L599.6 293.6 L600.1 291.9 L606.1 296.7 L608.5 296.1 L607.2 299.5 L606.5 298.2 L601.7 302.9 L599.5 299.2 L602.7 304.6 L598.4 308.3 L598.2 309.8 L597.5 310.4 L603.5 311.4 L603.5 313.6 L603.6 315.3 L609.4 314.7 L610.5 314.8 L612.6 317.9 L616.0 318.1 L617.4 314.2 L619.3 314.4 L615.5 312.8 L619.2 302.3 L614.3 304.5 L614.7 305.1 L616.7 300.9 L620.8 302.0 L622.7 303.2 L626.0 299.2 L624.9 298.3 L627.0 297.1 L631.0 295.4 L636.1 294.0 L635.5 292.1 L633.8 290.8 L630.9 284.9 L631.5 286.7 L628.6 282.3 L623.4 283.5 L622.6 276.0 L622.2 279.5 L621.0 276.0" stroke="#222" stroke-width="0.4" fill="none" opacity="0.8"/>
<linearGradient id="gj3" x1="0" y1="0" x2="1" y2="0"><stop offset="0.0" stop-color="rgb(40, 40, 140)"/><stop offset="0.12" stop-color="rgb(40, 60, 220)"/><stop offset="0.3" stop-color="rgb(30, 170, 240)"/><stop offset="0.42" stop-color="rgb(40, 220, 200)"/><stop offset="0.55" stop-color="rgb(140, 230, 60)"/><stop offset="0.66" stop-color="rgb(240, 220, 40)"/><stop offset="0.8" stop-color="rgb(250, 130, 30)"/><stop offset="0.92" stop-color="rgb(220, 50, 20)"/><stop offset="1.0" stop-color="rgb(140, 10, 10)"/></linearGradient>
<rect x="476.30" y="365.10" width="34.80" height="4.40" fill="url(#gj3)" stroke="none" stroke-width="1" />
<text x="473.60" y="369.30" font-size="5.6" text-anchor="end" fill="#222222" font-weight="normal" >0.9 s</text>
<text x="513.20" y="369.30" font-size="5.6" text-anchor="start" fill="#222222" font-weight="normal" >2.9 s</text>
<text x="437.6" y="379.7" font-size="6.4" fill="#222222"><tspan font-style="italic">z</tspan> (nm)</text>
<line x1="452.00" y1="385.10" x2="531.00" y2="374.30" stroke="#c8c8c8" stroke-width="0.45" />
<line x1="452.00" y1="390.50" x2="531.00" y2="379.70" stroke="#c8c8c8" stroke-width="0.45" />
<line x1="452.00" y1="396.30" x2="531.00" y2="385.50" stroke="#c8c8c8" stroke-width="0.45" />
<line x1="452.00" y1="400.50" x2="452.00" y2="385.10" stroke="#c8c8c8" stroke-width="0.45" />
<line x1="471.75" y1="397.80" x2="471.75" y2="382.40" stroke="#c8c8c8" stroke-width="0.45" />
<line x1="491.50" y1="395.10" x2="491.50" y2="379.70" stroke="#c8c8c8" stroke-width="0.45" />
<line x1="511.25" y1="392.40" x2="511.25" y2="377.00" stroke="#c8c8c8" stroke-width="0.45" />
<line x1="531.00" y1="389.70" x2="531.00" y2="374.30" stroke="#c8c8c8" stroke-width="0.45" />
<line x1="531.00" y1="389.70" x2="549.50" y2="446.90" stroke="#c8c8c8" stroke-width="0.35" />
<line x1="531.00" y1="387.77" x2="549.50" y2="444.97" stroke="#c8c8c8" stroke-width="0.35" />
<line x1="531.00" y1="385.85" x2="549.50" y2="443.05" stroke="#c8c8c8" stroke-width="0.35" />
<line x1="531.00" y1="383.92" x2="549.50" y2="441.12" stroke="#c8c8c8" stroke-width="0.35" />
<line x1="531.00" y1="382.00" x2="549.50" y2="439.20" stroke="#c8c8c8" stroke-width="0.35" />
<line x1="531.00" y1="380.07" x2="549.50" y2="437.27" stroke="#c8c8c8" stroke-width="0.35" />
<line x1="531.00" y1="378.15" x2="549.50" y2="435.35" stroke="#c8c8c8" stroke-width="0.35" />
<line x1="531.00" y1="376.22" x2="549.50" y2="433.42" stroke="#c8c8c8" stroke-width="0.35" />
<line x1="531.00" y1="374.30" x2="549.50" y2="431.50" stroke="#c8c8c8" stroke-width="0.35" />
<line x1="452.00" y1="400.50" x2="531.00" y2="389.70" stroke="#c8c8c8" stroke-width="0.45" />
<line x1="455.82" y1="413.88" x2="535.62" y2="404.00" stroke="#c8c8c8" stroke-width="0.45" />
<line x1="459.65" y1="427.25" x2="540.25" y2="418.30" stroke="#c8c8c8" stroke-width="0.45" />
<line x1="463.48" y1="440.62" x2="544.88" y2="432.60" stroke="#c8c8c8" stroke-width="0.45" />
<line x1="467.30" y1="454.00" x2="549.50" y2="446.90" stroke="#c8c8c8" stroke-width="0.45" />
<line x1="452.00" y1="400.50" x2="467.30" y2="454.00" stroke="#c8c8c8" stroke-width="0.45" />
<line x1="471.75" y1="397.80" x2="487.85" y2="452.23" stroke="#c8c8c8" stroke-width="0.45" />
<line x1="491.50" y1="395.10" x2="508.40" y2="450.45" stroke="#c8c8c8" stroke-width="0.45" />
<line x1="511.25" y1="392.40" x2="528.95" y2="448.67" stroke="#c8c8c8" stroke-width="0.45" />
<line x1="531.00" y1="389.70" x2="549.50" y2="446.90" stroke="#c8c8c8" stroke-width="0.45" />
<line x1="452.00" y1="385.10" x2="452.00" y2="400.50" stroke="#333" stroke-width="0.6" />
<line x1="452.00" y1="400.50" x2="467.30" y2="454.00" stroke="#333" stroke-width="0.6" />
<line x1="467.30" y1="454.00" x2="549.50" y2="446.90" stroke="#333" stroke-width="0.6" />
<text x="449.50" y="387.20" font-size="6.0" text-anchor="end" fill="#222222" font-weight="normal" >50</text>
<line x1="450.50" y1="385.10" x2="452.00" y2="385.10" stroke="#333" stroke-width="0.5" />
<text x="449.50" y="392.60" font-size="6.0" text-anchor="end" fill="#222222" font-weight="normal" >25</text>
<line x1="450.50" y1="390.50" x2="452.00" y2="390.50" stroke="#333" stroke-width="0.5" />
<text x="449.50" y="398.40" font-size="6.0" text-anchor="end" fill="#222222" font-weight="normal" >0</text>
<line x1="450.50" y1="396.30" x2="452.00" y2="396.30" stroke="#333" stroke-width="0.5" />
<text x="449.00" y="402.60" font-size="6.0" text-anchor="end" fill="#222222" font-weight="normal" >6</text>
<line x1="450.50" y1="400.50" x2="452.00" y2="400.50" stroke="#333" stroke-width="0.5" />
<text x="452.82" y="415.98" font-size="6.0" text-anchor="end" fill="#222222" font-weight="normal" >5.5</text>
<line x1="454.32" y1="413.88" x2="455.82" y2="413.88" stroke="#333" stroke-width="0.5" />
<text x="456.65" y="429.35" font-size="6.0" text-anchor="end" fill="#222222" font-weight="normal" >5</text>
<line x1="458.15" y1="427.25" x2="459.65" y2="427.25" stroke="#333" stroke-width="0.5" />
<text x="460.48" y="442.73" font-size="6.0" text-anchor="end" fill="#222222" font-weight="normal" >4.5</text>
<line x1="461.98" y1="440.62" x2="463.48" y2="440.62" stroke="#333" stroke-width="0.5" />
<text x="464.30" y="456.10" font-size="6.0" text-anchor="end" fill="#222222" font-weight="normal" >4</text>
<line x1="465.80" y1="454.00" x2="467.30" y2="454.00" stroke="#333" stroke-width="0.5" />
<text x="468.30" y="460.80" font-size="6.0" text-anchor="middle" fill="#222222" font-weight="normal" >1</text>
<line x1="467.30" y1="454.00" x2="467.60" y2="455.50" stroke="#333" stroke-width="0.5" />
<text x="488.85" y="459.03" font-size="6.0" text-anchor="middle" fill="#222222" font-weight="normal" >1.5</text>
<line x1="487.85" y1="452.23" x2="488.15" y2="453.73" stroke="#333" stroke-width="0.5" />
<text x="509.40" y="457.25" font-size="6.0" text-anchor="middle" fill="#222222" font-weight="normal" >2</text>
<line x1="508.40" y1="450.45" x2="508.70" y2="451.95" stroke="#333" stroke-width="0.5" />
<text x="529.95" y="455.47" font-size="6.0" text-anchor="middle" fill="#222222" font-weight="normal" >2.5</text>
<line x1="528.95" y1="448.67" x2="529.25" y2="450.17" stroke="#333" stroke-width="0.5" />
<text x="550.50" y="453.70" font-size="6.0" text-anchor="middle" fill="#222222" font-weight="normal" >3</text>
<line x1="549.50" y1="446.90" x2="549.80" y2="448.40" stroke="#333" stroke-width="0.5" />
<text x="0" y="0" font-size="6.4" fill="#222222" text-anchor="middle" transform="translate(441.0,433.7) rotate(76)"><tspan font-style="italic">y</tspan> (μm)</text>
<text x="0" y="0" font-size="6.4" fill="#222222" text-anchor="middle" transform="translate(515.5,464.1) rotate(-5)"><tspan font-style="italic">x</tspan> (μm)</text>
<g fill="none" stroke-width="0.8" stroke-linecap="round" opacity="0.95"><path stroke="#28288c" d="M481.2 430.0L479.9 430.7M479.9 430.7L480.4 429.1M480.4 429.1L484.3 429.1M484.3 429.1L483.3 430.1M483.3 430.1L484.7 429.4M484.7 429.4L484.8 427.6M484.8 427.6L483.4 427.6"/><path stroke="#282ea7" d="M483.4 427.6L481.3 426.0M481.3 426.0L479.9 427.3M479.9 427.3L481.7 427.9M481.7 427.9L483.1 426.6M483.1 426.6L483.7 428.6M483.7 428.6L485.4 427.9M485.4 427.9L484.6 425.7M484.6 425.7L484.1 424.4M484.1 424.4L482.5 428.7M482.5 428.7L480.6 430.3M480.6 430.3L483.8 429.2M483.8 429.2L485.7 429.9"/><path stroke="#2835c3" d="M485.7 429.9L487.7 428.9M487.7 428.9L486.2 427.7M486.2 427.7L484.9 427.9M484.9 427.9L484.7 429.7M484.7 429.7L482.9 427.0M482.9 427.0L483.6 424.0M483.6 424.0L488.7 421.8M488.7 421.8L487.8 423.7M487.8 423.7L490.6 422.1M490.6 422.1L491.1 423.3M491.1 423.3L489.5 423.8M489.5 423.8L490.1 423.3M490.1 423.3L489.4 425.3"/><path stroke="#273fdc" d="M489.4 425.3L492.2 421.7M492.2 421.7L493.2 425.4M493.2 425.4L490.7 426.2M490.7 426.2L489.6 428.9M489.6 428.9L490.3 427.2M490.3 427.2L490.1 426.5M490.1 426.5L490.2 425.0M490.2 425.0L494.0 422.7M494.0 422.7L487.0 424.4M487.0 424.4L489.2 426.1M489.2 426.1L490.3 426.2M490.3 426.2L491.9 428.0"/><path stroke="#2558e1" d="M491.9 428.0L491.6 426.8M491.6 426.8L495.4 427.7M495.4 427.7L492.7 431.0M492.7 431.0L494.4 428.1M494.4 428.1L492.2 428.1M492.2 428.1L491.9 425.9M491.9 425.9L491.1 425.7M491.1 425.7L494.7 425.8M494.7 425.8L492.5 427.7M492.5 427.7L494.0 428.9M494.0 428.9L496.8 427.9M496.8 427.9L496.1 427.6M496.1 427.6L494.3 428.7"/><path stroke="#2371e5" d="M494.3 428.7L497.6 428.5M497.6 428.5L496.8 427.7M496.8 427.7L495.7 426.5M495.7 426.5L495.9 425.8M495.9 425.8L496.1 424.3M496.1 424.3L497.6 426.3M497.6 426.3L496.1 423.5M496.1 423.5L497.2 427.3M497.2 427.3L496.7 426.5M496.7 426.5L496.8 427.8M496.8 427.8L496.4 428.9M496.4 428.9L497.3 429.2"/><path stroke="#208bea" d="M497.3 429.2L498.3 427.4M498.3 427.4L496.6 425.7M496.6 425.7L497.7 426.8M497.7 426.8L499.2 425.1M499.2 425.1L500.3 426.9M500.3 426.9L500.0 425.3M500.0 425.3L499.6 426.4M499.6 426.4L501.0 424.1M501.0 424.1L501.5 423.5M501.5 423.5L500.1 425.9M500.1 425.9L501.9 423.8M501.9 423.8L501.8 424.6"/><path stroke="#1ea4ef" d="M501.8 424.6L500.7 423.9M500.7 423.9L502.3 420.7M502.3 420.7L502.6 423.1M502.6 423.1L503.2 420.8M503.2 420.8L503.2 420.3M503.2 420.3L503.7 422.3M503.7 422.3L503.5 420.9M503.5 420.9L502.2 422.7M502.2 422.7L501.1 422.9M501.1 422.9L502.9 421.6M502.9 421.6L506.9 421.4M506.9 421.4L508.6 417.9M508.6 417.9L502.4 420.7"/><path stroke="#20b7e4" d="M502.4 420.7L504.1 420.0M504.1 420.0L503.9 416.9M503.9 416.9L502.9 416.7M502.9 416.7L503.2 419.5M503.2 419.5L503.8 419.9M503.8 419.9L503.0 418.7M503.0 418.7L504.0 418.2M504.0 418.2L506.4 416.9M506.4 416.9L508.7 416.0M508.7 416.0L508.6 415.7M508.6 415.7L509.5 416.9M509.5 416.9L507.9 418.3"/><path stroke="#24c9d7" d="M507.9 418.3L505.4 415.9M505.4 415.9L502.0 418.3M502.0 418.3L502.4 416.4M502.4 416.4L503.6 419.4M503.6 419.4L501.6 418.0M501.6 418.0L502.6 417.6M502.6 417.6L500.9 415.7M500.9 415.7L504.3 417.8M504.3 417.8L507.2 414.8M507.2 414.8L506.2 414.3M506.2 414.3L503.4 411.8M503.4 411.8L505.4 413.1M505.4 413.1L505.0 415.2"/><path stroke="#27dac9" d="M505.0 415.2L503.4 414.9M503.4 414.9L504.2 413.7M504.2 413.7L505.4 413.4M505.4 413.4L505.6 413.2M505.6 413.2L508.4 412.0M508.4 412.0L508.3 412.7M508.3 412.7L506.0 413.3M506.0 413.3L504.0 414.0M504.0 414.0L503.1 411.5M503.1 411.5L504.4 412.3M504.4 412.3L506.0 412.6M506.0 412.6L504.9 409.6"/><path stroke="#45de9e" d="M504.9 409.6L505.6 410.0M505.6 410.0L503.5 411.2M503.5 411.2L504.2 408.5M504.2 408.5L505.0 406.4M505.0 406.4L503.2 408.0M503.2 408.0L501.2 408.0M501.2 408.0L500.5 409.0M500.5 409.0L501.1 408.5M501.1 408.5L500.2 407.2M500.2 407.2L503.6 407.8M503.6 407.8L500.7 408.7M500.7 408.7L503.4 407.0M503.4 407.0L505.5 405.0"/><path stroke="#65e271" d="M505.5 405.0L504.0 407.4M504.0 407.4L505.4 408.8M505.4 408.8L502.1 404.5M502.1 404.5L502.7 402.8M502.7 402.8L502.1 402.1M502.1 402.1L503.5 405.0M503.5 405.0L503.3 405.1M503.3 405.1L502.3 404.6M502.3 404.6L502.1 405.1M502.1 405.1L502.1 404.2M502.1 404.2L504.2 404.8M504.2 404.8L504.4 406.7"/><path stroke="#85e544" d="M504.4 406.7L500.7 402.8M500.7 402.8L502.1 402.8M502.1 402.8L500.8 402.9M500.8 402.9L500.2 401.4M500.2 401.4L499.3 401.7M499.3 401.7L498.9 398.8M498.9 398.8L499.9 401.5M499.9 401.5L496.2 401.1M496.2 401.1L497.1 403.0M497.1 403.0L497.7 405.1M497.7 405.1L498.3 402.3M498.3 402.3L497.6 403.6M497.6 403.6L497.5 404.3"/><path stroke="#aae235" d="M497.5 404.3L500.1 404.2M500.1 404.2L501.6 402.9M501.6 402.9L500.9 401.5M500.9 401.5L499.6 399.1M499.6 399.1L499.3 398.7M499.3 398.7L497.8 400.3M497.8 400.3L500.2 400.3M500.2 400.3L503.0 402.3M503.0 402.3L504.1 400.8M504.1 400.8L500.6 401.8M500.6 401.8L502.0 402.5M502.0 402.5L502.9 403.6"/><path stroke="#d0df2e" d="M502.9 403.6L502.4 403.2M502.4 403.2L501.3 398.2M501.3 398.2L501.7 401.7M501.7 401.7L500.0 402.6M500.0 402.6L500.9 400.7M500.9 400.7L502.6 400.7M502.6 400.7L502.0 400.5M502.0 400.5L504.1 401.5M504.1 401.5L503.4 403.1M503.4 403.1L507.4 405.2M507.4 405.2L504.4 402.6M504.4 402.6L502.2 401.6M502.2 401.6L505.0 398.6"/><path stroke="#f0d727" d="M505.0 398.6L503.2 399.1M503.2 399.1L506.0 397.8M506.0 397.8L506.1 394.3M506.1 394.3L505.5 396.7M505.5 396.7L506.8 400.2M506.8 400.2L505.5 395.8M505.5 395.8L507.5 396.1M507.5 396.1L508.4 398.3M508.4 398.3L509.5 400.5M509.5 400.5L511.4 396.6M511.4 396.6L510.2 400.5M510.2 400.5L509.1 401.0"/><path stroke="#f3bc24" d="M509.1 401.0L509.1 399.2M509.1 399.2L511.9 400.8M511.9 400.8L510.4 401.5M510.4 401.5L508.0 399.4M508.0 399.4L510.4 399.7M510.4 399.7L508.5 400.6M508.5 400.6L509.9 402.5M509.9 402.5L511.6 401.2M511.6 401.2L510.3 400.8M510.3 400.8L510.1 403.3M510.1 403.3L512.9 404.6M512.9 404.6L512.5 402.8M512.5 402.8L513.2 401.8"/><path stroke="#f6a221" d="M513.2 401.8L512.5 399.4M512.5 399.4L511.2 403.3M511.2 403.3L509.7 400.6M509.7 400.6L510.3 404.5M510.3 404.5L513.3 403.4M513.3 403.4L511.8 403.3M511.8 403.3L510.4 403.7M510.4 403.7L510.8 401.5M510.8 401.5L510.6 402.6M510.6 402.6L510.1 401.8M510.1 401.8L512.7 406.4M512.7 406.4L512.2 405.2"/><path stroke="#f9871e" d="M512.2 405.2L513.3 405.0M513.3 405.0L511.8 407.6M511.8 407.6L510.8 405.7M510.8 405.7L510.9 404.6M510.9 404.6L511.7 406.5M511.7 406.5L514.9 407.7M514.9 407.7L514.3 405.4M514.3 405.4L513.9 404.9M513.9 404.9L513.7 407.9M513.7 407.9L514.2 407.6M514.2 407.6L512.9 407.9M512.9 407.9L513.9 406.5"/><path stroke="#f16b1b" d="M513.9 406.5L513.5 408.8M513.5 408.8L511.7 407.8M511.7 407.8L511.7 410.6M511.7 410.6L514.6 410.4M514.6 410.4L515.9 409.9M515.9 409.9L516.6 406.7M516.6 406.7L517.0 408.7M517.0 408.7L514.6 410.1M514.6 410.1L516.9 407.0M516.9 407.0L516.4 407.5M516.4 407.5L516.2 408.9M516.2 408.9L515.1 408.7M515.1 408.7L517.0 410.1"/><path stroke="#e75017" d="M517.0 410.1L517.9 409.3M517.9 409.3L519.5 406.2M519.5 406.2L520.8 407.3M520.8 407.3L518.1 407.8M518.1 407.8L516.0 405.4M516.0 405.4L517.5 406.3M517.5 406.3L520.1 406.7M520.1 406.7L518.3 406.7M518.3 406.7L522.3 408.4M522.3 408.4L520.8 407.6M520.8 407.6L519.4 408.7M519.4 408.7L521.2 411.4"/><path stroke="#dc3414" d="M521.2 411.4L523.4 411.4M523.4 411.4L521.8 409.6M521.8 409.6L518.5 408.6M518.5 408.6L521.3 409.2M521.3 409.2L522.8 408.0M522.8 408.0L524.5 410.0M524.5 410.0L524.1 411.3M524.1 411.3L520.4 410.5M520.4 410.5L520.9 413.9M520.9 413.9L522.3 412.0M522.3 412.0L524.9 410.2M524.9 410.2L527.2 410.0M527.2 410.0L526.1 409.6"/><path stroke="#b51e0f" d="M526.1 409.6L527.1 407.4M527.1 407.4L527.5 408.6M527.5 408.6L526.9 408.7M526.9 408.7L527.0 411.0M527.0 411.0L527.7 412.4M527.7 412.4L528.3 414.3M528.3 414.3L527.1 411.8M527.1 411.8L525.2 413.5M525.2 413.5L525.9 414.8M525.9 414.8L527.0 412.1M527.0 412.1L529.1 415.5M529.1 415.5L528.5 412.5"/><path stroke="#8c0a0a" d="M528.5 412.5L527.3 413.8M527.3 413.8L527.3 412.4M527.3 412.4L529.5 412.3M529.5 412.3L529.8 411.3M529.8 411.3L528.9 411.9M528.9 411.9L529.8 412.9"/></g>
<path d="M481.2 430.0 L483.3 430.1 L481.3 426.0 L483.7 428.6 L482.5 428.7 L487.7 428.9 L482.9 427.0 L490.6 422.1 L489.4 425.3 L489.6 428.9 L494.0 422.7 L491.9 428.0 L494.4 428.1 L494.7 425.8 L496.1 427.6 L495.7 426.5 L496.1 423.5 L496.4 428.9 L497.7 426.8 L499.6 426.4 L501.9 423.8 L502.6 423.1 L503.5 420.9 L506.9 421.4 L503.9 416.9 L503.0 418.7 L508.6 415.7 L502.0 418.3 L502.6 417.6 L506.2 414.3 L503.4 414.9 L508.4 412.0 L503.1 411.5 L505.6 410.0 L503.2 408.0 L500.2 407.2 L505.5 405.0 L502.7 402.8 L502.3 404.6 L504.4 406.7 L500.2 401.4 L496.2 401.1 L497.6 403.6 L500.9 401.5 L500.2 400.3 L502.0 402.5 L501.7 401.7 L502.0 400.5 L504.4 402.6 L506.0 397.8 L505.5 395.8 L511.4 396.6 L511.9 400.8 L508.5 400.6 L510.1 403.3 L512.5 399.4 L513.3 403.4 L510.6 402.6 L513.3 405.0 L511.7 406.5 L513.7 407.9 L513.5 408.8 L515.9 409.9 L516.9 407.0 L517.0 410.1 L518.1 407.8 L518.3 406.7 L521.2 411.4 L521.3 409.2 L520.4 410.5 L527.2 410.0 L526.9 408.7 L527.1 411.8 L529.1 415.5 L529.5 412.3" stroke="#222" stroke-width="0.4" fill="none" opacity="0.8"/>
<linearGradient id="gj4" x1="0" y1="0" x2="1" y2="0"><stop offset="0.0" stop-color="rgb(40, 40, 140)"/><stop offset="0.12" stop-color="rgb(40, 60, 220)"/><stop offset="0.3" stop-color="rgb(30, 170, 240)"/><stop offset="0.42" stop-color="rgb(40, 220, 200)"/><stop offset="0.55" stop-color="rgb(140, 230, 60)"/><stop offset="0.66" stop-color="rgb(240, 220, 40)"/><stop offset="0.8" stop-color="rgb(250, 130, 30)"/><stop offset="0.92" stop-color="rgb(220, 50, 20)"/><stop offset="1.0" stop-color="rgb(140, 10, 10)"/></linearGradient>
<rect x="599.30" y="365.10" width="34.80" height="4.40" fill="url(#gj4)" stroke="none" stroke-width="1" />
<text x="596.60" y="369.30" font-size="5.6" text-anchor="end" fill="#222222" font-weight="normal" >15.7 s</text>
<text x="636.20" y="369.30" font-size="5.6" text-anchor="start" fill="#222222" font-weight="normal" >17.5 s</text>
<text x="560.6" y="379.7" font-size="6.4" fill="#222222"><tspan font-style="italic">z</tspan> (nm)</text>
<line x1="575.00" y1="385.10" x2="654.00" y2="374.30" stroke="#c8c8c8" stroke-width="0.45" />
<line x1="575.00" y1="390.50" x2="654.00" y2="379.70" stroke="#c8c8c8" stroke-width="0.45" />
<line x1="575.00" y1="396.30" x2="654.00" y2="385.50" stroke="#c8c8c8" stroke-width="0.45" />
<line x1="575.00" y1="400.50" x2="575.00" y2="385.10" stroke="#c8c8c8" stroke-width="0.45" />
<line x1="601.33" y1="396.90" x2="601.33" y2="381.50" stroke="#c8c8c8" stroke-width="0.45" />
<line x1="627.67" y1="393.30" x2="627.67" y2="377.90" stroke="#c8c8c8" stroke-width="0.45" />
<line x1="654.00" y1="389.70" x2="654.00" y2="374.30" stroke="#c8c8c8" stroke-width="0.45" />
<line x1="654.00" y1="389.70" x2="672.50" y2="446.90" stroke="#c8c8c8" stroke-width="0.35" />
<line x1="654.00" y1="387.77" x2="672.50" y2="444.97" stroke="#c8c8c8" stroke-width="0.35" />
<line x1="654.00" y1="385.85" x2="672.50" y2="443.05" stroke="#c8c8c8" stroke-width="0.35" />
<line x1="654.00" y1="383.92" x2="672.50" y2="441.12" stroke="#c8c8c8" stroke-width="0.35" />
<line x1="654.00" y1="382.00" x2="672.50" y2="439.20" stroke="#c8c8c8" stroke-width="0.35" />
<line x1="654.00" y1="380.07" x2="672.50" y2="437.27" stroke="#c8c8c8" stroke-width="0.35" />
<line x1="654.00" y1="378.15" x2="672.50" y2="435.35" stroke="#c8c8c8" stroke-width="0.35" />
<line x1="654.00" y1="376.22" x2="672.50" y2="433.42" stroke="#c8c8c8" stroke-width="0.35" />
<line x1="654.00" y1="374.30" x2="672.50" y2="431.50" stroke="#c8c8c8" stroke-width="0.35" />
<line x1="575.00" y1="400.50" x2="654.00" y2="389.70" stroke="#c8c8c8" stroke-width="0.45" />
<line x1="580.10" y1="418.33" x2="660.17" y2="408.77" stroke="#c8c8c8" stroke-width="0.45" />
<line x1="585.20" y1="436.17" x2="666.33" y2="427.83" stroke="#c8c8c8" stroke-width="0.45" />
<line x1="590.30" y1="454.00" x2="672.50" y2="446.90" stroke="#c8c8c8" stroke-width="0.45" />
<line x1="575.00" y1="400.50" x2="590.30" y2="454.00" stroke="#c8c8c8" stroke-width="0.45" />
<line x1="601.33" y1="396.90" x2="617.70" y2="451.63" stroke="#c8c8c8" stroke-width="0.45" />
<line x1="627.67" y1="393.30" x2="645.10" y2="449.27" stroke="#c8c8c8" stroke-width="0.45" />
<line x1="654.00" y1="389.70" x2="672.50" y2="446.90" stroke="#c8c8c8" stroke-width="0.45" />
<line x1="575.00" y1="385.10" x2="575.00" y2="400.50" stroke="#333" stroke-width="0.6" />
<line x1="575.00" y1="400.50" x2="590.30" y2="454.00" stroke="#333" stroke-width="0.6" />
<line x1="590.30" y1="454.00" x2="672.50" y2="446.90" stroke="#333" stroke-width="0.6" />
<text x="572.50" y="387.20" font-size="6.0" text-anchor="end" fill="#222222" font-weight="normal" >50</text>
<line x1="573.50" y1="385.10" x2="575.00" y2="385.10" stroke="#333" stroke-width="0.5" />
<text x="572.50" y="392.60" font-size="6.0" text-anchor="end" fill="#222222" font-weight="normal" >25</text>
<line x1="573.50" y1="390.50" x2="575.00" y2="390.50" stroke="#333" stroke-width="0.5" />
<text x="572.50" y="398.40" font-size="6.0" text-anchor="end" fill="#222222" font-weight="normal" >0</text>
<line x1="573.50" y1="396.30" x2="575.00" y2="396.30" stroke="#333" stroke-width="0.5" />
<text x="572.00" y="402.60" font-size="6.0" text-anchor="end" fill="#222222" font-weight="normal" >10</text>
<line x1="573.50" y1="400.50" x2="575.00" y2="400.50" stroke="#333" stroke-width="0.5" />
<text x="577.10" y="420.43" font-size="6.0" text-anchor="end" fill="#222222" font-weight="normal" >9.5</text>
<line x1="578.60" y1="418.33" x2="580.10" y2="418.33" stroke="#333" stroke-width="0.5" />
<text x="582.20" y="438.27" font-size="6.0" text-anchor="end" fill="#222222" font-weight="normal" >9</text>
<line x1="583.70" y1="436.17" x2="585.20" y2="436.17" stroke="#333" stroke-width="0.5" />
<text x="587.30" y="456.10" font-size="6.0" text-anchor="end" fill="#222222" font-weight="normal" >8.5</text>
<line x1="588.80" y1="454.00" x2="590.30" y2="454.00" stroke="#333" stroke-width="0.5" />
<text x="591.30" y="460.80" font-size="6.0" text-anchor="middle" fill="#222222" font-weight="normal" >10</text>
<line x1="590.30" y1="454.00" x2="590.60" y2="455.50" stroke="#333" stroke-width="0.5" />
<text x="618.70" y="458.43" font-size="6.0" text-anchor="middle" fill="#222222" font-weight="normal" >10.5</text>
<line x1="617.70" y1="451.63" x2="618.00" y2="453.13" stroke="#333" stroke-width="0.5" />
<text x="646.10" y="456.07" font-size="6.0" text-anchor="middle" fill="#222222" font-weight="normal" >11</text>
<line x1="645.10" y1="449.27" x2="645.40" y2="450.77" stroke="#333" stroke-width="0.5" />
<text x="673.50" y="453.70" font-size="6.0" text-anchor="middle" fill="#222222" font-weight="normal" >11.5</text>
<line x1="672.50" y1="446.90" x2="672.80" y2="448.40" stroke="#333" stroke-width="0.5" />
<text x="0" y="0" font-size="6.4" fill="#222222" text-anchor="middle" transform="translate(564.0,433.7) rotate(76)"><tspan font-style="italic">y</tspan> (μm)</text>
<text x="0" y="0" font-size="6.4" fill="#222222" text-anchor="middle" transform="translate(638.5,464.1) rotate(-5)"><tspan font-style="italic">x</tspan> (μm)</text>
<g fill="none" stroke-width="0.8" stroke-linecap="round" opacity="0.95"><path stroke="#28288c" d="M632.1 434.7L631.4 434.6M631.4 434.6L633.3 434.4M633.3 434.4L635.3 432.0M635.3 432.0L633.9 430.9M633.9 430.9L631.9 431.0M631.9 431.0L632.5 431.9M632.5 431.9L633.3 435.0"/><path stroke="#282ea7" d="M633.3 435.0L634.3 430.2M634.3 430.2L633.8 429.2M633.8 429.2L632.4 431.6M632.4 431.6L632.2 427.4M632.2 427.4L633.0 427.8M633.0 427.8L631.1 426.8M631.1 426.8L631.0 427.5M631.0 427.5L631.3 427.8M631.3 427.8L635.1 426.4M635.1 426.4L632.5 426.5M632.5 426.5L634.1 425.7M634.1 425.7L635.3 424.2"/><path stroke="#2835c3" d="M635.3 424.2L631.8 425.3M631.8 425.3L630.2 424.8M630.2 424.8L631.3 426.6M631.3 426.6L631.2 425.8M631.2 425.8L633.0 426.3M633.0 426.3L631.3 427.7M631.3 427.7L629.2 426.6M629.2 426.6L630.5 425.6M630.5 425.6L629.0 425.6M629.0 425.6L628.2 423.9M628.2 423.9L626.9 426.0M626.9 426.0L626.9 426.7M626.9 426.7L628.2 424.6"/><path stroke="#273fdc" d="M628.2 424.6L629.2 424.3M629.2 424.3L628.7 421.3M628.7 421.3L628.7 423.4M628.7 423.4L629.6 424.5M629.6 424.5L631.8 424.1M631.8 424.1L633.8 420.7M633.8 420.7L631.5 417.2M631.5 417.2L632.2 419.6M632.2 419.6L634.1 420.0M634.1 420.0L629.3 422.7M629.3 422.7L628.1 419.9M628.1 419.9L629.6 421.4"/><path stroke="#2558e1" d="M629.6 421.4L629.9 421.4M629.9 421.4L628.1 423.8M628.1 423.8L630.2 422.3M630.2 422.3L632.5 421.5M632.5 421.5L633.2 419.3M633.2 419.3L633.2 420.2M633.2 420.2L635.2 419.7M635.2 419.7L634.9 420.1M634.9 420.1L635.6 420.0M635.6 420.0L634.9 418.7M634.9 418.7L636.9 419.3M636.9 419.3L636.3 424.8M636.3 424.8L637.5 423.4"/><path stroke="#2371e5" d="M637.5 423.4L637.2 419.8M637.2 419.8L638.8 419.5M638.8 419.5L638.0 421.3M638.0 421.3L639.4 420.9M639.4 420.9L638.6 423.8M638.6 423.8L639.3 420.3M639.3 420.3L639.8 420.3M639.8 420.3L638.5 421.0M638.5 421.0L638.0 423.4M638.0 423.4L637.6 421.7M637.6 421.7L638.7 419.5M638.7 419.5L638.9 419.1"/><path stroke="#208bea" d="M638.9 419.1L639.0 417.5M639.0 417.5L637.7 415.5M637.7 415.5L635.5 417.0M635.5 417.0L635.8 420.7M635.8 420.7L637.8 417.2M637.8 417.2L634.6 419.5M634.6 419.5L634.7 416.4M634.7 416.4L634.6 415.2M634.6 415.2L632.3 414.2M632.3 414.2L631.9 419.3M631.9 419.3L632.5 418.0M632.5 418.0L636.1 416.7"/><path stroke="#1ea4ef" d="M636.1 416.7L633.5 416.2M633.5 416.2L632.9 415.9M632.9 415.9L634.1 415.6M634.1 415.6L633.1 416.2M633.1 416.2L630.1 414.5M630.1 414.5L629.8 411.5M629.8 411.5L629.5 413.8M629.5 413.8L629.4 414.6M629.4 414.6L629.5 414.6M629.5 414.6L629.8 412.4M629.8 412.4L630.2 412.5M630.2 412.5L629.5 413.2M629.5 413.2L627.6 412.9"/><path stroke="#20b7e4" d="M627.6 412.9L629.2 412.3M629.2 412.3L625.8 414.0M625.8 414.0L626.2 414.6M626.2 414.6L624.3 413.7M624.3 413.7L626.1 412.6M626.1 412.6L626.4 414.8M626.4 414.8L625.6 412.8M625.6 412.8L627.8 413.8M627.8 413.8L626.0 413.5M626.0 413.5L623.1 413.5M623.1 413.5L623.3 412.5M623.3 412.5L623.1 415.2"/><path stroke="#24c9d7" d="M623.1 415.2L623.3 414.4M623.3 414.4L624.2 415.7M624.2 415.7L624.2 413.5M624.2 413.5L619.7 414.9M619.7 414.9L620.3 413.7M620.3 413.7L621.0 412.9M621.0 412.9L619.5 416.1M619.5 416.1L616.9 416.1M616.9 416.1L619.6 417.6M619.6 417.6L619.6 416.2M619.6 416.2L617.5 414.8M617.5 414.8L614.4 413.0M614.4 413.0L616.0 412.9"/><path stroke="#27dac9" d="M616.0 412.9L615.8 414.8M615.8 414.8L613.8 414.0M613.8 414.0L614.5 413.5M614.5 413.5L615.4 416.2M615.4 416.2L613.9 416.5M613.9 416.5L616.9 414.3M616.9 414.3L614.9 411.4M614.9 411.4L613.4 415.1M613.4 415.1L610.4 414.4M610.4 414.4L611.0 416.3M611.0 416.3L612.8 412.1M612.8 412.1L612.1 412.4"/><path stroke="#45de9e" d="M612.1 412.4L612.6 410.6M612.6 410.6L612.4 410.3M612.4 410.3L613.7 411.2M613.7 411.2L614.0 410.0M614.0 410.0L615.2 409.3M615.2 409.3L613.3 409.0M613.3 409.0L613.2 408.9M613.2 408.9L610.7 411.3M610.7 411.3L613.6 412.2M613.6 412.2L613.5 411.7M613.5 411.7L614.5 410.0M614.5 410.0L617.6 408.1M617.6 408.1L617.3 405.1"/><path stroke="#65e271" d="M617.3 405.1L617.4 406.1M617.4 406.1L615.1 405.8M615.1 405.8L612.4 404.9M612.4 404.9L614.8 401.8M614.8 401.8L617.7 405.9M617.7 405.9L616.4 404.0M616.4 404.0L614.8 403.3M614.8 403.3L615.3 408.3M615.3 408.3L615.1 408.5M615.1 408.5L618.9 405.8M618.9 405.8L618.6 406.9M618.6 406.9L617.8 408.3"/><path stroke="#85e544" d="M617.8 408.3L621.6 406.7M621.6 406.7L618.6 406.7M618.6 406.7L618.9 404.5M618.9 404.5L618.1 404.5M618.1 404.5L618.7 406.1M618.7 406.1L617.3 402.8M617.3 402.8L614.7 406.0M614.7 406.0L615.2 403.9M615.2 403.9L619.9 405.0M619.9 405.0L621.7 403.6M621.7 403.6L617.7 402.2M617.7 402.2L617.7 402.9M617.7 402.9L617.1 406.1"/><path stroke="#aae235" d="M617.1 406.1L618.2 402.3M618.2 402.3L617.1 403.1M617.1 403.1L614.5 406.5M614.5 406.5L615.8 407.0M615.8 407.0L613.9 403.2M613.9 403.2L614.9 402.9M614.9 402.9L613.1 403.0M613.1 403.0L613.3 403.6M613.3 403.6L612.6 404.5M612.6 404.5L617.0 406.2M617.0 406.2L613.7 408.6M613.7 408.6L611.9 404.1"/><path stroke="#d0df2e" d="M611.9 404.1L609.4 401.2M609.4 401.2L612.0 401.4M612.0 401.4L609.1 402.5M609.1 402.5L609.4 402.0M609.4 402.0L608.8 403.9M608.8 403.9L610.3 403.4M610.3 403.4L610.8 405.3M610.8 405.3L610.9 405.0M610.9 405.0L608.0 407.4M608.0 407.4L609.2 406.1M609.2 406.1L607.5 407.8M607.5 407.8L610.9 408.2M610.9 408.2L613.3 408.4"/><path stroke="#f0d727" d="M613.3 408.4L610.9 408.9M610.9 408.9L610.7 406.1M610.7 406.1L609.0 409.3M609.0 409.3L605.2 409.3M605.2 409.3L606.9 411.9M606.9 411.9L608.9 410.4M608.9 410.4L610.5 408.0M610.5 408.0L605.5 410.8M605.5 410.8L606.2 408.2M606.2 408.2L607.0 410.2M607.0 410.2L606.6 409.2M606.6 409.2L603.1 406.7"/><path stroke="#f3bc24" d="M603.1 406.7L602.8 408.0M602.8 408.0L602.0 408.0M602.0 408.0L603.7 407.1M603.7 407.1L601.7 411.8M601.7 411.8L600.7 409.9M600.7 409.9L602.7 407.2M602.7 407.2L604.5 406.7M604.5 406.7L601.2 406.5M601.2 406.5L599.2 407.3M599.2 407.3L601.0 408.9M601.0 408.9L602.5 411.1M602.5 411.1L598.8 411.0M598.8 411.0L597.8 410.3"/><path stroke="#f6a221" d="M597.8 410.3L598.3 411.3M598.3 411.3L598.9 407.8M598.9 407.8L598.0 408.8M598.0 408.8L600.6 409.7M600.6 409.7L598.7 410.6M598.7 410.6L598.9 409.2M598.9 409.2L597.3 410.2M597.3 410.2L596.5 410.6M596.5 410.6L595.1 411.4M595.1 411.4L593.0 414.3M593.0 414.3L593.8 410.2M593.8 410.2L594.2 412.5"/><path stroke="#f9871e" d="M594.2 412.5L594.7 411.8M594.7 411.8L591.8 413.9M591.8 413.9L594.3 409.4M594.3 409.4L594.9 412.6M594.9 412.6L596.8 409.3M596.8 409.3L596.3 410.4M596.3 410.4L600.5 410.9M600.5 410.9L600.6 410.1M600.6 410.1L599.8 408.6M599.8 408.6L597.3 407.1M597.3 407.1L597.4 410.6M597.4 410.6L598.5 412.1"/><path stroke="#f16b1b" d="M598.5 412.1L600.6 411.1M600.6 411.1L599.7 413.8M599.7 413.8L602.1 413.5M602.1 413.5L605.7 413.8M605.7 413.8L604.0 412.0M604.0 412.0L603.8 414.0M603.8 414.0L601.4 408.4M601.4 408.4L601.2 408.5M601.2 408.5L601.1 409.9M601.1 409.9L603.2 409.0M603.2 409.0L603.5 411.6M603.5 411.6L607.0 412.6M607.0 412.6L605.1 412.1"/><path stroke="#e75017" d="M605.1 412.1L603.0 406.9M603.0 406.9L606.8 408.6M606.8 408.6L607.2 410.2M607.2 410.2L609.2 409.1M609.2 409.1L608.1 409.0M608.1 409.0L608.7 408.2M608.7 408.2L605.6 411.5M605.6 411.5L605.2 408.0M605.2 408.0L607.3 407.1M607.3 407.1L608.5 410.5M608.5 410.5L610.6 407.5M610.6 407.5L610.1 406.6"/><path stroke="#dc3414" d="M610.1 406.6L611.6 404.7M611.6 404.7L608.9 402.4M608.9 402.4L610.1 404.5M610.1 404.5L611.2 406.3M611.2 406.3L608.8 405.1M608.8 405.1L608.0 407.0M608.0 407.0L610.9 403.5M610.9 403.5L612.0 404.3M612.0 404.3L612.1 405.5M612.1 405.5L611.1 404.4M611.1 404.4L610.7 403.2M610.7 403.2L610.1 405.4M610.1 405.4L612.6 404.2"/><path stroke="#b51e0f" d="M612.6 404.2L610.4 407.6M610.4 407.6L612.2 405.9M612.2 405.9L614.2 407.3M614.2 407.3L613.9 401.5M613.9 401.5L613.9 402.2M613.9 402.2L613.6 404.9M613.6 404.9L613.9 404.3M613.9 404.3L613.6 404.6M613.6 404.6L613.8 404.8M613.8 404.8L615.5 403.8M615.5 403.8L616.7 400.3M616.7 400.3L616.3 401.5"/><path stroke="#8c0a0a" d="M616.3 401.5L616.4 403.5M616.4 403.5L618.6 401.4M618.6 401.4L620.4 401.0M620.4 401.0L620.4 403.1M620.4 403.1L618.0 400.8M618.0 400.8L618.6 400.5"/></g>
<path d="M632.1 434.7 L633.9 430.9 L634.3 430.2 L633.0 427.8 L635.1 426.4 L631.8 425.3 L633.0 426.3 L629.0 425.6 L628.2 424.6 L629.6 424.5 L632.2 419.6 L629.6 421.4 L632.5 421.5 L634.9 420.1 L636.3 424.8 L638.0 421.3 L639.8 420.3 L638.7 419.5 L635.5 417.0 L634.7 416.4 L632.5 418.0 L634.1 415.6 L629.5 413.8 L630.2 412.5 L625.8 414.0 L626.4 414.8 L623.1 413.5 L624.2 415.7 L621.0 412.9 L619.6 416.2 L615.8 414.8 L613.9 416.5 L610.4 414.4 L612.6 410.6 L615.2 409.3 L613.6 412.2 L617.3 405.1 L614.8 401.8 L615.3 408.3 L617.8 408.3 L618.1 404.5 L615.2 403.9 L617.7 402.9 L614.5 406.5 L613.1 403.0 L613.7 408.6 L609.1 402.5 L610.8 405.3 L607.5 407.8 L610.7 406.1 L608.9 410.4 L607.0 410.2 L602.0 408.0 L602.7 407.2 L601.0 408.9 L598.3 411.3 L598.7 410.6 L595.1 411.4 L594.7 411.8 L596.8 409.3 L599.8 408.6 L600.6 411.1 L604.0 412.0 L601.1 409.9 L605.1 412.1 L609.2 409.1 L605.2 408.0 L610.1 406.6 L611.2 406.3 L612.0 404.3 L610.1 405.4 L614.2 407.3 L613.9 404.3 L616.7 400.3 L620.4 401.0" stroke="#222" stroke-width="0.4" fill="none" opacity="0.8"/>
</svg></body></html>
